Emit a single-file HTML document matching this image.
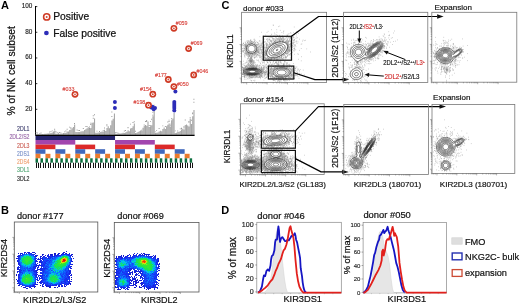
<!DOCTYPE html>
<html><head><meta charset="utf-8"><style>
html,body{margin:0;padding:0;background:#fff;}
body{width:520px;height:304px;overflow:hidden;}
svg{display:block;}
text{font-family:'Liberation Sans', Arial, sans-serif;}
</style></head><body>
<svg width="520" height="304" viewBox="0 0 520 304">
<rect width="520" height="304" fill="#fff"/>
<text x="1" y="9.2" font-size="11" fill="#000" text-anchor="start" font-weight="bold" >A</text>
<line x1="35.5" y1="6" x2="35.5" y2="135.5" stroke="#000" stroke-width="1" />
<line x1="35.5" y1="6.6" x2="37.3" y2="6.6" stroke="#000" stroke-width="0.8" />
<text x="32.3" y="7.9" font-size="6.4" fill="#222" text-anchor="end" font-weight="normal" stroke="#222" stroke-width="0.14" >100</text>
<line x1="35.5" y1="32.28" x2="37.3" y2="32.28" stroke="#000" stroke-width="0.8" />
<text x="32.3" y="33.58" font-size="6.4" fill="#222" text-anchor="end" font-weight="normal" stroke="#222" stroke-width="0.14" >80</text>
<line x1="35.5" y1="57.96" x2="37.3" y2="57.96" stroke="#000" stroke-width="0.8" />
<text x="32.3" y="59.26" font-size="6.4" fill="#222" text-anchor="end" font-weight="normal" stroke="#222" stroke-width="0.14" >60</text>
<line x1="35.5" y1="83.64" x2="37.3" y2="83.64" stroke="#000" stroke-width="0.8" />
<text x="32.3" y="84.94" font-size="6.4" fill="#222" text-anchor="end" font-weight="normal" stroke="#222" stroke-width="0.14" >40</text>
<line x1="35.5" y1="109.32" x2="37.3" y2="109.32" stroke="#000" stroke-width="0.8" />
<text x="32.3" y="110.62" font-size="6.4" fill="#222" text-anchor="end" font-weight="normal" stroke="#222" stroke-width="0.14" >20</text>
<text x="0" y="0" font-size="10.3" fill="#111" stroke="#111" stroke-width="0.23" text-anchor="middle" dominant-baseline="central" transform="translate(11.3,70.9) rotate(-90)">% of NK cell subset</text>
<path d="M35.58 134.3h1.08v0.6h-1.08zM36.82 134.3h1.08v0.6h-1.08zM38.07 134.28h1.08v0.62h-1.08zM39.31 134.27h1.08v0.63h-1.08zM40.55 134.23h1.08v0.67h-1.08zM41.79 134.09h1.08v0.81h-1.08zM43.04 134.15h1.08v0.75h-1.08zM44.28 133.82h1.08v1.08h-1.08zM45.52 133.63h1.08v1.27h-1.08zM46.77 133.6h1.08v1.3h-1.08zM48.01 133.51h1.08v1.39h-1.08zM49.25 133.31h1.08v1.59h-1.08zM50.5 133.09h1.08v1.81h-1.08zM51.74 132.51h1.08v2.39h-1.08zM52.98 131.53h1.08v3.38h-1.08zM54.22 130.4h1.08v4.5h-1.08zM55.47 133.7h1.08v1.2h-1.08zM56.71 133.7h1.08v1.2h-1.08zM57.95 133.66h1.08v1.24h-1.08zM59.2 133.63h1.08v1.27h-1.08zM60.44 133.51h1.08v1.39h-1.08zM61.68 133.48h1.08v1.42h-1.08zM62.93 132.93h1.08v1.97h-1.08zM64.17 133.07h1.08v1.83h-1.08zM65.41 132.68h1.08v2.22h-1.08zM66.65 131.41h1.08v3.49h-1.08zM67.9 131.41h1.08v3.49h-1.08zM69.14 129.93h1.08v4.97h-1.08zM70.38 129.62h1.08v5.28h-1.08zM71.63 128.28h1.08v6.62h-1.08zM72.87 127.03h1.08v7.88h-1.08zM74.11 124.4h1.08v10.5h-1.08zM75.36 132.1h1.08v2.8h-1.08zM76.6 132.09h1.08v2.81h-1.08zM77.84 132.01h1.08v2.89h-1.08zM79.08 131.93h1.08v2.97h-1.08zM80.33 131.57h1.08v3.33h-1.08zM81.57 131.32h1.08v3.58h-1.08zM82.81 131.37h1.08v3.53h-1.08zM84.06 130.1h1.08v4.8h-1.08zM85.3 129.17h1.08v5.73h-1.08zM86.54 128.31h1.08v6.59h-1.08zM87.78 128.26h1.08v6.64h-1.08zM89.03 128.93h1.08v5.97h-1.08zM90.27 127.97h1.08v6.93h-1.08zM91.51 122.8h1.08v12.1h-1.08zM92.76 122.53h1.08v12.38h-1.08zM94 118.4h1.08v16.5h-1.08zM95.24 132.7h1.08v2.2h-1.08zM96.49 132.68h1.08v2.22h-1.08zM97.73 132.61h1.08v2.29h-1.08zM98.97 132.41h1.08v2.49h-1.08zM100.21 132.01h1.08v2.89h-1.08zM101.46 131.39h1.08v3.51h-1.08zM102.7 131.65h1.08v3.25h-1.08zM103.94 129.73h1.08v5.17h-1.08zM105.19 130.98h1.08v3.92h-1.08zM106.43 127.88h1.08v7.02h-1.08zM107.67 126.24h1.08v8.66h-1.08zM108.92 128.28h1.08v6.62h-1.08zM110.16 125.34h1.08v9.56h-1.08zM111.4 120.53h1.08v14.37h-1.08zM112.64 118.78h1.08v16.12h-1.08zM113.89 113.4h1.08v21.5h-1.08zM115.13 133.7h1.08v1.2h-1.08zM116.37 133.69h1.08v1.21h-1.08zM117.62 133.66h1.08v1.24h-1.08zM118.86 133.6h1.08v1.3h-1.08zM120.1 133.39h1.08v1.51h-1.08zM121.34 133.32h1.08v1.58h-1.08zM122.59 132.79h1.08v2.11h-1.08zM123.83 133.07h1.08v1.83h-1.08zM125.07 132.38h1.08v2.52h-1.08zM126.32 131.76h1.08v3.14h-1.08zM127.56 130.22h1.08v4.68h-1.08zM128.8 131.17h1.08v3.73h-1.08zM130.05 128.61h1.08v6.29h-1.08zM131.29 127.98h1.08v6.92h-1.08zM132.53 126.28h1.08v8.62h-1.08zM133.77 123.4h1.08v11.5h-1.08zM135.02 132.9h1.08v2h-1.08zM136.26 132.7h1.08v2.2h-1.08zM137.5 132.11h1.08v2.79h-1.08zM138.75 131.34h1.08v3.56h-1.08zM139.99 130.57h1.08v4.33h-1.08zM141.23 131.04h1.08v3.86h-1.08zM142.48 127.87h1.08v7.03h-1.08zM143.72 126.91h1.08v7.99h-1.08zM144.96 125.1h1.08v9.8h-1.08zM146.2 125.65h1.08v9.25h-1.08zM147.45 121.49h1.08v13.41h-1.08zM148.69 126.91h1.08v7.99h-1.08zM149.93 126.17h1.08v8.73h-1.08zM151.18 125.36h1.08v9.54h-1.08zM152.42 116.15h1.08v18.75h-1.08zM153.66 109.9h1.08v25h-1.08zM154.91 132.9h1.08v2h-1.08zM156.15 132.67h1.08v2.23h-1.08zM157.39 132.43h1.08v2.47h-1.08zM158.63 131.5h1.08v3.4h-1.08zM159.88 130.78h1.08v4.12h-1.08zM161.12 131.25h1.08v3.65h-1.08zM162.36 128.93h1.08v5.97h-1.08zM163.61 127.41h1.08v7.49h-1.08zM164.85 129.11h1.08v5.79h-1.08zM166.09 126.33h1.08v8.57h-1.08zM167.33 124.71h1.08v10.19h-1.08zM168.58 123.58h1.08v11.32h-1.08zM169.82 126.49h1.08v8.41h-1.08zM171.06 120.23h1.08v14.67h-1.08zM172.31 118.4h1.08v16.5h-1.08zM173.55 112.9h1.08v22h-1.08zM174.79 133.1h1.08v1.8h-1.08zM176.04 132.77h1.08v2.13h-1.08zM177.28 132.1h1.08v2.8h-1.08zM178.52 131.81h1.08v3.09h-1.08zM179.76 131.1h1.08v3.8h-1.08zM181.01 130.12h1.08v4.78h-1.08zM182.25 128.76h1.08v6.14h-1.08zM183.49 129.52h1.08v5.38h-1.08zM184.74 124.91h1.08v9.99h-1.08zM185.98 124.62h1.08v10.28h-1.08zM187.22 125.47h1.08v9.43h-1.08zM188.47 126.39h1.08v8.51h-1.08zM189.71 118.54h1.08v16.36h-1.08zM190.95 124.01h1.08v10.89h-1.08zM192.19 116.15h1.08v18.75h-1.08zM193.44 109.9h1.08v25h-1.08z" fill="#a6a6a6"/>
<path d="M35.6 132.31h.9v.9h-.9zM36.84 132.56h.9v.9h-.9zM39.33 133.14h.9v.9h-.9zM40.57 132.49h.9v.9h-.9zM49.27 131.58h.9v.9h-.9zM50.52 130.97h.9v.9h-.9zM51.76 130.47h.9v.9h-.9zM54.24 128.75h.9v.9h-.9zM55.49 131.33h.9v.9h-.9zM56.73 132.24h.9v.9h-.9zM57.97 132.75h.9v.9h-.9zM59.22 132.11h.9v.9h-.9zM60.46 132.43h.9v.9h-.9zM64.19 131.47h.9v.9h-.9zM65.43 130.52h.9v.9h-.9zM66.67 128.83h.9v.9h-.9zM69.16 126.64h.9v.9h-.9zM70.4 127.13h.9v.9h-.9zM70.4 127.9h.9v.9h-.9zM74.13 122.98h.9v.9h-.9zM76.62 129.62h.9v.9h-.9zM77.86 130.22h.9v.9h-.9zM79.1 130.03h.9v.9h-.9zM82.83 127.98h.9v.9h-.9zM85.32 126.14h.9v.9h-.9zM86.56 126.06h.9v.9h-.9zM87.8 127.35h.9v.9h-.9zM89.05 126.57h.9v.9h-.9zM89.05 128h.9v.9h-.9zM90.29 122.65h.9v.9h-.9zM90.29 124.1h.9v.9h-.9zM92.78 117.86h.9v.9h-.9zM92.78 115.28h.9v.9h-.9zM94.02 114.35h.9v.9h-.9zM96.51 130.69h.9v.9h-.9zM98.99 131.06h.9v.9h-.9zM102.72 130.34h.9v.9h-.9zM103.96 127.61h.9v.9h-.9zM106.45 124.37h.9v.9h-.9zM106.45 125.47h.9v.9h-.9zM111.42 116h.9v.9h-.9zM111.42 111.51h.9v.9h-.9zM113.91 106.37h.9v.9h-.9zM115.15 132.3h.9v.9h-.9zM116.39 132.17h.9v.9h-.9zM117.64 132.77h.9v.9h-.9zM123.85 130.5h.9v.9h-.9zM125.09 130.09h.9v.9h-.9zM127.58 127.31h.9v.9h-.9zM127.58 127.08h.9v.9h-.9zM130.07 123.63h.9v.9h-.9zM132.55 122.01h.9v.9h-.9zM132.55 121.97h.9v.9h-.9zM133.79 121.32h.9v.9h-.9zM135.04 130.85h.9v.9h-.9zM141.25 129.73h.9v.9h-.9zM143.74 126h.9v.9h-.9zM143.74 124.5h.9v.9h-.9zM144.98 121.02h.9v.9h-.9zM146.22 120.12h.9v.9h-.9zM146.22 121.01h.9v.9h-.9zM148.71 125.11h.9v.9h-.9zM149.95 125.15h.9v.9h-.9zM149.95 120.91h.9v.9h-.9zM151.2 118.83h.9v.9h-.9zM152.44 114.81h.9v.9h-.9zM152.44 111.77h.9v.9h-.9zM153.68 104.74h.9v.9h-.9zM153.68 107.56h.9v.9h-.9zM154.92 131.38h.9v.9h-.9zM156.17 130.2h.9v.9h-.9zM158.65 128.11h.9v.9h-.9zM162.38 125.41h.9v.9h-.9zM164.87 126h.9v.9h-.9zM167.35 121.52h.9v.9h-.9zM168.6 121.04h.9v.9h-.9zM168.6 119.65h.9v.9h-.9zM169.84 125.15h.9v.9h-.9zM169.84 123.64h.9v.9h-.9zM171.08 118.28h.9v.9h-.9zM173.57 101.97h.9v.9h-.9zM174.81 130.4h.9v.9h-.9zM177.3 130.5h.9v.9h-.9zM179.78 128.38h.9v.9h-.9zM181.03 128.65h.9v.9h-.9zM181.03 127.76h.9v.9h-.9zM183.51 127.26h.9v.9h-.9zM183.51 125.95h.9v.9h-.9zM184.76 119.6h.9v.9h-.9zM188.49 121.08h.9v.9h-.9zM188.49 121.91h.9v.9h-.9zM189.73 117.13h.9v.9h-.9zM190.97 119.76h.9v.9h-.9zM192.21 113.33h.9v.9h-.9zM192.21 112.53h.9v.9h-.9zM193.46 101.76h.9v.9h-.9zM193.46 98.85h.9v.9h-.9z" fill="#909090"/>
<rect x="35.5" y="135.3" width="79.55" height="4.7" fill="#25256e" stroke="none" stroke-width="1" />
<rect x="35.5" y="140" width="39.77" height="4.6" fill="#a245ae" stroke="none" stroke-width="1" />
<rect x="115.05" y="140" width="39.77" height="4.6" fill="#a245ae" stroke="none" stroke-width="1" />
<rect x="35.5" y="144.6" width="19.89" height="4.6" fill="#dc2a2a" stroke="none" stroke-width="1" />
<rect x="75.28" y="144.6" width="19.89" height="4.6" fill="#dc2a2a" stroke="none" stroke-width="1" />
<rect x="115.05" y="144.6" width="19.89" height="4.6" fill="#dc2a2a" stroke="none" stroke-width="1" />
<rect x="154.82" y="144.6" width="19.89" height="4.6" fill="#dc2a2a" stroke="none" stroke-width="1" />
<rect x="35.5" y="149.2" width="9.94" height="4.6" fill="#4068bc" stroke="none" stroke-width="1" />
<rect x="55.39" y="149.2" width="9.94" height="4.6" fill="#4068bc" stroke="none" stroke-width="1" />
<rect x="75.28" y="149.2" width="9.94" height="4.6" fill="#4068bc" stroke="none" stroke-width="1" />
<rect x="95.16" y="149.2" width="9.94" height="4.6" fill="#4068bc" stroke="none" stroke-width="1" />
<rect x="115.05" y="149.2" width="9.94" height="4.6" fill="#4068bc" stroke="none" stroke-width="1" />
<rect x="134.94" y="149.2" width="9.94" height="4.6" fill="#4068bc" stroke="none" stroke-width="1" />
<rect x="154.82" y="149.2" width="9.94" height="4.6" fill="#4068bc" stroke="none" stroke-width="1" />
<rect x="174.71" y="149.2" width="9.94" height="4.6" fill="#4068bc" stroke="none" stroke-width="1" />
<rect x="35.5" y="153.8" width="4.97" height="4.5" fill="#ea7a2e" stroke="none" stroke-width="1" />
<rect x="45.44" y="153.8" width="4.97" height="4.5" fill="#ea7a2e" stroke="none" stroke-width="1" />
<rect x="55.39" y="153.8" width="4.97" height="4.5" fill="#ea7a2e" stroke="none" stroke-width="1" />
<rect x="65.33" y="153.8" width="4.97" height="4.5" fill="#ea7a2e" stroke="none" stroke-width="1" />
<rect x="75.28" y="153.8" width="4.97" height="4.5" fill="#ea7a2e" stroke="none" stroke-width="1" />
<rect x="85.22" y="153.8" width="4.97" height="4.5" fill="#ea7a2e" stroke="none" stroke-width="1" />
<rect x="95.16" y="153.8" width="4.97" height="4.5" fill="#ea7a2e" stroke="none" stroke-width="1" />
<rect x="105.11" y="153.8" width="4.97" height="4.5" fill="#ea7a2e" stroke="none" stroke-width="1" />
<rect x="115.05" y="153.8" width="4.97" height="4.5" fill="#ea7a2e" stroke="none" stroke-width="1" />
<rect x="124.99" y="153.8" width="4.97" height="4.5" fill="#ea7a2e" stroke="none" stroke-width="1" />
<rect x="134.94" y="153.8" width="4.97" height="4.5" fill="#ea7a2e" stroke="none" stroke-width="1" />
<rect x="144.88" y="153.8" width="4.97" height="4.5" fill="#ea7a2e" stroke="none" stroke-width="1" />
<rect x="154.82" y="153.8" width="4.97" height="4.5" fill="#ea7a2e" stroke="none" stroke-width="1" />
<rect x="164.77" y="153.8" width="4.97" height="4.5" fill="#ea7a2e" stroke="none" stroke-width="1" />
<rect x="174.71" y="153.8" width="4.97" height="4.5" fill="#ea7a2e" stroke="none" stroke-width="1" />
<rect x="184.66" y="153.8" width="4.97" height="4.5" fill="#ea7a2e" stroke="none" stroke-width="1" />
<rect x="35.5" y="158.3" width="2.49" height="4.4" fill="#0e7040" stroke="none" stroke-width="1" />
<rect x="40.47" y="158.3" width="2.49" height="4.4" fill="#0e7040" stroke="none" stroke-width="1" />
<rect x="45.44" y="158.3" width="2.49" height="4.4" fill="#0e7040" stroke="none" stroke-width="1" />
<rect x="50.42" y="158.3" width="2.49" height="4.4" fill="#0e7040" stroke="none" stroke-width="1" />
<rect x="55.39" y="158.3" width="2.49" height="4.4" fill="#0e7040" stroke="none" stroke-width="1" />
<rect x="60.36" y="158.3" width="2.49" height="4.4" fill="#0e7040" stroke="none" stroke-width="1" />
<rect x="65.33" y="158.3" width="2.49" height="4.4" fill="#0e7040" stroke="none" stroke-width="1" />
<rect x="70.3" y="158.3" width="2.49" height="4.4" fill="#0e7040" stroke="none" stroke-width="1" />
<rect x="75.28" y="158.3" width="2.49" height="4.4" fill="#0e7040" stroke="none" stroke-width="1" />
<rect x="80.25" y="158.3" width="2.49" height="4.4" fill="#0e7040" stroke="none" stroke-width="1" />
<rect x="85.22" y="158.3" width="2.49" height="4.4" fill="#0e7040" stroke="none" stroke-width="1" />
<rect x="90.19" y="158.3" width="2.49" height="4.4" fill="#0e7040" stroke="none" stroke-width="1" />
<rect x="95.16" y="158.3" width="2.49" height="4.4" fill="#0e7040" stroke="none" stroke-width="1" />
<rect x="100.13" y="158.3" width="2.49" height="4.4" fill="#0e7040" stroke="none" stroke-width="1" />
<rect x="105.11" y="158.3" width="2.49" height="4.4" fill="#0e7040" stroke="none" stroke-width="1" />
<rect x="110.08" y="158.3" width="2.49" height="4.4" fill="#0e7040" stroke="none" stroke-width="1" />
<rect x="115.05" y="158.3" width="2.49" height="4.4" fill="#0e7040" stroke="none" stroke-width="1" />
<rect x="120.02" y="158.3" width="2.49" height="4.4" fill="#0e7040" stroke="none" stroke-width="1" />
<rect x="124.99" y="158.3" width="2.49" height="4.4" fill="#0e7040" stroke="none" stroke-width="1" />
<rect x="129.97" y="158.3" width="2.49" height="4.4" fill="#0e7040" stroke="none" stroke-width="1" />
<rect x="134.94" y="158.3" width="2.49" height="4.4" fill="#0e7040" stroke="none" stroke-width="1" />
<rect x="139.91" y="158.3" width="2.49" height="4.4" fill="#0e7040" stroke="none" stroke-width="1" />
<rect x="144.88" y="158.3" width="2.49" height="4.4" fill="#0e7040" stroke="none" stroke-width="1" />
<rect x="149.85" y="158.3" width="2.49" height="4.4" fill="#0e7040" stroke="none" stroke-width="1" />
<rect x="154.82" y="158.3" width="2.49" height="4.4" fill="#0e7040" stroke="none" stroke-width="1" />
<rect x="159.8" y="158.3" width="2.49" height="4.4" fill="#0e7040" stroke="none" stroke-width="1" />
<rect x="164.77" y="158.3" width="2.49" height="4.4" fill="#0e7040" stroke="none" stroke-width="1" />
<rect x="169.74" y="158.3" width="2.49" height="4.4" fill="#0e7040" stroke="none" stroke-width="1" />
<rect x="174.71" y="158.3" width="2.49" height="4.4" fill="#0e7040" stroke="none" stroke-width="1" />
<rect x="179.68" y="158.3" width="2.49" height="4.4" fill="#0e7040" stroke="none" stroke-width="1" />
<rect x="184.66" y="158.3" width="2.49" height="4.4" fill="#0e7040" stroke="none" stroke-width="1" />
<rect x="189.63" y="158.3" width="2.49" height="4.4" fill="#0e7040" stroke="none" stroke-width="1" />
<rect x="36" y="162.7" width="1" height="5.3" fill="#111" stroke="none" stroke-width="1" />
<rect x="38" y="162.7" width="1" height="5.3" fill="#111" stroke="none" stroke-width="1" />
<rect x="40" y="162.7" width="1" height="5.3" fill="#111" stroke="none" stroke-width="1" />
<rect x="43" y="162.7" width="1" height="5.3" fill="#111" stroke="none" stroke-width="1" />
<rect x="45" y="162.7" width="1" height="5.3" fill="#111" stroke="none" stroke-width="1" />
<rect x="48" y="162.7" width="1" height="5.3" fill="#111" stroke="none" stroke-width="1" />
<rect x="50" y="162.7" width="1" height="5.3" fill="#111" stroke="none" stroke-width="1" />
<rect x="53" y="162.7" width="1" height="5.3" fill="#111" stroke="none" stroke-width="1" />
<rect x="55" y="162.7" width="1" height="5.3" fill="#111" stroke="none" stroke-width="1" />
<rect x="58" y="162.7" width="1" height="5.3" fill="#111" stroke="none" stroke-width="1" />
<rect x="60" y="162.7" width="1" height="5.3" fill="#111" stroke="none" stroke-width="1" />
<rect x="63" y="162.7" width="1" height="5.3" fill="#111" stroke="none" stroke-width="1" />
<rect x="65" y="162.7" width="1" height="5.3" fill="#111" stroke="none" stroke-width="1" />
<rect x="68" y="162.7" width="1" height="5.3" fill="#111" stroke="none" stroke-width="1" />
<rect x="70" y="162.7" width="1" height="5.3" fill="#111" stroke="none" stroke-width="1" />
<rect x="73" y="162.7" width="1" height="5.3" fill="#111" stroke="none" stroke-width="1" />
<rect x="75" y="162.7" width="1" height="5.3" fill="#111" stroke="none" stroke-width="1" />
<rect x="78" y="162.7" width="1" height="5.3" fill="#111" stroke="none" stroke-width="1" />
<rect x="80" y="162.7" width="1" height="5.3" fill="#111" stroke="none" stroke-width="1" />
<rect x="83" y="162.7" width="1" height="5.3" fill="#111" stroke="none" stroke-width="1" />
<rect x="85" y="162.7" width="1" height="5.3" fill="#111" stroke="none" stroke-width="1" />
<rect x="88" y="162.7" width="1" height="5.3" fill="#111" stroke="none" stroke-width="1" />
<rect x="90" y="162.7" width="1" height="5.3" fill="#111" stroke="none" stroke-width="1" />
<rect x="93" y="162.7" width="1" height="5.3" fill="#111" stroke="none" stroke-width="1" />
<rect x="95" y="162.7" width="1" height="5.3" fill="#111" stroke="none" stroke-width="1" />
<rect x="98" y="162.7" width="1" height="5.3" fill="#111" stroke="none" stroke-width="1" />
<rect x="100" y="162.7" width="1" height="5.3" fill="#111" stroke="none" stroke-width="1" />
<rect x="103" y="162.7" width="1" height="5.3" fill="#111" stroke="none" stroke-width="1" />
<rect x="105" y="162.7" width="1" height="5.3" fill="#111" stroke="none" stroke-width="1" />
<rect x="108" y="162.7" width="1" height="5.3" fill="#111" stroke="none" stroke-width="1" />
<rect x="110" y="162.7" width="1" height="5.3" fill="#111" stroke="none" stroke-width="1" />
<rect x="113" y="162.7" width="1" height="5.3" fill="#111" stroke="none" stroke-width="1" />
<rect x="115" y="162.7" width="1" height="5.3" fill="#111" stroke="none" stroke-width="1" />
<rect x="118" y="162.7" width="1" height="5.3" fill="#111" stroke="none" stroke-width="1" />
<rect x="120" y="162.7" width="1" height="5.3" fill="#111" stroke="none" stroke-width="1" />
<rect x="123" y="162.7" width="1" height="5.3" fill="#111" stroke="none" stroke-width="1" />
<rect x="125" y="162.7" width="1" height="5.3" fill="#111" stroke="none" stroke-width="1" />
<rect x="127" y="162.7" width="1" height="5.3" fill="#111" stroke="none" stroke-width="1" />
<rect x="130" y="162.7" width="1" height="5.3" fill="#111" stroke="none" stroke-width="1" />
<rect x="132" y="162.7" width="1" height="5.3" fill="#111" stroke="none" stroke-width="1" />
<rect x="135" y="162.7" width="1" height="5.3" fill="#111" stroke="none" stroke-width="1" />
<rect x="137" y="162.7" width="1" height="5.3" fill="#111" stroke="none" stroke-width="1" />
<rect x="140" y="162.7" width="1" height="5.3" fill="#111" stroke="none" stroke-width="1" />
<rect x="142" y="162.7" width="1" height="5.3" fill="#111" stroke="none" stroke-width="1" />
<rect x="145" y="162.7" width="1" height="5.3" fill="#111" stroke="none" stroke-width="1" />
<rect x="147" y="162.7" width="1" height="5.3" fill="#111" stroke="none" stroke-width="1" />
<rect x="150" y="162.7" width="1" height="5.3" fill="#111" stroke="none" stroke-width="1" />
<rect x="152" y="162.7" width="1" height="5.3" fill="#111" stroke="none" stroke-width="1" />
<rect x="155" y="162.7" width="1" height="5.3" fill="#111" stroke="none" stroke-width="1" />
<rect x="157" y="162.7" width="1" height="5.3" fill="#111" stroke="none" stroke-width="1" />
<rect x="160" y="162.7" width="1" height="5.3" fill="#111" stroke="none" stroke-width="1" />
<rect x="162" y="162.7" width="1" height="5.3" fill="#111" stroke="none" stroke-width="1" />
<rect x="165" y="162.7" width="1" height="5.3" fill="#111" stroke="none" stroke-width="1" />
<rect x="167" y="162.7" width="1" height="5.3" fill="#111" stroke="none" stroke-width="1" />
<rect x="170" y="162.7" width="1" height="5.3" fill="#111" stroke="none" stroke-width="1" />
<rect x="172" y="162.7" width="1" height="5.3" fill="#111" stroke="none" stroke-width="1" />
<rect x="175" y="162.7" width="1" height="5.3" fill="#111" stroke="none" stroke-width="1" />
<rect x="177" y="162.7" width="1" height="5.3" fill="#111" stroke="none" stroke-width="1" />
<rect x="180" y="162.7" width="1" height="5.3" fill="#111" stroke="none" stroke-width="1" />
<rect x="182" y="162.7" width="1" height="5.3" fill="#111" stroke="none" stroke-width="1" />
<rect x="185" y="162.7" width="1" height="5.3" fill="#111" stroke="none" stroke-width="1" />
<rect x="187" y="162.7" width="1" height="5.3" fill="#111" stroke="none" stroke-width="1" />
<rect x="190" y="162.7" width="1" height="5.3" fill="#111" stroke="none" stroke-width="1" />
<rect x="192" y="162.7" width="1" height="5.3" fill="#111" stroke="none" stroke-width="1" />
<line x1="35.5" y1="135.4" x2="194.6" y2="135.4" stroke="#000" stroke-width="1.3" />
<text x="29.5" y="131.15" font-size="6.3" fill="#404070" text-anchor="end" font-weight="normal" stroke="#404070" stroke-width="0.14" textLength="12.4" lengthAdjust="spacingAndGlyphs">2DL1</text>
<text x="29.5" y="139.35" font-size="6.3" fill="#9a6aaa" text-anchor="end" font-weight="normal" stroke="#9a6aaa" stroke-width="0.14" textLength="20.1" lengthAdjust="spacingAndGlyphs">2DL2/S2</text>
<text x="29.5" y="147.55" font-size="6.3" fill="#cc6258" text-anchor="end" font-weight="normal" stroke="#cc6258" stroke-width="0.14" textLength="12.4" lengthAdjust="spacingAndGlyphs">2DL3</text>
<text x="29.5" y="155.75" font-size="6.3" fill="#7890c8" text-anchor="end" font-weight="normal" stroke="#7890c8" stroke-width="0.14" textLength="12.4" lengthAdjust="spacingAndGlyphs">2DS1</text>
<text x="29.5" y="164.05" font-size="6.3" fill="#eea070" text-anchor="end" font-weight="normal" stroke="#eea070" stroke-width="0.14" textLength="12.4" lengthAdjust="spacingAndGlyphs">2DS4</text>
<text x="29.5" y="172.25" font-size="6.3" fill="#58aa7a" text-anchor="end" font-weight="normal" stroke="#58aa7a" stroke-width="0.14" textLength="12.4" lengthAdjust="spacingAndGlyphs">3DL1</text>
<text x="29.5" y="180.55" font-size="6.3" fill="#2a2a2a" text-anchor="end" font-weight="normal" stroke="#2a2a2a" stroke-width="0.14" textLength="12.4" lengthAdjust="spacingAndGlyphs">3DL2</text>
<circle cx="46.7" cy="16.9" r="3.9" fill="#cf3a24"/>
<circle cx="46.7" cy="16.9" r="2.34" fill="#fff"/>
<circle cx="46.7" cy="16.9" r="1.01" fill="#d64a36"/>
<text x="53.2" y="20.2" font-size="10.3" fill="#111" text-anchor="start" font-weight="normal" stroke="#111" stroke-width="0.23" >Positive</text>
<circle cx="46.4" cy="33.0" r="2.35" fill="#2d2db8"/>
<text x="53.2" y="36.6" font-size="10.3" fill="#111" text-anchor="start" font-weight="normal" stroke="#111" stroke-width="0.23" >False positive</text>
<circle cx="114.9" cy="101.9" r="2.0" fill="#2d2db8"/>
<circle cx="114.9" cy="108.1" r="2.0" fill="#2d2db8"/>
<circle cx="151.3" cy="107.6" r="2.0" fill="#2d2db8"/>
<circle cx="153.7" cy="109.2" r="2.0" fill="#2d2db8"/>
<circle cx="155" cy="108.0" r="2.0" fill="#2d2db8"/>
<circle cx="152.5" cy="106.8" r="2.0" fill="#2d2db8"/>
<circle cx="175.4" cy="91.4" r="2.0" fill="#2d2db8"/>
<circle cx="174.3" cy="102" r="2.0" fill="#2d2db8"/>
<circle cx="174.3" cy="104" r="2.0" fill="#2d2db8"/>
<circle cx="174.3" cy="106" r="2.0" fill="#2d2db8"/>
<circle cx="174.3" cy="108" r="2.0" fill="#2d2db8"/>
<circle cx="174.3" cy="110.6" r="2.0" fill="#2d2db8"/>
<circle cx="75" cy="94.3" r="3.4" fill="#cf3a24"/>
<circle cx="75" cy="94.3" r="1.7" fill="#fff"/>
<circle cx="75" cy="94.3" r="0.88" fill="#d64a36"/>
<text x="62.6" y="91.4" font-size="5.3" fill="#d8403a" text-anchor="start" font-weight="normal" stroke="#d8403a" stroke-width="0.12" >#033</text>
<circle cx="173.9" cy="28.3" r="3.4" fill="#cf3a24"/>
<circle cx="173.9" cy="28.3" r="1.7" fill="#fff"/>
<circle cx="173.9" cy="28.3" r="0.88" fill="#d64a36"/>
<text x="175.7" y="24.9" font-size="5.3" fill="#d8403a" text-anchor="start" font-weight="normal" stroke="#d8403a" stroke-width="0.12" >#059</text>
<circle cx="188.6" cy="48.6" r="3.4" fill="#cf3a24"/>
<circle cx="188.6" cy="48.6" r="1.7" fill="#fff"/>
<circle cx="188.6" cy="48.6" r="0.88" fill="#d64a36"/>
<text x="190.7" y="45.2" font-size="5.3" fill="#d8403a" text-anchor="start" font-weight="normal" stroke="#d8403a" stroke-width="0.12" >#069</text>
<circle cx="193.7" cy="74.9" r="3.4" fill="#cf3a24"/>
<circle cx="193.7" cy="74.9" r="1.7" fill="#fff"/>
<circle cx="193.7" cy="74.9" r="0.88" fill="#d64a36"/>
<text x="196.5" y="73.1" font-size="5.3" fill="#d8403a" text-anchor="start" font-weight="normal" stroke="#d8403a" stroke-width="0.12" >#046</text>
<circle cx="168.3" cy="79.5" r="3.4" fill="#cf3a24"/>
<circle cx="168.3" cy="79.5" r="1.7" fill="#fff"/>
<circle cx="168.3" cy="79.5" r="0.88" fill="#d64a36"/>
<text x="155" y="76.8" font-size="5.3" fill="#d8403a" text-anchor="start" font-weight="normal" stroke="#d8403a" stroke-width="0.12" >#177</text>
<circle cx="173.9" cy="86.6" r="3.4" fill="#cf3a24"/>
<circle cx="173.9" cy="86.6" r="1.7" fill="#fff"/>
<circle cx="173.9" cy="86.6" r="0.88" fill="#d64a36"/>
<text x="176.9" y="86" font-size="5.3" fill="#d8403a" text-anchor="start" font-weight="normal" stroke="#d8403a" stroke-width="0.12" >#050</text>
<circle cx="152.8" cy="94.2" r="3.4" fill="#cf3a24"/>
<circle cx="152.8" cy="94.2" r="1.7" fill="#fff"/>
<circle cx="152.8" cy="94.2" r="0.88" fill="#d64a36"/>
<text x="140" y="91.1" font-size="5.3" fill="#d8403a" text-anchor="start" font-weight="normal" stroke="#d8403a" stroke-width="0.12" >#154</text>
<circle cx="148.5" cy="105.2" r="3.4" fill="#cf3a24"/>
<circle cx="148.5" cy="105.2" r="1.7" fill="#fff"/>
<circle cx="148.5" cy="105.2" r="0.88" fill="#d64a36"/>
<text x="133.5" y="103.6" font-size="5.3" fill="#d8403a" text-anchor="start" font-weight="normal" stroke="#d8403a" stroke-width="0.12" >#198</text>
<text x="1" y="214.2" font-size="11" fill="#000" text-anchor="start" font-weight="bold" >B</text>
<rect x="14.3" y="222" width="83.5" height="70" fill="none" stroke="#555" stroke-width="0.8" />
<path d="M19.31 292v2M14.3 287.8h-2M25.34 292v1.1M14.3 282.74h-1.1M28.87 292v1.1M14.3 279.78h-1.1M31.38 292v1.1M14.3 277.69h-1.1M33.32 292v1.1M14.3 276.06h-1.1M34.9 292v1.1M14.3 274.73h-1.1M36.25 292v1.1M14.3 273.6h-1.1M37.41 292v1.1M14.3 272.63h-1.1M38.43 292v1.1M14.3 271.77h-1.1M39.35 292v2M14.3 271h-2M45.38 292v1.1M14.3 265.94h-1.1M48.91 292v1.1M14.3 262.98h-1.1M51.42 292v1.1M14.3 260.89h-1.1M53.36 292v1.1M14.3 259.26h-1.1M54.94 292v1.1M14.3 257.93h-1.1M56.29 292v1.1M14.3 256.8h-1.1M57.45 292v1.1M14.3 255.83h-1.1M58.47 292v1.1M14.3 254.97h-1.1M59.39 292v2M14.3 254.2h-2M65.42 292v1.1M14.3 249.14h-1.1M68.95 292v1.1M14.3 246.18h-1.1M71.46 292v1.1M14.3 244.09h-1.1M73.4 292v1.1M14.3 242.46h-1.1M74.98 292v1.1M14.3 241.13h-1.1M76.33 292v1.1M14.3 240h-1.1M77.49 292v1.1M14.3 239.03h-1.1M78.51 292v1.1M14.3 238.17h-1.1M79.43 292v2M14.3 237.4h-2M14.3 292v1.1M14.3 292h-1.1M15.97 292v1.1M14.3 290.6h-1.1M17.64 292v1.1M14.3 289.2h-1.1" stroke="#555" stroke-width="0.45" fill="none"/>
<path d="M66 251h1v1h-1zM64 252h1v1h-1zM55 253h1v1h-1z" fill="rgb(20, 24, 198)"/>
<path d="M24 252h1v1h-1zM58 253h1v1h-1zM40 276h1v1h-1z" fill="rgb(22, 32, 213)"/>
<path d="M25 252h1v1h-1zM71 255h1v1h-1zM48 256h1v1h-1zM40 282h1v1h-1zM36 284h1v1h-1zM70 284h1v1h-1zM19 285h1v1h-1zM43 286h1v1h-1zM65 286h1v1h-1zM30 287h1v1h-1z" fill="rgb(22, 32, 212)"/>
<path d="M27 252h1v1h-1zM52 258h1v1h-1zM71 259h1v1h-1zM45 263h1v1h-1zM19 265h1v1h-1zM70 267h1v1h-1zM43 268h1v1h-1zM65 280h1v1h-1zM18 281h1v1h-1zM29 286h1v1h-1z" fill="rgb(24, 46, 239)"/>
<path d="M28 252h1v1h-1zM45 255h1v1h-1zM37 263h1v1h-1zM37 282h1v1h-1zM49 286h1v1h-1zM23 287h1v1h-1z" fill="rgb(22, 33, 214)"/>
<path d="M29 252h1v1h-1zM54 254h1v1h-1zM17 256h1v1h-1zM36 275h1v1h-1zM49 287h1v1h-1z" fill="rgb(21, 27, 203)"/>
<path d="M32 252h1v1h-1zM71 268h1v1h-1zM16 274h1v1h-1z" fill="rgb(21, 27, 204)"/>
<path d="M33 252h1v1h-1zM51 254h1v1h-1z" fill="rgb(21, 27, 202)"/>
<path d="M34 252h1v1h-1z" fill="rgb(21, 26, 202)"/>
<path d="M63 252h1v1h-1zM40 261h1v1h-1zM38 266h1v1h-1zM71 277h1v1h-1zM17 283h1v1h-1zM48 286h1v1h-1z" fill="rgb(21, 28, 205)"/>
<path d="M18 253h1v1h-1zM59 253h1v1h-1zM24 287h1v1h-1zM34 287h1v1h-1z" fill="rgb(20, 25, 200)"/>
<path d="M20 253h1v1h-1zM48 254h1v1h-1zM55 254h1v1h-1zM38 265h1v1h-1zM34 286h1v1h-1z" fill="rgb(22, 35, 217)"/>
<path d="M21 253h1v1h-1zM36 256h1v1h-1z" fill="rgb(21, 28, 206)"/>
<path d="M22 253h1v1h-1zM29 253h1v1h-1zM30 253h1v1h-1zM31 253h1v1h-1zM47 256h1v1h-1zM20 266h1v1h-1zM69 267h1v1h-1zM68 268h1v1h-1zM20 270h1v1h-1zM35 270h1v1h-1zM42 274h1v1h-1zM67 276h1v1h-1zM64 279h1v1h-1zM42 280h1v1h-1zM43 280h1v1h-1zM47 284h1v1h-1zM31 286h1v1h-1z" fill="rgb(24, 49, 244)"/>
<path d="M24 253h1v1h-1zM29 254h1v1h-1zM20 255h1v1h-1zM58 256h1v1h-1zM69 256h1v1h-1zM44 263h1v1h-1zM45 279h1v1h-1zM22 284h1v1h-1z" fill="rgb(22, 62, 246)"/>
<path d="M26 253h1v1h-1zM36 255h1v1h-1zM48 257h1v1h-1zM71 264h1v1h-1zM17 267h1v1h-1zM19 270h1v1h-1zM17 272h1v1h-1zM42 275h1v1h-1zM71 275h1v1h-1zM18 277h1v1h-1zM37 277h1v1h-1zM58 286h1v1h-1z" fill="rgb(22, 36, 220)"/>
<path d="M28 253h1v1h-1zM44 264h1v1h-1zM35 267h1v1h-1zM37 267h1v1h-1zM20 269h1v1h-1zM43 272h1v1h-1zM35 274h1v1h-1zM69 274h1v1h-1zM69 276h1v1h-1zM42 278h1v1h-1zM36 279h1v1h-1zM70 281h1v1h-1zM43 283h1v1h-1zM67 284h1v1h-1z" fill="rgb(23, 43, 233)"/>
<path d="M35 253h1v1h-1zM72 254h1v1h-1zM16 275h1v1h-1zM71 279h1v1h-1zM54 287h1v1h-1z" fill="rgb(20, 20, 190)"/>
<path d="M54 253h1v1h-1z" fill="rgb(20, 20, 191)"/>
<path d="M62 253h1v1h-1zM39 259h1v1h-1zM40 259h1v1h-1zM35 261h1v1h-1zM36 261h1v1h-1zM36 265h1v1h-1zM39 269h1v1h-1zM18 271h1v1h-1zM36 272h1v1h-1zM18 274h1v1h-1zM64 284h1v1h-1zM50 285h1v1h-1zM31 288h1v1h-1z" fill="rgb(22, 37, 222)"/>
<path d="M63 253h1v1h-1zM19 255h1v1h-1zM19 256h1v1h-1zM54 256h1v1h-1zM17 258h1v1h-1zM17 261h1v1h-1zM39 261h1v1h-1zM42 282h1v1h-1zM61 282h1v1h-1zM65 282h1v1h-1zM47 286h1v1h-1z" fill="rgb(23, 39, 225)"/>
<path d="M65 253h1v1h-1zM40 269h1v1h-1zM41 273h1v1h-1zM42 273h1v1h-1zM18 276h1v1h-1zM18 280h1v1h-1zM17 281h1v1h-1z" fill="rgb(23, 42, 230)"/>
<path d="M66 253h1v1h-1zM40 256h1v1h-1zM72 256h1v1h-1zM70 271h1v1h-1zM57 287h1v1h-1z" fill="rgb(21, 31, 210)"/>
<path d="M69 253h1v1h-1zM37 255h1v1h-1zM72 264h1v1h-1zM25 287h1v1h-1z" fill="rgb(22, 34, 216)"/>
<path d="M20 254h1v1h-1zM52 255h1v1h-1zM57 255h1v1h-1zM37 259h1v1h-1zM21 270h1v1h-1zM37 278h1v1h-1zM39 278h1v1h-1zM67 279h1v1h-1zM41 281h1v1h-1zM60 284h1v1h-1zM45 285h1v1h-1zM49 285h1v1h-1zM55 285h1v1h-1zM58 285h1v1h-1z" fill="rgb(23, 40, 227)"/>
<path d="M22 254h1v1h-1zM56 256h1v1h-1zM18 260h1v1h-1zM45 262h1v1h-1zM43 264h1v1h-1zM43 265h1v1h-1zM70 266h1v1h-1zM19 267h1v1h-1zM31 270h1v1h-1zM46 275h1v1h-1zM69 279h1v1h-1zM68 282h1v1h-1zM55 284h1v1h-1zM26 286h1v1h-1z" fill="rgb(24, 46, 238)"/>
<path d="M23 254h1v1h-1zM70 261h1v1h-1zM33 263h1v1h-1zM26 267h1v1h-1zM23 268h1v1h-1zM30 269h1v1h-1zM33 272h1v1h-1zM50 283h1v1h-1zM58 283h1v1h-1z" fill="rgb(15, 94, 251)"/>
<path d="M24 254h1v1h-1zM49 262h1v1h-1zM30 267h1v1h-1zM34 273h1v1h-1zM34 275h1v1h-1zM65 277h1v1h-1zM62 281h1v1h-1zM45 283h1v1h-1z" fill="rgb(20, 70, 247)"/>
<path d="M25 254h1v1h-1zM33 259h1v1h-1zM67 266h1v1h-1zM51 268h1v1h-1zM23 272h1v1h-1z" fill="rgb(8, 128, 252)"/>
<path d="M26 254h1v1h-1zM20 264h1v1h-1zM21 267h1v1h-1zM66 270h1v1h-1zM63 271h1v1h-1zM48 273h1v1h-1zM60 273h1v1h-1zM45 276h1v1h-1zM27 285h1v1h-1z" fill="rgb(18, 80, 249)"/>
<path d="M27 254h1v1h-1zM53 257h1v1h-1zM32 258h1v1h-1zM22 274h1v1h-1z" fill="rgb(6, 151, 247)"/>
<path d="M28 254h1v1h-1zM34 281h1v1h-1zM48 281h1v1h-1zM50 282h1v1h-1zM30 283h1v1h-1z" fill="rgb(7, 142, 249)"/>
<path d="M30 254h1v1h-1zM46 259h1v1h-1zM42 263h1v1h-1zM67 268h1v1h-1zM27 269h1v1h-1zM47 274h1v1h-1zM64 278h1v1h-1zM45 281h1v1h-1zM57 283h1v1h-1zM31 285h1v1h-1z" fill="rgb(18, 78, 249)"/>
<path d="M31 254h1v1h-1zM33 255h1v1h-1zM45 261h1v1h-1zM34 264h1v1h-1zM64 275h1v1h-1zM43 279h1v1h-1z" fill="rgb(22, 61, 246)"/>
<path d="M32 254h1v1h-1zM57 254h1v1h-1zM19 271h1v1h-1zM69 280h1v1h-1zM52 285h1v1h-1z" fill="rgb(23, 41, 230)"/>
<path d="M33 254h1v1h-1zM63 254h1v1h-1zM18 255h1v1h-1zM48 255h1v1h-1zM59 255h1v1h-1zM60 255h1v1h-1zM51 256h1v1h-1zM46 261h1v1h-1zM44 262h1v1h-1zM41 263h1v1h-1zM43 263h1v1h-1zM42 277h1v1h-1zM68 278h1v1h-1zM69 278h1v1h-1zM19 283h1v1h-1z" fill="rgb(24, 47, 240)"/>
<path d="M34 254h1v1h-1zM38 258h1v1h-1zM36 264h1v1h-1zM33 267h1v1h-1zM44 268h1v1h-1zM36 273h1v1h-1zM41 278h1v1h-1zM66 278h1v1h-1zM37 279h1v1h-1zM41 280h1v1h-1zM35 282h1v1h-1zM68 283h1v1h-1zM20 284h1v1h-1zM59 284h1v1h-1zM66 285h1v1h-1z" fill="rgb(23, 42, 231)"/>
<path d="M42 254h1v1h-1zM36 270h1v1h-1zM42 286h1v1h-1z" fill="rgb(20, 24, 197)"/>
<path d="M43 254h1v1h-1zM73 258h1v1h-1zM27 288h1v1h-1z" fill="rgb(21, 30, 208)"/>
<path d="M50 254h1v1h-1zM41 262h1v1h-1zM37 265h1v1h-1zM17 271h1v1h-1zM36 271h1v1h-1zM16 279h1v1h-1zM32 286h1v1h-1z" fill="rgb(21, 29, 207)"/>
<path d="M52 254h1v1h-1zM56 255h1v1h-1zM38 275h1v1h-1zM22 285h1v1h-1z" fill="rgb(23, 40, 226)"/>
<path d="M58 254h1v1h-1zM42 255h1v1h-1zM42 257h1v1h-1zM36 258h1v1h-1zM40 260h1v1h-1zM35 263h1v1h-1zM40 265h1v1h-1zM34 266h1v1h-1zM67 281h1v1h-1zM53 285h1v1h-1zM21 286h1v1h-1zM33 286h1v1h-1z" fill="rgb(23, 41, 229)"/>
<path d="M61 254h1v1h-1zM18 256h1v1h-1zM71 260h1v1h-1zM36 266h1v1h-1zM40 268h1v1h-1zM38 280h1v1h-1zM64 285h1v1h-1zM62 286h1v1h-1zM26 288h1v1h-1z" fill="rgb(22, 33, 215)"/>
<path d="M62 254h1v1h-1zM70 255h1v1h-1zM42 262h1v1h-1zM42 268h1v1h-1zM19 269h1v1h-1zM44 269h1v1h-1zM68 269h1v1h-1zM19 274h1v1h-1zM36 274h1v1h-1zM66 274h1v1h-1zM67 274h1v1h-1zM18 278h1v1h-1zM19 280h1v1h-1zM45 284h1v1h-1zM56 284h1v1h-1zM65 284h1v1h-1zM29 287h1v1h-1z" fill="rgb(24, 44, 234)"/>
<path d="M64 254h1v1h-1zM69 255h1v1h-1zM48 260h1v1h-1zM35 262h1v1h-1zM35 264h1v1h-1zM20 265h1v1h-1zM62 276h1v1h-1zM18 279h1v1h-1zM65 279h1v1h-1zM64 280h1v1h-1zM65 281h1v1h-1zM24 285h1v1h-1z" fill="rgb(24, 49, 243)"/>
<path d="M65 254h1v1h-1zM19 260h1v1h-1zM51 264h1v1h-1zM20 267h1v1h-1zM22 272h1v1h-1zM20 273h1v1h-1zM63 274h1v1h-1zM44 279h1v1h-1z" fill="rgb(20, 69, 247)"/>
<path d="M66 254h1v1h-1zM51 270h1v1h-1zM45 272h1v1h-1zM67 272h1v1h-1zM63 273h1v1h-1zM19 276h1v1h-1zM19 278h1v1h-1zM19 279h1v1h-1zM46 282h1v1h-1z" fill="rgb(22, 63, 246)"/>
<path d="M67 254h1v1h-1zM49 258h1v1h-1zM47 260h1v1h-1zM45 267h1v1h-1zM33 270h1v1h-1zM19 275h1v1h-1zM65 278h1v1h-1zM42 279h1v1h-1zM63 283h1v1h-1zM67 283h1v1h-1zM33 284h1v1h-1zM62 285h1v1h-1zM30 286h1v1h-1z" fill="rgb(24, 48, 241)"/>
<path d="M68 254h1v1h-1zM21 255h1v1h-1zM69 265h1v1h-1zM42 270h1v1h-1zM68 273h1v1h-1zM44 275h1v1h-1zM67 275h1v1h-1zM68 276h1v1h-1zM66 280h1v1h-1zM62 283h1v1h-1zM68 284h1v1h-1zM34 285h1v1h-1z" fill="rgb(24, 45, 237)"/>
<path d="M69 254h1v1h-1zM68 255h1v1h-1zM35 258h1v1h-1zM50 258h1v1h-1zM18 264h1v1h-1zM41 264h1v1h-1zM43 266h1v1h-1zM34 267h1v1h-1zM45 268h1v1h-1zM41 269h1v1h-1zM43 270h1v1h-1zM66 272h1v1h-1zM19 277h1v1h-1zM41 277h1v1h-1zM18 282h1v1h-1zM27 286h1v1h-1zM28 286h1v1h-1z" fill="rgb(24, 45, 236)"/>
<path d="M71 254h1v1h-1zM47 255h1v1h-1zM42 258h1v1h-1zM48 258h1v1h-1zM71 258h1v1h-1zM17 260h1v1h-1zM36 260h1v1h-1zM18 262h1v1h-1zM39 265h1v1h-1zM41 265h1v1h-1zM18 268h1v1h-1zM37 268h1v1h-1zM34 271h1v1h-1zM39 277h1v1h-1zM37 280h1v1h-1z" fill="rgb(23, 38, 224)"/>
<path d="M22 255h1v1h-1zM48 264h1v1h-1zM69 264h1v1h-1zM26 268h1v1h-1zM32 268h1v1h-1zM23 271h1v1h-1zM47 272h1v1h-1zM29 273h1v1h-1zM43 278h1v1h-1z" fill="rgb(17, 84, 249)"/>
<path d="M23 255h1v1h-1zM20 256h1v1h-1zM53 258h1v1h-1zM48 263h1v1h-1zM49 263h1v1h-1zM34 265h1v1h-1zM48 265h1v1h-1zM44 267h1v1h-1zM21 269h1v1h-1zM22 269h1v1h-1zM48 270h1v1h-1zM63 276h1v1h-1z" fill="rgb(16, 89, 250)"/>
<path d="M24 255h1v1h-1zM25 273h1v1h-1zM26 274h1v1h-1z" fill="rgb(0, 199, 235)"/>
<path d="M25 255h1v1h-1zM57 259h1v1h-1zM24 265h1v1h-1z" fill="rgb(3, 204, 207)"/>
<path d="M26 255h1v1h-1zM69 261h1v1h-1zM62 268h1v1h-1z" fill="rgb(0, 196, 235)"/>
<path d="M27 255h1v1h-1zM55 282h1v1h-1z" fill="rgb(0, 192, 236)"/>
<path d="M28 255h1v1h-1zM21 279h1v1h-1z" fill="rgb(1, 201, 227)"/>
<path d="M29 255h1v1h-1zM49 264h1v1h-1zM22 265h1v1h-1zM59 272h1v1h-1zM46 280h1v1h-1z" fill="rgb(8, 129, 252)"/>
<path d="M30 255h1v1h-1zM51 258h1v1h-1zM67 269h1v1h-1zM55 271h1v1h-1zM48 275h1v1h-1z" fill="rgb(10, 115, 254)"/>
<path d="M31 255h1v1h-1zM44 260h1v1h-1zM19 261h1v1h-1zM50 262h1v1h-1zM33 265h1v1h-1zM66 269h1v1h-1zM35 280h1v1h-1z" fill="rgb(16, 90, 250)"/>
<path d="M32 255h1v1h-1zM56 257h1v1h-1zM25 267h1v1h-1zM31 271h1v1h-1zM32 275h1v1h-1z" fill="rgb(13, 105, 252)"/>
<path d="M35 255h1v1h-1zM69 282h1v1h-1zM50 286h1v1h-1z" fill="rgb(22, 34, 215)"/>
<path d="M50 255h1v1h-1zM51 255h1v1h-1zM35 256h1v1h-1zM17 268h1v1h-1zM41 268h1v1h-1zM69 271h1v1h-1zM70 272h1v1h-1zM69 273h1v1h-1zM40 278h1v1h-1zM42 285h1v1h-1zM47 285h1v1h-1zM56 285h1v1h-1z" fill="rgb(22, 35, 218)"/>
<path d="M54 255h1v1h-1zM44 256h1v1h-1zM38 276h1v1h-1zM46 285h1v1h-1z" fill="rgb(22, 37, 221)"/>
<path d="M55 255h1v1h-1zM46 257h1v1h-1zM18 261h1v1h-1zM19 263h1v1h-1zM70 275h1v1h-1z" fill="rgb(23, 41, 228)"/>
<path d="M58 255h1v1h-1zM18 266h1v1h-1zM41 267h1v1h-1zM21 272h1v1h-1zM35 273h1v1h-1zM41 275h1v1h-1zM42 281h1v1h-1zM47 282h1v1h-1zM66 284h1v1h-1z" fill="rgb(23, 57, 246)"/>
<path d="M61 255h1v1h-1zM34 259h1v1h-1zM48 262h1v1h-1zM45 266h1v1h-1zM31 268h1v1h-1zM67 273h1v1h-1zM66 281h1v1h-1zM45 282h1v1h-1zM62 282h1v1h-1z" fill="rgb(19, 73, 248)"/>
<path d="M62 255h1v1h-1zM66 255h1v1h-1zM47 262h1v1h-1z" fill="rgb(14, 97, 251)"/>
<path d="M63 255h1v1h-1zM48 259h1v1h-1zM46 274h1v1h-1zM33 275h1v1h-1zM21 282h1v1h-1zM30 284h1v1h-1z" fill="rgb(8, 135, 251)"/>
<path d="M64 255h1v1h-1zM31 257h1v1h-1zM52 266h1v1h-1zM64 267h1v1h-1z" fill="rgb(1, 184, 238)"/>
<path d="M65 255h1v1h-1zM23 263h1v1h-1z" fill="rgb(5, 206, 197)"/>
<path d="M67 255h1v1h-1zM53 259h1v1h-1zM50 261h1v1h-1zM20 263h1v1h-1zM66 266h1v1h-1zM32 272h1v1h-1zM48 272h1v1h-1zM61 274h1v1h-1zM63 282h1v1h-1zM20 283h1v1h-1z" fill="rgb(14, 98, 251)"/>
<path d="M21 256h1v1h-1zM51 269h1v1h-1zM32 276h1v1h-1zM52 282h1v1h-1z" fill="rgb(2, 179, 240)"/>
<path d="M22 256h1v1h-1zM34 261h1v1h-1zM69 263h1v1h-1zM49 267h1v1h-1zM50 271h1v1h-1zM21 275h1v1h-1zM61 278h1v1h-1zM58 282h1v1h-1zM56 283h1v1h-1z" fill="rgb(11, 113, 254)"/>
<path d="M23 256h1v1h-1zM25 257h1v1h-1zM32 261h1v1h-1zM55 277h1v1h-1z" fill="rgb(15, 219, 121)"/>
<path d="M24 256h1v1h-1z" fill="rgb(9, 211, 165)"/>
<path d="M25 256h1v1h-1zM54 268h1v1h-1z" fill="rgb(5, 206, 196)"/>
<path d="M26 256h1v1h-1zM67 257h1v1h-1zM61 266h1v1h-1z" fill="rgb(25, 226, 83)"/>
<path d="M27 256h1v1h-1zM29 261h1v1h-1zM60 266h1v1h-1z" fill="rgb(27, 226, 81)"/>
<path d="M28 256h1v1h-1zM29 263h1v1h-1zM54 265h1v1h-1zM55 266h1v1h-1zM27 275h1v1h-1zM50 277h1v1h-1zM55 280h1v1h-1z" fill="rgb(22, 225, 86)"/>
<path d="M29 256h1v1h-1z" fill="rgb(11, 214, 151)"/>
<path d="M30 256h1v1h-1zM32 260h1v1h-1zM31 262h1v1h-1zM56 275h1v1h-1zM29 276h1v1h-1zM23 281h1v1h-1z" fill="rgb(20, 225, 89)"/>
<path d="M31 256h1v1h-1zM49 268h1v1h-1z" fill="rgb(4, 167, 243)"/>
<path d="M32 256h1v1h-1zM58 280h1v1h-1z" fill="rgb(5, 155, 246)"/>
<path d="M33 256h1v1h-1zM48 269h1v1h-1zM32 273h1v1h-1z" fill="rgb(11, 110, 253)"/>
<path d="M34 256h1v1h-1zM44 265h1v1h-1zM43 271h1v1h-1zM35 283h1v1h-1zM50 284h1v1h-1z" fill="rgb(24, 47, 241)"/>
<path d="M41 256h1v1h-1zM38 259h1v1h-1zM35 266h1v1h-1zM39 275h1v1h-1zM68 277h1v1h-1zM17 280h1v1h-1zM18 283h1v1h-1zM35 284h1v1h-1zM61 285h1v1h-1zM55 287h1v1h-1z" fill="rgb(23, 38, 223)"/>
<path d="M43 256h1v1h-1zM38 269h1v1h-1zM37 272h1v1h-1zM35 286h1v1h-1z" fill="rgb(21, 30, 209)"/>
<path d="M49 256h1v1h-1zM50 256h1v1h-1zM19 264h1v1h-1zM68 266h1v1h-1zM68 270h1v1h-1zM20 272h1v1h-1z" fill="rgb(24, 44, 235)"/>
<path d="M52 256h1v1h-1zM37 270h1v1h-1zM33 285h1v1h-1zM61 286h1v1h-1z" fill="rgb(22, 36, 219)"/>
<path d="M53 256h1v1h-1zM46 268h1v1h-1zM35 275h1v1h-1zM36 276h1v1h-1zM42 276h1v1h-1zM63 281h1v1h-1zM64 281h1v1h-1zM68 281h1v1h-1zM44 283h1v1h-1zM51 283h1v1h-1zM43 284h1v1h-1zM32 285h1v1h-1z" fill="rgb(24, 47, 239)"/>
<path d="M55 256h1v1h-1zM57 256h1v1h-1zM55 257h1v1h-1zM45 259h1v1h-1zM47 261h1v1h-1zM46 265h1v1h-1zM27 268h1v1h-1zM24 270h1v1h-1zM46 272h1v1h-1zM43 277h1v1h-1zM34 283h1v1h-1z" fill="rgb(19, 76, 248)"/>
<path d="M59 256h1v1h-1zM48 266h1v1h-1zM24 267h1v1h-1zM47 267h1v1h-1zM28 269h1v1h-1zM57 284h1v1h-1z" fill="rgb(13, 103, 252)"/>
<path d="M60 256h1v1h-1zM45 265h1v1h-1zM65 268h1v1h-1zM31 269h1v1h-1zM63 272h1v1h-1zM64 272h1v1h-1zM47 275h1v1h-1zM20 281h1v1h-1z" fill="rgb(17, 85, 250)"/>
<path d="M61 256h1v1h-1zM55 260h1v1h-1zM53 261h1v1h-1z" fill="rgb(1, 189, 237)"/>
<path d="M62 256h1v1h-1zM61 268h1v1h-1zM30 277h1v1h-1zM32 277h1v1h-1z" fill="rgb(14, 217, 133)"/>
<path d="M63 256h1v1h-1zM57 268h1v1h-1z" fill="rgb(21, 225, 88)"/>
<path d="M64 256h1v1h-1zM30 261h1v1h-1zM63 264h1v1h-1z" fill="rgb(38, 229, 66)"/>
<path d="M65 256h1v1h-1zM29 257h1v1h-1zM65 264h1v1h-1zM53 275h1v1h-1zM25 279h1v1h-1z" fill="rgb(30, 227, 76)"/>
<path d="M66 256h1v1h-1zM58 266h1v1h-1zM29 275h1v1h-1z" fill="rgb(25, 226, 82)"/>
<path d="M67 256h1v1h-1zM26 273h1v1h-1z" fill="rgb(9, 211, 169)"/>
<path d="M68 256h1v1h-1zM66 265h1v1h-1z" fill="rgb(2, 203, 217)"/>
<path d="M70 256h1v1h-1zM18 257h1v1h-1zM20 271h1v1h-1z" fill="rgb(24, 45, 235)"/>
<path d="M19 257h1v1h-1zM70 257h1v1h-1zM42 264h1v1h-1zM47 266h1v1h-1zM35 268h1v1h-1zM65 273h1v1h-1zM61 281h1v1h-1zM61 284h1v1h-1zM54 285h1v1h-1z" fill="rgb(22, 60, 246)"/>
<path d="M20 257h1v1h-1zM49 266h1v1h-1zM33 282h1v1h-1zM31 284h1v1h-1z" fill="rgb(10, 117, 254)"/>
<path d="M21 257h1v1h-1zM55 273h1v1h-1zM26 284h1v1h-1z" fill="rgb(4, 162, 244)"/>
<path d="M22 257h1v1h-1zM68 262h1v1h-1zM60 269h1v1h-1zM31 275h1v1h-1zM33 278h1v1h-1zM31 282h1v1h-1z" fill="rgb(0, 193, 236)"/>
<path d="M23 257h1v1h-1zM51 276h1v1h-1z" fill="rgb(15, 219, 122)"/>
<path d="M24 257h1v1h-1zM31 258h1v1h-1zM60 258h1v1h-1zM29 262h1v1h-1zM64 264h1v1h-1zM56 279h1v1h-1zM51 280h1v1h-1zM52 280h1v1h-1zM22 281h1v1h-1zM30 281h1v1h-1z" fill="rgb(28, 227, 79)"/>
<path d="M26 257h1v1h-1z" fill="rgb(45, 231, 58)"/>
<path d="M27 257h1v1h-1zM59 266h1v1h-1z" fill="rgb(32, 228, 73)"/>
<path d="M28 257h1v1h-1zM30 260h1v1h-1zM30 262h1v1h-1zM54 278h1v1h-1zM30 279h1v1h-1z" fill="rgb(31, 227, 75)"/>
<path d="M30 257h1v1h-1z" fill="rgb(19, 223, 96)"/>
<path d="M32 257h1v1h-1zM33 258h1v1h-1zM21 281h1v1h-1z" fill="rgb(3, 175, 241)"/>
<path d="M33 257h1v1h-1zM63 268h1v1h-1zM28 273h1v1h-1z" fill="rgb(2, 180, 239)"/>
<path d="M34 257h1v1h-1zM50 259h1v1h-1zM62 273h1v1h-1zM48 274h1v1h-1zM60 279h1v1h-1zM47 281h1v1h-1z" fill="rgb(12, 110, 253)"/>
<path d="M35 257h1v1h-1zM43 261h1v1h-1zM45 269h1v1h-1zM47 269h1v1h-1zM44 272h1v1h-1zM68 272h1v1h-1zM62 274h1v1h-1zM46 276h1v1h-1zM61 276h1v1h-1z" fill="rgb(19, 75, 248)"/>
<path d="M40 257h1v1h-1zM50 287h1v1h-1z" fill="rgb(22, 33, 213)"/>
<path d="M43 257h1v1h-1zM33 269h1v1h-1zM23 270h1v1h-1zM34 274h1v1h-1zM30 285h1v1h-1z" fill="rgb(24, 50, 245)"/>
<path d="M44 257h1v1h-1zM60 274h1v1h-1zM42 284h1v1h-1z" fill="rgb(21, 65, 247)"/>
<path d="M45 257h1v1h-1zM42 269h1v1h-1zM39 279h1v1h-1zM66 279h1v1h-1zM66 283h1v1h-1z" fill="rgb(24, 46, 237)"/>
<path d="M49 257h1v1h-1zM52 257h1v1h-1zM54 257h1v1h-1zM19 259h1v1h-1zM19 262h1v1h-1zM65 274h1v1h-1zM68 275h1v1h-1zM66 282h1v1h-1zM49 283h1v1h-1z" fill="rgb(20, 72, 248)"/>
<path d="M50 257h1v1h-1zM18 258h1v1h-1zM43 260h1v1h-1zM42 265h1v1h-1zM38 267h1v1h-1zM70 268h1v1h-1zM70 270h1v1h-1zM40 281h1v1h-1zM69 281h1v1h-1zM59 285h1v1h-1z" fill="rgb(23, 39, 226)"/>
<path d="M51 257h1v1h-1zM47 258h1v1h-1zM41 261h1v1h-1zM42 261h1v1h-1zM33 268h1v1h-1zM34 268h1v1h-1zM29 270h1v1h-1zM60 283h1v1h-1zM61 283h1v1h-1z" fill="rgb(23, 55, 245)"/>
<path d="M57 257h1v1h-1zM51 263h1v1h-1zM63 270h1v1h-1z" fill="rgb(9, 126, 253)"/>
<path d="M58 257h1v1h-1zM56 271h1v1h-1zM56 272h1v1h-1zM59 279h1v1h-1z" fill="rgb(0, 194, 236)"/>
<path d="M59 257h1v1h-1zM22 264h1v1h-1zM24 274h1v1h-1zM31 283h1v1h-1z" fill="rgb(2, 203, 215)"/>
<path d="M60 257h1v1h-1zM51 271h1v1h-1z" fill="rgb(3, 204, 211)"/>
<path d="M61 257h1v1h-1zM54 267h1v1h-1z" fill="rgb(9, 212, 163)"/>
<path d="M62 257h1v1h-1zM25 259h1v1h-1zM61 264h1v1h-1zM24 279h1v1h-1z" fill="rgb(45, 231, 57)"/>
<path d="M63 257h1v1h-1zM61 263h1v1h-1zM63 263h1v1h-1z" fill="rgb(55, 233, 45)"/>
<path d="M64 257h1v1h-1z" fill="rgb(184, 239, 20)"/>
<path d="M65 257h1v1h-1zM26 261h1v1h-1zM58 263h1v1h-1zM27 278h1v1h-1zM26 280h1v1h-1zM27 280h1v1h-1z" fill="rgb(56, 234, 44)"/>
<path d="M66 257h1v1h-1zM25 260h1v1h-1zM28 280h1v1h-1z" fill="rgb(52, 233, 49)"/>
<path d="M68 257h1v1h-1zM53 267h1v1h-1zM58 270h1v1h-1zM52 274h1v1h-1z" fill="rgb(1, 188, 237)"/>
<path d="M69 257h1v1h-1zM54 260h1v1h-1zM28 267h1v1h-1zM57 274h1v1h-1zM21 276h1v1h-1zM47 278h1v1h-1zM49 281h1v1h-1z" fill="rgb(2, 178, 240)"/>
<path d="M16 258h1v1h-1z" fill="rgb(21, 28, 204)"/>
<path d="M19 258h1v1h-1zM44 271h1v1h-1zM61 275h1v1h-1zM66 275h1v1h-1zM64 277h1v1h-1z" fill="rgb(22, 59, 246)"/>
<path d="M20 258h1v1h-1zM46 258h1v1h-1zM54 261h1v1h-1zM44 273h1v1h-1zM60 281h1v1h-1z" fill="rgb(14, 100, 252)"/>
<path d="M21 258h1v1h-1zM24 277h1v1h-1z" fill="rgb(15, 219, 123)"/>
<path d="M22 258h1v1h-1z" fill="rgb(16, 220, 117)"/>
<path d="M23 258h1v1h-1zM24 261h1v1h-1zM24 263h1v1h-1zM28 276h1v1h-1zM53 276h1v1h-1zM27 277h1v1h-1zM54 279h1v1h-1z" fill="rgb(30, 227, 77)"/>
<path d="M24 258h1v1h-1zM28 259h1v1h-1zM67 260h1v1h-1zM60 264h1v1h-1z" fill="rgb(43, 230, 60)"/>
<path d="M25 258h1v1h-1zM26 259h1v1h-1zM60 265h1v1h-1zM24 278h1v1h-1z" fill="rgb(41, 230, 62)"/>
<path d="M26 258h1v1h-1zM29 259h1v1h-1zM29 279h1v1h-1zM27 281h1v1h-1z" fill="rgb(46, 231, 57)"/>
<path d="M27 258h1v1h-1zM23 280h1v1h-1z" fill="rgb(36, 229, 68)"/>
<path d="M28 258h1v1h-1zM66 262h1v1h-1zM59 264h1v1h-1zM26 277h1v1h-1zM29 278h1v1h-1z" fill="rgb(48, 232, 54)"/>
<path d="M29 258h1v1h-1zM57 263h1v1h-1z" fill="rgb(40, 230, 63)"/>
<path d="M30 258h1v1h-1zM27 263h1v1h-1zM55 265h1v1h-1zM29 277h1v1h-1zM31 278h1v1h-1zM52 278h1v1h-1zM28 282h1v1h-1zM25 283h1v1h-1z" fill="rgb(27, 226, 80)"/>
<path d="M34 258h1v1h-1zM35 265h1v1h-1zM45 273h1v1h-1zM25 286h1v1h-1z" fill="rgb(21, 66, 247)"/>
<path d="M40 258h1v1h-1zM42 259h1v1h-1zM37 274h1v1h-1zM71 281h1v1h-1zM37 284h1v1h-1z" fill="rgb(21, 31, 211)"/>
<path d="M41 258h1v1h-1zM18 267h1v1h-1z" fill="rgb(22, 36, 221)"/>
<path d="M43 258h1v1h-1zM51 261h1v1h-1zM69 266h1v1h-1zM32 267h1v1h-1zM46 269h1v1h-1zM50 273h1v1h-1zM64 273h1v1h-1zM60 278h1v1h-1zM44 281h1v1h-1zM19 282h1v1h-1zM49 284h1v1h-1z" fill="rgb(16, 88, 250)"/>
<path d="M44 258h1v1h-1zM45 258h1v1h-1zM50 260h1v1h-1zM49 261h1v1h-1zM29 268h1v1h-1zM44 270h1v1h-1zM22 273h1v1h-1zM64 282h1v1h-1zM65 283h1v1h-1zM52 284h1v1h-1z" fill="rgb(23, 56, 245)"/>
<path d="M54 258h1v1h-1zM20 268h1v1h-1zM45 270h1v1h-1zM43 274h1v1h-1zM62 275h1v1h-1zM65 275h1v1h-1zM47 276h1v1h-1zM59 282h1v1h-1zM58 284h1v1h-1z" fill="rgb(18, 82, 249)"/>
<path d="M55 258h1v1h-1zM51 259h1v1h-1zM47 263h1v1h-1zM24 271h1v1h-1zM30 271h1v1h-1zM48 271h1v1h-1zM61 280h1v1h-1z" fill="rgb(14, 99, 252)"/>
<path d="M56 258h1v1h-1zM53 268h1v1h-1zM26 271h1v1h-1zM52 283h1v1h-1z" fill="rgb(7, 136, 250)"/>
<path d="M57 258h1v1h-1z" fill="rgb(4, 165, 243)"/>
<path d="M58 258h1v1h-1zM58 278h1v1h-1zM59 280h1v1h-1z" fill="rgb(1, 187, 238)"/>
<path d="M59 258h1v1h-1zM69 259h1v1h-1z" fill="rgb(5, 207, 193)"/>
<path d="M61 258h1v1h-1zM64 263h1v1h-1zM25 278h1v1h-1z" fill="rgb(46, 231, 56)"/>
<path d="M62 258h1v1h-1z" fill="rgb(138, 238, 27)"/>
<path d="M63 258h1v1h-1z" fill="rgb(255, 191, 0)"/>
<path d="M64 258h1v1h-1z" fill="rgb(255, 142, 0)"/>
<path d="M65 258h1v1h-1z" fill="rgb(255, 175, 0)"/>
<path d="M66 258h1v1h-1z" fill="rgb(152, 238, 25)"/>
<path d="M67 258h1v1h-1zM59 263h1v1h-1z" fill="rgb(59, 234, 40)"/>
<path d="M68 258h1v1h-1zM57 269h1v1h-1zM52 275h1v1h-1z" fill="rgb(10, 213, 156)"/>
<path d="M69 258h1v1h-1zM21 262h1v1h-1zM32 263h1v1h-1zM52 270h1v1h-1zM60 271h1v1h-1zM62 280h1v1h-1zM48 282h1v1h-1z" fill="rgb(12, 108, 253)"/>
<path d="M70 258h1v1h-1zM51 260h1v1h-1zM34 262h1v1h-1zM21 268h1v1h-1zM53 271h1v1h-1zM20 274h1v1h-1zM34 282h1v1h-1z" fill="rgb(15, 93, 251)"/>
<path d="M18 259h1v1h-1zM35 260h1v1h-1zM35 272h1v1h-1zM64 283h1v1h-1z" fill="rgb(24, 51, 245)"/>
<path d="M20 259h1v1h-1zM31 264h1v1h-1zM31 265h1v1h-1zM49 269h1v1h-1zM64 269h1v1h-1zM32 271h1v1h-1zM64 271h1v1h-1zM57 272h1v1h-1zM60 275h1v1h-1zM61 277h1v1h-1z" fill="rgb(10, 116, 254)"/>
<path d="M21 259h1v1h-1z" fill="rgb(10, 213, 159)"/>
<path d="M22 259h1v1h-1zM57 266h1v1h-1zM51 279h1v1h-1z" fill="rgb(20, 225, 88)"/>
<path d="M23 259h1v1h-1zM59 259h1v1h-1zM25 263h1v1h-1z" fill="rgb(26, 226, 81)"/>
<path d="M24 259h1v1h-1zM24 260h1v1h-1zM23 261h1v1h-1zM24 262h1v1h-1zM62 265h1v1h-1zM26 276h1v1h-1zM27 282h1v1h-1z" fill="rgb(32, 228, 74)"/>
<path d="M27 259h1v1h-1zM27 262h1v1h-1z" fill="rgb(47, 231, 55)"/>
<path d="M30 259h1v1h-1zM29 260h1v1h-1zM59 260h1v1h-1zM58 262h1v1h-1zM26 263h1v1h-1zM58 265h1v1h-1zM28 277h1v1h-1zM23 279h1v1h-1zM25 281h1v1h-1z" fill="rgb(40, 230, 64)"/>
<path d="M31 259h1v1h-1zM53 281h1v1h-1z" fill="rgb(19, 224, 93)"/>
<path d="M32 259h1v1h-1z" fill="rgb(5, 207, 191)"/>
<path d="M35 259h1v1h-1zM44 261h1v1h-1zM70 264h1v1h-1zM32 269h1v1h-1zM69 270h1v1h-1zM19 272h1v1h-1zM34 272h1v1h-1zM68 274h1v1h-1zM35 278h1v1h-1zM47 283h1v1h-1z" fill="rgb(24, 52, 245)"/>
<path d="M43 259h1v1h-1zM66 271h1v1h-1zM41 272h1v1h-1z" fill="rgb(21, 68, 247)"/>
<path d="M44 259h1v1h-1zM43 262h1v1h-1zM67 270h1v1h-1zM47 273h1v1h-1zM22 283h1v1h-1zM26 285h1v1h-1z" fill="rgb(17, 83, 249)"/>
<path d="M47 259h1v1h-1zM66 267h1v1h-1zM22 268h1v1h-1zM49 270h1v1h-1zM42 271h1v1h-1zM46 271h1v1h-1zM61 273h1v1h-1zM45 280h1v1h-1z" fill="rgb(17, 86, 250)"/>
<path d="M49 259h1v1h-1zM62 277h1v1h-1zM67 278h1v1h-1z" fill="rgb(20, 73, 248)"/>
<path d="M52 259h1v1h-1zM22 271h1v1h-1zM24 272h1v1h-1zM31 272h1v1h-1zM20 277h1v1h-1zM23 284h1v1h-1z" fill="rgb(12, 106, 253)"/>
<path d="M54 259h1v1h-1zM55 259h1v1h-1zM29 269h1v1h-1zM59 271h1v1h-1zM20 276h1v1h-1zM34 278h1v1h-1z" fill="rgb(12, 109, 253)"/>
<path d="M56 259h1v1h-1z" fill="rgb(2, 202, 217)"/>
<path d="M58 259h1v1h-1zM54 262h1v1h-1zM55 262h1v1h-1z" fill="rgb(7, 209, 178)"/>
<path d="M60 259h1v1h-1z" fill="rgb(43, 230, 61)"/>
<path d="M61 259h1v1h-1zM61 261h1v1h-1z" fill="rgb(220, 221, 10)"/>
<path d="M62 259h1v1h-1z" fill="rgb(255, 162, 0)"/>
<path d="M63 259h1v1h-1zM64 260h1v1h-1z" fill="rgb(215, 20, 10)"/>
<path d="M64 259h1v1h-1z" fill="rgb(224, 38, 7)"/>
<path d="M65 259h1v1h-1z" fill="rgb(255, 129, 0)"/>
<path d="M66 259h1v1h-1z" fill="rgb(234, 212, 6)"/>
<path d="M67 259h1v1h-1zM28 260h1v1h-1zM59 261h1v1h-1zM28 278h1v1h-1z" fill="rgb(49, 232, 53)"/>
<path d="M68 259h1v1h-1zM31 260h1v1h-1zM57 261h1v1h-1zM57 262h1v1h-1zM27 264h1v1h-1zM61 267h1v1h-1zM29 274h1v1h-1zM55 276h1v1h-1zM54 277h1v1h-1zM22 278h1v1h-1zM55 281h1v1h-1z" fill="rgb(22, 225, 87)"/>
<path d="M70 259h1v1h-1zM20 262h1v1h-1zM52 262h1v1h-1zM53 272h1v1h-1zM21 273h1v1h-1zM58 281h1v1h-1z" fill="rgb(9, 125, 253)"/>
<path d="M20 260h1v1h-1zM56 260h1v1h-1zM54 271h1v1h-1z" fill="rgb(3, 204, 210)"/>
<path d="M21 260h1v1h-1zM52 263h1v1h-1zM61 270h1v1h-1zM49 282h1v1h-1zM57 282h1v1h-1zM54 283h1v1h-1z" fill="rgb(4, 160, 244)"/>
<path d="M22 260h1v1h-1zM57 267h1v1h-1z" fill="rgb(18, 222, 103)"/>
<path d="M23 260h1v1h-1z" fill="rgb(16, 221, 112)"/>
<path d="M26 260h1v1h-1zM27 260h1v1h-1zM28 279h1v1h-1z" fill="rgb(57, 234, 43)"/>
<path d="M33 260h1v1h-1z" fill="rgb(8, 210, 173)"/>
<path d="M34 260h1v1h-1zM47 270h1v1h-1zM32 274h1v1h-1zM58 275h1v1h-1z" fill="rgb(9, 123, 254)"/>
<path d="M41 260h1v1h-1zM37 261h1v1h-1zM71 261h1v1h-1zM40 262h1v1h-1zM41 266h1v1h-1zM40 270h1v1h-1zM35 271h1v1h-1zM69 272h1v1h-1zM35 276h1v1h-1zM40 283h1v1h-1z" fill="rgb(23, 43, 232)"/>
<path d="M45 260h1v1h-1zM46 263h1v1h-1zM46 266h1v1h-1zM54 284h1v1h-1z" fill="rgb(23, 58, 246)"/>
<path d="M46 260h1v1h-1zM70 262h1v1h-1zM39 264h1v1h-1zM47 264h1v1h-1zM28 270h1v1h-1zM66 273h1v1h-1z" fill="rgb(24, 53, 245)"/>
<path d="M49 260h1v1h-1zM48 261h1v1h-1zM50 268h1v1h-1zM30 270h1v1h-1zM44 276h1v1h-1z" fill="rgb(15, 96, 251)"/>
<path d="M52 260h1v1h-1zM24 266h1v1h-1zM50 272h1v1h-1z" fill="rgb(9, 120, 254)"/>
<path d="M53 260h1v1h-1zM28 265h1v1h-1z" fill="rgb(0, 197, 235)"/>
<path d="M57 260h1v1h-1zM22 261h1v1h-1zM56 261h1v1h-1zM23 262h1v1h-1zM63 265h1v1h-1zM25 276h1v1h-1zM52 276h1v1h-1zM23 277h1v1h-1zM51 278h1v1h-1zM52 281h1v1h-1z" fill="rgb(24, 226, 84)"/>
<path d="M58 260h1v1h-1zM58 264h1v1h-1zM26 275h1v1h-1zM25 277h1v1h-1zM55 278h1v1h-1zM55 279h1v1h-1z" fill="rgb(35, 228, 70)"/>
<path d="M60 260h1v1h-1z" fill="rgb(114, 237, 31)"/>
<path d="M61 260h1v1h-1z" fill="rgb(222, 219, 9)"/>
<path d="M62 260h1v1h-1z" fill="rgb(255, 156, 0)"/>
<path d="M63 260h1v1h-1z" fill="rgb(216, 23, 9)"/>
<path d="M65 260h1v1h-1z" fill="rgb(231, 52, 5)"/>
<path d="M66 260h1v1h-1z" fill="rgb(202, 232, 16)"/>
<path d="M68 260h1v1h-1zM53 265h1v1h-1zM52 267h1v1h-1zM33 280h1v1h-1z" fill="rgb(8, 211, 170)"/>
<path d="M69 260h1v1h-1zM33 261h1v1h-1zM62 271h1v1h-1zM60 276h1v1h-1z" fill="rgb(5, 158, 245)"/>
<path d="M70 260h1v1h-1zM44 266h1v1h-1zM27 267h1v1h-1zM68 267h1v1h-1zM33 273h1v1h-1zM33 274h1v1h-1zM35 281h1v1h-1zM48 284h1v1h-1z" fill="rgb(19, 74, 248)"/>
<path d="M20 261h1v1h-1zM23 273h1v1h-1zM24 273h1v1h-1z" fill="rgb(6, 145, 248)"/>
<path d="M21 261h1v1h-1zM51 267h1v1h-1zM53 273h1v1h-1zM59 273h1v1h-1z" fill="rgb(6, 208, 187)"/>
<path d="M25 261h1v1h-1zM56 278h1v1h-1z" fill="rgb(37, 229, 67)"/>
<path d="M27 261h1v1h-1zM26 279h1v1h-1z" fill="rgb(53, 233, 48)"/>
<path d="M28 261h1v1h-1zM28 281h1v1h-1zM26 282h1v1h-1z" fill="rgb(36, 229, 69)"/>
<path d="M31 261h1v1h-1zM56 265h1v1h-1zM61 265h1v1h-1zM56 266h1v1h-1zM52 279h1v1h-1z" fill="rgb(37, 229, 68)"/>
<path d="M52 261h1v1h-1zM51 272h1v1h-1zM54 274h1v1h-1z" fill="rgb(5, 159, 245)"/>
<path d="M55 261h1v1h-1zM56 276h1v1h-1z" fill="rgb(10, 212, 160)"/>
<path d="M58 261h1v1h-1zM56 264h1v1h-1zM24 276h1v1h-1zM23 278h1v1h-1z" fill="rgb(34, 228, 71)"/>
<path d="M60 261h1v1h-1z" fill="rgb(60, 235, 39)"/>
<path d="M62 261h1v1h-1z" fill="rgb(235, 61, 4)"/>
<path d="M63 261h1v1h-1z" fill="rgb(233, 57, 5)"/>
<path d="M64 261h1v1h-1z" fill="rgb(232, 55, 5)"/>
<path d="M65 261h1v1h-1z" fill="rgb(242, 207, 3)"/>
<path d="M66 261h1v1h-1z" fill="rgb(115, 237, 31)"/>
<path d="M67 261h1v1h-1zM25 262h1v1h-1zM53 277h1v1h-1zM30 278h1v1h-1z" fill="rgb(33, 228, 73)"/>
<path d="M68 261h1v1h-1zM23 276h1v1h-1z" fill="rgb(12, 215, 142)"/>
<path d="M72 261h1v1h-1z" fill="rgb(21, 29, 208)"/>
<path d="M22 262h1v1h-1z" fill="rgb(11, 214, 153)"/>
<path d="M26 262h1v1h-1z" fill="rgb(56, 234, 43)"/>
<path d="M28 262h1v1h-1zM57 265h1v1h-1zM54 280h1v1h-1zM25 282h1v1h-1z" fill="rgb(29, 227, 78)"/>
<path d="M32 262h1v1h-1zM24 264h1v1h-1zM58 277h1v1h-1z" fill="rgb(3, 204, 208)"/>
<path d="M33 262h1v1h-1zM52 269h1v1h-1zM49 276h1v1h-1z" fill="rgb(6, 148, 247)"/>
<path d="M39 262h1v1h-1z" fill="rgb(21, 29, 206)"/>
<path d="M46 262h1v1h-1z" fill="rgb(11, 115, 254)"/>
<path d="M51 262h1v1h-1zM23 269h1v1h-1zM49 272h1v1h-1z" fill="rgb(13, 102, 252)"/>
<path d="M53 262h1v1h-1zM21 263h1v1h-1zM32 265h1v1h-1zM29 266h1v1h-1zM49 271h1v1h-1zM34 276h1v1h-1zM25 284h1v1h-1z" fill="rgb(7, 141, 249)"/>
<path d="M56 262h1v1h-1zM60 268h1v1h-1z" fill="rgb(6, 208, 185)"/>
<path d="M59 262h1v1h-1zM29 280h1v1h-1z" fill="rgb(44, 231, 59)"/>
<path d="M60 262h1v1h-1zM25 280h1v1h-1z" fill="rgb(47, 231, 56)"/>
<path d="M61 262h1v1h-1z" fill="rgb(219, 221, 10)"/>
<path d="M62 262h1v1h-1z" fill="rgb(227, 216, 8)"/>
<path d="M63 262h1v1h-1z" fill="rgb(208, 228, 14)"/>
<path d="M64 262h1v1h-1z" fill="rgb(159, 238, 24)"/>
<path d="M65 262h1v1h-1z" fill="rgb(86, 236, 35)"/>
<path d="M67 262h1v1h-1zM66 263h1v1h-1z" fill="rgb(12, 215, 144)"/>
<path d="M69 262h1v1h-1zM66 268h1v1h-1zM19 273h1v1h-1zM63 278h1v1h-1zM48 283h1v1h-1zM21 284h1v1h-1zM53 284h1v1h-1z" fill="rgb(18, 81, 249)"/>
<path d="M18 263h1v1h-1zM18 269h1v1h-1zM40 275h1v1h-1z" fill="rgb(22, 35, 219)"/>
<path d="M22 263h1v1h-1zM66 264h1v1h-1zM24 283h1v1h-1z" fill="rgb(6, 208, 186)"/>
<path d="M28 263h1v1h-1z" fill="rgb(38, 229, 67)"/>
<path d="M30 263h1v1h-1zM54 270h1v1h-1z" fill="rgb(17, 221, 111)"/>
<path d="M31 263h1v1h-1z" fill="rgb(14, 218, 130)"/>
<path d="M34 263h1v1h-1zM58 272h1v1h-1zM57 275h1v1h-1z" fill="rgb(7, 140, 249)"/>
<path d="M50 263h1v1h-1zM50 264h1v1h-1zM23 267h1v1h-1zM29 271h1v1h-1zM45 278h1v1h-1z" fill="rgb(11, 114, 254)"/>
<path d="M53 263h1v1h-1zM28 266h1v1h-1z" fill="rgb(2, 177, 240)"/>
<path d="M54 263h1v1h-1zM63 267h1v1h-1zM55 269h1v1h-1zM25 272h1v1h-1z" fill="rgb(0, 195, 236)"/>
<path d="M55 263h1v1h-1zM59 268h1v1h-1z" fill="rgb(23, 225, 86)"/>
<path d="M56 263h1v1h-1zM58 267h1v1h-1z" fill="rgb(17, 222, 106)"/>
<path d="M60 263h1v1h-1z" fill="rgb(144, 238, 26)"/>
<path d="M62 263h1v1h-1z" fill="rgb(103, 236, 33)"/>
<path d="M65 263h1v1h-1zM31 277h1v1h-1zM51 277h1v1h-1zM53 279h1v1h-1zM24 282h1v1h-1zM29 282h1v1h-1z" fill="rgb(26, 226, 82)"/>
<path d="M67 263h1v1h-1zM33 281h1v1h-1zM51 281h1v1h-1z" fill="rgb(11, 214, 148)"/>
<path d="M68 263h1v1h-1zM52 265h1v1h-1zM55 270h1v1h-1z" fill="rgb(4, 166, 243)"/>
<path d="M70 263h1v1h-1zM43 267h1v1h-1zM48 267h1v1h-1zM34 270h1v1h-1zM44 277h1v1h-1zM62 279h1v1h-1zM67 280h1v1h-1zM19 281h1v1h-1z" fill="rgb(21, 64, 247)"/>
<path d="M21 264h1v1h-1zM51 266h1v1h-1z" fill="rgb(6, 144, 248)"/>
<path d="M23 264h1v1h-1zM58 274h1v1h-1zM27 284h1v1h-1z" fill="rgb(1, 186, 238)"/>
<path d="M25 264h1v1h-1z" fill="rgb(9, 212, 162)"/>
<path d="M26 264h1v1h-1zM24 281h1v1h-1z" fill="rgb(28, 227, 78)"/>
<path d="M28 264h1v1h-1z" fill="rgb(12, 216, 141)"/>
<path d="M29 264h1v1h-1z" fill="rgb(4, 205, 205)"/>
<path d="M30 264h1v1h-1zM50 276h1v1h-1zM48 280h1v1h-1z" fill="rgb(8, 210, 175)"/>
<path d="M32 264h1v1h-1zM60 270h1v1h-1zM55 272h1v1h-1zM56 282h1v1h-1z" fill="rgb(8, 132, 251)"/>
<path d="M33 264h1v1h-1zM22 266h1v1h-1zM21 271h1v1h-1zM65 272h1v1h-1zM35 277h1v1h-1zM63 277h1v1h-1zM62 278h1v1h-1z" fill="rgb(16, 91, 250)"/>
<path d="M45 264h1v1h-1zM31 266h1v1h-1zM67 267h1v1h-1zM28 268h1v1h-1zM25 270h1v1h-1zM64 270h1v1h-1zM28 271h1v1h-1zM64 276h1v1h-1zM20 278h1v1h-1zM46 279h1v1h-1zM63 280h1v1h-1z" fill="rgb(15, 95, 251)"/>
<path d="M46 264h1v1h-1zM56 274h1v1h-1z" fill="rgb(9, 122, 254)"/>
<path d="M52 264h1v1h-1zM22 275h1v1h-1zM21 280h1v1h-1zM57 280h1v1h-1z" fill="rgb(2, 203, 214)"/>
<path d="M53 264h1v1h-1zM58 271h1v1h-1z" fill="rgb(1, 201, 225)"/>
<path d="M54 264h1v1h-1z" fill="rgb(18, 223, 100)"/>
<path d="M55 264h1v1h-1z" fill="rgb(13, 216, 140)"/>
<path d="M57 264h1v1h-1zM30 280h1v1h-1z" fill="rgb(42, 230, 62)"/>
<path d="M62 264h1v1h-1z" fill="rgb(41, 230, 63)"/>
<path d="M67 264h1v1h-1zM51 284h1v1h-1z" fill="rgb(9, 127, 253)"/>
<path d="M68 264h1v1h-1zM26 269h1v1h-1zM49 274h1v1h-1zM60 277h1v1h-1zM47 280h1v1h-1z" fill="rgb(4, 164, 243)"/>
<path d="M21 265h1v1h-1zM44 274h1v1h-1zM46 277h1v1h-1z" fill="rgb(13, 101, 252)"/>
<path d="M23 265h1v1h-1zM49 265h1v1h-1zM54 273h1v1h-1zM34 279h1v1h-1z" fill="rgb(4, 161, 244)"/>
<path d="M25 265h1v1h-1zM27 266h1v1h-1zM63 269h1v1h-1zM20 279h1v1h-1z" fill="rgb(8, 131, 252)"/>
<path d="M26 265h1v1h-1z" fill="rgb(5, 207, 192)"/>
<path d="M27 265h1v1h-1zM32 280h1v1h-1zM23 283h1v1h-1z" fill="rgb(2, 183, 239)"/>
<path d="M29 265h1v1h-1zM65 266h1v1h-1zM56 269h1v1h-1z" fill="rgb(2, 203, 216)"/>
<path d="M30 265h1v1h-1zM58 273h1v1h-1z" fill="rgb(3, 172, 241)"/>
<path d="M47 265h1v1h-1zM31 267h1v1h-1zM25 268h1v1h-1zM50 269h1v1h-1zM25 271h1v1h-1zM61 272h1v1h-1zM45 274h1v1h-1zM45 277h1v1h-1zM59 278h1v1h-1zM28 285h1v1h-1z" fill="rgb(13, 104, 252)"/>
<path d="M50 265h1v1h-1zM61 271h1v1h-1zM52 272h1v1h-1zM20 280h1v1h-1zM34 280h1v1h-1zM32 282h1v1h-1zM21 283h1v1h-1zM32 283h1v1h-1z" fill="rgb(10, 118, 254)"/>
<path d="M51 265h1v1h-1zM59 281h1v1h-1z" fill="rgb(3, 170, 242)"/>
<path d="M59 265h1v1h-1z" fill="rgb(51, 232, 50)"/>
<path d="M64 265h1v1h-1zM65 265h1v1h-1zM52 277h1v1h-1zM22 279h1v1h-1zM22 280h1v1h-1z" fill="rgb(21, 225, 87)"/>
<path d="M67 265h1v1h-1zM26 270h1v1h-1zM60 272h1v1h-1zM21 277h1v1h-1zM33 277h1v1h-1z" fill="rgb(7, 138, 250)"/>
<path d="M68 265h1v1h-1zM32 284h1v1h-1z" fill="rgb(19, 77, 248)"/>
<path d="M21 266h1v1h-1z" fill="rgb(17, 87, 250)"/>
<path d="M23 266h1v1h-1zM24 284h1v1h-1z" fill="rgb(9, 124, 253)"/>
<path d="M25 266h1v1h-1zM48 277h1v1h-1z" fill="rgb(5, 156, 245)"/>
<path d="M26 266h1v1h-1z" fill="rgb(4, 205, 204)"/>
<path d="M30 266h1v1h-1zM50 270h1v1h-1zM27 272h1v1h-1zM48 276h1v1h-1z" fill="rgb(5, 157, 245)"/>
<path d="M32 266h1v1h-1zM24 269h1v1h-1zM49 273h1v1h-1zM57 273h1v1h-1z" fill="rgb(12, 107, 253)"/>
<path d="M33 266h1v1h-1z" fill="rgb(23, 54, 245)"/>
<path d="M42 266h1v1h-1zM30 268h1v1h-1zM47 268h1v1h-1zM25 269h1v1h-1zM43 273h1v1h-1zM44 278h1v1h-1zM44 280h1v1h-1zM20 282h1v1h-1zM59 283h1v1h-1zM23 285h1v1h-1zM29 285h1v1h-1z" fill="rgb(20, 71, 248)"/>
<path d="M50 266h1v1h-1zM22 270h1v1h-1zM56 273h1v1h-1zM20 275h1v1h-1zM47 279h1v1h-1zM46 281h1v1h-1z" fill="rgb(11, 112, 253)"/>
<path d="M53 266h1v1h-1zM27 271h1v1h-1zM59 275h1v1h-1zM59 277h1v1h-1z" fill="rgb(3, 168, 242)"/>
<path d="M54 266h1v1h-1zM26 283h1v1h-1z" fill="rgb(13, 217, 134)"/>
<path d="M62 266h1v1h-1zM60 267h1v1h-1zM28 275h1v1h-1zM54 276h1v1h-1zM50 278h1v1h-1z" fill="rgb(23, 225, 85)"/>
<path d="M63 266h1v1h-1zM57 271h1v1h-1zM28 283h1v1h-1z" fill="rgb(14, 217, 132)"/>
<path d="M64 266h1v1h-1zM54 275h1v1h-1zM27 283h1v1h-1z" fill="rgb(7, 209, 179)"/>
<path d="M71 266h1v1h-1z" fill="rgb(21, 30, 210)"/>
<path d="M22 267h1v1h-1zM65 271h1v1h-1zM46 273h1v1h-1zM34 277h1v1h-1zM43 281h1v1h-1z" fill="rgb(16, 87, 250)"/>
<path d="M29 267h1v1h-1zM48 268h1v1h-1zM29 284h1v1h-1z" fill="rgb(7, 137, 250)"/>
<path d="M46 267h1v1h-1zM21 274h1v1h-1zM43 276h1v1h-1zM66 276h1v1h-1zM46 278h1v1h-1zM61 279h1v1h-1zM68 279h1v1h-1zM67 282h1v1h-1zM25 285h1v1h-1z" fill="rgb(15, 92, 251)"/>
<path d="M50 267h1v1h-1zM30 273h1v1h-1z" fill="rgb(1, 185, 238)"/>
<path d="M55 267h1v1h-1zM57 276h1v1h-1zM49 279h1v1h-1z" fill="rgb(12, 215, 145)"/>
<path d="M56 267h1v1h-1z" fill="rgb(29, 227, 77)"/>
<path d="M59 267h1v1h-1zM51 275h1v1h-1zM30 282h1v1h-1z" fill="rgb(12, 215, 147)"/>
<path d="M62 267h1v1h-1zM23 282h1v1h-1z" fill="rgb(7, 209, 180)"/>
<path d="M65 267h1v1h-1zM49 275h1v1h-1z" fill="rgb(2, 202, 219)"/>
<path d="M24 268h1v1h-1zM65 269h1v1h-1zM32 270h1v1h-1z" fill="rgb(21, 67, 247)"/>
<path d="M52 268h1v1h-1zM62 270h1v1h-1zM47 277h1v1h-1z" fill="rgb(10, 119, 254)"/>
<path d="M55 268h1v1h-1z" fill="rgb(11, 213, 153)"/>
<path d="M56 268h1v1h-1z" fill="rgb(8, 210, 171)"/>
<path d="M58 268h1v1h-1zM29 283h1v1h-1z" fill="rgb(13, 216, 138)"/>
<path d="M64 268h1v1h-1zM54 269h1v1h-1zM52 271h1v1h-1zM45 275h1v1h-1z" fill="rgb(3, 171, 242)"/>
<path d="M17 269h1v1h-1zM70 283h1v1h-1z" fill="rgb(20, 23, 196)"/>
<path d="M34 269h1v1h-1zM36 277h1v1h-1zM67 277h1v1h-1zM44 282h1v1h-1zM41 283h1v1h-1zM46 284h1v1h-1zM51 285h1v1h-1z" fill="rgb(24, 48, 242)"/>
<path d="M37 269h1v1h-1zM41 270h1v1h-1zM40 272h1v1h-1zM70 273h1v1h-1zM69 277h1v1h-1zM19 284h1v1h-1z" fill="rgb(23, 40, 228)"/>
<path d="M43 269h1v1h-1zM67 271h1v1h-1zM40 273h1v1h-1zM43 282h1v1h-1z" fill="rgb(24, 54, 245)"/>
<path d="M53 269h1v1h-1z" fill="rgb(19, 224, 94)"/>
<path d="M58 269h1v1h-1z" fill="rgb(18, 222, 104)"/>
<path d="M59 269h1v1h-1z" fill="rgb(6, 208, 188)"/>
<path d="M61 269h1v1h-1z" fill="rgb(14, 217, 130)"/>
<path d="M62 269h1v1h-1zM48 279h1v1h-1zM53 283h1v1h-1z" fill="rgb(1, 202, 222)"/>
<path d="M27 270h1v1h-1zM46 270h1v1h-1zM64 274h1v1h-1zM33 276h1v1h-1zM33 283h1v1h-1z" fill="rgb(11, 111, 253)"/>
<path d="M53 270h1v1h-1zM59 276h1v1h-1zM53 282h1v1h-1z" fill="rgb(0, 200, 234)"/>
<path d="M56 270h1v1h-1z" fill="rgb(1, 201, 226)"/>
<path d="M57 270h1v1h-1zM59 274h1v1h-1z" fill="rgb(5, 154, 246)"/>
<path d="M59 270h1v1h-1zM26 272h1v1h-1z" fill="rgb(2, 176, 240)"/>
<path d="M65 270h1v1h-1zM43 275h1v1h-1zM46 283h1v1h-1z" fill="rgb(23, 59, 246)"/>
<path d="M33 271h1v1h-1zM65 276h1v1h-1z" fill="rgb(24, 48, 243)"/>
<path d="M45 271h1v1h-1zM47 271h1v1h-1zM35 279h1v1h-1zM63 279h1v1h-1z" fill="rgb(18, 79, 249)"/>
<path d="M68 271h1v1h-1zM42 272h1v1h-1z" fill="rgb(17, 82, 249)"/>
<path d="M28 272h1v1h-1zM30 272h1v1h-1z" fill="rgb(6, 150, 247)"/>
<path d="M29 272h1v1h-1z" fill="rgb(5, 153, 246)"/>
<path d="M54 272h1v1h-1z" fill="rgb(8, 134, 251)"/>
<path d="M62 272h1v1h-1zM63 275h1v1h-1z" fill="rgb(9, 121, 254)"/>
<path d="M27 273h1v1h-1z" fill="rgb(1, 190, 237)"/>
<path d="M31 273h1v1h-1zM51 273h1v1h-1zM28 284h1v1h-1z" fill="rgb(2, 181, 239)"/>
<path d="M52 273h1v1h-1zM51 282h1v1h-1z" fill="rgb(0, 201, 228)"/>
<path d="M23 274h1v1h-1z" fill="rgb(5, 206, 195)"/>
<path d="M25 274h1v1h-1z" fill="rgb(18, 223, 101)"/>
<path d="M27 274h1v1h-1zM23 275h1v1h-1zM31 276h1v1h-1zM58 279h1v1h-1z" fill="rgb(17, 222, 105)"/>
<path d="M28 274h1v1h-1z" fill="rgb(15, 218, 124)"/>
<path d="M30 274h1v1h-1z" fill="rgb(0, 200, 232)"/>
<path d="M31 274h1v1h-1z" fill="rgb(0, 200, 229)"/>
<path d="M50 274h1v1h-1zM49 278h1v1h-1z" fill="rgb(5, 206, 198)"/>
<path d="M51 274h1v1h-1z" fill="rgb(4, 206, 199)"/>
<path d="M53 274h1v1h-1z" fill="rgb(4, 205, 203)"/>
<path d="M55 274h1v1h-1z" fill="rgb(10, 212, 161)"/>
<path d="M71 274h1v1h-1z" fill="rgb(20, 24, 199)"/>
<path d="M18 275h1v1h-1zM48 285h1v1h-1zM64 286h1v1h-1z" fill="rgb(23, 39, 224)"/>
<path d="M24 275h1v1h-1z" fill="rgb(2, 202, 220)"/>
<path d="M25 275h1v1h-1z" fill="rgb(17, 221, 107)"/>
<path d="M30 275h1v1h-1z" fill="rgb(4, 205, 200)"/>
<path d="M50 275h1v1h-1z" fill="rgb(9, 212, 165)"/>
<path d="M55 275h1v1h-1z" fill="rgb(13, 216, 139)"/>
<path d="M22 276h1v1h-1z" fill="rgb(1, 202, 221)"/>
<path d="M27 276h1v1h-1zM29 281h1v1h-1z" fill="rgb(33, 228, 72)"/>
<path d="M30 276h1v1h-1z" fill="rgb(15, 219, 124)"/>
<path d="M41 276h1v1h-1zM41 282h1v1h-1zM34 284h1v1h-1z" fill="rgb(23, 42, 232)"/>
<path d="M58 276h1v1h-1z" fill="rgb(1, 201, 223)"/>
<path d="M22 277h1v1h-1zM56 280h1v1h-1z" fill="rgb(11, 214, 149)"/>
<path d="M49 277h1v1h-1z" fill="rgb(9, 212, 164)"/>
<path d="M56 277h1v1h-1z" fill="rgb(15, 219, 120)"/>
<path d="M57 277h1v1h-1z" fill="rgb(14, 218, 127)"/>
<path d="M66 277h1v1h-1z" fill="rgb(20, 68, 247)"/>
<path d="M21 278h1v1h-1z" fill="rgb(7, 139, 250)"/>
<path d="M26 278h1v1h-1z" fill="rgb(91, 236, 35)"/>
<path d="M32 278h1v1h-1z" fill="rgb(11, 214, 150)"/>
<path d="M48 278h1v1h-1z" fill="rgb(3, 169, 242)"/>
<path d="M53 278h1v1h-1z" fill="rgb(39, 229, 65)"/>
<path d="M57 278h1v1h-1z" fill="rgb(6, 207, 189)"/>
<path d="M27 279h1v1h-1z" fill="rgb(55, 233, 46)"/>
<path d="M31 279h1v1h-1zM31 281h1v1h-1z" fill="rgb(19, 224, 92)"/>
<path d="M32 279h1v1h-1z" fill="rgb(8, 210, 176)"/>
<path d="M33 279h1v1h-1z" fill="rgb(6, 149, 247)"/>
<path d="M50 279h1v1h-1z" fill="rgb(24, 226, 83)"/>
<path d="M57 279h1v1h-1z" fill="rgb(19, 224, 91)"/>
<path d="M24 280h1v1h-1z" fill="rgb(34, 228, 72)"/>
<path d="M31 280h1v1h-1z" fill="rgb(13, 217, 136)"/>
<path d="M49 280h1v1h-1z" fill="rgb(1, 191, 237)"/>
<path d="M50 280h1v1h-1zM32 281h1v1h-1z" fill="rgb(13, 217, 135)"/>
<path d="M53 280h1v1h-1z" fill="rgb(9, 211, 166)"/>
<path d="M60 280h1v1h-1z" fill="rgb(8, 133, 251)"/>
<path d="M26 281h1v1h-1z" fill="rgb(54, 233, 46)"/>
<path d="M50 281h1v1h-1z" fill="rgb(6, 207, 190)"/>
<path d="M54 281h1v1h-1z" fill="rgb(17, 221, 109)"/>
<path d="M56 281h1v1h-1z" fill="rgb(12, 216, 142)"/>
<path d="M57 281h1v1h-1z" fill="rgb(8, 210, 174)"/>
<path d="M22 282h1v1h-1z" fill="rgb(5, 152, 246)"/>
<path d="M39 282h1v1h-1z" fill="rgb(20, 21, 193)"/>
<path d="M54 282h1v1h-1z" fill="rgb(12, 215, 143)"/>
<path d="M60 282h1v1h-1z" fill="rgb(14, 96, 251)"/>
<path d="M55 283h1v1h-1z" fill="rgb(6, 147, 248)"/>
<path d="M69 283h1v1h-1zM59 286h1v1h-1z" fill="rgb(21, 26, 201)"/>
<path d="M18 285h1v1h-1z" fill="rgb(20, 23, 195)"/>
<path d="M40 285h1v1h-1zM46 286h1v1h-1z" fill="rgb(20, 22, 195)"/>
<text x="17" y="218.6" font-size="9.2" fill="#111" text-anchor="start" font-weight="normal" stroke="#111" stroke-width="0.2" >donor #177</text>
<text x="0" y="0" font-size="9.2" fill="#111" stroke="#111" stroke-width="0.2" text-anchor="middle" dominant-baseline="central" transform="translate(3.9,258.1) rotate(-90)">KIR2DS4</text>
<text x="23.1" y="302.7" font-size="9.1" fill="#111" text-anchor="start" font-weight="normal" stroke="#111" stroke-width="0.2" >KIR2DL2/L3/S2</text>
<rect x="114.3" y="222.4" width="84.7" height="69.6" fill="none" stroke="#555" stroke-width="0.8" />
<path d="M119.38 292v2M114.3 287.82h-2M125.5 292v1.1M114.3 282.8h-1.1M129.08 292v1.1M114.3 279.85h-1.1M131.62 292v1.1M114.3 277.77h-1.1M133.59 292v1.1M114.3 276.15h-1.1M135.2 292v1.1M114.3 274.83h-1.1M136.56 292v1.1M114.3 273.71h-1.1M137.74 292v1.1M114.3 272.74h-1.1M138.78 292v1.1M114.3 271.88h-1.1M139.71 292v2M114.3 271.12h-2M145.83 292v1.1M114.3 266.09h-1.1M149.41 292v1.1M114.3 263.15h-1.1M151.95 292v1.1M114.3 261.06h-1.1M153.92 292v1.1M114.3 259.44h-1.1M155.53 292v1.1M114.3 258.12h-1.1M156.89 292v1.1M114.3 257h-1.1M158.07 292v1.1M114.3 256.03h-1.1M159.11 292v1.1M114.3 255.18h-1.1M160.04 292v2M114.3 254.42h-2M166.16 292v1.1M114.3 249.39h-1.1M169.74 292v1.1M114.3 246.45h-1.1M172.28 292v1.1M114.3 244.36h-1.1M174.25 292v1.1M114.3 242.74h-1.1M175.86 292v1.1M114.3 241.42h-1.1M177.22 292v1.1M114.3 240.3h-1.1M178.4 292v1.1M114.3 239.33h-1.1M179.44 292v1.1M114.3 238.48h-1.1M180.37 292v2M114.3 237.71h-2M114.3 292v1.1M114.3 292h-1.1M115.99 292v1.1M114.3 290.61h-1.1M117.69 292v1.1M114.3 289.22h-1.1" stroke="#555" stroke-width="0.45" fill="none"/>
<path d="M134 253h1v1h-1zM118 257h1v1h-1zM115 269h1v1h-1zM137 274h1v1h-1zM136 281h1v1h-1zM153 285h1v1h-1z" fill="rgb(22, 33, 214)"/>
<path d="M137 253h1v1h-1zM145 254h1v1h-1zM130 274h1v1h-1zM157 284h1v1h-1zM149 288h1v1h-1zM125 289h1v1h-1z" fill="rgb(22, 32, 213)"/>
<path d="M141 253h1v1h-1zM134 279h1v1h-1zM135 282h1v1h-1zM131 283h1v1h-1z" fill="rgb(22, 34, 215)"/>
<path d="M143 253h1v1h-1zM118 289h1v1h-1zM148 289h1v1h-1z" fill="rgb(20, 20, 190)"/>
<path d="M144 253h1v1h-1zM116 257h1v1h-1zM115 264h1v1h-1zM132 272h1v1h-1zM115 278h1v1h-1z" fill="rgb(21, 29, 207)"/>
<path d="M129 254h1v1h-1zM155 256h1v1h-1zM138 273h1v1h-1zM141 285h1v1h-1z" fill="rgb(21, 28, 205)"/>
<path d="M133 254h1v1h-1z" fill="rgb(20, 22, 193)"/>
<path d="M136 254h1v1h-1zM149 256h1v1h-1zM127 257h1v1h-1zM151 257h1v1h-1zM140 270h1v1h-1zM126 276h1v1h-1zM149 284h1v1h-1zM150 285h1v1h-1zM154 285h1v1h-1zM118 287h1v1h-1z" fill="rgb(24, 46, 239)"/>
<path d="M139 254h1v1h-1zM141 255h1v1h-1zM125 256h1v1h-1zM152 256h1v1h-1zM115 260h1v1h-1zM130 269h1v1h-1zM116 270h1v1h-1zM142 273h1v1h-1zM156 273h1v1h-1zM128 276h1v1h-1zM141 276h1v1h-1zM141 277h1v1h-1zM133 282h1v1h-1zM157 282h1v1h-1zM149 287h1v1h-1z" fill="rgb(23, 39, 225)"/>
<path d="M140 254h1v1h-1zM150 256h1v1h-1zM129 272h1v1h-1zM139 275h1v1h-1zM142 282h1v1h-1z" fill="rgb(22, 34, 217)"/>
<path d="M142 254h1v1h-1zM121 255h1v1h-1zM128 255h1v1h-1zM119 256h1v1h-1zM159 268h1v1h-1zM136 271h1v1h-1zM136 275h1v1h-1zM132 279h1v1h-1zM134 281h1v1h-1zM158 283h1v1h-1zM134 284h1v1h-1zM155 287h1v1h-1zM154 289h1v1h-1z" fill="rgb(22, 33, 215)"/>
<path d="M144 254h1v1h-1zM158 267h1v1h-1zM141 273h1v1h-1zM128 274h1v1h-1zM132 274h1v1h-1zM141 275h1v1h-1zM158 276h1v1h-1zM140 277h1v1h-1zM134 278h1v1h-1zM115 281h1v1h-1zM142 284h1v1h-1zM143 285h1v1h-1zM144 287h1v1h-1zM118 288h1v1h-1zM148 288h1v1h-1z" fill="rgb(22, 35, 218)"/>
<path d="M146 254h1v1h-1z" fill="rgb(20, 22, 195)"/>
<path d="M147 254h1v1h-1zM132 277h1v1h-1z" fill="rgb(21, 28, 204)"/>
<path d="M148 254h1v1h-1zM121 256h1v1h-1zM132 273h1v1h-1zM136 277h1v1h-1zM133 281h1v1h-1zM140 283h1v1h-1zM115 286h1v1h-1zM115 287h1v1h-1z" fill="rgb(21, 31, 211)"/>
<path d="M149 254h1v1h-1zM118 256h1v1h-1zM117 258h1v1h-1zM135 279h1v1h-1z" fill="rgb(21, 31, 210)"/>
<path d="M123 255h1v1h-1zM158 260h1v1h-1zM140 276h1v1h-1z" fill="rgb(20, 24, 197)"/>
<path d="M127 255h1v1h-1zM135 278h1v1h-1zM141 282h1v1h-1zM141 284h1v1h-1zM150 288h1v1h-1z" fill="rgb(21, 27, 204)"/>
<path d="M130 255h1v1h-1z" fill="rgb(21, 30, 210)"/>
<path d="M133 255h1v1h-1zM151 256h1v1h-1zM130 277h1v1h-1z" fill="rgb(23, 40, 226)"/>
<path d="M134 255h1v1h-1zM146 255h1v1h-1zM116 256h1v1h-1zM130 257h1v1h-1zM131 269h1v1h-1zM156 284h1v1h-1zM116 287h1v1h-1z" fill="rgb(22, 36, 219)"/>
<path d="M135 255h1v1h-1zM142 255h1v1h-1zM124 257h1v1h-1zM129 257h1v1h-1zM118 258h1v1h-1zM129 258h1v1h-1zM117 266h1v1h-1zM117 269h1v1h-1zM134 269h1v1h-1zM118 271h1v1h-1zM128 271h1v1h-1zM157 271h1v1h-1zM115 277h1v1h-1zM143 278h1v1h-1zM156 279h1v1h-1zM154 281h1v1h-1zM129 283h1v1h-1zM148 283h1v1h-1zM148 286h1v1h-1zM120 287h1v1h-1zM121 287h1v1h-1z" fill="rgb(24, 45, 236)"/>
<path d="M136 255h1v1h-1zM136 256h1v1h-1zM119 257h1v1h-1zM119 273h1v1h-1zM138 275h1v1h-1zM129 281h1v1h-1zM117 284h1v1h-1zM121 288h1v1h-1z" fill="rgb(24, 44, 234)"/>
<path d="M138 255h1v1h-1zM140 256h1v1h-1zM134 257h1v1h-1zM117 259h1v1h-1zM127 259h1v1h-1zM125 271h1v1h-1zM154 274h1v1h-1zM126 275h1v1h-1zM153 282h1v1h-1zM154 282h1v1h-1zM156 283h1v1h-1zM154 286h1v1h-1z" fill="rgb(24, 49, 243)"/>
<path d="M139 255h1v1h-1zM154 259h1v1h-1zM157 260h1v1h-1zM133 269h1v1h-1zM134 270h1v1h-1zM130 272h1v1h-1zM126 273h1v1h-1zM142 275h1v1h-1zM150 275h1v1h-1zM129 276h1v1h-1zM142 279h1v1h-1zM129 280h1v1h-1zM124 287h1v1h-1z" fill="rgb(24, 46, 238)"/>
<path d="M140 255h1v1h-1zM122 257h1v1h-1zM153 257h1v1h-1zM118 273h1v1h-1zM129 273h1v1h-1z" fill="rgb(23, 42, 230)"/>
<path d="M143 255h1v1h-1zM157 263h1v1h-1zM130 279h1v1h-1zM143 283h1v1h-1zM146 286h1v1h-1z" fill="rgb(23, 40, 228)"/>
<path d="M144 255h1v1h-1zM159 264h1v1h-1zM158 265h1v1h-1zM135 272h1v1h-1zM115 280h1v1h-1zM135 284h1v1h-1zM133 285h1v1h-1zM135 287h1v1h-1zM119 289h1v1h-1z" fill="rgb(22, 34, 216)"/>
<path d="M148 255h1v1h-1zM116 267h1v1h-1zM129 271h1v1h-1zM132 278h1v1h-1zM146 287h1v1h-1zM154 287h1v1h-1z" fill="rgb(23, 39, 226)"/>
<path d="M153 255h1v1h-1zM128 257h1v1h-1zM135 270h1v1h-1zM134 271h1v1h-1zM140 271h1v1h-1zM134 272h1v1h-1zM139 272h1v1h-1zM129 274h1v1h-1zM116 279h1v1h-1zM130 282h1v1h-1zM115 283h1v1h-1zM144 288h1v1h-1zM128 289h1v1h-1z" fill="rgb(22, 36, 220)"/>
<path d="M155 255h1v1h-1zM121 257h1v1h-1zM137 271h1v1h-1zM115 275h1v1h-1zM134 276h1v1h-1zM133 278h1v1h-1zM137 280h1v1h-1zM141 280h1v1h-1zM135 283h1v1h-1zM136 283h1v1h-1zM141 283h1v1h-1zM127 289h1v1h-1z" fill="rgb(22, 32, 212)"/>
<path d="M120 256h1v1h-1zM158 258h1v1h-1zM130 273h1v1h-1zM133 279h1v1h-1zM140 287h1v1h-1z" fill="rgb(21, 30, 208)"/>
<path d="M123 256h1v1h-1zM120 257h1v1h-1zM131 268h1v1h-1zM157 268h1v1h-1zM116 271h1v1h-1zM142 277h1v1h-1zM129 278h1v1h-1zM154 284h1v1h-1zM144 286h1v1h-1z" fill="rgb(24, 44, 235)"/>
<path d="M126 256h1v1h-1zM132 256h1v1h-1zM122 258h1v1h-1zM129 269h1v1h-1zM116 278h1v1h-1zM154 278h1v1h-1zM137 279h1v1h-1z" fill="rgb(23, 40, 227)"/>
<path d="M127 256h1v1h-1zM130 256h1v1h-1zM130 266h1v1h-1zM157 267h1v1h-1zM120 270h1v1h-1zM119 272h1v1h-1zM123 272h1v1h-1zM155 273h1v1h-1zM153 276h1v1h-1zM155 277h1v1h-1zM145 279h1v1h-1zM146 280h1v1h-1zM153 280h1v1h-1z" fill="rgb(23, 56, 245)"/>
<path d="M133 256h1v1h-1zM121 259h1v1h-1zM120 267h1v1h-1zM135 268h1v1h-1zM126 272h1v1h-1zM155 274h1v1h-1zM128 275h1v1h-1zM123 276h1v1h-1zM124 276h1v1h-1zM119 277h1v1h-1zM120 278h1v1h-1zM151 280h1v1h-1zM155 281h1v1h-1zM144 283h1v1h-1z" fill="rgb(22, 61, 246)"/>
<path d="M134 256h1v1h-1zM147 256h1v1h-1zM120 258h1v1h-1zM157 264h1v1h-1zM152 273h1v1h-1zM129 277h1v1h-1zM127 286h1v1h-1zM150 286h1v1h-1zM129 287h1v1h-1z" fill="rgb(24, 45, 237)"/>
<path d="M135 256h1v1h-1zM153 259h1v1h-1zM117 260h1v1h-1zM156 270h1v1h-1zM121 271h1v1h-1zM121 273h1v1h-1zM148 274h1v1h-1zM147 275h1v1h-1zM146 276h1v1h-1zM120 286h1v1h-1zM145 286h1v1h-1z" fill="rgb(17, 84, 249)"/>
<path d="M137 256h1v1h-1zM146 256h1v1h-1zM125 273h1v1h-1zM145 285h1v1h-1z" fill="rgb(23, 55, 245)"/>
<path d="M138 256h1v1h-1zM116 263h1v1h-1zM137 269h1v1h-1zM154 276h1v1h-1zM148 278h1v1h-1zM143 280h1v1h-1zM128 286h1v1h-1z" fill="rgb(22, 62, 246)"/>
<path d="M139 256h1v1h-1zM125 284h1v1h-1z" fill="rgb(6, 150, 247)"/>
<path d="M141 256h1v1h-1zM140 257h1v1h-1zM124 266h1v1h-1zM133 266h1v1h-1z" fill="rgb(10, 117, 254)"/>
<path d="M142 256h1v1h-1zM137 257h1v1h-1zM123 258h1v1h-1z" fill="rgb(11, 112, 253)"/>
<path d="M143 256h1v1h-1zM126 267h1v1h-1zM123 270h1v1h-1zM145 284h1v1h-1z" fill="rgb(18, 82, 249)"/>
<path d="M144 256h1v1h-1zM133 258h1v1h-1zM119 259h1v1h-1zM155 267h1v1h-1zM156 268h1v1h-1zM153 277h1v1h-1zM153 281h1v1h-1zM145 282h1v1h-1z" fill="rgb(16, 91, 250)"/>
<path d="M145 256h1v1h-1zM151 273h1v1h-1zM120 279h1v1h-1z" fill="rgb(9, 127, 253)"/>
<path d="M148 256h1v1h-1zM116 260h1v1h-1zM137 268h1v1h-1zM126 269h1v1h-1zM124 272h1v1h-1zM124 273h1v1h-1zM117 280h1v1h-1zM150 282h1v1h-1zM152 282h1v1h-1zM152 283h1v1h-1zM147 286h1v1h-1z" fill="rgb(22, 60, 246)"/>
<path d="M154 256h1v1h-1zM140 280h1v1h-1zM133 284h1v1h-1z" fill="rgb(21, 29, 206)"/>
<path d="M125 257h1v1h-1zM158 268h1v1h-1zM140 272h1v1h-1zM116 277h1v1h-1zM131 285h1v1h-1zM135 285h1v1h-1zM153 286h1v1h-1zM126 288h1v1h-1z" fill="rgb(22, 37, 222)"/>
<path d="M126 257h1v1h-1zM155 258h1v1h-1zM129 268h1v1h-1zM132 268h1v1h-1zM129 270h1v1h-1zM117 271h1v1h-1zM132 271h1v1h-1zM116 274h1v1h-1zM154 288h1v1h-1z" fill="rgb(23, 43, 232)"/>
<path d="M131 257h1v1h-1zM128 260h1v1h-1zM134 268h1v1h-1zM122 269h1v1h-1zM128 273h1v1h-1zM127 275h1v1h-1zM154 275h1v1h-1zM153 278h1v1h-1zM118 286h1v1h-1z" fill="rgb(20, 72, 248)"/>
<path d="M132 257h1v1h-1zM148 257h1v1h-1zM150 257h1v1h-1zM129 267h1v1h-1zM124 268h1v1h-1zM119 270h1v1h-1zM120 271h1v1h-1zM122 271h1v1h-1zM155 272h1v1h-1zM144 274h1v1h-1zM144 275h1v1h-1zM155 275h1v1h-1zM119 276h1v1h-1zM127 276h1v1h-1zM154 277h1v1h-1zM116 282h1v1h-1zM155 282h1v1h-1zM154 283h1v1h-1zM152 285h1v1h-1zM121 286h1v1h-1z" fill="rgb(24, 49, 244)"/>
<path d="M133 257h1v1h-1zM121 269h1v1h-1zM128 269h1v1h-1zM121 270h1v1h-1zM117 272h1v1h-1zM118 272h1v1h-1zM127 273h1v1h-1zM117 274h1v1h-1zM125 274h1v1h-1zM117 275h1v1h-1zM155 276h1v1h-1zM155 278h1v1h-1zM143 281h1v1h-1zM146 285h1v1h-1z" fill="rgb(24, 48, 242)"/>
<path d="M135 257h1v1h-1zM130 261h1v1h-1zM148 277h1v1h-1zM156 278h1v1h-1zM118 279h1v1h-1zM147 283h1v1h-1z" fill="rgb(21, 66, 247)"/>
<path d="M136 257h1v1h-1zM154 266h1v1h-1zM128 267h1v1h-1z" fill="rgb(3, 173, 241)"/>
<path d="M138 257h1v1h-1z" fill="rgb(8, 134, 251)"/>
<path d="M139 257h1v1h-1zM154 264h1v1h-1z" fill="rgb(5, 154, 246)"/>
<path d="M141 257h1v1h-1z" fill="rgb(2, 203, 217)"/>
<path d="M142 257h1v1h-1zM118 263h1v1h-1zM127 270h1v1h-1zM127 272h1v1h-1zM120 274h1v1h-1zM146 274h1v1h-1zM127 277h1v1h-1z" fill="rgb(15, 93, 251)"/>
<path d="M143 257h1v1h-1z" fill="rgb(1, 201, 225)"/>
<path d="M144 257h1v1h-1zM130 267h1v1h-1zM119 278h1v1h-1zM119 281h1v1h-1zM125 285h1v1h-1z" fill="rgb(9, 124, 253)"/>
<path d="M145 257h1v1h-1z" fill="rgb(8, 135, 251)"/>
<path d="M146 257h1v1h-1zM147 282h1v1h-1z" fill="rgb(10, 119, 254)"/>
<path d="M147 257h1v1h-1zM148 275h1v1h-1z" fill="rgb(10, 115, 254)"/>
<path d="M149 257h1v1h-1zM130 259h1v1h-1zM117 265h1v1h-1zM118 283h1v1h-1z" fill="rgb(18, 78, 249)"/>
<path d="M154 257h1v1h-1zM124 258h1v1h-1zM155 259h1v1h-1zM157 262h1v1h-1zM128 270h1v1h-1zM126 271h1v1h-1zM127 271h1v1h-1zM126 274h1v1h-1zM130 283h1v1h-1zM152 286h1v1h-1z" fill="rgb(24, 47, 240)"/>
<path d="M155 257h1v1h-1zM136 270h1v1h-1zM153 287h1v1h-1z" fill="rgb(23, 41, 230)"/>
<path d="M115 258h1v1h-1zM130 268h1v1h-1zM138 270h1v1h-1zM139 271h1v1h-1zM134 277h1v1h-1zM156 281h1v1h-1zM156 282h1v1h-1zM155 286h1v1h-1zM128 287h1v1h-1z" fill="rgb(23, 38, 223)"/>
<path d="M116 258h1v1h-1zM158 264h1v1h-1zM159 266h1v1h-1zM141 271h1v1h-1zM156 277h1v1h-1zM142 283h1v1h-1zM129 284h1v1h-1zM149 286h1v1h-1zM147 287h1v1h-1zM147 288h1v1h-1z" fill="rgb(23, 41, 229)"/>
<path d="M119 258h1v1h-1zM143 271h1v1h-1zM156 271h1v1h-1zM128 281h1v1h-1zM144 282h1v1h-1z" fill="rgb(20, 68, 247)"/>
<path d="M121 258h1v1h-1zM158 259h1v1h-1zM156 276h1v1h-1zM144 285h1v1h-1zM127 287h1v1h-1zM127 288h1v1h-1z" fill="rgb(23, 42, 231)"/>
<path d="M125 258h1v1h-1zM143 274h1v1h-1zM127 278h1v1h-1zM149 281h1v1h-1zM155 284h1v1h-1z" fill="rgb(21, 64, 247)"/>
<path d="M126 258h1v1h-1zM153 258h1v1h-1zM116 265h1v1h-1zM122 272h1v1h-1zM117 277h1v1h-1zM117 279h1v1h-1z" fill="rgb(24, 46, 237)"/>
<path d="M127 258h1v1h-1zM154 258h1v1h-1zM127 260h1v1h-1zM117 264h1v1h-1zM146 284h1v1h-1zM147 284h1v1h-1z" fill="rgb(20, 69, 247)"/>
<path d="M128 258h1v1h-1zM152 259h1v1h-1zM124 269h1v1h-1z" fill="rgb(13, 101, 252)"/>
<path d="M130 258h1v1h-1zM125 268h1v1h-1zM146 275h1v1h-1zM152 276h1v1h-1zM145 277h1v1h-1zM116 283h1v1h-1z" fill="rgb(20, 71, 248)"/>
<path d="M131 258h1v1h-1zM129 264h1v1h-1zM154 273h1v1h-1zM122 274h1v1h-1zM143 276h1v1h-1zM129 279h1v1h-1zM117 282h1v1h-1zM149 282h1v1h-1z" fill="rgb(21, 65, 247)"/>
<path d="M132 258h1v1h-1zM142 274h1v1h-1zM144 279h1v1h-1z" fill="rgb(24, 50, 245)"/>
<path d="M134 258h1v1h-1z" fill="rgb(7, 138, 250)"/>
<path d="M135 258h1v1h-1z" fill="rgb(3, 204, 207)"/>
<path d="M136 258h1v1h-1z" fill="rgb(10, 213, 159)"/>
<path d="M137 258h1v1h-1z" fill="rgb(4, 206, 200)"/>
<path d="M138 258h1v1h-1zM123 260h1v1h-1z" fill="rgb(2, 179, 240)"/>
<path d="M139 258h1v1h-1zM137 259h1v1h-1zM136 260h1v1h-1zM135 264h1v1h-1zM123 280h1v1h-1z" fill="rgb(20, 225, 89)"/>
<path d="M140 258h1v1h-1zM153 270h1v1h-1z" fill="rgb(19, 223, 96)"/>
<path d="M141 258h1v1h-1zM148 260h1v1h-1z" fill="rgb(22, 225, 87)"/>
<path d="M142 258h1v1h-1zM148 270h1v1h-1z" fill="rgb(16, 220, 118)"/>
<path d="M143 258h1v1h-1zM151 269h1v1h-1z" fill="rgb(24, 226, 84)"/>
<path d="M144 258h1v1h-1zM138 260h1v1h-1zM149 263h1v1h-1zM146 266h1v1h-1z" fill="rgb(37, 229, 68)"/>
<path d="M145 258h1v1h-1zM145 268h1v1h-1zM149 270h1v1h-1z" fill="rgb(29, 227, 78)"/>
<path d="M146 258h1v1h-1z" fill="rgb(20, 225, 88)"/>
<path d="M147 258h1v1h-1z" fill="rgb(5, 206, 198)"/>
<path d="M148 258h1v1h-1zM117 263h1v1h-1zM138 267h1v1h-1zM143 270h1v1h-1zM121 278h1v1h-1zM117 281h1v1h-1zM122 283h1v1h-1z" fill="rgb(8, 133, 251)"/>
<path d="M149 258h1v1h-1zM131 262h1v1h-1zM154 262h1v1h-1zM142 268h1v1h-1z" fill="rgb(11, 114, 254)"/>
<path d="M150 258h1v1h-1zM129 260h1v1h-1zM152 260h1v1h-1zM131 266h1v1h-1zM128 279h1v1h-1z" fill="rgb(14, 99, 252)"/>
<path d="M151 258h1v1h-1zM140 269h1v1h-1zM141 269h1v1h-1zM153 272h1v1h-1zM122 273h1v1h-1z" fill="rgb(16, 89, 250)"/>
<path d="M152 258h1v1h-1zM125 270h1v1h-1zM123 274h1v1h-1zM147 285h1v1h-1z" fill="rgb(23, 57, 246)"/>
<path d="M157 258h1v1h-1zM156 262h1v1h-1zM158 270h1v1h-1zM131 281h1v1h-1zM138 281h1v1h-1zM130 285h1v1h-1zM155 285h1v1h-1zM123 287h1v1h-1z" fill="rgb(23, 41, 228)"/>
<path d="M116 259h1v1h-1zM116 264h1v1h-1zM141 270h1v1h-1zM142 278h1v1h-1zM148 285h1v1h-1zM142 286h1v1h-1zM122 287h1v1h-1zM123 288h1v1h-1zM124 288h1v1h-1z" fill="rgb(23, 43, 233)"/>
<path d="M118 259h1v1h-1zM132 263h1v1h-1zM121 268h1v1h-1zM119 271h1v1h-1zM125 272h1v1h-1zM148 281h1v1h-1zM117 283h1v1h-1z" fill="rgb(19, 75, 248)"/>
<path d="M120 259h1v1h-1zM119 269h1v1h-1zM144 278h1v1h-1zM147 278h1v1h-1zM152 278h1v1h-1zM127 280h1v1h-1z" fill="rgb(22, 63, 246)"/>
<path d="M122 259h1v1h-1zM130 265h1v1h-1zM135 266h1v1h-1zM127 267h1v1h-1zM150 277h1v1h-1zM152 279h1v1h-1zM118 280h1v1h-1zM145 280h1v1h-1z" fill="rgb(14, 98, 251)"/>
<path d="M123 259h1v1h-1z" fill="rgb(5, 155, 246)"/>
<path d="M124 259h1v1h-1zM129 259h1v1h-1zM134 266h1v1h-1zM125 275h1v1h-1zM145 278h1v1h-1zM151 281h1v1h-1zM126 285h1v1h-1zM123 286h1v1h-1zM124 286h1v1h-1z" fill="rgb(19, 77, 248)"/>
<path d="M125 259h1v1h-1zM128 259h1v1h-1zM119 260h1v1h-1zM156 263h1v1h-1zM127 269h1v1h-1zM120 275h1v1h-1zM151 278h1v1h-1zM148 282h1v1h-1zM151 283h1v1h-1z" fill="rgb(20, 70, 247)"/>
<path d="M126 259h1v1h-1zM155 266h1v1h-1z" fill="rgb(4, 162, 244)"/>
<path d="M131 259h1v1h-1zM117 261h1v1h-1zM152 275h1v1h-1zM153 275h1v1h-1zM128 284h1v1h-1zM126 286h1v1h-1z" fill="rgb(16, 90, 250)"/>
<path d="M132 259h1v1h-1zM126 264h1v1h-1z" fill="rgb(4, 165, 243)"/>
<path d="M133 259h1v1h-1zM128 261h1v1h-1zM152 261h1v1h-1zM126 265h1v1h-1zM122 268h1v1h-1zM149 273h1v1h-1zM124 284h1v1h-1z" fill="rgb(5, 158, 245)"/>
<path d="M134 259h1v1h-1zM150 272h1v1h-1z" fill="rgb(1, 189, 237)"/>
<path d="M135 259h1v1h-1z" fill="rgb(6, 149, 247)"/>
<path d="M136 259h1v1h-1zM152 266h1v1h-1z" fill="rgb(18, 223, 100)"/>
<path d="M138 259h1v1h-1z" fill="rgb(26, 226, 82)"/>
<path d="M139 259h1v1h-1zM146 267h1v1h-1z" fill="rgb(36, 229, 69)"/>
<path d="M140 259h1v1h-1zM138 262h1v1h-1z" fill="rgb(40, 230, 64)"/>
<path d="M141 259h1v1h-1zM145 259h1v1h-1zM149 266h1v1h-1z" fill="rgb(46, 231, 56)"/>
<path d="M142 259h1v1h-1z" fill="rgb(59, 234, 41)"/>
<path d="M143 259h1v1h-1z" fill="rgb(57, 234, 42)"/>
<path d="M144 259h1v1h-1z" fill="rgb(56, 234, 43)"/>
<path d="M146 259h1v1h-1zM139 260h1v1h-1zM143 265h1v1h-1zM145 267h1v1h-1z" fill="rgb(49, 232, 53)"/>
<path d="M147 259h1v1h-1zM123 282h1v1h-1z" fill="rgb(23, 225, 86)"/>
<path d="M148 259h1v1h-1zM121 264h1v1h-1z" fill="rgb(13, 217, 134)"/>
<path d="M149 259h1v1h-1zM124 263h1v1h-1zM120 265h1v1h-1zM151 270h1v1h-1z" fill="rgb(8, 210, 172)"/>
<path d="M150 259h1v1h-1z" fill="rgb(4, 205, 200)"/>
<path d="M151 259h1v1h-1zM128 262h1v1h-1zM130 262h1v1h-1zM129 263h1v1h-1zM146 272h1v1h-1zM124 275h1v1h-1zM152 281h1v1h-1zM153 283h1v1h-1zM123 285h1v1h-1z" fill="rgb(12, 106, 253)"/>
<path d="M156 259h1v1h-1zM154 270h1v1h-1zM155 280h1v1h-1z" fill="rgb(14, 97, 251)"/>
<path d="M157 259h1v1h-1zM143 286h1v1h-1z" fill="rgb(23, 39, 224)"/>
<path d="M118 260h1v1h-1zM155 262h1v1h-1zM121 275h1v1h-1zM151 277h1v1h-1zM146 279h1v1h-1zM151 282h1v1h-1zM151 284h1v1h-1zM117 285h1v1h-1z" fill="rgb(17, 85, 250)"/>
<path d="M120 260h1v1h-1zM132 262h1v1h-1zM123 279h1v1h-1zM119 280h1v1h-1zM121 285h1v1h-1z" fill="rgb(3, 175, 241)"/>
<path d="M121 260h1v1h-1zM122 260h1v1h-1zM144 270h1v1h-1z" fill="rgb(4, 163, 244)"/>
<path d="M124 260h1v1h-1zM153 261h1v1h-1zM117 262h1v1h-1zM118 264h1v1h-1zM149 277h1v1h-1zM149 278h1v1h-1zM126 280h1v1h-1z" fill="rgb(12, 110, 253)"/>
<path d="M125 260h1v1h-1zM120 277h1v1h-1zM152 277h1v1h-1z" fill="rgb(8, 128, 252)"/>
<path d="M126 260h1v1h-1zM127 261h1v1h-1zM124 270h1v1h-1zM154 271h1v1h-1zM126 278h1v1h-1z" fill="rgb(11, 113, 254)"/>
<path d="M130 260h1v1h-1zM129 265h1v1h-1zM133 267h1v1h-1zM133 268h1v1h-1zM142 271h1v1h-1zM118 276h1v1h-1zM126 277h1v1h-1zM144 280h1v1h-1zM116 281h1v1h-1z" fill="rgb(24, 52, 245)"/>
<path d="M131 260h1v1h-1z" fill="rgb(6, 147, 248)"/>
<path d="M132 260h1v1h-1zM120 266h1v1h-1zM139 267h1v1h-1z" fill="rgb(3, 172, 241)"/>
<path d="M133 260h1v1h-1zM121 284h1v1h-1z" fill="rgb(3, 168, 242)"/>
<path d="M134 260h1v1h-1zM133 262h1v1h-1zM122 266h1v1h-1z" fill="rgb(4, 205, 205)"/>
<path d="M135 260h1v1h-1z" fill="rgb(3, 171, 242)"/>
<path d="M137 260h1v1h-1zM139 265h1v1h-1zM140 265h1v1h-1zM151 267h1v1h-1z" fill="rgb(31, 227, 75)"/>
<path d="M140 260h1v1h-1zM147 260h1v1h-1zM139 261h1v1h-1zM139 262h1v1h-1z" fill="rgb(55, 233, 45)"/>
<path d="M141 260h1v1h-1z" fill="rgb(214, 225, 12)"/>
<path d="M142 260h1v1h-1z" fill="rgb(239, 209, 4)"/>
<path d="M143 260h1v1h-1z" fill="rgb(255, 114, 0)"/>
<path d="M144 260h1v1h-1z" fill="rgb(248, 86, 1)"/>
<path d="M145 260h1v1h-1z" fill="rgb(226, 217, 8)"/>
<path d="M146 260h1v1h-1z" fill="rgb(102, 236, 33)"/>
<path d="M149 260h1v1h-1z" fill="rgb(9, 211, 165)"/>
<path d="M150 260h1v1h-1z" fill="rgb(10, 212, 159)"/>
<path d="M151 260h1v1h-1zM128 263h1v1h-1zM128 264h1v1h-1zM145 271h1v1h-1zM144 273h1v1h-1z" fill="rgb(10, 118, 254)"/>
<path d="M153 260h1v1h-1zM156 266h1v1h-1zM123 277h1v1h-1z" fill="rgb(20, 73, 248)"/>
<path d="M154 260h1v1h-1zM157 269h1v1h-1zM124 274h1v1h-1zM118 277h1v1h-1zM146 281h1v1h-1z" fill="rgb(22, 59, 246)"/>
<path d="M155 260h1v1h-1zM118 262h1v1h-1zM133 265h1v1h-1zM147 274h1v1h-1z" fill="rgb(11, 111, 253)"/>
<path d="M156 260h1v1h-1zM156 264h1v1h-1zM128 266h1v1h-1zM128 268h1v1h-1zM129 282h1v1h-1zM117 286h1v1h-1zM151 287h1v1h-1z" fill="rgb(24, 53, 245)"/>
<path d="M115 261h1v1h-1z" fill="rgb(20, 23, 197)"/>
<path d="M116 261h1v1h-1zM157 261h1v1h-1zM116 269h1v1h-1zM138 271h1v1h-1zM116 272h1v1h-1zM135 274h1v1h-1zM140 278h1v1h-1zM158 280h1v1h-1zM115 282h1v1h-1z" fill="rgb(23, 38, 224)"/>
<path d="M118 261h1v1h-1zM134 262h1v1h-1zM122 277h1v1h-1z" fill="rgb(8, 131, 252)"/>
<path d="M119 261h1v1h-1zM156 265h1v1h-1zM129 266h1v1h-1zM118 269h1v1h-1zM156 269h1v1h-1zM117 270h1v1h-1zM145 274h1v1h-1zM128 277h1v1h-1zM155 279h1v1h-1zM148 284h1v1h-1zM150 284h1v1h-1zM152 284h1v1h-1z" fill="rgb(19, 74, 248)"/>
<path d="M120 261h1v1h-1zM134 267h1v1h-1zM127 279h1v1h-1zM152 280h1v1h-1z" fill="rgb(14, 100, 252)"/>
<path d="M121 261h1v1h-1z" fill="rgb(1, 202, 220)"/>
<path d="M122 261h1v1h-1zM146 271h1v1h-1z" fill="rgb(0, 200, 229)"/>
<path d="M123 261h1v1h-1zM125 262h1v1h-1z" fill="rgb(2, 202, 219)"/>
<path d="M124 261h1v1h-1z" fill="rgb(1, 202, 223)"/>
<path d="M125 261h1v1h-1zM125 278h1v1h-1zM128 283h1v1h-1zM124 285h1v1h-1z" fill="rgb(9, 120, 254)"/>
<path d="M126 261h1v1h-1zM154 268h1v1h-1zM124 278h1v1h-1zM119 284h1v1h-1z" fill="rgb(6, 145, 248)"/>
<path d="M129 261h1v1h-1zM131 263h1v1h-1zM131 264h1v1h-1zM126 266h1v1h-1zM120 269h1v1h-1zM148 276h1v1h-1z" fill="rgb(13, 102, 252)"/>
<path d="M131 261h1v1h-1zM123 266h1v1h-1z" fill="rgb(3, 174, 241)"/>
<path d="M132 261h1v1h-1zM154 265h1v1h-1z" fill="rgb(4, 205, 203)"/>
<path d="M133 261h1v1h-1z" fill="rgb(3, 204, 209)"/>
<path d="M134 261h1v1h-1z" fill="rgb(0, 199, 235)"/>
<path d="M135 261h1v1h-1z" fill="rgb(3, 204, 210)"/>
<path d="M136 261h1v1h-1zM151 264h1v1h-1zM141 266h1v1h-1zM144 268h1v1h-1zM151 268h1v1h-1zM150 269h1v1h-1zM122 282h1v1h-1z" fill="rgb(28, 227, 79)"/>
<path d="M137 261h1v1h-1z" fill="rgb(25, 226, 83)"/>
<path d="M138 261h1v1h-1zM139 264h1v1h-1z" fill="rgb(41, 230, 62)"/>
<path d="M140 261h1v1h-1z" fill="rgb(96, 236, 34)"/>
<path d="M141 261h1v1h-1z" fill="rgb(153, 238, 25)"/>
<path d="M142 261h1v1h-1z" fill="rgb(249, 89, 1)"/>
<path d="M143 261h1v1h-1z" fill="rgb(232, 54, 5)"/>
<path d="M144 261h1v1h-1z" fill="rgb(236, 63, 4)"/>
<path d="M145 261h1v1h-1z" fill="rgb(247, 85, 1)"/>
<path d="M146 261h1v1h-1z" fill="rgb(229, 215, 7)"/>
<path d="M147 261h1v1h-1z" fill="rgb(78, 235, 37)"/>
<path d="M148 261h1v1h-1zM141 265h1v1h-1zM144 265h1v1h-1z" fill="rgb(45, 231, 58)"/>
<path d="M149 261h1v1h-1z" fill="rgb(9, 212, 163)"/>
<path d="M150 261h1v1h-1z" fill="rgb(17, 221, 109)"/>
<path d="M151 261h1v1h-1zM151 263h1v1h-1z" fill="rgb(15, 219, 122)"/>
<path d="M154 261h1v1h-1zM149 275h1v1h-1zM151 275h1v1h-1zM125 277h1v1h-1z" fill="rgb(15, 96, 251)"/>
<path d="M155 261h1v1h-1zM138 269h1v1h-1zM118 284h1v1h-1z" fill="rgb(12, 107, 253)"/>
<path d="M156 261h1v1h-1zM127 268h1v1h-1zM156 275h1v1h-1z" fill="rgb(24, 48, 243)"/>
<path d="M158 261h1v1h-1zM159 263h1v1h-1zM157 288h1v1h-1zM146 289h1v1h-1z" fill="rgb(21, 26, 201)"/>
<path d="M116 262h1v1h-1zM120 272h1v1h-1zM156 274h1v1h-1z" fill="rgb(21, 68, 247)"/>
<path d="M119 262h1v1h-1z" fill="rgb(8, 210, 173)"/>
<path d="M120 262h1v1h-1zM134 265h1v1h-1zM155 265h1v1h-1z" fill="rgb(2, 176, 240)"/>
<path d="M121 262h1v1h-1z" fill="rgb(10, 213, 158)"/>
<path d="M122 262h1v1h-1zM153 268h1v1h-1z" fill="rgb(2, 177, 240)"/>
<path d="M123 262h1v1h-1zM126 262h1v1h-1zM147 271h1v1h-1zM122 279h1v1h-1z" fill="rgb(1, 188, 237)"/>
<path d="M124 262h1v1h-1z" fill="rgb(3, 203, 212)"/>
<path d="M127 262h1v1h-1zM117 267h1v1h-1zM142 270h1v1h-1zM147 277h1v1h-1z" fill="rgb(12, 108, 253)"/>
<path d="M129 262h1v1h-1z" fill="rgb(11, 110, 253)"/>
<path d="M135 262h1v1h-1z" fill="rgb(21, 225, 87)"/>
<path d="M136 262h1v1h-1zM123 264h1v1h-1zM123 265h1v1h-1zM122 281h1v1h-1z" fill="rgb(21, 225, 88)"/>
<path d="M137 262h1v1h-1zM152 264h1v1h-1z" fill="rgb(30, 227, 76)"/>
<path d="M140 262h1v1h-1z" fill="rgb(124, 237, 30)"/>
<path d="M141 262h1v1h-1z" fill="rgb(146, 238, 26)"/>
<path d="M142 262h1v1h-1z" fill="rgb(255, 128, 0)"/>
<path d="M143 262h1v1h-1z" fill="rgb(255, 135, 0)"/>
<path d="M144 262h1v1h-1z" fill="rgb(235, 61, 4)"/>
<path d="M145 262h1v1h-1z" fill="rgb(255, 148, 0)"/>
<path d="M146 262h1v1h-1z" fill="rgb(151, 238, 25)"/>
<path d="M147 262h1v1h-1z" fill="rgb(79, 235, 36)"/>
<path d="M148 262h1v1h-1zM149 264h1v1h-1zM144 266h1v1h-1zM148 268h1v1h-1z" fill="rgb(43, 230, 60)"/>
<path d="M149 262h1v1h-1zM146 268h1v1h-1z" fill="rgb(26, 226, 81)"/>
<path d="M150 262h1v1h-1zM150 265h1v1h-1zM148 269h1v1h-1z" fill="rgb(34, 228, 71)"/>
<path d="M151 262h1v1h-1z" fill="rgb(11, 213, 155)"/>
<path d="M152 262h1v1h-1zM123 263h1v1h-1zM125 263h1v1h-1zM125 279h1v1h-1z" fill="rgb(2, 182, 239)"/>
<path d="M153 262h1v1h-1z" fill="rgb(5, 206, 195)"/>
<path d="M119 263h1v1h-1zM120 264h1v1h-1z" fill="rgb(2, 203, 214)"/>
<path d="M120 263h1v1h-1z" fill="rgb(14, 218, 126)"/>
<path d="M121 263h1v1h-1z" fill="rgb(15, 218, 125)"/>
<path d="M122 263h1v1h-1zM124 264h1v1h-1z" fill="rgb(11, 214, 151)"/>
<path d="M126 263h1v1h-1zM148 273h1v1h-1zM147 279h1v1h-1z" fill="rgb(12, 109, 253)"/>
<path d="M127 263h1v1h-1zM119 283h1v1h-1z" fill="rgb(3, 169, 242)"/>
<path d="M130 263h1v1h-1zM135 265h1v1h-1zM153 269h1v1h-1z" fill="rgb(1, 185, 238)"/>
<path d="M133 263h1v1h-1zM155 263h1v1h-1zM123 268h1v1h-1zM143 275h1v1h-1z" fill="rgb(16, 87, 250)"/>
<path d="M134 263h1v1h-1zM126 282h1v1h-1z" fill="rgb(2, 203, 216)"/>
<path d="M135 263h1v1h-1z" fill="rgb(4, 205, 202)"/>
<path d="M136 263h1v1h-1zM142 267h1v1h-1z" fill="rgb(9, 211, 167)"/>
<path d="M137 263h1v1h-1zM148 271h1v1h-1z" fill="rgb(7, 209, 179)"/>
<path d="M138 263h1v1h-1zM151 266h1v1h-1zM143 267h1v1h-1zM146 269h1v1h-1zM147 269h1v1h-1z" fill="rgb(27, 226, 80)"/>
<path d="M139 263h1v1h-1zM147 268h1v1h-1z" fill="rgb(35, 228, 70)"/>
<path d="M140 263h1v1h-1zM148 263h1v1h-1z" fill="rgb(53, 233, 47)"/>
<path d="M141 263h1v1h-1z" fill="rgb(67, 235, 38)"/>
<path d="M142 263h1v1h-1z" fill="rgb(145, 238, 26)"/>
<path d="M143 263h1v1h-1z" fill="rgb(212, 226, 13)"/>
<path d="M144 263h1v1h-1z" fill="rgb(197, 235, 17)"/>
<path d="M145 263h1v1h-1z" fill="rgb(200, 233, 16)"/>
<path d="M146 263h1v1h-1zM147 265h1v1h-1z" fill="rgb(46, 231, 57)"/>
<path d="M147 263h1v1h-1zM140 264h1v1h-1zM149 268h1v1h-1z" fill="rgb(48, 232, 54)"/>
<path d="M150 263h1v1h-1z" fill="rgb(18, 223, 97)"/>
<path d="M152 263h1v1h-1zM119 282h1v1h-1z" fill="rgb(1, 201, 227)"/>
<path d="M153 263h1v1h-1zM126 279h1v1h-1z" fill="rgb(4, 164, 243)"/>
<path d="M154 263h1v1h-1zM149 272h1v1h-1zM124 280h1v1h-1z" fill="rgb(1, 190, 237)"/>
<path d="M119 264h1v1h-1zM119 267h1v1h-1zM125 283h1v1h-1z" fill="rgb(3, 170, 242)"/>
<path d="M122 264h1v1h-1z" fill="rgb(8, 211, 169)"/>
<path d="M125 264h1v1h-1z" fill="rgb(12, 215, 146)"/>
<path d="M127 264h1v1h-1zM154 269h1v1h-1zM121 283h1v1h-1z" fill="rgb(1, 187, 238)"/>
<path d="M130 264h1v1h-1zM131 265h1v1h-1zM136 266h1v1h-1zM147 276h1v1h-1zM128 282h1v1h-1zM149 283h1v1h-1z" fill="rgb(13, 103, 252)"/>
<path d="M132 264h1v1h-1zM123 269h1v1h-1zM154 272h1v1h-1zM121 274h1v1h-1zM151 274h1v1h-1zM152 274h1v1h-1zM153 279h1v1h-1zM151 285h1v1h-1z" fill="rgb(18, 79, 249)"/>
<path d="M133 264h1v1h-1zM125 266h1v1h-1zM155 269h1v1h-1zM144 272h1v1h-1zM121 277h1v1h-1zM119 286h1v1h-1z" fill="rgb(13, 104, 252)"/>
<path d="M134 264h1v1h-1zM122 276h1v1h-1z" fill="rgb(7, 140, 249)"/>
<path d="M136 264h1v1h-1z" fill="rgb(11, 214, 150)"/>
<path d="M137 264h1v1h-1zM150 268h1v1h-1z" fill="rgb(31, 227, 76)"/>
<path d="M138 264h1v1h-1zM142 266h1v1h-1z" fill="rgb(32, 228, 73)"/>
<path d="M141 264h1v1h-1zM145 266h1v1h-1z" fill="rgb(41, 230, 63)"/>
<path d="M142 264h1v1h-1z" fill="rgb(105, 236, 33)"/>
<path d="M143 264h1v1h-1zM148 266h1v1h-1z" fill="rgb(56, 234, 44)"/>
<path d="M144 264h1v1h-1z" fill="rgb(112, 237, 31)"/>
<path d="M145 264h1v1h-1z" fill="rgb(77, 235, 37)"/>
<path d="M146 264h1v1h-1z" fill="rgb(130, 237, 29)"/>
<path d="M147 264h1v1h-1z" fill="rgb(73, 235, 37)"/>
<path d="M148 264h1v1h-1z" fill="rgb(59, 234, 40)"/>
<path d="M150 264h1v1h-1z" fill="rgb(32, 228, 74)"/>
<path d="M153 264h1v1h-1z" fill="rgb(5, 207, 194)"/>
<path d="M155 264h1v1h-1zM135 267h1v1h-1zM146 277h1v1h-1zM127 281h1v1h-1zM144 281h1v1h-1zM146 283h1v1h-1z" fill="rgb(19, 76, 248)"/>
<path d="M118 265h1v1h-1zM125 286h1v1h-1z" fill="rgb(4, 167, 243)"/>
<path d="M119 265h1v1h-1z" fill="rgb(6, 207, 190)"/>
<path d="M121 265h1v1h-1zM122 265h1v1h-1z" fill="rgb(17, 221, 110)"/>
<path d="M124 265h1v1h-1z" fill="rgb(5, 157, 245)"/>
<path d="M125 265h1v1h-1z" fill="rgb(4, 160, 244)"/>
<path d="M127 265h1v1h-1zM149 274h1v1h-1z" fill="rgb(7, 137, 250)"/>
<path d="M128 265h1v1h-1zM155 270h1v1h-1z" fill="rgb(5, 153, 246)"/>
<path d="M132 265h1v1h-1zM132 266h1v1h-1zM123 271h1v1h-1zM128 280h1v1h-1zM122 286h1v1h-1z" fill="rgb(17, 86, 250)"/>
<path d="M136 265h1v1h-1zM140 268h1v1h-1zM147 272h1v1h-1z" fill="rgb(0, 197, 235)"/>
<path d="M137 265h1v1h-1z" fill="rgb(10, 213, 156)"/>
<path d="M138 265h1v1h-1z" fill="rgb(16, 221, 112)"/>
<path d="M142 265h1v1h-1z" fill="rgb(40, 230, 63)"/>
<path d="M145 265h1v1h-1zM147 266h1v1h-1z" fill="rgb(53, 233, 48)"/>
<path d="M146 265h1v1h-1z" fill="rgb(61, 235, 39)"/>
<path d="M148 265h1v1h-1z" fill="rgb(47, 231, 55)"/>
<path d="M149 265h1v1h-1zM143 266h1v1h-1z" fill="rgb(44, 231, 58)"/>
<path d="M151 265h1v1h-1zM144 267h1v1h-1z" fill="rgb(33, 228, 72)"/>
<path d="M152 265h1v1h-1z" fill="rgb(7, 208, 183)"/>
<path d="M153 265h1v1h-1z" fill="rgb(12, 216, 141)"/>
<path d="M118 266h1v1h-1zM150 273h1v1h-1zM149 276h1v1h-1zM149 279h1v1h-1z" fill="rgb(10, 116, 254)"/>
<path d="M119 266h1v1h-1zM155 268h1v1h-1zM126 281h1v1h-1z" fill="rgb(4, 161, 244)"/>
<path d="M121 266h1v1h-1z" fill="rgb(0, 195, 236)"/>
<path d="M127 266h1v1h-1zM131 267h1v1h-1zM136 267h1v1h-1zM124 271h1v1h-1zM146 282h1v1h-1zM150 283h1v1h-1z" fill="rgb(18, 81, 249)"/>
<path d="M137 266h1v1h-1z" fill="rgb(0, 200, 231)"/>
<path d="M138 266h1v1h-1z" fill="rgb(29, 227, 77)"/>
<path d="M139 266h1v1h-1z" fill="rgb(15, 219, 121)"/>
<path d="M140 266h1v1h-1z" fill="rgb(17, 222, 105)"/>
<path d="M150 266h1v1h-1z" fill="rgb(33, 228, 73)"/>
<path d="M153 266h1v1h-1z" fill="rgb(13, 216, 140)"/>
<path d="M158 266h1v1h-1zM140 273h1v1h-1zM136 274h1v1h-1zM141 274h1v1h-1zM158 274h1v1h-1zM136 285h1v1h-1z" fill="rgb(22, 35, 217)"/>
<path d="M115 267h1v1h-1zM158 273h1v1h-1zM135 280h1v1h-1zM137 282h1v1h-1zM139 287h1v1h-1z" fill="rgb(21, 30, 209)"/>
<path d="M118 267h1v1h-1zM155 271h1v1h-1zM145 273h1v1h-1z" fill="rgb(15, 92, 251)"/>
<path d="M121 267h1v1h-1zM141 268h1v1h-1zM143 269h1v1h-1zM149 271h1v1h-1z" fill="rgb(1, 191, 237)"/>
<path d="M122 267h1v1h-1zM126 283h1v1h-1zM122 285h1v1h-1z" fill="rgb(6, 148, 247)"/>
<path d="M123 267h1v1h-1zM136 268h1v1h-1z" fill="rgb(6, 151, 247)"/>
<path d="M124 267h1v1h-1zM127 283h1v1h-1z" fill="rgb(5, 156, 245)"/>
<path d="M125 267h1v1h-1zM127 274h1v1h-1zM150 287h1v1h-1z" fill="rgb(24, 51, 245)"/>
<path d="M132 267h1v1h-1zM139 269h1v1h-1zM143 273h1v1h-1zM153 273h1v1h-1zM128 278h1v1h-1zM150 278h1v1h-1zM151 279h1v1h-1z" fill="rgb(15, 94, 251)"/>
<path d="M137 267h1v1h-1z" fill="rgb(1, 184, 238)"/>
<path d="M140 267h1v1h-1z" fill="rgb(11, 214, 149)"/>
<path d="M141 267h1v1h-1z" fill="rgb(5, 207, 192)"/>
<path d="M147 267h1v1h-1zM148 267h1v1h-1z" fill="rgb(52, 233, 49)"/>
<path d="M149 267h1v1h-1z" fill="rgb(42, 230, 62)"/>
<path d="M150 267h1v1h-1z" fill="rgb(38, 229, 66)"/>
<path d="M152 267h1v1h-1z" fill="rgb(13, 216, 138)"/>
<path d="M153 267h1v1h-1z" fill="rgb(1, 186, 238)"/>
<path d="M154 267h1v1h-1z" fill="rgb(1, 201, 224)"/>
<path d="M156 267h1v1h-1zM142 272h1v1h-1zM147 280h1v1h-1zM143 282h1v1h-1zM118 285h1v1h-1z" fill="rgb(24, 54, 245)"/>
<path d="M117 268h1v1h-1zM118 268h1v1h-1zM144 277h1v1h-1zM146 278h1v1h-1zM129 285h1v1h-1z" fill="rgb(24, 47, 239)"/>
<path d="M119 268h1v1h-1zM144 276h1v1h-1zM149 280h1v1h-1zM145 281h1v1h-1z" fill="rgb(23, 58, 246)"/>
<path d="M120 268h1v1h-1zM118 274h1v1h-1zM122 275h1v1h-1z" fill="rgb(21, 67, 247)"/>
<path d="M126 268h1v1h-1zM118 281h1v1h-1zM147 281h1v1h-1zM118 282h1v1h-1z" fill="rgb(13, 105, 252)"/>
<path d="M138 268h1v1h-1zM153 271h1v1h-1z" fill="rgb(7, 142, 249)"/>
<path d="M139 268h1v1h-1zM120 276h1v1h-1z" fill="rgb(8, 130, 252)"/>
<path d="M143 268h1v1h-1z" fill="rgb(6, 208, 186)"/>
<path d="M152 268h1v1h-1z" fill="rgb(10, 212, 160)"/>
<path d="M125 269h1v1h-1zM145 275h1v1h-1z" fill="rgb(23, 59, 246)"/>
<path d="M142 269h1v1h-1z" fill="rgb(1, 202, 222)"/>
<path d="M144 269h1v1h-1z" fill="rgb(5, 207, 191)"/>
<path d="M145 269h1v1h-1z" fill="rgb(27, 226, 81)"/>
<path d="M149 269h1v1h-1z" fill="rgb(44, 231, 59)"/>
<path d="M152 269h1v1h-1zM121 280h1v1h-1z" fill="rgb(4, 205, 201)"/>
<path d="M118 270h1v1h-1zM117 278h1v1h-1zM116 284h1v1h-1zM151 286h1v1h-1z" fill="rgb(24, 47, 241)"/>
<path d="M122 270h1v1h-1zM147 273h1v1h-1zM125 276h1v1h-1zM148 279h1v1h-1z" fill="rgb(15, 95, 251)"/>
<path d="M126 270h1v1h-1zM120 273h1v1h-1zM121 276h1v1h-1zM151 276h1v1h-1z" fill="rgb(16, 88, 250)"/>
<path d="M130 270h1v1h-1zM131 276h1v1h-1zM135 281h1v1h-1z" fill="rgb(20, 24, 198)"/>
<path d="M145 270h1v1h-1z" fill="rgb(7, 209, 177)"/>
<path d="M146 270h1v1h-1z" fill="rgb(2, 180, 239)"/>
<path d="M147 270h1v1h-1z" fill="rgb(18, 222, 101)"/>
<path d="M150 270h1v1h-1z" fill="rgb(22, 225, 86)"/>
<path d="M152 270h1v1h-1zM152 272h1v1h-1z" fill="rgb(0, 198, 235)"/>
<path d="M159 270h1v1h-1zM138 282h1v1h-1z" fill="rgb(20, 20, 191)"/>
<path d="M135 271h1v1h-1zM133 283h1v1h-1z" fill="rgb(22, 33, 213)"/>
<path d="M144 271h1v1h-1zM121 272h1v1h-1z" fill="rgb(9, 125, 253)"/>
<path d="M150 271h1v1h-1z" fill="rgb(8, 129, 252)"/>
<path d="M151 271h1v1h-1z" fill="rgb(8, 132, 251)"/>
<path d="M152 271h1v1h-1zM151 272h1v1h-1zM120 285h1v1h-1z" fill="rgb(6, 146, 248)"/>
<path d="M115 272h1v1h-1zM132 280h1v1h-1z" fill="rgb(22, 35, 219)"/>
<path d="M131 272h1v1h-1zM136 280h1v1h-1zM139 280h1v1h-1zM132 285h1v1h-1z" fill="rgb(21, 26, 202)"/>
<path d="M143 272h1v1h-1z" fill="rgb(14, 96, 251)"/>
<path d="M145 272h1v1h-1zM119 274h1v1h-1zM150 279h1v1h-1z" fill="rgb(18, 80, 249)"/>
<path d="M148 272h1v1h-1z" fill="rgb(6, 207, 189)"/>
<path d="M156 272h1v1h-1z" fill="rgb(17, 82, 249)"/>
<path d="M116 273h1v1h-1zM116 275h1v1h-1zM157 275h1v1h-1zM130 280h1v1h-1zM117 287h1v1h-1zM125 287h1v1h-1z" fill="rgb(22, 37, 221)"/>
<path d="M117 273h1v1h-1zM157 274h1v1h-1zM118 275h1v1h-1zM145 276h1v1h-1zM116 280h1v1h-1zM145 283h1v1h-1z" fill="rgb(24, 48, 241)"/>
<path d="M123 273h1v1h-1zM154 279h1v1h-1zM149 285h1v1h-1z" fill="rgb(19, 73, 248)"/>
<path d="M136 273h1v1h-1zM136 282h1v1h-1zM115 284h1v1h-1zM136 286h1v1h-1zM152 287h1v1h-1z" fill="rgb(21, 28, 206)"/>
<path d="M146 273h1v1h-1z" fill="rgb(6, 144, 248)"/>
<path d="M150 274h1v1h-1zM118 278h1v1h-1z" fill="rgb(9, 123, 254)"/>
<path d="M153 274h1v1h-1zM144 284h1v1h-1zM127 285h1v1h-1z" fill="rgb(23, 54, 245)"/>
<path d="M119 275h1v1h-1zM119 285h1v1h-1zM128 285h1v1h-1z" fill="rgb(17, 83, 249)"/>
<path d="M123 275h1v1h-1zM124 279h1v1h-1z" fill="rgb(7, 136, 250)"/>
<path d="M135 275h1v1h-1zM158 285h1v1h-1zM141 287h1v1h-1z" fill="rgb(21, 27, 203)"/>
<path d="M115 276h1v1h-1z" fill="rgb(20, 25, 200)"/>
<path d="M150 276h1v1h-1zM119 279h1v1h-1zM148 280h1v1h-1z" fill="rgb(7, 139, 250)"/>
<path d="M124 277h1v1h-1zM122 278h1v1h-1zM150 280h1v1h-1z" fill="rgb(9, 122, 254)"/>
<path d="M123 278h1v1h-1z" fill="rgb(7, 143, 249)"/>
<path d="M121 279h1v1h-1z" fill="rgb(12, 215, 142)"/>
<path d="M157 279h1v1h-1zM153 284h1v1h-1zM148 287h1v1h-1z" fill="rgb(24, 45, 235)"/>
<path d="M120 280h1v1h-1zM122 280h1v1h-1z" fill="rgb(9, 212, 162)"/>
<path d="M125 280h1v1h-1z" fill="rgb(6, 207, 191)"/>
<path d="M131 280h1v1h-1zM134 287h1v1h-1zM156 287h1v1h-1z" fill="rgb(20, 22, 194)"/>
<path d="M154 280h1v1h-1z" fill="rgb(14, 101, 252)"/>
<path d="M159 280h1v1h-1z" fill="rgb(21, 29, 208)"/>
<path d="M120 281h1v1h-1z" fill="rgb(19, 224, 93)"/>
<path d="M121 281h1v1h-1z" fill="rgb(9, 211, 166)"/>
<path d="M123 281h1v1h-1z" fill="rgb(16, 220, 113)"/>
<path d="M124 281h1v1h-1z" fill="rgb(12, 216, 140)"/>
<path d="M125 281h1v1h-1z" fill="rgb(0, 200, 232)"/>
<path d="M150 281h1v1h-1zM127 284h1v1h-1z" fill="rgb(17, 87, 250)"/>
<path d="M120 282h1v1h-1z" fill="rgb(2, 202, 217)"/>
<path d="M121 282h1v1h-1z" fill="rgb(2, 203, 213)"/>
<path d="M124 282h1v1h-1z" fill="rgb(15, 219, 119)"/>
<path d="M125 282h1v1h-1z" fill="rgb(6, 208, 185)"/>
<path d="M127 282h1v1h-1z" fill="rgb(9, 121, 254)"/>
<path d="M120 283h1v1h-1z" fill="rgb(2, 203, 215)"/>
<path d="M123 283h1v1h-1z" fill="rgb(18, 222, 102)"/>
<path d="M124 283h1v1h-1z" fill="rgb(5, 207, 193)"/>
<path d="M120 284h1v1h-1z" fill="rgb(2, 178, 240)"/>
<path d="M122 284h1v1h-1z" fill="rgb(15, 218, 126)"/>
<path d="M123 284h1v1h-1z" fill="rgb(17, 222, 104)"/>
<path d="M126 284h1v1h-1z" fill="rgb(0, 192, 236)"/>
<path d="M139 286h1v1h-1zM157 287h1v1h-1zM117 289h1v1h-1z" fill="rgb(20, 23, 196)"/>
<path d="M120 289h1v1h-1z" fill="rgb(20, 24, 199)"/>
<text x="117.3" y="218.8" font-size="9.2" fill="#111" text-anchor="start" font-weight="normal" stroke="#111" stroke-width="0.2" >donor #069</text>
<text x="0" y="0" font-size="9.4" fill="#111" stroke="#111" stroke-width="0.21" text-anchor="middle" dominant-baseline="central" transform="translate(106.9,258.2) rotate(-90)">KIR2DS4</text>
<text x="141" y="302.7" font-size="9.0" fill="#111" text-anchor="start" font-weight="normal" stroke="#111" stroke-width="0.2" >KIR3DL2</text>
<text x="221.6" y="9.4" font-size="11" fill="#000" text-anchor="start" font-weight="bold" >C</text>
<rect x="241.6" y="12.3" width="85" height="70.1" fill="none" stroke="#777" stroke-width="0.8" />
<path d="M246.7 82.4v2M241.6 78.19h-2M252.84 82.4v1.1M241.6 73.13h-1.1M256.43 82.4v1.1M241.6 70.17h-1.1M258.98 82.4v1.1M241.6 68.06h-1.1M260.96 82.4v1.1M241.6 66.43h-1.1M262.57 82.4v1.1M241.6 65.1h-1.1M263.94 82.4v1.1M241.6 63.98h-1.1M265.12 82.4v1.1M241.6 63h-1.1M266.17 82.4v1.1M241.6 62.14h-1.1M267.1 82.4v2M241.6 61.37h-2M273.24 82.4v1.1M241.6 56.31h-1.1M276.83 82.4v1.1M241.6 53.34h-1.1M279.38 82.4v1.1M241.6 51.24h-1.1M281.36 82.4v1.1M241.6 49.61h-1.1M282.97 82.4v1.1M241.6 48.28h-1.1M284.34 82.4v1.1M241.6 47.15h-1.1M285.52 82.4v1.1M241.6 46.18h-1.1M286.57 82.4v1.1M241.6 45.32h-1.1M287.5 82.4v2M241.6 44.55h-2M293.64 82.4v1.1M241.6 39.48h-1.1M297.23 82.4v1.1M241.6 36.52h-1.1M299.78 82.4v1.1M241.6 34.42h-1.1M301.76 82.4v1.1M241.6 32.79h-1.1M303.37 82.4v1.1M241.6 31.45h-1.1M304.74 82.4v1.1M241.6 30.33h-1.1M305.92 82.4v1.1M241.6 29.35h-1.1M306.97 82.4v1.1M241.6 28.49h-1.1M307.9 82.4v2M241.6 27.72h-2M241.6 82.4v1.1M241.6 82.4h-1.1M243.3 82.4v1.1M241.6 81h-1.1M245 82.4v1.1M241.6 79.6h-1.1" stroke="#555" stroke-width="0.45" fill="none"/>
<path d="M257.5 54.6h.6M245.9 45.1h.6M255.1 53.4h.6M255.9 50.6h.6M261.2 45.5h.6M247.6 52.1h.6M248.4 44.4h.6M255.3 53.0h.6M248.5 44.1h.6M254.1 42.7h.6M260.7 47.6h.6M244.6 46.5h.6M246.7 54.0h.6M252.0 56.4h.6M254.6 45.2h.6M245.6 49.7h.6M256.5 51.4h.6M245.9 50.9h.6M247.4 42.0h.6M257.3 44.7h.6M256.8 49.7h.6M246.2 55.2h.6M257.4 44.8h.6M248.3 52.7h.6M255.1 54.1h.6M244.0 50.3h.6M257.0 50.5h.6M256.3 41.9h.6M248.7 54.4h.6M256.3 51.5h.6M258.5 49.6h.6M246.3 49.6h.6M250.6 41.2h.6M257.5 50.9h.6M256.3 45.0h.6M254.0 41.5h.6M255.8 51.4h.6M248.9 56.3h.6M252.5 54.3h.6M250.8 55.9h.6M259.4 45.7h.6M243.0 51.8h.6M251.1 43.2h.6M256.4 50.7h.6M251.5 58.7h.6M250.9 42.5h.6M246.1 41.1h.6M252.6 42.1h.6M254.2 52.3h.6M255.7 53.7h.6M252.5 43.4h.6M251.5 43.5h.6M247.1 53.1h.6M256.8 48.6h.6M251.5 56.8h.6M261.7 52.4h.6M247.0 44.2h.6M242.2 48.7h.6M245.5 44.2h.6M257.8 50.1h.6M245.7 46.8h.6M248.7 53.1h.6M248.2 52.3h.6M248.7 53.8h.6M260.9 43.2h.6M257.5 52.1h.6M257.8 47.2h.6M248.4 40.8h.6M254.0 41.7h.6M255.6 53.7h.6M257.4 50.4h.6M249.9 42.7h.6M251.6 43.4h.6M253.9 39.1h.6M254.9 52.5h.6M244.5 48.7h.6M245.6 44.6h.6M251.7 55.2h.6M244.1 56.7h.6M249.7 54.0h.6M245.4 51.7h.6M248.6 44.1h.6M250.7 57.2h.6M258.1 52.9h.6M246.1 47.1h.6M255.1 53.8h.6M252.5 43.3h.6M255.5 45.8h.6M249.5 53.4h.6M247.9 53.3h.6M256.0 44.3h.6M250.9 41.6h.6M252.7 42.2h.6M245.1 46.2h.6M244.9 46.5h.6M249.1 42.0h.6M246.1 48.7h.6M255.1 51.5h.6M244.0 55.4h.6M246.5 44.6h.6M242.8 52.3h.6M256.4 54.1h.6M246.2 51.3h.6M246.0 48.6h.6M245.2 48.2h.6M258.1 49.1h.6M244.1 50.3h.6M259.2 50.7h.6M245.5 51.5h.6M249.8 43.0h.6M250.0 53.3h.6M254.9 44.8h.6M244.7 51.1h.6M250.4 39.9h.6M257.8 51.9h.6M247.9 52.1h.6M256.4 50.9h.6M252.2 53.5h.6M250.8 42.9h.6M257.8 49.7h.6M242.2 51.1h.6M255.5 45.3h.6M244.6 52.6h.6M247.1 52.9h.6M244.2 45.4h.6M247.0 42.3h.6M257.4 45.3h.6M256.7 53.1h.6M258.9 41.2h.6M245.5 45.1h.6M246.9 52.6h.6M248.7 57.1h.6M248.2 53.9h.6M242.6 48.5h.6M257.1 47.5h.6M244.4 49.1h.6M261.1 44.9h.6M248.3 53.2h.6M246.6 45.8h.6M255.7 52.8h.6M244.6 53.5h.6M245.4 48.0h.6M258.1 44.7h.6M254.1 40.3h.6M245.4 47.8h.6M246.0 52.1h.6M253.3 42.5h.6M260.8 50.2h.6M249.9 42.8h.6M247.5 52.5h.6M254.0 52.8h.6M246.0 45.5h.6M257.1 42.6h.6M252.5 43.3h.6M261.5 50.2h.6M252.1 54.3h.6M258.1 55.1h.6M246.1 46.6h.6M246.3 53.6h.6M246.7 46.4h.6M245.6 53.1h.6M245.7 52.9h.6M264.1 45.4h.6M247.0 42.8h.6M252.4 53.5h.6M251.0 41.5h.6M253.6 44.0h.6M255.4 52.5h.6M253.3 54.3h.6M247.8 41.2h.6M246.0 48.2h.6M257.3 51.2h.6M264.0 52.3h.6M248.5 43.0h.6M248.9 55.7h.6M250.3 54.1h.6M251.3 53.8h.6M254.9 40.3h.6M260.4 47.2h.6M247.2 58.5h.6M249.4 52.9h.6M255.5 51.6h.6M260.6 50.0h.6M256.5 45.5h.6M250.4 54.4h.6M255.6 45.0h.6M246.0 53.2h.6M252.9 42.8h.6M255.6 57.0h.6M251.6 41.4h.6M256.5 44.9h.6M246.5 50.9h.6M256.5 44.6h.6M245.2 45.8h.6M243.8 54.5h.6M245.6 46.0h.6M249.6 43.1h.6M254.7 44.1h.6M247.0 52.6h.6M246.4 52.0h.6M256.7 51.9h.6M243.8 47.9h.6M255.3 45.0h.6M247.4 45.5h.6M256.6 55.5h.6M242.9 46.0h.6M253.3 53.1h.6M248.6 53.4h.6M247.0 45.6h.6M248.9 52.7h.6M247.4 52.2h.6M242.7 50.5h.6M250.9 53.4h.6M258.1 46.7h.6M257.6 42.3h.6M258.2 47.8h.6M256.4 46.8h.6M243.1 45.2h.6M249.9 42.1h.6M244.9 42.1h.6M258.9 49.6h.6M245.0 49.5h.6M250.5 56.0h.6M257.6 48.1h.6M257.4 47.3h.6M254.2 53.2h.6M244.7 55.6h.6M254.5 52.7h.6M260.9 44.7h.6M245.4 43.3h.6M250.9 42.1h.6M247.1 52.0h.6M257.0 52.3h.6M252.4 55.0h.6M248.0 54.4h.6M247.3 54.8h.6M254.0 44.1h.6M258.6 48.8h.6M254.7 45.0h.6M250.0 40.7h.6M252.4 54.2h.6M251.4 53.4h.6M248.7 43.7h.6M251.3 56.0h.6M257.0 50.2h.6M257.1 48.0h.6M246.3 46.1h.6M258.4 44.0h.6M258.3 47.8h.6M254.3 53.0h.6M244.5 44.5h.6M248.3 43.8h.6M246.6 43.6h.6M247.7 42.7h.6M243.1 48.1h.6M254.6 52.3h.6M246.5 50.4h.6M247.4 55.8h.6M249.4 42.1h.6M261.1 46.9h.6M256.7 52.3h.6M259.1 46.5h.6M247.7 56.8h.6M245.1 50.5h.6M243.0 50.1h.6M250.5 53.2h.6M249.3 55.5h.6M246.7 54.3h.6M254.4 53.2h.6M258.6 45.3h.6M254.9 43.5h.6M258.1 43.3h.6M254.6 55.2h.6M259.4 48.1h.6M251.3 43.5h.6M257.3 48.1h.6M256.7 55.0h.6M245.8 52.4h.6M244.4 48.6h.6M256.6 49.2h.6M243.1 43.5h.6M256.3 46.8h.6M250.3 40.4h.6M258.0 52.1h.6M251.7 41.3h.6M253.7 39.7h.6M260.0 49.0h.6M243.4 51.3h.6M250.6 55.8h.6M246.4 54.9h.6M254.5 53.9h.6M245.4 44.4h.6M256.7 53.0h.6M254.9 57.4h.6M256.4 56.4h.6M253.8 57.7h.6M245.1 49.3h.6M246.7 53.3h.6M255.6 51.3h.6M254.5 54.1h.6M257.2 42.9h.6M252.9 53.9h.6M260.2 52.3h.6M246.1 54.0h.6M255.7 51.0h.6M247.5 40.6h.6M245.3 48.0h.6M257.9 53.9h.6M242.8 45.2h.6M259.5 47.6h.6M246.5 46.0h.6M249.4 43.8h.6M243.3 43.2h.6M247.8 52.4h.6M259.8 49.0h.6M250.2 44.1h.6M249.6 54.4h.6M254.1 53.8h.6M254.5 43.9h.6M256.1 46.6h.6M249.7 44.2h.6M245.5 47.2h.6M244.8 57.0h.6M249.1 41.0h.6M249.5 56.3h.6M260.9 47.0h.6M259.4 40.7h.6M252.3 53.6h.6M248.4 41.4h.6M259.3 46.5h.6M250.3 42.0h.6M252.9 55.3h.6M247.6 54.7h.6M258.3 50.7h.6M247.0 44.4h.6M254.3 44.2h.6M254.6 44.3h.6M250.6 55.0h.6M244.6 53.3h.6M242.4 44.2h.6M245.3 53.0h.6M244.1 48.5h.6M259.5 44.1h.6M246.2 50.6h.6M255.6 46.1h.6M253.5 42.0h.6M246.3 50.5h.6M251.4 54.3h.6M245.3 53.9h.6M247.6 42.4h.6M257.1 49.6h.6M252.1 42.0h.6M244.6 47.2h.6M244.7 45.8h.6M260.6 43.1h.6M242.5 45.2h.6M246.5 46.1h.6M255.9 52.5h.6M255.0 54.9h.6M245.5 42.7h.6M244.3 44.6h.6M255.8 51.4h.6M256.4 51.2h.6M258.2 52.0h.6M255.4 51.5h.6M251.7 43.6h.6M250.7 40.1h.6M249.4 55.5h.6M257.3 51.4h.6M244.9 45.3h.6M257.8 50.8h.6M245.4 46.1h.6M256.3 50.1h.6M250.2 54.0h.6M245.7 47.4h.6M243.3 43.3h.6M252.0 54.7h.6M246.2 46.2h.6M246.5 44.2h.6M248.3 52.9h.6M257.9 52.1h.6M243.2 50.8h.6M245.3 46.1h.6M256.2 53.2h.6M258.7 51.4h.6M258.7 52.4h.6M242.4 51.3h.6M264.0 72.6h.6M254.6 80.2h.6M254.6 77.6h.6M242.9 76.3h.6M250.4 76.8h.6M251.6 77.6h.6M243.4 68.9h.6M244.3 79.1h.6M244.5 68.8h.6M242.1 76.5h.6M260.9 73.9h.6M243.2 70.2h.6M260.9 67.5h.6M243.9 74.8h.6M261.4 72.7h.6M242.3 74.1h.6M250.5 67.1h.6M261.8 71.9h.6M242.4 67.6h.6M247.9 75.8h.6M242.9 72.1h.6M258.9 68.5h.6M259.4 69.4h.6M245.6 66.3h.6M262.5 77.3h.6M248.0 74.8h.6M254.7 77.2h.6M262.1 71.5h.6M244.4 77.5h.6M261.8 70.8h.6M257.9 74.3h.6M252.0 77.3h.6M255.8 67.3h.6M252.6 67.6h.6M245.7 79.2h.6M247.1 75.2h.6M258.4 75.6h.6M262.9 72.3h.6M260.0 77.4h.6M262.5 76.0h.6M250.1 77.5h.6M255.2 68.2h.6M251.2 66.9h.6M260.4 78.7h.6M243.3 73.8h.6M270.3 74.9h.6M269.7 76.7h.6M250.5 66.3h.6M242.9 63.8h.6M243.5 74.5h.6M248.9 68.1h.6M256.0 67.6h.6M250.5 67.3h.6M260.5 70.4h.6M256.4 68.4h.6M258.7 77.6h.6M250.7 66.3h.6M250.9 76.4h.6M259.3 67.2h.6M253.8 75.2h.6M264.1 67.3h.6M248.2 68.2h.6M249.6 66.6h.6M253.2 67.3h.6M265.6 74.7h.6M247.5 75.0h.6M246.3 75.7h.6M253.8 65.3h.6M247.2 66.9h.6M257.8 68.4h.6M244.6 65.6h.6M252.0 66.1h.6M250.7 64.1h.6M258.8 74.2h.6M252.6 65.8h.6M261.3 68.9h.6M256.9 68.2h.6M262.6 73.2h.6M253.4 77.2h.6M263.0 71.3h.6M264.0 71.5h.6M247.6 67.2h.6M244.0 73.8h.6M244.7 73.9h.6M243.1 70.2h.6M262.3 70.6h.6M263.2 72.9h.6M250.8 75.9h.6M249.6 75.1h.6M255.2 77.6h.6M254.2 66.4h.6M249.9 80.1h.6M249.3 78.0h.6M250.8 77.3h.6M256.1 65.9h.6M259.0 68.2h.6M249.7 65.7h.6M254.3 67.0h.6M260.6 72.3h.6M245.9 69.0h.6M261.7 72.3h.6M262.1 73.1h.6M261.2 73.2h.6M260.8 70.1h.6M251.3 75.5h.6M263.1 71.6h.6M243.7 68.9h.6M243.8 68.8h.6M244.6 67.4h.6M254.0 75.6h.6M253.0 77.2h.6M250.0 75.8h.6M254.9 67.7h.6M259.4 67.6h.6M261.3 70.3h.6M253.0 67.7h.6M257.8 77.5h.6M251.8 75.5h.6M261.5 69.4h.6M263.8 71.0h.6M256.2 75.3h.6M249.4 75.7h.6M253.1 66.1h.6M260.8 75.9h.6M246.4 76.0h.6M253.8 65.7h.6M243.9 67.8h.6M261.9 67.9h.6M249.7 67.9h.6M263.0 68.7h.6M260.7 76.8h.6M244.8 74.6h.6M255.3 67.7h.6M247.4 67.8h.6M260.9 76.0h.6M245.6 68.2h.6M242.9 68.1h.6M268.2 71.4h.6M260.8 67.4h.6M251.1 66.3h.6M262.1 73.8h.6M261.7 69.6h.6M248.7 75.1h.6M245.2 68.6h.6M255.5 67.2h.6M251.5 67.5h.6M247.7 67.4h.6M242.9 68.1h.6M249.7 68.2h.6M261.1 71.8h.6M249.3 75.3h.6M252.5 75.5h.6M246.4 77.2h.6M260.0 68.7h.6M259.0 74.3h.6M264.6 75.4h.6M262.8 66.0h.6M247.7 79.0h.6M263.0 71.0h.6M268.5 74.3h.6M260.5 76.7h.6M251.7 67.3h.6M243.0 69.2h.6M252.8 67.4h.6M248.1 67.8h.6M260.3 65.9h.6M253.5 66.8h.6M246.5 75.0h.6M247.9 67.0h.6M262.1 71.5h.6M251.9 77.6h.6M252.2 67.4h.6M249.0 75.8h.6M263.6 69.0h.6M261.0 69.4h.6M251.3 67.5h.6M262.4 73.9h.6M252.5 77.0h.6M264.1 69.5h.6M242.6 64.7h.6M260.5 74.8h.6M249.1 75.0h.6M244.9 75.8h.6M266.3 68.9h.6M243.9 74.1h.6M251.7 76.2h.6M262.9 70.1h.6M261.6 76.6h.6M259.8 77.2h.6M242.9 72.0h.6M244.6 74.6h.6M247.0 66.9h.6M264.6 73.1h.6M260.5 73.2h.6M255.8 75.5h.6M259.4 74.8h.6M244.9 67.6h.6M259.4 74.6h.6M265.4 72.0h.6M245.0 69.0h.6M242.9 74.1h.6M244.2 76.2h.6M260.0 75.6h.6M253.3 68.0h.6M263.8 76.5h.6M254.9 75.3h.6M242.2 67.1h.6M270.3 72.9h.6M260.5 70.4h.6M258.6 66.9h.6M246.9 67.8h.6M250.2 65.8h.6M260.7 76.2h.6M242.2 73.1h.6M252.7 66.2h.6M261.5 71.3h.6M242.2 67.2h.6M258.9 74.0h.6M249.5 76.7h.6M253.6 76.6h.6M243.4 73.2h.6M260.4 69.2h.6M253.4 67.0h.6M250.8 66.5h.6M262.3 70.6h.6M260.0 69.2h.6M244.0 76.7h.6M256.4 66.7h.6M253.0 75.7h.6M265.2 74.3h.6M260.9 72.6h.6M262.6 77.5h.6M262.6 69.2h.6M260.4 68.1h.6M244.7 75.5h.6M266.2 71.5h.6M251.2 77.7h.6M255.0 75.7h.6M251.9 76.3h.6M259.7 74.3h.6M247.0 78.3h.6M242.2 69.9h.6M266.4 71.9h.6M251.7 77.6h.6M247.6 76.1h.6M244.2 68.8h.6M250.3 77.8h.6M261.9 73.0h.6M261.5 72.3h.6M259.1 76.5h.6M253.7 67.2h.6M248.8 67.0h.6M245.4 68.0h.6M254.0 76.0h.6M263.1 65.6h.6M258.8 76.9h.6M249.6 76.3h.6M267.2 68.1h.6M254.6 67.0h.6M264.2 75.9h.6M268.6 74.0h.6M244.7 68.9h.6M266.3 67.3h.6M268.5 64.2h.6M242.2 67.8h.6M258.4 67.9h.6M264.1 71.8h.6M244.6 67.0h.6M259.7 74.7h.6M243.0 68.1h.6M245.8 68.1h.6M251.0 67.6h.6M248.9 65.4h.6M263.9 68.4h.6M264.5 73.3h.6M244.4 74.6h.6M255.3 67.1h.6M255.7 76.5h.6M266.3 70.4h.6M264.7 74.8h.6M255.9 76.3h.6M255.0 67.9h.6M242.2 74.4h.6M257.2 64.8h.6M244.7 74.3h.6M261.4 66.6h.6M243.7 76.6h.6M255.0 67.3h.6M256.2 68.2h.6M249.1 67.5h.6M243.6 70.2h.6M243.0 67.8h.6M251.8 76.1h.6M244.9 67.2h.6M243.3 74.9h.6M264.7 68.6h.6M249.2 76.8h.6M259.5 73.9h.6M265.0 70.9h.6M242.9 69.8h.6M244.6 76.8h.6M257.1 75.5h.6M261.8 69.7h.6M243.0 72.7h.6M263.2 74.9h.6M245.3 66.5h.6M250.0 76.0h.6M261.3 75.9h.6M256.7 67.5h.6M261.5 69.2h.6M255.9 68.1h.6M268.9 72.4h.6M261.2 69.3h.6M243.5 73.9h.6M261.4 74.7h.6M246.5 68.8h.6M260.8 71.6h.6M256.4 68.0h.6M260.1 73.2h.6M261.5 73.6h.6M256.2 67.8h.6M242.5 74.1h.6M242.9 74.3h.6M255.0 67.4h.6M244.8 75.3h.6M248.9 67.4h.6M270.4 70.2h.6M243.9 76.6h.6M268.8 74.6h.6M248.0 77.8h.6M269.8 71.1h.6M257.4 77.3h.6M242.9 72.3h.6M261.1 69.3h.6M247.3 67.1h.6M259.3 77.3h.6M269.2 72.6h.6M260.3 73.7h.6M244.0 75.1h.6M265.5 70.4h.6M242.2 74.2h.6M249.5 68.0h.6M248.0 64.0h.6M259.5 77.2h.6M262.8 69.1h.6M256.2 66.2h.6M255.5 66.8h.6M242.9 70.1h.6M242.2 67.4h.6M262.2 73.2h.6M258.4 66.0h.6M247.1 75.7h.6M258.7 74.5h.6M251.3 77.3h.6M251.2 65.9h.6M267.1 74.2h.6M259.6 75.0h.6M248.6 64.6h.6M243.0 72.6h.6M261.1 71.9h.6M258.9 65.4h.6M255.1 67.9h.6M244.7 68.0h.6M249.9 65.3h.6M244.5 76.0h.6M255.0 65.0h.6M261.1 74.1h.6M261.4 72.0h.6M262.4 69.1h.6M252.2 67.6h.6M249.6 78.5h.6M259.0 69.2h.6M249.8 67.0h.6M256.5 65.8h.6M264.5 67.0h.6M269.3 73.3h.6M255.9 77.5h.6M256.3 67.6h.6M260.7 69.6h.6M248.5 63.9h.6M261.2 68.9h.6M248.9 76.2h.6M258.7 74.3h.6M259.6 69.6h.6M261.5 70.4h.6M265.9 72.1h.6M263.3 67.8h.6M257.8 68.5h.6M250.3 66.0h.6M249.0 75.5h.6M249.6 77.4h.6M242.2 68.9h.6M258.7 76.8h.6M247.7 65.0h.6M246.6 67.5h.6M257.2 66.0h.6M243.0 73.4h.6M256.5 76.4h.6M259.2 65.4h.6M243.3 73.2h.6M257.2 76.4h.6M261.0 67.2h.6M265.4 72.2h.6M268.0 77.5h.6M259.5 75.1h.6M247.3 75.3h.6M252.4 66.8h.6M256.9 75.3h.6M262.7 70.0h.6M249.3 75.9h.6M267.2 74.4h.6M256.8 66.9h.6M255.7 66.3h.6M252.4 68.0h.6M254.2 66.0h.6M256.6 74.8h.6M244.2 73.5h.6M246.2 62.3h.6M254.3 67.7h.6M243.3 70.2h.6M272.2 69.7h.6M242.3 69.8h.6M257.7 77.7h.6M254.4 75.6h.6M256.4 77.0h.6M258.8 66.3h.6M252.9 80.5h.6M260.9 72.7h.6M243.1 69.8h.6M261.8 68.9h.6M252.8 64.0h.6M251.7 78.0h.6M260.9 73.4h.6M245.8 65.8h.6M252.2 65.9h.6M249.5 75.8h.6M243.7 69.1h.6M243.0 69.3h.6M263.0 70.7h.6M255.5 76.5h.6M254.3 75.9h.6M243.1 69.9h.6M248.2 65.6h.6M243.6 68.1h.6M247.8 77.0h.6M242.3 74.4h.6M258.1 74.4h.6M262.9 72.2h.6M245.9 67.3h.6M253.1 67.2h.6M251.3 80.6h.6M244.4 69.4h.6M266.5 69.2h.6M269.7 70.2h.6M246.0 68.9h.6M267.3 75.7h.6M254.2 75.3h.6M266.7 72.0h.6M242.5 67.3h.6M243.8 74.5h.6M263.2 72.3h.6M253.4 65.3h.6M269.4 71.0h.6M252.0 64.6h.6M246.1 65.7h.6M261.2 75.0h.6M269.9 66.1h.6M258.8 75.5h.6M265.9 77.0h.6M245.6 74.7h.6M242.6 72.8h.6M244.6 65.4h.6M253.1 67.9h.6M250.0 65.8h.6M261.8 68.2h.6M251.0 66.1h.6M248.3 67.1h.6M261.7 70.8h.6M256.4 75.2h.6M249.3 76.0h.6M244.7 77.5h.6M260.7 74.6h.6M246.6 65.1h.6M254.5 81.0h.6M245.1 67.7h.6M253.6 66.2h.6M263.8 73.7h.6M254.2 68.1h.6M266.5 77.3h.6M253.0 64.8h.6M247.2 74.8h.6M264.9 72.5h.6M244.4 68.5h.6M263.6 72.9h.6M261.3 72.0h.6M253.9 66.3h.6M249.2 66.5h.6M250.9 75.5h.6M255.9 76.2h.6M247.4 75.4h.6M254.6 77.8h.6M264.0 72.2h.6M265.1 73.7h.6M251.7 64.4h.6M255.4 65.0h.6M255.6 75.1h.6M261.1 70.9h.6M246.4 66.3h.6M248.4 75.7h.6M245.6 75.5h.6M256.9 76.2h.6M261.3 68.3h.6M259.8 74.7h.6M246.0 74.6h.6M250.7 65.9h.6M261.0 71.4h.6M252.4 75.8h.6M261.6 75.9h.6M253.1 75.6h.6M246.6 75.2h.6M257.5 74.5h.6M242.9 70.9h.6M260.5 77.6h.6M245.9 66.6h.6M260.0 75.5h.6M251.3 80.9h.6M253.2 76.6h.6M259.7 76.0h.6M262.1 73.4h.6M260.4 69.6h.6M259.0 76.3h.6M261.2 76.0h.6M244.5 76.2h.6M247.9 68.4h.6M257.9 76.0h.6M253.6 65.0h.6M245.7 66.8h.6M257.4 65.9h.6M257.8 74.9h.6M260.7 64.8h.6M259.1 69.3h.6M262.4 71.2h.6M255.5 74.9h.6M247.9 75.8h.6M261.1 70.1h.6M261.0 67.7h.6M267.0 74.0h.6M275.4 42.1h.6M277.0 58.3h.6M262.2 59.5h.6M287.4 45.2h.6M265.8 51.1h.6M285.5 39.1h.6M287.0 43.2h.6M268.4 58.9h.6M288.7 33.7h.6M274.3 58.1h.6M288.3 44.9h.6M256.8 64.9h.6M267.4 49.3h.6M269.4 44.8h.6M276.9 57.4h.6M259.3 56.8h.6M290.3 43.3h.6M280.1 41.3h.6M264.8 67.5h.6M287.5 47.8h.6M265.5 53.5h.6M275.0 42.2h.6M261.9 54.8h.6M278.6 58.2h.6M260.2 63.1h.6M249.2 54.5h.6M262.2 62.7h.6M265.6 50.2h.6M270.5 40.3h.6M291.0 39.8h.6M288.9 41.4h.6M266.6 48.7h.6M293.8 40.3h.6M287.0 44.5h.6M265.2 57.4h.6M279.5 57.1h.6M287.4 38.9h.6M287.6 42.1h.6M288.6 47.9h.6M278.7 39.6h.6M289.5 37.4h.6M270.7 60.6h.6M260.7 57.2h.6M294.3 39.7h.6M275.0 41.6h.6M283.5 54.4h.6M290.1 47.3h.6M288.3 41.8h.6M284.9 42.0h.6M286.5 51.3h.6M282.0 36.6h.6M276.0 41.9h.6M287.8 48.1h.6M298.2 33.4h.6M275.7 43.0h.6M288.2 50.3h.6M265.6 58.4h.6M290.8 55.5h.6M281.7 56.7h.6M259.6 55.9h.6M272.8 43.8h.6M287.4 51.4h.6M253.8 67.8h.6M261.5 52.1h.6M265.6 55.1h.6M287.0 49.9h.6M272.8 43.9h.6M273.3 42.6h.6M282.9 40.2h.6M262.4 58.2h.6M285.6 57.3h.6M261.0 53.4h.6M284.9 57.5h.6M264.2 46.8h.6M290.6 50.3h.6M274.9 65.8h.6M281.8 55.2h.6M294.2 54.3h.6M271.7 44.2h.6M287.3 55.4h.6M287.2 41.8h.6M281.1 57.0h.6M269.1 42.2h.6M263.1 53.9h.6M291.3 39.5h.6M293.7 37.5h.6M287.0 51.6h.6M279.0 57.3h.6M272.6 38.3h.6M278.5 56.5h.6M259.8 53.4h.6M278.5 41.2h.6M282.6 59.0h.6M285.5 52.3h.6M264.0 47.8h.6M283.3 57.6h.6M294.5 48.2h.6M285.4 42.9h.6M265.2 50.9h.6M263.5 46.4h.6M282.8 38.0h.6M266.5 51.2h.6M259.5 54.8h.6M267.6 59.0h.6M283.4 39.0h.6M263.0 67.0h.6M277.4 35.7h.6M267.2 49.1h.6M280.8 38.6h.6M286.7 41.0h.6M285.0 52.7h.6M292.0 45.7h.6M282.6 54.1h.6M291.8 52.5h.6M288.1 46.4h.6M284.6 53.4h.6M289.9 46.1h.6M291.4 49.7h.6M271.5 58.6h.6M270.6 40.7h.6M279.4 40.5h.6M280.9 57.0h.6M279.8 41.2h.6M264.7 48.9h.6M268.0 45.2h.6M281.5 55.3h.6M281.5 38.7h.6M288.6 51.1h.6M265.2 54.7h.6M287.7 49.0h.6M271.9 57.8h.6M275.0 58.8h.6M269.4 43.1h.6M286.4 57.6h.6M290.7 47.0h.6M290.5 32.5h.6M266.3 50.9h.6M273.6 60.9h.6M278.0 38.8h.6M270.4 45.7h.6M270.4 60.6h.6M262.5 63.0h.6M289.7 46.5h.6M265.8 64.6h.6M287.1 45.1h.6M291.4 45.0h.6M289.9 44.2h.6M258.2 60.9h.6M288.7 47.3h.6M280.2 60.8h.6M270.3 43.7h.6M270.0 59.3h.6M292.8 44.4h.6M282.6 40.5h.6M290.8 45.3h.6M278.9 56.7h.6M294.1 42.4h.6M271.3 60.1h.6M275.4 58.2h.6M272.4 43.2h.6M289.4 50.5h.6M276.3 38.4h.6M270.9 65.6h.6M268.2 65.5h.6M279.5 56.4h.6M285.3 56.9h.6M276.5 57.5h.6M292.3 49.5h.6M277.3 57.5h.6M270.2 59.4h.6M288.0 45.8h.6M261.6 49.3h.6M288.8 54.7h.6M263.5 56.6h.6M262.7 52.8h.6M285.5 53.5h.6M265.7 55.4h.6M292.5 39.0h.6M266.5 45.6h.6M266.6 49.9h.6M267.7 56.7h.6M266.7 46.9h.6M268.3 58.2h.6M266.9 56.0h.6M285.5 51.3h.6M283.1 33.1h.6M276.9 42.5h.6M265.2 59.9h.6M280.4 41.0h.6M283.4 55.5h.6M282.9 41.9h.6M266.8 50.7h.6M266.2 58.0h.6M268.5 57.9h.6M262.2 56.1h.6M281.3 56.1h.6M265.5 50.3h.6M269.0 46.9h.6M281.3 58.1h.6M286.5 50.4h.6M273.6 58.7h.6M269.5 45.9h.6M288.4 45.5h.6M290.4 37.7h.6M286.8 42.3h.6M286.3 41.0h.6M275.8 42.7h.6M288.2 49.8h.6M264.8 50.2h.6M282.5 40.6h.6M289.7 50.6h.6M271.0 64.8h.6M290.1 43.8h.6M290.8 40.6h.6M286.2 42.6h.6M288.8 50.8h.6M261.6 53.5h.6M266.1 54.6h.6M281.5 39.4h.6M271.9 43.8h.6M283.6 42.3h.6M286.9 40.0h.6M269.5 57.9h.6M264.1 58.6h.6M287.6 52.5h.6M263.7 58.7h.6M266.7 51.4h.6M276.3 58.3h.6M276.3 37.9h.6M257.1 54.5h.6M260.4 47.1h.6M291.6 43.9h.6M273.8 58.0h.6M271.2 58.8h.6M300.8 44.3h.6M265.8 51.6h.6M291.5 56.0h.6M264.3 57.4h.6M297.1 32.5h.6M265.6 56.3h.6M271.2 58.1h.6M275.7 57.9h.6M267.3 62.6h.6M266.4 52.2h.6M270.7 59.2h.6M293.4 37.8h.6M270.4 45.7h.6M289.5 38.4h.6M255.8 67.9h.6M290.6 50.7h.6M288.0 42.1h.6M293.0 32.4h.6M264.9 57.7h.6M263.6 56.1h.6M289.3 49.5h.6M286.7 53.7h.6M261.9 52.4h.6M255.1 42.3h.6M290.5 43.6h.6M265.8 58.4h.6M288.2 52.5h.6M284.7 38.5h.6M286.5 49.9h.6M289.2 47.3h.6M282.2 42.0h.6M278.8 38.6h.6M284.9 59.7h.6M273.9 58.4h.6M263.8 54.8h.6M261.0 58.2h.6M277.2 38.7h.6M271.3 58.5h.6M265.0 47.9h.6M288.4 41.0h.6M282.2 35.9h.6M286.7 50.8h.6M292.0 47.6h.6M265.5 54.3h.6M286.6 51.0h.6M275.4 36.6h.6M261.8 54.7h.6M273.8 42.7h.6M263.2 51.8h.6M275.3 62.7h.6M277.5 60.0h.6M286.8 43.1h.6M265.7 47.7h.6M263.1 49.8h.6M288.8 41.4h.6M264.3 57.7h.6M290.3 37.8h.6M286.9 36.0h.6M288.4 46.4h.6M292.9 46.6h.6M280.7 55.3h.6M286.7 43.2h.6M289.7 49.0h.6M262.6 42.2h.6M266.8 58.2h.6M271.4 41.0h.6M294.4 48.3h.6M261.6 52.0h.6M277.5 41.6h.6M285.4 41.9h.6M291.4 42.4h.6M270.2 62.5h.6M265.2 58.7h.6M278.1 41.0h.6M275.2 62.6h.6M250.2 59.4h.6M262.7 54.3h.6M266.4 39.2h.6M259.4 53.3h.6M274.3 43.2h.6M280.3 58.5h.6M260.6 56.8h.6M269.7 64.3h.6M263.6 61.8h.6M286.6 43.1h.6M292.4 42.9h.6M257.0 60.4h.6M289.2 50.4h.6M255.7 45.5h.6M258.4 60.0h.6M279.6 41.3h.6M271.8 57.8h.6M264.3 57.9h.6M281.7 56.3h.6M274.8 43.0h.6M287.7 52.6h.6M276.2 60.2h.6M287.6 47.4h.6M264.1 57.3h.6M283.7 38.1h.6M294.1 39.3h.6M259.8 53.9h.6M291.5 47.2h.6M288.6 43.1h.6M274.3 41.8h.6M269.3 59.5h.6M294.6 50.2h.6M273.7 59.6h.6M266.2 54.3h.6M271.7 59.2h.6M279.7 39.1h.6M294.2 35.0h.6M257.7 55.3h.6M265.5 55.6h.6M288.9 49.5h.6M271.9 40.2h.6M287.2 56.3h.6M280.3 41.5h.6M267.6 48.2h.6M280.0 57.3h.6M290.2 53.7h.6M289.5 48.5h.6M266.7 46.9h.6M277.8 39.3h.6M289.9 44.8h.6M262.0 49.8h.6M269.1 60.3h.6M290.5 44.1h.6M263.7 48.7h.6M288.2 44.6h.6M275.6 58.6h.6M286.3 54.0h.6M279.6 36.6h.6M294.2 46.1h.6M263.0 57.6h.6M284.6 57.9h.6M265.7 53.2h.6M280.8 36.7h.6M274.4 41.7h.6M286.3 43.4h.6M271.2 58.5h.6M287.1 43.9h.6M290.5 47.1h.6M274.8 43.0h.6M266.5 61.7h.6M287.6 53.1h.6M263.5 50.4h.6M282.6 59.3h.6M267.9 47.7h.6M287.2 45.9h.6M291.0 39.8h.6M287.7 47.3h.6M279.0 60.6h.6M257.8 46.5h.6M263.1 59.9h.6M275.1 39.6h.6M287.9 47.2h.6M270.7 58.7h.6M263.2 67.2h.6M275.3 43.0h.6M275.0 43.2h.6M257.2 54.5h.6M279.4 39.0h.6M265.0 52.4h.6M286.9 35.9h.6M267.2 57.4h.6M272.8 39.9h.6M275.5 37.7h.6M264.7 52.1h.6M268.6 59.7h.6M289.8 49.6h.6M283.8 40.0h.6M290.1 53.5h.6M268.7 47.1h.6M289.2 46.9h.6M277.7 56.9h.6M261.7 56.6h.6M266.2 53.8h.6M266.6 58.7h.6M277.4 60.0h.6M281.1 41.6h.6M281.4 55.4h.6M277.8 61.1h.6M267.1 47.9h.6M266.7 48.7h.6M292.8 43.6h.6M286.6 35.2h.6M284.5 52.6h.6M295.6 41.8h.6M264.6 52.9h.6M265.7 47.6h.6M273.4 44.0h.6M279.0 56.9h.6M265.2 55.5h.6M289.0 39.9h.6M293.1 42.3h.6M286.8 49.6h.6M277.7 63.2h.6M281.5 57.1h.6M293.9 51.1h.6M276.6 39.6h.6M258.8 53.2h.6M288.1 50.3h.6M297.7 41.9h.6M269.3 44.8h.6M283.2 56.9h.6M279.6 35.3h.6M273.1 62.0h.6M280.9 57.7h.6M284.3 52.7h.6M267.9 58.4h.6M255.8 54.9h.6M275.2 40.8h.6M262.7 58.3h.6M277.3 41.7h.6M287.5 48.3h.6M271.1 58.2h.6M264.2 54.0h.6M290.0 45.7h.6M279.3 39.8h.6M290.1 41.9h.6M254.3 63.0h.6M264.9 58.8h.6M270.4 45.1h.6M272.9 57.7h.6M275.8 58.7h.6M262.9 57.9h.6M279.9 40.0h.6M263.1 47.8h.6M286.4 53.4h.6M291.0 48.4h.6M266.3 54.4h.6M271.0 59.0h.6M291.2 51.2h.6M265.5 66.6h.6M271.7 58.7h.6M288.4 37.3h.6M265.7 46.3h.6M276.3 42.3h.6M282.0 40.9h.6M278.5 39.5h.6M273.0 43.8h.6M290.3 45.8h.6M285.9 53.1h.6M258.8 62.0h.6M267.8 59.8h.6M295.5 49.7h.6M263.1 60.5h.6M272.5 63.9h.6M276.5 42.7h.6M267.1 61.8h.6M287.8 43.4h.6M288.6 49.1h.6M273.8 41.3h.6M265.2 53.7h.6M269.3 59.4h.6M279.3 40.7h.6M285.4 53.6h.6M263.0 59.6h.6M261.6 43.7h.6M285.9 40.5h.6M269.6 58.0h.6M286.6 52.4h.6M271.5 64.3h.6M285.6 53.7h.6M269.0 61.0h.6M264.2 42.1h.6M259.4 57.7h.6M290.6 41.1h.6M266.1 53.2h.6M287.2 53.3h.6M282.0 58.7h.6M296.7 43.5h.6M271.4 59.7h.6M273.0 40.6h.6M272.7 43.4h.6M272.0 38.8h.6M264.3 41.9h.6M280.8 40.3h.6M262.4 46.6h.6M273.9 58.8h.6M268.1 60.2h.6M284.3 54.4h.6M274.2 43.3h.6M268.5 46.2h.6M266.7 55.0h.6M266.9 58.3h.6M294.2 49.6h.6M283.1 41.0h.6M274.5 58.6h.6M267.8 56.4h.6M260.6 41.0h.6M275.8 36.0h.6M287.1 51.3h.6M264.0 54.7h.6M268.1 58.7h.6M281.1 58.2h.6M292.2 37.7h.6M271.4 45.2h.6M279.3 41.6h.6M266.5 55.4h.6M270.9 60.1h.6M287.5 43.8h.6M288.7 45.2h.6M290.1 44.5h.6M265.5 52.1h.6M296.3 31.6h.6M283.1 59.1h.6M285.2 52.7h.6M268.9 39.5h.6M272.6 43.6h.6M293.2 42.3h.6M266.0 51.3h.6M284.6 39.9h.6M290.3 38.8h.6M292.8 36.9h.6M288.5 51.4h.6M288.8 55.1h.6M287.2 48.3h.6M279.7 39.7h.6M272.2 58.2h.6M287.7 53.6h.6M291.1 47.8h.6M265.7 44.4h.6M263.4 50.5h.6M277.8 59.4h.6M287.4 47.9h.6M283.3 54.1h.6M270.5 41.0h.6M291.1 48.9h.6M264.0 63.1h.6M273.8 58.1h.6M279.2 58.5h.6M268.1 56.5h.6M282.9 38.0h.6M266.6 59.5h.6M297.3 37.7h.6M276.6 63.5h.6M286.6 41.5h.6M278.7 40.8h.6M267.4 57.2h.6M277.8 58.9h.6M258.6 55.9h.6M284.9 52.4h.6M263.4 48.4h.6M288.7 49.6h.6M269.6 46.5h.6M287.5 48.6h.6M282.0 41.0h.6M286.9 41.7h.6M271.5 41.3h.6M270.2 58.5h.6M281.9 37.2h.6M270.7 44.7h.6M260.8 49.6h.6M264.2 55.9h.6M270.0 45.4h.6M269.1 43.7h.6M274.1 58.8h.6M265.6 50.5h.6M277.7 41.9h.6M262.9 48.3h.6M291.3 40.7h.6M282.5 39.1h.6M264.8 53.3h.6M285.9 53.9h.6M265.2 49.9h.6M285.5 56.7h.6M267.6 49.2h.6M289.3 54.3h.6M265.3 53.0h.6M288.9 51.1h.6M266.9 60.7h.6M262.2 59.7h.6M288.1 41.9h.6M260.5 48.7h.6M266.3 44.9h.6M273.8 58.9h.6M270.0 58.8h.6M289.7 37.8h.6M275.3 61.7h.6M258.2 52.3h.6M260.7 56.3h.6M268.7 60.8h.6M292.2 39.1h.6M287.9 46.8h.6M278.6 57.7h.6M282.0 41.9h.6M266.7 46.4h.6M288.2 46.8h.6M263.1 48.8h.6M294.5 40.9h.6M273.7 39.1h.6M291.4 50.5h.6M306.5 48.9h.6M267.5 45.0h.6M280.1 37.9h.6M269.5 67.7h.6M265.8 55.2h.6M260.9 61.0h.6M285.2 41.3h.6M290.1 41.1h.6M281.9 54.7h.6M268.2 70.7h.6M285.2 52.7h.6M295.9 37.0h.6M299.3 50.4h.6M275.7 39.8h.6M286.2 41.3h.6M268.1 46.5h.6M290.0 51.0h.6M267.0 38.9h.6M268.3 58.9h.6M266.1 54.1h.6M263.5 62.6h.6M284.8 41.9h.6M286.1 51.1h.6M288.1 45.9h.6M276.4 40.2h.6M284.3 41.9h.6M301.2 56.7h.6M264.8 49.2h.6M291.8 42.9h.6M277.1 40.2h.6M290.1 37.6h.6M270.6 45.9h.6M283.9 42.4h.6M282.8 55.3h.6M269.2 43.3h.6M300.9 60.8h.6M278.8 67.2h.6M290.5 46.6h.6M279.8 37.7h.6M267.7 38.7h.6M279.9 30.4h.6M279.2 59.0h.6M287.1 50.6h.6M279.1 56.5h.6M287.7 34.2h.6M264.8 51.3h.6M284.6 55.8h.6M267.4 59.7h.6M260.8 51.1h.6M289.1 44.4h.6M272.5 44.2h.6M264.5 51.4h.6M284.3 54.4h.6M283.2 39.0h.6M287.3 44.7h.6M275.9 59.6h.6M264.0 47.4h.6M287.4 48.1h.6M273.9 42.0h.6M260.6 45.5h.6M290.6 41.7h.6M286.4 49.9h.6M279.8 62.1h.6M274.2 63.8h.6M263.7 57.2h.6M277.4 57.1h.6M263.4 42.3h.6M273.4 36.3h.6M291.4 41.2h.6M287.7 40.4h.6M292.3 36.5h.6M277.2 42.5h.6M279.7 60.9h.6M286.8 37.5h.6M265.8 53.0h.6M284.3 54.1h.6M266.3 47.6h.6M279.2 40.3h.6M289.1 39.7h.6M285.2 42.0h.6M270.7 45.1h.6M281.4 40.3h.6M283.4 57.9h.6M271.0 42.1h.6M262.0 65.4h.6M273.0 25.3h.6M285.2 57.7h.6M279.4 35.6h.6M279.9 57.3h.6M263.6 46.3h.6M266.1 48.1h.6M287.2 35.4h.6M266.8 51.0h.6M269.7 61.9h.6M286.9 48.5h.6M287.2 55.0h.6M281.1 55.7h.6M281.6 39.3h.6M260.4 57.7h.6M284.5 61.5h.6M278.4 37.4h.6M305.3 40.3h.6M266.2 43.2h.6M271.9 43.5h.6M266.4 64.3h.6M274.2 58.7h.6M298.0 59.3h.6M264.0 56.4h.6M268.7 40.7h.6M272.8 25.1h.6M259.6 36.7h.6M265.3 58.0h.6M291.5 59.5h.6M279.7 37.1h.6M287.4 40.3h.6M288.3 41.3h.6M259.3 53.0h.6M279.0 41.1h.6M267.8 58.8h.6M265.7 59.1h.6M293.8 45.7h.6M267.4 48.3h.6M270.8 44.9h.6M266.4 44.0h.6M266.7 32.4h.6M266.3 45.3h.6M281.1 39.4h.6M273.0 42.8h.6M278.0 58.8h.6M272.2 44.6h.6M265.6 52.1h.6M273.2 61.4h.6M269.1 39.8h.6M289.1 48.1h.6M261.9 47.4h.6M279.5 26.1h.6M281.9 58.4h.6M274.5 40.1h.6M302.4 41.1h.6M278.8 41.3h.6M265.2 41.7h.6M293.3 48.7h.6M298.1 54.3h.6M288.8 50.8h.6M277.3 38.8h.6M280.9 59.9h.6M269.2 58.1h.6M268.1 42.2h.6M282.5 37.1h.6M268.5 46.4h.6M276.4 59.8h.6M284.2 55.7h.6M278.1 61.8h.6M266.5 39.6h.6M297.5 53.9h.6M287.3 47.6h.6M292.4 45.8h.6M294.9 45.5h.6M277.5 36.0h.6M269.6 39.3h.6M264.4 39.1h.6M280.1 38.6h.6M286.7 39.8h.6M293.3 40.1h.6M259.9 45.7h.6M291.5 52.9h.6M290.3 48.9h.6M265.9 44.3h.6M264.2 44.8h.6M272.1 37.7h.6M276.2 41.9h.6M280.1 41.2h.6M282.3 41.5h.6M288.2 46.1h.6M281.7 36.8h.6M261.0 51.2h.6M260.7 59.4h.6M270.7 41.8h.6M271.8 41.9h.6M271.7 65.3h.6M263.3 47.8h.6M276.0 62.4h.6M288.1 44.1h.6M258.9 55.5h.6M277.3 41.3h.6M285.8 56.5h.6M263.6 54.8h.6M278.6 56.5h.6M291.5 40.1h.6M280.2 39.3h.6M278.1 41.4h.6M266.0 43.3h.6M273.3 43.8h.6M289.6 40.1h.6M255.4 42.6h.6M285.8 58.1h.6M270.0 35.9h.6M264.2 53.3h.6M274.1 33.0h.6M251.0 57.5h.6M262.0 54.1h.6M285.8 64.2h.6M263.2 55.7h.6M263.7 51.7h.6M268.8 44.6h.6M273.9 41.6h.6M263.9 65.1h.6M273.2 38.5h.6M279.6 57.1h.6M275.2 42.6h.6M271.4 43.0h.6M277.9 57.3h.6M267.2 62.7h.6M283.0 40.8h.6M280.1 59.4h.6M265.4 53.9h.6M273.1 39.7h.6M272.6 38.2h.6M274.2 38.9h.6M288.1 54.8h.6M262.4 61.0h.6M278.3 26.6h.6M264.7 50.7h.6M284.9 61.9h.6M287.5 53.5h.6M283.4 31.6h.6M281.6 39.3h.6M285.6 37.1h.6M270.1 69.1h.6M271.7 59.3h.6M272.2 43.6h.6M263.1 35.7h.6M271.9 43.4h.6M288.9 40.6h.6M277.1 58.3h.6M288.0 48.9h.6M300.9 48.5h.6M275.2 40.5h.6M264.2 47.8h.6M287.0 55.8h.6M286.0 37.9h.6M258.6 44.0h.6M267.4 43.3h.6M304.0 40.6h.6M273.0 57.8h.6M266.0 47.9h.6M267.7 62.6h.6M255.4 62.8h.6M267.0 56.7h.6M290.7 42.8h.6M271.4 45.1h.6M274.9 42.3h.6M267.8 39.6h.6M266.1 46.1h.6M270.2 41.1h.6M264.2 55.7h.6M296.5 40.9h.6M276.0 62.2h.6M293.2 40.7h.6M269.9 37.4h.6M282.2 38.4h.6M283.2 39.8h.6M270.8 40.9h.6M289.0 51.2h.6M278.4 62.0h.6M270.0 45.0h.6M276.9 59.3h.6M295.3 44.8h.6M277.4 63.4h.6M293.4 36.8h.6M262.4 43.3h.6M289.0 51.8h.6M283.3 41.1h.6M310.2 52.0h.6M268.6 59.9h.6M275.1 43.0h.6M266.4 47.3h.6M275.9 40.9h.6M267.0 40.4h.6M264.3 61.8h.6M287.8 43.0h.6M294.4 44.6h.6M266.4 47.6h.6M287.0 49.5h.6M301.6 43.9h.6M279.2 41.8h.6M281.6 32.5h.6M285.0 55.9h.6M281.3 58.0h.6M265.5 43.2h.6M289.8 54.7h.6M279.7 37.4h.6M269.3 58.5h.6M282.2 54.4h.6M261.9 55.8h.6M289.9 57.9h.6M274.2 42.0h.6M279.7 38.1h.6M277.9 38.5h.6M290.5 45.7h.6M288.6 51.7h.6M285.5 51.6h.6M288.5 48.0h.6M264.4 52.5h.6M259.9 49.8h.6M269.6 59.4h.6M293.1 50.7h.6M291.1 56.5h.6M258.8 51.6h.6M268.2 47.8h.6M292.9 43.7h.6M274.5 60.4h.6M281.5 38.4h.6M290.2 44.0h.6M265.0 65.2h.6M283.2 41.9h.6M271.0 59.7h.6M266.4 58.7h.6M268.6 47.9h.6M271.4 29.7h.6M257.8 52.3h.6M278.0 62.8h.6M273.7 42.4h.6M290.7 33.6h.6M287.9 45.0h.6M269.3 46.7h.6M302.8 40.0h.6M291.5 45.0h.6M276.5 34.6h.6M267.0 45.2h.6M277.8 64.7h.6M294.2 48.3h.6M267.1 41.5h.6M273.9 36.2h.6M271.2 37.5h.6M264.3 54.4h.6M260.4 44.9h.6M277.0 65.0h.6M272.9 64.1h.6M288.5 38.0h.6M293.9 27.0h.6M287.1 39.1h.6M267.9 36.9h.6M283.4 53.5h.6M285.6 52.3h.6M267.3 44.9h.6M263.7 49.6h.6M281.6 55.0h.6M289.8 54.1h.6M286.5 42.3h.6M271.5 34.2h.6M284.1 39.5h.6M261.8 75.7h.6M267.1 47.4h.6M275.6 38.2h.6M262.9 41.9h.6M295.6 46.7h.6M296.0 41.9h.6M281.4 56.7h.6M288.4 50.1h.6M254.1 57.5h.6M276.6 32.2h.6M269.2 46.6h.6M265.5 35.1h.6M291.0 49.4h.6M287.1 50.7h.6M276.2 62.0h.6M261.3 32.3h.6M267.2 60.1h.6M270.3 59.1h.6M281.8 39.8h.6M284.8 58.2h.6M266.4 49.4h.6M286.6 43.0h.6M291.9 46.0h.6M255.3 52.3h.6M276.6 62.0h.6M266.0 67.3h.6M265.1 51.8h.6M269.3 38.1h.6M272.6 62.2h.6M266.4 45.6h.6M291.6 52.1h.6M289.4 44.7h.6M271.0 34.9h.6M269.8 60.6h.6M276.3 57.4h.6M260.8 70.4h.6M274.8 40.8h.6M282.1 41.6h.6M262.9 42.5h.6M274.1 41.4h.6M288.6 64.9h.6M282.1 41.5h.6M277.1 59.9h.6M299.4 39.2h.6M287.4 49.3h.6M267.8 31.3h.6M279.7 60.7h.6M276.5 29.7h.6M265.9 53.6h.6M269.5 46.9h.6M286.7 44.0h.6M283.6 30.9h.6M260.2 63.4h.6M274.6 60.3h.6M276.0 59.0h.6M295.7 38.5h.6M286.3 57.0h.6M267.9 58.2h.6M282.9 37.5h.6M277.4 39.7h.6M283.1 54.4h.6M267.0 44.6h.6M270.2 44.1h.6M291.7 40.8h.6M260.3 55.2h.6M282.1 54.7h.6M279.8 41.5h.6M264.5 51.7h.6M283.3 54.8h.6M286.8 42.8h.6M279.7 41.5h.6M296.3 34.8h.6M274.7 34.2h.6M271.5 71.3h.6M293.7 69.9h.6M299.3 73.8h.6M274.0 69.5h.6M273.8 68.1h.6M280.7 77.1h.6M290.7 72.1h.6M290.3 73.6h.6M270.2 69.9h.6M271.3 78.0h.6M288.0 68.3h.6M274.1 67.9h.6M286.8 65.2h.6M292.6 76.7h.6M290.5 68.5h.6M267.8 75.4h.6M267.6 69.1h.6M267.8 68.8h.6M270.8 68.7h.6M281.2 63.7h.6M280.8 77.8h.6M266.6 72.1h.6M271.8 76.9h.6M263.6 80.1h.6M274.4 68.2h.6M283.9 67.5h.6M291.1 74.7h.6M269.4 75.7h.6M286.9 76.9h.6M273.5 67.9h.6M274.7 67.9h.6M282.5 77.8h.6M292.4 70.5h.6M283.1 79.4h.6M271.6 71.0h.6M289.8 73.2h.6M273.5 66.4h.6M284.2 81.0h.6M271.6 68.2h.6M291.5 76.0h.6M292.9 78.6h.6M291.8 79.0h.6M282.4 67.3h.6M288.4 69.5h.6M277.0 77.5h.6M272.0 76.1h.6M268.6 72.3h.6M273.0 79.7h.6M276.9 78.0h.6M270.9 72.4h.6M281.6 65.5h.6M269.0 64.7h.6M271.8 73.9h.6M266.4 77.6h.6M289.2 77.3h.6M284.2 63.0h.6M277.2 78.3h.6M273.1 77.1h.6M285.4 78.2h.6M274.1 77.5h.6M287.0 66.9h.6M277.1 68.0h.6M280.8 62.6h.6M285.4 67.8h.6M297.7 68.8h.6M289.7 70.3h.6M266.2 73.7h.6M289.2 75.9h.6M276.6 76.6h.6M272.1 75.8h.6M265.1 72.7h.6M282.8 65.1h.6M297.4 70.0h.6M273.2 70.2h.6M270.3 69.9h.6M272.0 71.8h.6M278.5 63.2h.6M278.0 77.5h.6M287.8 68.1h.6M267.4 66.5h.6M285.0 78.1h.6M277.2 80.7h.6M270.8 76.7h.6M273.7 77.3h.6M291.5 66.6h.6M280.2 77.7h.6M290.8 71.1h.6M270.3 68.2h.6M275.5 67.3h.6M291.9 68.0h.6M283.9 66.4h.6M276.4 78.5h.6M285.6 78.2h.6M271.9 64.9h.6M275.8 79.4h.6M281.4 66.9h.6M280.9 79.7h.6M266.6 75.0h.6M285.0 67.6h.6M290.7 69.3h.6M269.0 73.7h.6M269.4 72.1h.6M271.5 73.8h.6M289.0 66.2h.6M290.8 76.4h.6M287.4 80.2h.6M266.8 76.9h.6M271.1 75.0h.6M268.2 73.9h.6M270.0 72.3h.6M272.8 70.3h.6M288.0 67.7h.6M283.0 65.8h.6M278.8 67.1h.6M290.4 75.3h.6M275.9 76.3h.6M292.3 74.5h.6M291.5 75.4h.6M290.3 76.9h.6M291.8 75.2h.6M279.1 67.8h.6M293.6 74.7h.6M290.5 77.8h.6M273.9 77.5h.6M281.3 67.1h.6M276.7 67.4h.6M276.2 77.2h.6M271.4 74.4h.6M268.7 71.1h.6M277.4 68.0h.6M280.2 78.7h.6M291.2 70.0h.6M290.6 74.0h.6M294.4 78.4h.6M288.4 76.2h.6M274.2 67.7h.6M275.5 77.2h.6M289.4 74.4h.6M290.2 77.8h.6M284.8 79.6h.6M299.7 75.6h.6M292.1 77.8h.6M272.4 68.4h.6M297.6 74.0h.6M288.6 66.4h.6M266.3 68.0h.6M299.2 70.6h.6M285.6 81.1h.6M278.3 79.3h.6M282.4 66.0h.6M292.5 70.7h.6M295.7 74.6h.6M281.2 79.9h.6M271.5 76.5h.6M290.2 72.6h.6M288.6 78.0h.6M292.3 77.6h.6M271.9 69.4h.6M284.3 64.2h.6M264.7 74.7h.6M292.9 73.5h.6M270.2 68.7h.6M286.8 67.7h.6M282.5 65.4h.6M295.6 66.9h.6M269.5 73.5h.6M265.8 72.8h.6M287.5 78.3h.6M274.0 77.9h.6M273.7 69.5h.6M297.3 72.5h.6M281.7 65.4h.6M289.1 66.1h.6M274.0 68.1h.6M278.8 66.0h.6M272.0 79.8h.6M286.5 68.2h.6M289.4 80.5h.6M271.1 69.9h.6M270.7 73.0h.6M267.8 72.0h.6M270.5 71.9h.6M280.3 63.0h.6M288.2 79.3h.6M272.8 68.1h.6M273.0 74.5h.6M276.0 68.5h.6M286.0 64.1h.6M286.0 76.6h.6M288.9 69.4h.6M266.3 67.4h.6M276.2 78.4h.6M290.6 73.0h.6M290.1 75.5h.6M278.6 81.3h.6M274.8 69.2h.6M290.5 68.5h.6M288.7 68.7h.6M293.7 71.9h.6M275.3 67.4h.6M285.5 77.6h.6M285.3 78.3h.6M289.9 73.5h.6M271.5 69.8h.6M279.3 81.5h.6M278.3 78.8h.6M296.4 72.1h.6M291.0 66.9h.6M292.0 65.9h.6M290.8 66.2h.6M274.5 69.0h.6M275.8 67.2h.6M275.8 66.6h.6M278.7 78.9h.6M285.9 68.2h.6M277.2 81.3h.6M274.9 65.5h.6M277.1 66.2h.6M291.7 75.0h.6M296.2 75.3h.6M269.5 76.3h.6M268.3 73.1h.6M290.1 65.3h.6M298.9 71.8h.6M286.4 67.4h.6M286.1 78.9h.6M289.3 67.9h.6M284.6 66.8h.6M287.1 75.9h.6M274.5 65.7h.6M271.0 68.8h.6M270.2 69.6h.6M278.5 77.4h.6M272.4 71.6h.6M275.3 76.9h.6M268.7 70.5h.6M267.2 68.6h.6M290.8 71.8h.6M293.4 69.7h.6M273.6 68.5h.6M271.7 73.9h.6M282.8 63.5h.6M283.2 64.4h.6M298.8 74.1h.6M282.2 77.3h.6M272.2 74.4h.6M291.9 68.5h.6M274.5 67.7h.6M267.8 71.7h.6M292.7 67.2h.6M270.4 76.5h.6M283.7 63.1h.6M286.3 66.5h.6M282.5 77.6h.6M282.5 78.1h.6M288.8 78.2h.6M280.3 79.0h.6M286.9 68.9h.6M293.4 63.6h.6M279.9 79.6h.6M273.7 69.9h.6M271.7 68.6h.6M290.1 73.3h.6M280.3 67.5h.6M281.3 66.2h.6M285.2 67.9h.6M272.3 78.3h.6M292.5 74.3h.6M268.8 68.0h.6M269.9 71.6h.6M276.3 66.2h.6M275.5 78.4h.6M302.9 70.1h.6M289.6 74.6h.6M294.5 68.1h.6M293.7 72.6h.6M282.5 67.1h.6M268.7 73.1h.6M279.1 78.1h.6M267.4 73.4h.6M268.1 73.3h.6M270.0 71.8h.6M279.1 77.3h.6M290.9 71.6h.6M284.8 76.8h.6M274.5 68.1h.6M265.9 72.2h.6M291.1 75.2h.6M279.3 78.3h.6M278.7 66.2h.6M270.1 69.5h.6M283.9 67.5h.6M269.0 69.4h.6M290.9 70.8h.6M265.5 77.6h.6M281.5 77.6h.6M285.0 80.3h.6M279.9 80.2h.6M270.3 76.9h.6M271.0 75.7h.6M293.7 70.6h.6M278.5 65.2h.6M265.3 78.6h.6M283.2 79.9h.6M291.9 75.5h.6M294.9 68.5h.6M283.3 79.0h.6M280.5 66.9h.6M273.6 70.0h.6M269.4 67.9h.6M269.2 73.2h.6M270.2 75.0h.6M275.2 76.1h.6M281.2 78.1h.6M284.1 67.9h.6M280.4 67.6h.6M278.0 77.4h.6M278.0 77.1h.6M285.8 68.4h.6M297.2 75.7h.6M286.1 68.3h.6M288.6 76.6h.6M269.9 76.2h.6M283.5 80.5h.6M268.0 72.8h.6M269.6 72.0h.6M291.7 75.8h.6M271.2 69.0h.6M273.4 80.3h.6M298.3 69.8h.6M274.0 80.4h.6M287.4 67.7h.6M276.1 63.8h.6M287.3 63.8h.6M293.0 71.9h.6M283.3 79.1h.6M273.7 76.2h.6M294.3 71.0h.6M297.0 74.3h.6M270.3 73.5h.6M274.2 63.9h.6M286.2 67.5h.6M263.1 69.1h.6M293.2 74.1h.6M269.5 75.0h.6M273.5 78.0h.6M268.2 69.7h.6M276.1 77.4h.6M278.3 80.1h.6M291.0 70.3h.6M277.2 67.0h.6M285.1 78.6h.6M270.4 78.1h.6M282.6 78.2h.6M278.5 64.9h.6M274.6 77.0h.6M285.9 62.8h.6M276.8 77.5h.6M284.3 61.3h.6M272.5 76.3h.6M272.0 70.6h.6M273.5 80.2h.6M288.6 77.2h.6M282.6 78.5h.6M290.8 76.5h.6M291.4 66.5h.6M294.0 78.4h.6M299.9 69.5h.6M290.6 77.7h.6M273.3 68.9h.6M294.8 75.8h.6M272.3 77.2h.6M270.5 67.2h.6M270.1 78.5h.6M286.5 77.0h.6M282.8 67.5h.6M272.8 74.3h.6M293.4 75.4h.6M292.5 76.7h.6M272.2 75.9h.6M274.5 77.9h.6M286.9 62.6h.6M278.3 66.8h.6M275.9 77.5h.6M271.1 67.1h.6M271.1 68.8h.6M268.6 69.0h.6M296.6 67.0h.6M262.1 74.0h.6M297.7 76.6h.6M270.6 68.5h.6M279.6 67.6h.6M264.2 72.9h.6M288.4 77.0h.6M273.2 77.8h.6M291.9 69.0h.6M274.2 77.8h.6M279.5 79.4h.6M285.2 77.4h.6M289.5 77.9h.6M299.4 73.7h.6M277.4 67.2h.6M291.0 69.2h.6M291.3 73.9h.6M295.8 75.2h.6M288.3 75.7h.6M275.9 79.0h.6M264.5 74.6h.6M264.3 78.2h.6M279.7 67.9h.6M271.6 75.5h.6M283.6 65.1h.6M293.4 65.7h.6M290.8 67.2h.6M292.1 69.3h.6M278.4 64.4h.6M289.9 69.2h.6M271.3 67.7h.6M272.8 66.6h.6M281.0 79.5h.6M295.6 68.0h.6M276.0 76.3h.6M277.3 65.0h.6M282.1 67.6h.6M283.5 67.5h.6M283.3 66.5h.6M285.8 77.1h.6M271.9 73.6h.6M283.6 79.0h.6M272.3 76.9h.6M283.5 79.2h.6M283.5 80.2h.6M271.5 78.4h.6M278.5 77.5h.6M272.4 76.5h.6M267.8 72.1h.6M278.3 65.5h.6M276.0 76.3h.6M289.8 73.9h.6M267.3 70.9h.6M270.1 76.9h.6M278.8 64.2h.6M274.7 78.6h.6M268.3 71.3h.6M293.4 72.1h.6M280.9 67.3h.6M295.5 74.9h.6M274.2 75.3h.6M288.2 75.7h.6M277.0 66.9h.6M290.5 78.7h.6M275.4 66.9h.6M275.4 62.7h.6M291.6 70.6h.6M289.8 75.2h.6M286.9 66.2h.6M273.1 74.2h.6M276.3 65.0h.6M276.1 67.8h.6M290.6 73.3h.6M273.3 70.6h.6M274.6 68.5h.6M290.5 78.9h.6M291.7 70.7h.6M284.2 80.2h.6M271.4 68.0h.6M284.0 66.4h.6M275.4 81.0h.6M294.9 74.0h.6M271.1 72.6h.6M274.8 75.5h.6M273.2 66.0h.6M269.4 78.9h.6M286.7 63.8h.6M284.6 79.1h.6M270.8 74.7h.6M282.1 77.4h.6M278.0 64.9h.6M285.7 67.1h.6M267.3 74.8h.6M283.2 65.6h.6M283.4 77.5h.6M289.3 70.8h.6M271.3 70.4h.6M269.2 70.0h.6M278.5 77.1h.6M277.9 78.3h.6M268.7 73.4h.6M291.0 74.4h.6M279.5 65.3h.6M268.7 65.7h.6M268.4 73.7h.6M292.4 71.6h.6M296.8 71.1h.6M280.6 81.4h.6M279.8 62.0h.6M283.1 65.1h.6M271.9 71.8h.6M280.1 79.7h.6M284.1 65.0h.6M294.3 75.7h.6M272.8 76.9h.6M287.7 80.1h.6M292.7 79.6h.6M268.0 68.4h.6M273.7 80.1h.6M284.6 67.5h.6M282.5 67.3h.6M297.1 73.3h.6M275.3 67.5h.6M280.9 77.9h.6M288.0 75.4h.6M291.0 77.0h.6M285.4 77.7h.6M286.6 78.4h.6M271.7 78.5h.6M268.3 71.3h.6M270.6 72.0h.6M288.8 77.8h.6M298.7 78.4h.6M282.6 78.2h.6M286.8 76.8h.6M297.1 73.7h.6M288.9 68.6h.6M280.8 77.2h.6M279.0 67.0h.6M272.5 73.8h.6M286.7 68.9h.6M293.1 77.6h.6M284.6 66.2h.6M270.5 75.2h.6M279.0 77.1h.6M277.2 64.8h.6M273.4 69.9h.6M270.4 63.0h.6M279.6 79.5h.6M282.9 67.6h.6M265.3 72.4h.6M286.7 65.8h.6M303.9 74.7h.6M286.2 68.3h.6M272.2 69.1h.6M281.8 79.1h.6M291.3 72.6h.6M271.9 74.4h.6M287.7 76.5h.6M288.9 74.9h.6M289.4 76.5h.6M270.9 73.4h.6M275.4 68.4h.6M284.6 79.1h.6M280.3 65.8h.6M294.9 75.1h.6M291.9 73.8h.6M284.0 77.2h.6M286.7 76.4h.6M270.9 73.4h.6M269.8 73.8h.6M278.9 79.7h.6M286.8 76.2h.6M263.0 67.7h.6M273.8 70.1h.6M279.1 80.7h.6M280.7 77.2h.6M279.5 78.1h.6M292.4 72.2h.6M291.9 71.5h.6M286.6 67.2h.6M283.9 78.7h.6M290.9 74.6h.6M274.4 77.6h.6M271.2 67.4h.6M279.7 78.2h.6M283.3 77.2h.6M276.2 78.8h.6M279.7 67.2h.6M292.0 69.3h.6M290.9 67.7h.6M293.1 71.8h.6M268.5 68.2h.6M285.9 78.9h.6M289.0 65.6h.6M277.2 76.7h.6M280.6 61.9h.6M283.8 68.0h.6M273.6 69.2h.6M291.2 72.1h.6M272.7 78.1h.6M289.2 76.1h.6M272.9 66.3h.6M288.6 77.5h.6M278.2 67.1h.6M300.8 73.7h.6M277.8 78.4h.6M271.3 71.1h.6M289.8 71.3h.6M275.9 79.0h.6M275.7 77.1h.6M281.2 67.4h.6M273.8 78.3h.6M295.0 70.2h.6M289.5 68.3h.6M283.0 64.0h.6M272.6 77.1h.6M277.9 65.8h.6M283.6 65.2h.6M276.4 67.3h.6M291.1 79.2h.6M264.2 66.4h.6M295.3 68.6h.6M272.2 73.0h.6M292.9 72.8h.6M288.7 70.0h.6M290.7 69.9h.6M290.8 74.6h.6M278.2 77.7h.6M291.7 69.9h.6M288.3 77.1h.6M283.4 64.8h.6M287.5 67.9h.6M288.0 75.3h.6M280.5 65.2h.6M274.2 67.4h.6M283.6 66.3h.6M276.7 76.8h.6M286.3 80.3h.6M284.6 67.9h.6M292.4 75.8h.6M282.9 66.1h.6M289.6 79.4h.6M285.7 78.9h.6M277.9 77.8h.6M273.5 66.4h.6M262.8 69.5h.6M272.2 66.8h.6M290.7 73.0h.6M292.8 73.2h.6M288.6 64.8h.6M275.9 65.7h.6M287.1 67.9h.6M277.6 67.8h.6M266.7 65.7h.6M291.7 69.9h.6M283.6 78.8h.6M268.6 65.2h.6M276.7 68.6h.6M289.7 73.1h.6M289.1 64.3h.6M271.3 75.2h.6M275.0 76.8h.6M276.2 68.6h.6M289.2 67.4h.6M267.1 76.4h.6M278.4 80.4h.6M290.1 69.9h.6M270.9 71.1h.6M289.9 71.7h.6M252.2 59.8h.6M251.1 61.0h.6M250.4 61.8h.6M250.5 57.1h.6M251.9 61.3h.6M247.8 64.1h.6M248.2 55.5h.6M247.9 56.5h.6M252.9 62.4h.6M251.4 58.0h.6M252.4 65.6h.6M252.6 57.0h.6M250.4 61.1h.6M251.4 61.5h.6M251.9 62.2h.6M250.8 61.8h.6M251.6 63.8h.6M254.8 56.6h.6M249.7 59.8h.6M253.6 62.7h.6M249.7 64.4h.6M249.3 61.0h.6M248.6 58.9h.6M251.1 58.5h.6M250.8 61.1h.6M248.0 65.9h.6M251.4 64.8h.6M250.7 61.2h.6M249.7 58.6h.6M252.2 59.5h.6M252.6 61.1h.6M256.1 60.0h.6M250.2 62.0h.6M248.3 55.0h.6M250.5 58.0h.6M247.8 62.3h.6M250.1 60.3h.6M250.5 61.0h.6M253.2 66.8h.6M253.3 61.2h.6M252.4 62.9h.6M251.1 60.6h.6M250.4 63.0h.6M250.5 63.1h.6M251.8 60.3h.6M251.4 60.2h.6M250.8 60.8h.6M249.5 65.0h.6M251.1 66.5h.6M248.1 60.9h.6M249.5 56.6h.6M245.5 62.9h.6M248.3 54.3h.6M253.7 62.8h.6M247.7 54.7h.6M247.4 65.9h.6M250.5 58.5h.6M248.3 56.9h.6M252.1 66.8h.6M252.6 65.6h.6M250.5 60.3h.6M250.7 61.6h.6M253.7 62.3h.6M249.3 59.0h.6M253.1 63.7h.6M251.9 60.7h.6M249.2 61.3h.6M249.7 60.6h.6M252.6 62.1h.6M255.8 65.0h.6M250.2 61.7h.6M251.4 64.8h.6M253.5 56.1h.6M249.5 61.1h.6M247.0 59.2h.6M252.7 55.3h.6M252.3 61.2h.6M250.2 58.1h.6M250.7 61.1h.6M253.8 61.5h.6M246.5 61.0h.6M256.8 57.2h.6M253.9 67.6h.6M250.9 59.0h.6M243.7 65.2h.6M254.0 55.3h.6M250.3 60.2h.6M251.0 62.7h.6M250.6 57.7h.6M249.3 60.4h.6M254.4 54.9h.6M250.1 65.4h.6M248.3 63.5h.6M247.8 65.4h.6M250.7 61.0h.6M248.2 58.0h.6M250.6 58.6h.6M253.2 61.7h.6M250.5 57.9h.6M250.1 63.5h.6M248.8 65.1h.6M251.4 55.2h.6M251.5 60.9h.6M248.1 58.1h.6M252.0 65.7h.6M250.6 60.0h.6M249.3 61.9h.6M249.5 66.7h.6M251.0 59.7h.6M251.0 64.3h.6M251.9 63.8h.6M249.2 62.8h.6M247.8 60.6h.6M247.6 53.3h.6M254.3 58.4h.6M250.0 60.7h.6M246.6 62.6h.6M249.8 59.1h.6M252.2 66.5h.6M250.6 61.3h.6M253.4 53.9h.6M253.9 60.8h.6M254.4 57.2h.6M250.6 61.1h.6M244.7 63.3h.6M249.4 56.4h.6M251.3 64.5h.6M251.5 58.7h.6M249.5 60.3h.6M251.3 59.9h.6M250.5 62.8h.6M251.2 57.3h.6M245.4 54.2h.6M249.2 55.4h.6M249.6 59.6h.6M251.0 61.8h.6M252.0 63.3h.6M247.5 64.0h.6M251.5 61.0h.6M253.0 65.2h.6M250.1 61.1h.6M246.4 66.4h.6M243.1 61.2h.6M247.1 64.8h.6M247.6 61.8h.6M252.7 60.4h.6M251.8 56.7h.6M251.1 61.6h.6M253.6 63.3h.6M250.3 59.2h.6M251.0 56.2h.6M251.1 60.7h.6M251.8 59.4h.6M250.0 61.1h.6M248.7 60.3h.6M251.1 60.3h.6M250.9 62.2h.6M251.6 58.2h.6M249.9 63.1h.6M253.9 54.5h.6M251.3 62.5h.6M251.9 60.9h.6M251.6 65.9h.6M253.5 60.5h.6M249.8 65.4h.6M250.8 61.0h.6M250.7 61.0h.6M251.6 61.2h.6M256.5 55.8h.6M248.8 62.1h.6M250.8 62.0h.6" stroke="#8a8a8a" stroke-width=".6" fill="none"/>
<path d="M274.6 57.6l-.8 .1 -.7 0 -.7 0 -.8-.1 -.6 0 -.6-.2 -.6-.1 -.5-.3 -.5-.2 -.4-.3 -.6-.4 -.2-.3 -.3-.5 -.3-.5 -.2-.5 -.1-.7 0-.8 .1-.8 .1-.4 .2-.6 .3-.6 .2-.5 .2-.5 .3-.4 .3-.4 .4-.6 .3-.3 .4-.4 .3-.4 .4-.3 .4-.4 .5-.4 .3-.2 .4-.4 .6-.3 .4-.3 .4-.3 .5-.3 .5-.2 .5-.2 .5-.3 .6-.3 .6-.2 .4-.1 .6-.2 .7-.2 .5-.1 .8-.1 .4-.1 .8 0 .8-.1 .7 .1 .7 0 .6 .1 .6 .2 .6 .2 .5 .2 .5 .3 .4 .3 .4 .4 .3 .3 .3 .6 .3 .4 .1 .6 .1 .7 0 .7 -.1 .8 -.1 .5 -.2 .5 -.3 .6 -.2 .5 -.3 .4 -.3 .5 -.3 .5 -.3 .4 -.4 .3 -.4 .5 -.3 .3 -.5 .4 -.3 .4 -.4 .3 -.5 .3 -.4 .4 -.4 .2 -.4 .3 -.6 .3 -.4 .2 -.6 .3 -.4 .2 -.6 .3 -.4 .2 -.7 .2 -.6 .2 -.5 .2 -.6 .1 -.6 .1 -.7 .2 M252.8 53.1l-.7 .1 -.7 0 -.8 0 -.5-.2 -.7-.2 -.5-.2 -.4-.3 -.4-.3 -.4-.4 -.3-.4 -.3-.4 -.3-.5 -.2-.7 -.1-.6 0-.7 .1-.6 .2-.7 .2-.4 .4-.5 .2-.4 .5-.4 .3-.3 .4-.3 .6-.2 .5-.2 .7-.2 .7-.1 .4 0 .7 .1 .7 .2 .5 .2 .5 .2 .5 .3 .4 .3 .4 .4 .3 .3 .3 .6 .2 .4 .2 .6 .1 .7 0 .7 -.1 .8 -.2 .5 -.3 .5 -.3 .5 -.2 .3 -.6 .4 -.3 .3 -.4 .3 -.5 .2 -.7 .2 M283.1 77.1l-.7 0 -.8 0 -.8 0 -.7 0 -.5-.1 -.8-.1 -.4-.1 -.8-.2 -.5-.2 -.5-.2 -.5-.2 -.5-.2 -.5-.3 -.5-.4 -.3-.3 -.5-.5 -.2-.3 -.2-.6 -.2-.6 0-.8 .2-.5 .2-.5 .3-.4 .5-.5 .3-.3 .4-.3 .5-.3 .5-.2 .5-.2 .5-.2 .7-.3 .6-.1 .7-.1 .5-.1 .8-.1 .7 0 .7 0 .8 0 .8 .1 .6 0 .6 .2 .6 .1 .6 .2 .6 .2 .4 .2 .6 .2 .4 .3 .6 .3 .4 .3 .3 .4 .3 .4 .3 .5 .2 .5 .1 .8 -.1 .7 -.2 .5 -.3 .5 -.3 .3 -.5 .4 -.3 .3 -.5 .3 -.4 .3 -.6 .2 -.4 .2 -.7 .3 -.6 .1 -.5 .1 -.8 .2 -.6 0 M253.4 75.1l-.8 0 -.8 0 -.7 0 -.5-.1 -.8 0 -.7-.1 -.5-.1 -.8-.2 -.4-.1 -.8-.2 -.5-.2 -.5-.2 -.5-.2 -.5-.3 -.4-.4 -.4-.3 -.2-.4 -.2-.7 .2-.8 .2-.3 .5-.5 .3-.2 .5-.3 .5-.2 .6-.3 .6-.2 .6-.1 .4-.2 .8-.1 .5-.1 .7-.1 .8-.1 .8 0 .7 0 .7 0 .8 0 .8 .1 .7 .1 .5 .1 .8 .1 .4 .1 .7 .2 .6 .2 .5 .2 .5 .2 .5 .3 .5 .3 .3 .3 .4 .5 .2 .5 -.1 .7 -.2 .6 -.3 .3 -.5 .4 -.4 .3 -.4 .2 -.6 .2 -.7 .3 -.4 .1 -.6 .2 -.7 .1 -.5 .1 -.8 .1 -.7 .1 -.5 0 M275.4 55.8l-.8 .1 -.8 .1 -.7 0 -.7-.1 -.6-.1 -.6-.2 -.5-.3 -.4-.3 -.5-.3 -.3-.4 -.2-.5 -.2-.5 -.1-.7 .1-.8 .1-.5 .2-.5 .2-.6 .2-.5 .3-.4 .4-.5 .3-.4 .3-.4 .5-.4 .3-.3 .5-.4 .4-.3 .4-.3 .4-.3 .5-.3 .5-.3 .5-.2 .5-.3 .5-.2 .5-.2 .7-.2 .5-.1 .6-.2 .7-.1 .7-.1 .8 0 .8 .1 .7 .1 .5 .1 .5 .2 .5 .3 .5 .4 .3 .3 .4 .5 .2 .5 .1 .5 0 .8 0 .4 -.2 .8 -.2 .5 -.3 .5 -.3 .5 -.3 .4 -.2 .4 -.4 .5 -.4 .3 -.4 .4 -.3 .3 -.5 .4 -.4 .3 -.4 .3 -.4 .3 -.6 .3 -.4 .2 -.6 .3 -.4 .2 -.6 .2 -.4 .2 -.8 .2 -.5 .2 -.7 .1 M252.4 51.8l-.8 .1 -.8 0 -.4-.2 -.6-.2 -.4-.3 -.6-.4 -.2-.3 -.3-.5 -.2-.4 -.2-.8 .1-.8 .1-.4 .3-.6 .3-.4 .4-.4 .5-.4 .5-.2 .5-.2 .8-.1 .7 .1 .7 .2 .6 .2 .4 .2 .3 .3 .4 .5 .3 .5 .2 .5 .1 .5 0 .6 -.1 .7 -.3 .4 -.3 .6 -.3 .3 -.5 .4 -.5 .3 -.5 .1 M254.6 74.6l-.8 0 -.7 .1 -.7 0 -.8 0 -.8 0 -.7-.1 -.5-.1 -.8-.1 -.4-.1 -.8-.2 -.5-.1 -.5-.2 -.5-.3 -.5-.2 -.5-.4 -.3-.3 -.3-.6 -.1-.7 .2-.5 .5-.5 .3-.3 .4-.2 .6-.3 .5-.2 .7-.2 .5-.2 .7-.1 .6-.1 .7-.1 .5-.1 .8 0 .7 0 .7 0 .8 0 .5 .1 .7 .1 .8 .1 .5 .1 .6 .1 .7 .3 .4 .2 .6 .2 .4 .3 .5 .3 .3 .3 .3 .4 .1 .8 -.2 .5 -.4 .5 -.3 .3 -.5 .3 -.5 .2 -.5 .2 -.6 .2 -.6 .2 -.6 .1 -.7 .2 -.5 .1 M283.1 76.1l-.7 .1 -.8 0 -.8 0 -.7-.1 -.5-.1 -.8-.1 -.4-.2 -.6-.2 -.5-.2 -.5-.3 -.4-.2 -.6-.4 -.3-.4 -.3-.4 -.2-.6 -.1-.7 .2-.7 .3-.4 .3-.4 .4-.4 .5-.4 .4-.2 .6-.2 .5-.2 .5-.2 .6-.2 .6-.1 .8 0 .8-.1 .7 0 .7 .1 .8 .1 .5 .1 .7 .2 .6 .2 .4 .2 .6 .2 .4 .3 .5 .4 .3 .3 .3 .4 .3 .5 .1 .8 -.2 .7 -.2 .5 -.3 .3 -.4 .5 -.4 .2 -.4 .3 -.6 .2 -.5 .3 -.7 .2 -.5 .1 -.7 .1 M276.1 54.3l-.7 .1 -.8 .1 -.8 0 -.7-.2 -.5-.1 -.5-.3 -.5-.3 -.2-.4 -.3-.5 -.1-.7 0-.7 .1-.5 .3-.5 .2-.5 .4-.5 .4-.5 .2-.3 .5-.5 .3-.2 .4-.4 .6-.3 .4-.3 .5-.2 .5-.3 .5-.3 .5-.1 .6-.2 .5-.1 .7-.2 .8 0 .7 0 .7 .1 .6 .1 .4 .2 .6 .4 .3 .4 .3 .4 .1 .6 0 .7 -.1 .5 -.2 .5 -.2 .5 -.3 .5 -.3 .5 -.4 .4 -.3 .4 -.5 .3 -.4 .4 -.3 .3 -.5 .3 -.5 .3 -.5 .2 -.5 .3 -.5 .2 -.5 .1 -.7 .3 M253.6 74.3l-.8 .1 -.7 0 -.7-.1 -.7 0 -.6-.1 -.7-.1 -.6-.1 -.7-.2 -.5-.1 -.5-.2 -.5-.3 -.5-.3 -.4-.3 -.3-.5 -.2-.5 .2-.6 .3-.4 .4-.3 .5-.3 .5-.3 .5-.2 .7-.2 .5-.1 .6-.2 .7-.1 .7 0 .8-.1 .8 0 .7 0 .7 .1 .8 .1 .5 .1 .7 .1 .6 .2 .5 .2 .6 .2 .5 .2 .4 .3 .4 .5 .3 .4 .1 .6 -.3 .5 -.3 .4 -.5 .3 -.4 .3 -.6 .3 -.5 .1 -.5 .2 -.7 .1 -.6 .2 -.7 .1 -.5 0 M283.4 74.8l-.8 .2 -.8 0 -.7 0 -.7-.1 -.7-.1 -.6-.2 -.5-.2 -.5-.3 -.4-.3 -.3-.4 -.3-.4 -.1-.7 .2-.5 .4-.5 .2-.3 .6-.3 .4-.2 .6-.2 .7-.2 .5-.1 .8 0 .7 0 .6 0 .7 .2 .4 .1 .7 .3 .5 .2 .4 .3 .4 .5 .3 .4 .1 .6 -.1 .4 -.3 .6 -.4 .3 -.6 .4 -.4 .2 -.6 .2 -.4 .1 M275.4 53.1l-.6-.1 -.7-.1 -.5-.3 -.4-.3 -.2-.5 -.1-.8 .2-.7 .3-.5 .2-.3 .4-.5 .4-.3 .4-.4 .3-.3 .5-.2 .5-.3 .5-.2 .7-.3 .5-.1 .8-.1 .8 .1 .7 .1 .4 .3 .3 .3 .3 .4 .1 .8 -.1 .5 -.3 .5 -.2 .5 -.4 .5 -.4 .3 -.4 .4 -.4 .3 -.4 .2 -.5 .3 -.5 .3 -.7 .2 -.5 .1 -.8 .1 M252.4 74.1l-.6-.1 -.7 0 -.7-.1 -.8-.1 -.5-.1 -.7-.1 -.6-.3 -.4-.2 -.6-.3 -.3-.2 -.4-.6 -.1-.4 .2-.6 .4-.4 .3-.3 .5-.3 .6-.2 .6-.2 .5-.1 .7-.2 .6-.1 .7 0 .7-.1 .8 0 .8 .1 .7 .1 .5 0 .8 .2 .4 .1 .6 .2 .6 .2 .5 .3 .3 .3 .4 .4 .2 .6 -.1 .4 -.4 .6 -.3 .2 -.5 .3 -.5 .2 -.6 .3 -.6 .1 -.6 .1 -.7 .1 -.7 .1 -.8 0 M276.8 50.6l-.4-.1 0-.7 .3-.2 .7-.3 .5 .3 -.2 .4 -.3 .4 -.6 .2 M254.1 73.6l-.7 .1 -.8 0 -.8 0 -.7 0 -.7-.1 -.6-.1 -.7-.2 -.5-.1 -.5-.3 -.5-.2 -.4-.4 -.3-.5 .1-.8 .4-.3 .4-.3 .6-.3 .4-.1 .6-.2 .7-.1 .7-.1 .6-.1 .7 0 .7 0 .8 .1 .5 0 .7 .2 .6 .1 .4 .2 .6 .2 .4 .3 .6 .4 .1 .6 -.1 .5 -.4 .5 -.4 .2 -.5 .2 -.7 .3 -.6 .1 -.5 .2 M253.1 73.3l-.7 0 -.8 0 -.5 0 -.7-.1 -.6-.2 -.7-.2 -.5-.2 -.4-.3 -.4-.4 0-.6 .3-.3 .5-.4 .5-.2 .5-.2 .5-.2 .7-.1 .8 0 .8 0 .7 0 .7 .1 .6 .1 .7 .2 .5 .2 .5 .3 .3 .2 .2 .6 -.1 .4 -.4 .4 -.5 .3 -.5 .2 -.5 .2 -.8 .1 -.6 .1 M253.6 72.8l-.8 .1 -.7 0 -.7 0 -.6-.1 -.7-.2 -.5-.2 -.5-.3 -.3-.5 .1-.3 .5-.4 .4-.2 .6-.2 .7-.2 .5 0 .8 0 .6 0 .6 .1 .7 .2 .5 .2 .5 .2 .3 .6 -.2 .5 -.6 .3 -.4 .2 -.8 .2" fill="none" stroke="#1a1a1a" stroke-width="0.6"/>
<rect x="263.3" y="36.3" width="28.2" height="23.9" fill="none" stroke="#111" stroke-width="1.2" />
<rect x="268.4" y="66.1" width="25.4" height="12.9" fill="none" stroke="#111" stroke-width="1.2" />
<text x="243" y="10.8" font-size="8" fill="#111" text-anchor="start" font-weight="normal" stroke="#111" stroke-width="0.18" >donor #033</text>
<text x="0" y="0" font-size="8.25" fill="#111" stroke="#111" stroke-width="0.18" text-anchor="middle" dominant-baseline="central" transform="translate(230.7,51.1) rotate(-90)">KIR2DL1</text>
<polyline points="291.5,36.3 318.6,16.5 437,16.5" stroke="#000" stroke-width="1.2" fill="none" stroke-linejoin="round" />
<polygon points="443.6,16.5 437.1,14.3 437.1,18.7" fill="#111"/>
<polyline points="293.8,72.8 314.9,79.6 343,79.6" stroke="#000" stroke-width="1.2" fill="none" stroke-linejoin="round" />
<polygon points="349.2,79.6 342.7,77.4 342.7,81.8" fill="#111"/>
<rect x="343.6" y="12.3" width="84.2" height="70.1" fill="none" stroke="#777" stroke-width="0.8" />
<path d="M348.65 82.4v2M343.6 78.19h-2M354.74 82.4v1.1M343.6 73.13h-1.1M358.29 82.4v1.1M343.6 70.17h-1.1M360.82 82.4v1.1M343.6 68.06h-1.1M362.78 82.4v1.1M343.6 66.43h-1.1M364.38 82.4v1.1M343.6 65.1h-1.1M365.73 82.4v1.1M343.6 63.98h-1.1M366.9 82.4v1.1M343.6 63h-1.1M367.94 82.4v1.1M343.6 62.14h-1.1M368.86 82.4v2M343.6 61.37h-2M374.94 82.4v1.1M343.6 56.31h-1.1M378.5 82.4v1.1M343.6 53.34h-1.1M381.03 82.4v1.1M343.6 51.24h-1.1M382.98 82.4v1.1M343.6 49.61h-1.1M384.58 82.4v1.1M343.6 48.28h-1.1M385.94 82.4v1.1M343.6 47.15h-1.1M387.11 82.4v1.1M343.6 46.18h-1.1M388.14 82.4v1.1M343.6 45.32h-1.1M389.07 82.4v2M343.6 44.55h-2M395.15 82.4v1.1M343.6 39.48h-1.1M398.71 82.4v1.1M343.6 36.52h-1.1M401.23 82.4v1.1M343.6 34.42h-1.1M403.19 82.4v1.1M343.6 32.79h-1.1M404.79 82.4v1.1M343.6 31.45h-1.1M406.15 82.4v1.1M343.6 30.33h-1.1M407.32 82.4v1.1M343.6 29.35h-1.1M408.35 82.4v1.1M343.6 28.49h-1.1M409.28 82.4v2M343.6 27.72h-2M343.6 82.4v1.1M343.6 82.4h-1.1M345.28 82.4v1.1M343.6 81h-1.1M346.97 82.4v1.1M343.6 79.6h-1.1" stroke="#555" stroke-width="0.45" fill="none"/>
<path d="M358.1 64.3h.6M362.5 62.0h.6M350.0 62.5h.6M351.2 40.2h.6M368.5 44.7h.6M345.7 54.3h.6M357.6 62.3h.6M353.5 44.0h.6M365.9 48.2h.6M351.3 43.3h.6M344.9 60.0h.6M361.2 42.0h.6M360.8 38.6h.6M364.4 58.5h.6M369.4 63.8h.6M348.7 56.9h.6M362.4 59.1h.6M367.7 46.7h.6M347.7 49.7h.6M366.7 46.7h.6M360.1 61.8h.6M362.5 39.9h.6M364.7 47.5h.6M346.3 55.7h.6M349.0 44.3h.6M355.5 61.3h.6M365.4 37.4h.6M350.8 56.7h.6M366.4 44.7h.6M353.6 40.3h.6M360.5 60.3h.6M353.8 62.3h.6M372.7 59.6h.6M354.7 43.0h.6M346.1 43.1h.6M361.8 60.9h.6M364.0 58.9h.6M369.1 61.7h.6M355.4 44.6h.6M349.0 54.1h.6M365.3 43.9h.6M360.0 41.4h.6M363.4 58.6h.6M358.3 43.3h.6M375.2 58.0h.6M360.0 42.3h.6M353.2 39.3h.6M358.4 39.8h.6M371.0 59.6h.6M366.0 59.2h.6M354.6 42.7h.6M347.2 51.7h.6M359.8 60.6h.6M350.1 56.8h.6M356.3 62.5h.6M368.3 43.3h.6M359.8 39.8h.6M350.6 56.8h.6M354.3 60.6h.6M349.9 48.7h.6M369.3 59.4h.6M346.7 46.3h.6M349.8 56.4h.6M345.9 60.2h.6M354.1 42.1h.6M354.4 64.0h.6M347.2 47.5h.6M366.1 59.8h.6M358.8 67.1h.6M347.8 44.0h.6M347.3 52.7h.6M351.4 47.2h.6M365.1 41.4h.6M366.3 59.2h.6M353.2 44.6h.6M359.3 41.5h.6M361.0 59.9h.6M364.6 44.6h.6M367.9 45.7h.6M365.1 47.2h.6M353.2 45.9h.6M353.4 42.6h.6M351.9 60.1h.6M355.4 60.9h.6M365.8 45.5h.6M351.5 46.2h.6M366.9 60.2h.6M360.7 42.2h.6M348.6 52.3h.6M361.1 68.0h.6M357.4 40.6h.6M348.5 56.6h.6M363.9 61.7h.6M366.7 57.9h.6M365.3 59.7h.6M347.0 48.0h.6M358.1 43.6h.6M346.9 53.3h.6M362.6 44.0h.6M359.5 66.3h.6M346.0 53.1h.6M358.0 43.4h.6M363.3 43.9h.6M366.1 38.1h.6M359.3 40.4h.6M355.9 40.4h.6M347.7 52.1h.6M348.8 49.8h.6M346.5 60.6h.6M355.5 40.7h.6M365.4 46.4h.6M370.8 44.6h.6M350.2 47.9h.6M368.6 45.4h.6M345.9 57.2h.6M351.3 56.6h.6M348.1 53.8h.6M371.4 58.0h.6M380.4 41.2h.6M362.2 67.9h.6M364.6 65.2h.6M374.7 56.2h.6M372.2 57.5h.6M393.0 41.5h.6M376.5 39.6h.6M374.5 56.0h.6M384.3 46.7h.6M380.7 52.3h.6M378.8 36.9h.6M387.1 41.6h.6M368.2 46.1h.6M380.2 41.1h.6M368.6 46.7h.6M369.2 59.6h.6M384.2 45.7h.6M360.1 62.9h.6M370.3 43.7h.6M382.5 40.5h.6M387.0 44.3h.6M382.0 52.8h.6M378.6 56.7h.6M370.1 45.2h.6M397.1 39.9h.6M376.7 41.7h.6M395.4 41.2h.6M377.7 57.0h.6M380.8 50.6h.6M370.5 42.7h.6M362.2 59.4h.6M374.1 57.0h.6M371.5 60.1h.6M380.0 51.8h.6M365.1 60.3h.6M373.1 43.7h.6M379.3 53.9h.6M382.0 50.8h.6M362.8 58.7h.6M383.8 46.3h.6M382.6 41.6h.6M367.8 48.8h.6M369.6 45.4h.6M377.4 57.9h.6M368.1 60.9h.6M366.7 63.7h.6M380.1 55.0h.6M388.5 37.9h.6M378.6 58.6h.6M367.0 48.8h.6M383.2 47.1h.6M382.5 50.5h.6M385.3 40.9h.6M380.7 55.1h.6M365.8 61.3h.6M372.4 58.8h.6M388.0 41.9h.6M373.3 58.5h.6M380.9 52.7h.6M385.4 37.8h.6M364.5 58.6h.6M363.8 61.4h.6M387.0 52.6h.6M361.7 62.2h.6M382.0 51.9h.6M382.0 39.4h.6M386.3 48.5h.6M372.2 43.4h.6M375.8 42.7h.6M383.6 41.6h.6M373.0 41.5h.6M382.8 35.8h.6M371.7 43.9h.6M370.8 57.9h.6M362.8 58.7h.6M373.4 56.3h.6M375.8 40.9h.6M384.6 46.6h.6M370.6 59.7h.6M380.9 38.8h.6M377.3 41.3h.6M384.4 37.9h.6M377.3 54.0h.6M374.7 40.6h.6M370.5 41.2h.6M384.3 40.9h.6M383.9 48.2h.6M370.6 58.7h.6M382.7 48.7h.6M389.1 47.3h.6M377.6 54.8h.6M379.5 40.4h.6M364.1 64.3h.6M386.1 43.9h.6M379.9 51.5h.6M392.0 37.6h.6M388.5 31.7h.6M377.8 58.7h.6M367.5 47.2h.6M376.8 39.5h.6M373.5 60.9h.6M360.4 60.3h.6M387.6 43.1h.6M370.0 58.6h.6M378.5 55.3h.6M382.5 56.3h.6M372.7 41.9h.6M365.5 57.9h.6M390.0 42.2h.6M367.1 43.4h.6M376.0 54.9h.6M363.5 67.6h.6M378.6 39.9h.6M388.5 35.6h.6M386.0 39.9h.6M384.7 40.0h.6M368.7 61.5h.6M369.8 45.0h.6M368.7 46.8h.6M382.9 43.8h.6M384.1 34.7h.6M389.3 39.6h.6M383.0 47.3h.6M369.2 58.6h.6M367.8 58.1h.6M359.6 61.0h.6M383.3 45.5h.6M387.4 45.4h.6M381.9 48.6h.6M375.1 60.3h.6M383.8 48.0h.6M367.1 48.0h.6M373.4 39.9h.6M364.6 58.7h.6M371.8 43.2h.6M369.3 43.8h.6M381.6 40.2h.6M364.9 59.4h.6M366.3 44.6h.6M375.6 58.2h.6M369.7 59.0h.6M377.6 58.3h.6M366.8 58.2h.6M383.6 46.5h.6M383.9 33.9h.6M364.2 59.1h.6M383.9 45.5h.6M369.6 45.4h.6M384.5 43.6h.6M382.6 43.0h.6M361.7 60.7h.6M394.4 31.0h.6M357.0 62.7h.6M366.5 59.0h.6M373.3 39.9h.6M389.2 34.9h.6M381.6 49.4h.6M379.0 39.6h.6M385.4 42.1h.6M365.1 62.6h.6M383.5 41.1h.6M370.2 59.9h.6M381.3 51.4h.6M364.3 60.0h.6M368.5 60.9h.6M375.1 55.2h.6M379.7 39.0h.6M368.9 58.6h.6M374.4 56.9h.6M372.0 44.6h.6M370.6 63.5h.6M384.3 39.9h.6M371.3 40.6h.6M383.5 36.4h.6M358.3 66.8h.6M367.5 48.5h.6M368.0 59.3h.6M366.6 48.6h.6M370.5 46.3h.6M392.2 44.5h.6M377.7 41.0h.6M373.4 44.1h.6M367.5 60.9h.6M386.2 47.2h.6M363.5 69.5h.6M390.9 38.2h.6M378.6 53.7h.6M379.2 54.8h.6M379.8 51.7h.6M383.2 50.9h.6M369.1 45.4h.6M393.4 33.0h.6M378.1 54.8h.6M386.2 44.0h.6M368.2 63.6h.6M377.8 58.9h.6M376.9 54.4h.6M389.0 35.6h.6M361.1 70.6h.6M365.8 70.4h.6M345.9 79.6h.6M350.7 67.5h.6M345.3 75.8h.6M364.3 72.4h.6M349.3 68.8h.6M344.2 71.5h.6M361.3 70.3h.6M355.4 66.9h.6M356.6 79.6h.6M360.7 81.2h.6M351.7 67.0h.6M360.8 81.3h.6M351.7 67.1h.6M366.9 81.3h.6M362.4 69.9h.6M362.7 73.8h.6M354.4 80.2h.6M354.8 67.0h.6M360.0 67.9h.6M360.2 80.5h.6M361.6 79.3h.6M364.1 79.0h.6M347.5 79.3h.6M364.8 75.2h.6M346.3 74.1h.6M360.9 68.0h.6M368.0 69.0h.6M362.5 75.9h.6M362.4 71.0h.6M350.1 71.1h.6M363.9 76.4h.6M358.8 67.3h.6M352.9 79.4h.6M347.6 78.6h.6M362.9 77.3h.6M360.7 78.3h.6M350.9 70.7h.6M368.8 73.7h.6M348.7 67.0h.6M358.1 64.1h.6M360.0 67.3h.6M350.6 65.0h.6M357.1 81.1h.6M365.3 76.0h.6M347.4 78.8h.6M360.6 78.4h.6M352.1 80.2h.6M359.7 67.5h.6M358.5 68.4h.6M365.7 79.8h.6M362.2 76.4h.6M362.2 65.9h.6M356.9 65.9h.6M352.2 69.1h.6M364.7 74.9h.6M346.1 78.2h.6M355.8 66.9h.6M351.6 65.8h.6M362.3 77.3h.6M357.8 63.2h.6M352.2 65.8h.6M353.8 80.6h.6M366.9 77.7h.6M348.1 63.9h.6M345.2 73.4h.6M364.6 66.0h.6M365.7 80.7h.6M348.9 67.7h.6M363.5 69.2h.6M348.0 76.5h.6M362.1 76.1h.6M350.0 76.2h.6M355.9 63.8h.6M359.8 66.2h.6M358.0 64.3h.6M356.7 64.4h.6M359.5 64.3h.6M357.2 62.9h.6M354.5 66.9h.6M361.2 60.9h.6M362.1 70.2h.6M361.9 66.3h.6M356.0 65.4h.6M357.8 62.3h.6M355.9 60.9h.6M357.0 62.1h.6M355.1 61.2h.6M356.3 64.8h.6M358.0 62.0h.6M359.9 62.3h.6M361.5 63.4h.6M356.8 61.7h.6M357.2 63.0h.6M355.7 64.2h.6M357.3 63.0h.6M357.4 63.7h.6M357.2 62.8h.6M356.8 65.8h.6M357.3 62.1h.6M357.2 63.6h.6M352.3 64.8h.6M356.7 66.2h.6M358.8 66.2h.6M354.6 64.3h.6M356.2 62.5h.6M354.0 62.3h.6M354.1 64.2h.6M360.8 64.5h.6M356.0 62.7h.6" stroke="#8a8a8a" stroke-width=".6" fill="none"/>
<path d="M357.8 61.6l-.6 0 -.5-.3 -.3-.3 -.5-.4 -.3-.3 -.5-.5 -.3-.2 -.4-.5 -.4-.3 -.4-.4 -.3-.4 -.5-.4 -.2-.3 -.4-.5 -.4-.4 -.2-.4 -.3-.4 -.2-.6 -.3-.5 -.2-.7 -.1-.5 -.1-.7 0-.8 .1-.8 .1-.6 .2-.6 .1-.5 .3-.5 .2-.5 .4-.5 .3-.4 .3-.4 .4-.4 .4-.3 .4-.3 .5-.3 .5-.3 .5-.2 .5-.2 .5-.2 .7-.2 .6-.1 .7 0 .7 0 .8 0 .5 .1 .7 .2 .6 .2 .4 .1 .6 .3 .4 .2 .6 .4 .4 .3 .3 .3 .5 .4 .2 .3 .4 .5 .4 .5 .2 .5 .3 .4 .3 .4 .7 .1 .5-.2 .5-.4 .3-.3 .4-.4 .4-.4 .4-.4 .4-.3 .4-.4 .4-.3 .3-.4 .5-.4 .3-.2 .5-.4 .4-.4 .4-.2 .4-.3 .5-.3 .5-.3 .5-.3 .5-.3 .5-.2 .5-.3 .5-.2 .5-.1 .7-.3 .5-.1 .8-.1 .8 0 .7 .2 .5 .1 .5 .4 .3 .3 .3 .5 .2 .5 0 .8 0 .7 -.1 .5 -.2 .7 -.2 .5 -.2 .6 -.3 .4 -.3 .6 -.2 .4 -.3 .4 -.3 .4 -.3 .5 -.4 .5 -.3 .3 -.3 .5 -.4 .3 -.3 .4 -.4 .4 -.4 .3 -.4 .4 -.4 .4 -.4 .3 -.4 .4 -.5 .3 -.3 .2 -.5 .4 -.5 .3 -.5 .3 -.5 .3 -.5 .2 -.5 .3 -.5 .2 -.5 .2 -.5 .2 -.5 .2 -.8 .1 -.4 .1 -.8 .1 -.8 0 -.7 0 -.5-.1 -.8-.1 -.7-.1 -.7 .2 -.6 .2 -.4 .2 -.6 .3 -.4 .3 -.4 .2 -.4 .3 -.5 .3 -.5 .3 -.5 .4 -.4 .3 -.3 .2 -.6 .4 -.4 .2 -.6 .2 M357.1 79.6l-.7 0 -.8 0 -.5-.1 -.7-.2 -.6-.2 -.4-.2 -.6-.3 -.4-.3 -.3-.3 -.5-.4 -.3-.3 -.3-.5 -.3-.5 -.2-.5 -.2-.5 -.1-.7 0-.8 .1-.8 .2-.4 .2-.6 .3-.4 .3-.6 .3-.3 .4-.4 .4-.3 .4-.4 .5-.3 .5-.3 .4-.2 .4-.2 .5-.3 .6-.3 .6-.2 .5-.1 .8 0 .5 .2 .5 .3 .5 .3 .4 .3 .3 .3 .5 .5 .3 .3 .4 .4 .4 .4 .2 .4 .3 .5 .2 .4 .3 .6 .1 .7 .1 .6 0 .5 -.1 .6 -.1 .7 -.3 .6 -.3 .5 -.2 .3 -.3 .5 -.5 .4 -.4 .3 -.3 .3 -.5 .2 -.5 .3 -.6 .2 -.7 .2 -.5 .1 M359.4 58.3l-.8 .2 -.8 0 -.7-.1 -.5-.2 -.5-.2 -.5-.3 -.5-.4 -.4-.3 -.3-.3 -.4-.4 -.4-.4 -.2-.4 -.4-.5 -.2-.4 -.2-.6 -.2-.6 -.2-.6 0-.8 0-.7 .2-.7 .1-.6 .3-.4 .2-.6 .4-.4 .2-.3 .5-.5 .3-.2 .4-.4 .6-.3 .4-.2 .6-.2 .6-.2 .6-.1 .8-.1 .7 0 .7 .2 .6 .1 .5 .2 .5 .2 .5 .2 .5 .3 .4 .4 .4 .3 .4 .5 .2 .4 .3 .4 .3 .5 .2 .6 .2 .6 .1 .6 .1 .7 .1 .5 .2 .8 .3-.2 .3-.4 .4-.4 .3-.5 .3-.3 .3-.5 .4-.4 .3-.3 .4-.6 .3-.4 .3-.3 .4-.5 .3-.3 .4-.5 .4-.3 .4-.4 .3-.3 .5-.4 .3-.3 .5-.4 .4-.3 .4-.3 .4-.3 .5-.4 .5-.3 .5-.2 .5-.3 .5-.2 .5-.3 .5-.1 .5-.2 .8-.2 .4-.1 .8 0 .6 .1 .6 .2 .4 .3 .4 .4 .2 .5 .2 .6 0 .8 -.2 .6 -.1 .6 -.2 .5 -.2 .5 -.3 .5 -.2 .5 -.3 .5 -.4 .5 -.3 .4 -.2 .4 -.5 .4 -.3 .4 -.3 .4 -.4 .4 -.4 .4 -.3 .3 -.5 .4 -.3 .3 -.5 .4 -.5 .3 -.3 .3 -.5 .3 -.4 .3 -.6 .3 -.4 .2 -.6 .3 -.4 .2 -.6 .2 -.4 .2 -.8 .2 -.5 .1 -.7 .1 -.8-.1 -.8-.1 -.4-.2 -.6-.3 -.3-.3 -.4-.4 -.3-.5 -.2-.5 -.2-.6 -.3 .1 -.4 .5 -.3 .3 -.4 .4 -.4 .4 -.4 .3 -.4 .4 -.4 .4 -.5 .2 -.3 .3 -.5 .3 -.5 .2 -.5 .2 -.7 .3 M356.8 77.8l-.7 0 -.5 0 -.8-.2 -.4-.2 -.6-.3 -.3-.3 -.4-.4 -.3-.4 -.3-.4 -.1-.6 -.2-.7 .1-.7 .1-.6 .3-.4 .3-.6 .4-.4 .3-.3 .4-.3 .5-.3 .5-.2 .7-.2 .6-.1 .7 0 .5 .1 .6 .3 .4 .2 .5 .3 .4 .5 .3 .3 .3 .4 .3 .5 .2 .8 0 .4 0 .6 -.2 .7 -.2 .5 -.4 .5 -.2 .3 -.5 .4 -.5 .3 -.5 .2 -.5 .2 -.6 .1 M370.8 56.1l-.7 .1 -.7 0 -.6-.2 -.6-.2 -.4-.3 -.3-.5 -.2-.4 -.1-.8 .2-.7 .1-.5 .3-.6 .2-.4 .3-.6 .3-.4 .2-.3 .4-.5 .4-.5 .2-.3 .4-.4 .4-.4 .4-.4 .4-.4 .3-.4 .4-.3 .5-.4 .3-.3 .5-.3 .4-.3 .6-.3 .4-.3 .5-.2 .5-.3 .6-.2 .4-.2 .6-.2 .7-.1 .5-.1 .8 0 .4 .1 .6 .3 .4 .4 .2 .5 .1 .5 0 .7 0 .6 -.3 .7 -.2 .5 -.2 .5 -.3 .5 -.3 .5 -.2 .3 -.3 .4 -.4 .6 -.3 .3 -.3 .4 -.5 .5 -.2 .2 -.5 .5 -.3 .3 -.4 .4 -.5 .4 -.4 .2 -.4 .3 -.5 .3 -.5 .3 -.5 .3 -.5 .3 -.5 .2 -.5 .2 -.5 .2 -.7 .1 M359.4 56.6l-.8 .1 -.8 0 -.7-.1 -.5-.2 -.5-.3 -.4-.3 -.3-.3 -.5-.5 -.3-.3 -.2-.4 -.3-.5 -.2-.8 -.1-.4 -.1-.8 .1-.7 .2-.5 .2-.6 .3-.4 .3-.4 .4-.4 .4-.3 .5-.3 .5-.3 .5-.1 .7-.2 .8 0 .8 .1 .6 .1 .6 .2 .5 .3 .4 .3 .3 .3 .5 .4 .3 .5 .2 .4 .3 .6 .1 .5 .1 .7 -.1 .8 -.1 .5 -.3 .5 -.2 .5 -.4 .5 -.4 .4 -.3 .4 -.4 .2 -.5 .3 -.5 .3 -.5 .2 M357.1 75.6l-.7 .2 -.8-.2 -.5-.3 -.3-.3 -.2-.7 .1-.7 .4-.6 .3-.2 .5-.2 .7-.1 .5 .1 .5 .2 .4 .5 .2 .5 0 .8 -.3 .4 -.3 .4 -.5 .2 M371.4 55.3l-.8 .1 -.8 0 -.5-.1 -.5-.3 -.4-.4 -.2-.6 0-.7 .1-.7 .2-.6 .2-.4 .3-.6 .3-.4 .3-.5 .2-.4 .4-.4 .4-.5 .2-.3 .5-.5 .3-.2 .5-.5 .3-.3 .4-.3 .5-.4 .4-.3 .4-.2 .5-.3 .5-.3 .5-.3 .5-.2 .5-.2 .8-.2 .4-.1 .8 0 .5 .1 .6 .3 .4 .4 .2 .6 .1 .4 0 .7 -.2 .6 -.2 .5 -.2 .5 -.2 .5 -.3 .5 -.4 .5 -.3 .4 -.2 .4 -.5 .4 -.3 .4 -.4 .4 -.4 .4 -.4 .4 -.3 .2 -.5 .4 -.5 .4 -.3 .2 -.4 .3 -.6 .2 -.4 .3 -.6 .2 -.5 .2 -.7 .3 M359.1 55.1l-.7 .1 -.8-.2 -.5-.1 -.5-.3 -.3-.3 -.4-.5 -.3-.4 -.2-.6 -.1-.5 0-.7 .2-.6 .2-.4 .4-.5 .3-.3 .4-.3 .6-.2 .7-.2 .7 0 .8 .1 .5 .3 .5 .3 .3 .2 .3 .6 .3 .4 .1 .6 .1 .7 -.1 .5 -.2 .5 -.3 .5 -.5 .5 -.3 .3 -.5 .2 -.6 .2 M371.6 54.6l-.8 .1 -.7-.1 -.5-.3 -.2-.3 -.3-.6 0-.6 .1-.5 .2-.5 .2-.6 .2-.5 .3-.4 .4-.5 .3-.5 .3-.3 .4-.4 .3-.4 .5-.4 .3-.3 .5-.4 .4-.3 .3-.3 .6-.3 .4-.3 .6-.3 .4-.2 .6-.2 .7-.2 .5 0 .8 0 .4 .2 .4 .4 .3 .4 .1 .8 -.2 .8 -.1 .4 -.3 .6 -.2 .4 -.3 .6 -.4 .4 -.3 .4 -.3 .4 -.4 .4 -.3 .4 -.4 .4 -.4 .3 -.4 .3 -.5 .4 -.5 .3 -.4 .3 -.4 .2 -.5 .2 -.6 .3 -.6 .2 -.5 .1 M371.6 53.8l-.5 0 -.6-.2 -.4-.6 -.1-.4 .1-.7 .2-.6 .2-.5 .3-.5 .3-.4 .3-.4 .4-.5 .3-.3 .4-.4 .3-.4 .5-.3 .4-.3 .4-.3 .5-.3 .5-.3 .5-.2 .5-.2 .7-.2 .8 .1 .5 .1 .4 .6 .2 .4 -.1 .8 -.2 .5 -.2 .5 -.3 .5 -.3 .5 -.2 .4 -.4 .4 -.4 .4 -.3 .3 -.5 .4 -.3 .3 -.4 .3 -.5 .4 -.5 .3 -.5 .2 -.5 .3 -.5 .1 -.8 .2 M372.6 52.8l-.8 0 -.4-.2 -.3-.5 0-.5 .1-.6 .3-.4 .3-.6 .3-.4 .3-.3 .4-.5 .3-.3 .5-.4 .4-.3 .4-.3 .4-.2 .6-.3 .7-.2 .5 0 .5 .1 .5 .4 .1 .5 -.1 .5 -.2 .6 -.3 .5 -.3 .4 -.3 .5 -.4 .4 -.3 .3 -.4 .4 -.6 .4 -.3 .2 -.5 .3 -.5 .3 -.7 .2" fill="none" stroke="#1a1a1a" stroke-width="0.6"/>
<text x="0" y="0" font-size="8.3" fill="#111" stroke="#111" stroke-width="0.18" text-anchor="middle" dominant-baseline="central" transform="translate(335.1,47.9) rotate(-90)">2DL3/S2 (1F12)</text>
<text x="349.4" y="28.6" font-size="6.4" fill="#111" stroke="#111" stroke-width="0.14" textLength="33.6" lengthAdjust="spacingAndGlyphs">2DL2<tspan font-size="4" dy="-2">-</tspan><tspan dy="2" fill="#d02a2a" stroke="#d02a2a">/S2<tspan font-size="4" dy="-2">+</tspan></tspan><tspan dy="2">/L3</tspan><tspan font-size="4" dy="-2">-</tspan></text>
<text x="383.3" y="65" font-size="6.4" fill="#111" stroke="#111" stroke-width="0.14" textLength="41.6" lengthAdjust="spacingAndGlyphs">2DL2<tspan font-size="4" dy="-2">++</tspan><tspan dy="2">/S2</tspan><tspan font-size="4" dy="-2">++</tspan><tspan dy="2">/</tspan><tspan fill="#d02a2a" stroke="#d02a2a">L3<tspan font-size="4" dy="-2">+</tspan></tspan></text>
<text x="384.5" y="79.1" font-size="6.4" fill="#111" stroke="#111" stroke-width="0.14" textLength="35.0" lengthAdjust="spacingAndGlyphs"><tspan fill="#d02a2a" stroke="#d02a2a">2DL2<tspan font-size="4" dy="-2">+</tspan></tspan><tspan dy="2">/S2/L3</tspan></text>
<line x1="359.3" y1="30.5" x2="359.3" y2="39.5" stroke="#000" stroke-width="1.0" />
<polygon points="359.3,43 359.3,43 359.3,43" fill="#111"/>
<polygon points="359.3,43.2 357.3,38.6 361.3,38.6" fill="#111"/>
<line x1="405.4" y1="59.6" x2="386.5" y2="52.2" stroke="#000" stroke-width="1.0" />
<polygon points="383.2,50.8 388.5,50.9 386.9,54.6" fill="#111"/>
<line x1="383.8" y1="76.1" x2="368.5" y2="74.9" stroke="#000" stroke-width="1.0" />
<polygon points="364.8,74.6 369.2,72.7 368.9,76.9" fill="#111"/>
<rect x="431.8" y="12.3" width="85" height="69.9" fill="none" stroke="#777" stroke-width="0.8" />
<path d="M436.9 82.2v2M431.8 78.01h-2M443.04 82.2v1.1M431.8 72.96h-1.1M446.63 82.2v1.1M431.8 70h-1.1M449.18 82.2v1.1M431.8 67.91h-1.1M451.16 82.2v1.1M431.8 66.28h-1.1M452.77 82.2v1.1M431.8 64.95h-1.1M454.14 82.2v1.1M431.8 63.83h-1.1M455.32 82.2v1.1M431.8 62.86h-1.1M456.37 82.2v1.1M431.8 62h-1.1M457.3 82.2v2M431.8 61.23h-2M463.44 82.2v1.1M431.8 56.18h-1.1M467.03 82.2v1.1M431.8 53.23h-1.1M469.58 82.2v1.1M431.8 51.13h-1.1M471.56 82.2v1.1M431.8 49.5h-1.1M473.17 82.2v1.1M431.8 48.18h-1.1M474.54 82.2v1.1M431.8 47.05h-1.1M475.72 82.2v1.1M431.8 46.08h-1.1M476.77 82.2v1.1M431.8 45.22h-1.1M477.7 82.2v2M431.8 44.45h-2M483.84 82.2v1.1M431.8 39.4h-1.1M487.43 82.2v1.1M431.8 36.45h-1.1M489.98 82.2v1.1M431.8 34.35h-1.1M491.96 82.2v1.1M431.8 32.73h-1.1M493.57 82.2v1.1M431.8 31.4h-1.1M494.94 82.2v1.1M431.8 30.28h-1.1M496.12 82.2v1.1M431.8 29.3h-1.1M497.17 82.2v1.1M431.8 28.45h-1.1M498.1 82.2v2M431.8 27.68h-2M431.8 82.2v1.1M431.8 82.2h-1.1M433.5 82.2v1.1M431.8 80.8h-1.1M435.2 82.2v1.1M431.8 79.4h-1.1" stroke="#555" stroke-width="0.45" fill="none"/>
<path d="M462.4 38.9h.6M448.7 47.9h.6M455.1 59.8h.6M438.0 50.2h.6M455.6 49.8h.6M442.6 64.5h.6M456.6 60.9h.6M450.0 46.3h.6M445.2 64.2h.6M443.7 40.6h.6M462.2 58.1h.6M460.9 52.6h.6M447.0 64.6h.6M443.3 46.8h.6M444.2 44.7h.6M457.7 60.7h.6M436.4 44.0h.6M443.2 41.0h.6M455.3 63.9h.6M444.8 42.9h.6M432.5 51.9h.6M434.6 53.7h.6M451.6 64.0h.6M436.4 58.4h.6M436.5 59.5h.6M436.0 49.9h.6M448.3 45.3h.6M439.7 65.0h.6M433.3 60.4h.6M441.0 65.2h.6M435.8 64.7h.6M452.8 43.7h.6M434.4 62.0h.6M448.6 47.9h.6M436.9 62.3h.6M442.8 40.3h.6M452.8 44.8h.6M446.4 42.2h.6M438.5 61.0h.6M432.9 63.7h.6M447.7 46.2h.6M439.1 48.6h.6M441.3 70.0h.6M462.0 51.8h.6M446.9 43.6h.6M437.2 71.2h.6M434.7 56.6h.6M435.4 53.7h.6M434.9 45.6h.6M467.3 60.6h.6M443.8 67.0h.6M454.4 50.4h.6M440.5 73.0h.6M455.6 63.5h.6M444.6 64.1h.6M441.4 67.1h.6M433.5 53.5h.6M453.6 61.6h.6M454.2 60.3h.6M452.3 60.5h.6M437.1 47.5h.6M435.8 54.1h.6M440.9 46.2h.6M441.1 62.9h.6M453.2 48.3h.6M432.4 68.1h.6M451.6 48.3h.6M444.3 68.4h.6M452.8 65.9h.6M435.1 37.4h.6M450.6 45.3h.6M440.4 63.3h.6M443.5 37.3h.6M434.3 50.4h.6M442.6 71.7h.6M441.4 67.9h.6M438.3 68.4h.6M457.3 64.9h.6M444.3 63.8h.6M434.6 56.3h.6M434.3 55.4h.6M433.8 63.5h.6M435.6 51.7h.6M450.2 64.6h.6M443.7 67.7h.6M441.3 43.7h.6M433.9 54.2h.6M449.6 67.8h.6M446.4 73.5h.6M444.6 43.2h.6M439.8 62.7h.6M443.0 43.7h.6M452.6 47.8h.6M441.9 47.8h.6M435.2 54.6h.6M435.6 57.9h.6M454.7 60.6h.6M435.6 60.4h.6M453.6 49.8h.6M451.7 61.2h.6M437.6 73.1h.6M451.5 39.2h.6M450.1 63.1h.6M435.2 59.0h.6M453.4 44.3h.6M458.7 64.7h.6M435.4 53.9h.6M455.5 65.7h.6M454.9 46.2h.6M441.0 69.5h.6M451.9 50.1h.6M444.3 67.2h.6M435.3 52.6h.6M435.4 57.2h.6M438.8 49.4h.6M448.4 66.8h.6M458.8 57.4h.6M435.6 53.7h.6M432.6 61.2h.6M454.4 61.1h.6M434.9 60.0h.6M452.5 60.2h.6M442.0 47.9h.6M452.8 50.9h.6M434.1 57.6h.6M449.4 48.4h.6M459.4 62.1h.6M442.3 66.2h.6M453.2 47.7h.6M434.7 68.8h.6M448.1 43.8h.6M446.6 68.4h.6M445.1 65.1h.6M434.2 57.2h.6M467.4 53.6h.6M446.7 46.1h.6M454.4 63.1h.6M458.7 55.9h.6M437.1 47.8h.6M453.6 51.3h.6M459.8 57.4h.6M453.1 50.3h.6M453.7 62.1h.6M434.0 56.3h.6M445.7 67.3h.6M434.2 56.3h.6M454.8 59.8h.6M441.9 63.6h.6M456.2 59.4h.6M438.9 49.0h.6M447.1 42.4h.6M449.6 65.5h.6M448.1 70.0h.6M449.9 40.4h.6M450.5 64.5h.6M455.4 58.6h.6M459.7 47.0h.6M435.9 56.3h.6M436.8 44.6h.6M455.2 65.5h.6M443.6 45.8h.6M455.3 61.5h.6M433.3 56.6h.6M434.2 60.5h.6M452.1 46.5h.6M454.6 48.6h.6M436.8 51.5h.6M437.5 48.5h.6M451.9 48.9h.6M459.8 60.5h.6M437.0 62.8h.6M439.2 46.1h.6M458.2 57.6h.6M453.4 48.1h.6M435.0 56.3h.6M450.5 65.7h.6M447.8 47.6h.6M445.1 41.0h.6M445.5 67.2h.6M434.7 63.9h.6M447.1 45.3h.6M435.8 48.8h.6M435.1 43.9h.6M433.2 52.5h.6M436.4 51.5h.6M441.9 67.2h.6M435.6 67.6h.6M454.7 62.3h.6M440.5 63.8h.6M451.0 62.7h.6M433.5 53.4h.6M432.7 63.5h.6M445.6 43.1h.6M461.3 55.2h.6M453.1 43.6h.6M435.0 47.6h.6M443.2 63.3h.6M446.4 45.6h.6M462.5 58.0h.6M453.0 47.5h.6M434.8 51.8h.6M455.3 67.3h.6M464.1 57.2h.6M452.4 61.8h.6M435.0 70.1h.6M443.7 47.5h.6M459.1 47.8h.6M435.9 53.2h.6M454.7 47.4h.6M436.3 68.0h.6M443.5 63.6h.6M448.0 40.0h.6M435.0 41.7h.6M443.8 42.6h.6M440.7 46.1h.6M453.7 46.2h.6M450.6 48.3h.6M449.9 67.8h.6M455.0 60.6h.6M448.4 41.7h.6M453.8 64.2h.6M433.2 45.0h.6M441.2 66.7h.6M436.8 64.5h.6M434.7 50.8h.6M455.2 59.7h.6M457.8 49.3h.6M462.7 51.8h.6M457.0 47.6h.6M462.6 52.2h.6M460.9 54.1h.6M459.8 54.6h.6M454.8 59.2h.6M456.5 47.7h.6M463.0 49.6h.6M455.7 50.7h.6M462.9 51.8h.6M462.2 49.7h.6M455.8 47.7h.6M456.1 49.1h.6M467.1 45.5h.6M462.8 46.1h.6M460.8 52.6h.6M460.9 48.1h.6M458.7 48.5h.6M451.2 62.3h.6M456.7 57.9h.6M461.1 47.6h.6M458.7 55.1h.6M456.4 57.0h.6M461.7 50.9h.6M460.5 48.8h.6M454.0 51.3h.6M458.3 56.2h.6M441.2 72.2h.6M443.2 69.2h.6M446.6 68.0h.6M443.7 69.8h.6M446.6 69.8h.6M445.2 68.9h.6M442.9 66.1h.6M450.1 70.1h.6M441.9 66.6h.6M439.3 67.1h.6M441.3 71.3h.6M446.6 69.3h.6M445.6 72.5h.6M446.7 70.7h.6M449.4 69.8h.6M446.7 64.9h.6M446.6 74.3h.6M452.2 64.6h.6M445.7 69.1h.6M440.6 74.5h.6M446.4 80.3h.6M446.0 71.8h.6M449.9 70.6h.6M446.7 70.0h.6M453.2 70.2h.6M449.4 78.4h.6M452.6 70.3h.6M446.0 70.5h.6M445.1 77.3h.6M444.4 69.7h.6M447.6 70.8h.6M445.4 72.1h.6M449.2 68.3h.6M446.6 70.1h.6M446.2 71.1h.6M446.3 69.1h.6M447.2 69.1h.6M450.4 71.1h.6M446.8 69.6h.6M442.9 64.6h.6M452.3 63.9h.6M445.2 69.8h.6M444.5 65.9h.6M446.9 70.1h.6M444.0 67.3h.6M450.1 67.8h.6M452.0 68.6h.6M443.4 68.1h.6M446.7 70.1h.6M452.7 69.5h.6M444.0 68.3h.6M447.0 72.0h.6M445.4 75.9h.6M444.6 72.2h.6M447.4 67.4h.6M441.5 69.2h.6M446.4 81.3h.6M449.3 75.9h.6M444.8 68.7h.6M451.9 75.1h.6M446.3 69.3h.6M444.2 71.7h.6M450.4 64.1h.6M456.6 64.9h.6M448.2 68.9h.6M454.8 66.2h.6M450.9 61.8h.6M445.8 66.8h.6M446.8 69.7h.6M446.7 70.0h.6M446.3 67.2h.6M448.9 72.3h.6M444.8 72.2h.6M444.6 70.8h.6M446.7 69.6h.6M446.7 70.0h.6M441.2 64.1h.6M447.0 70.1h.6M446.3 72.9h.6M449.4 71.9h.6M450.2 64.2h.6M446.5 69.1h.6M441.2 67.0h.6M442.8 69.1h.6M445.7 73.0h.6M447.9 66.6h.6M454.3 73.2h.6M443.0 68.5h.6M449.2 71.1h.6M446.9 68.7h.6M444.3 70.7h.6M446.7 68.4h.6M445.6 72.1h.6M440.6 69.4h.6M447.6 66.9h.6M449.0 70.0h.6M441.3 68.5h.6M447.7 71.5h.6" stroke="#8a8a8a" stroke-width=".6" fill="none"/>
<path d="M447.3 63.6l-.7 .1 -.8 0 -.8 0 -.6-.1 -.6-.2 -.5-.1 -.7-.3 -.6-.2 -.4-.2 -.6-.2 -.4-.3 -.5-.3 -.4-.2 -.4-.4 -.5-.4 -.3-.2 -.5-.5 -.2-.3 -.4-.5 -.3-.5 -.2-.5 -.3-.5 -.1-.5 -.2-.7 -.1-.6 0-.7 0-.7 .1-.6 .2-.7 .2-.5 .3-.5 .2-.5 .4-.4 .2-.4 .4-.4 .4-.4 .4-.4 .4-.2 .4-.3 .5-.3 .5-.3 .5-.2 .5-.2 .7-.3 .5-.1 .7-.1 .6-.1 .7 0 .8 0 .8 0 .5 .1 .7 .1 .5 .2 .7 .2 .6 .2 .4 .2 .6 .3 .4 .3 .4 .3 .4 .2 .5 .5 .3 .3 .4 .4 .3 .4 .4 .4 .6 .1 .5-.2 .5-.3 .5-.3 .4-.3 .4-.3 .4-.3 .6-.3 .4-.3 .6-.2 .4-.2 .6-.2 .7-.1 .7 0 .6 .2 .3 .5 .1 .7 -.1 .7 -.2 .6 -.3 .4 -.3 .6 -.3 .4 -.3 .3 -.4 .5 -.3 .3 -.5 .5 -.3 .2 -.4 .4 -.5 .4 -.3 .2 -.5 .3 -.5 .4 -.5 .3 -.4 .2 -.4 .3 -.5 .3 -.4 .4 -.4 .3 -.4 .5 -.2 .3 -.4 .5 -.4 .4 -.2 .4 -.4 .4 -.4 .3 -.5 .4 -.3 .3 -.4 .3 -.6 .3 -.4 .3 -.6 .3 -.4 .2 -.6 .2 -.6 .2 M446.0 62.3l-.7 0 -.5 0 -.8-.1 -.5-.2 -.7-.1 -.5-.2 -.5-.2 -.5-.3 -.5-.3 -.5-.3 -.4-.3 -.3-.3 -.5-.4 -.3-.4 -.3-.4 -.3-.5 -.3-.5 -.2-.5 -.1-.7 -.1-.6 -.1-.7 .1-.7 .1-.6 .2-.6 .2-.6 .3-.5 .3-.3 .3-.4 .4-.5 .3-.3 .4-.4 .6-.3 .4-.3 .5-.2 .5-.3 .6-.2 .4-.1 .8-.2 .5 0 .7-.1 .8 0 .8 .1 .4 0 .8 .2 .5 .2 .5 .1 .5 .3 .5 .2 .5 .3 .5 .4 .4 .3 .4 .3 .3 .5 .4 .4 .3 .4 .2 .4 .5 .3 .5-.1 .5-.2 .5-.4 .5-.3 .3-.3 .4-.3 .6-.4 .4-.3 .5-.2 .4-.3 .5-.3 .6-.2 .6-.1 .7 0 .5 .2 .3 .4 0 .7 -.1 .6 -.3 .4 -.3 .6 -.3 .4 -.3 .4 -.4 .4 -.4 .4 -.4 .4 -.3 .2 -.5 .4 -.5 .3 -.4 .3 -.5 .2 -.4 .3 -.5 .3 -.5 .2 -.5 .2 -.5 .3 -.4 .3 -.5 .4 -.3 .3 -.4 .5 -.4 .4 -.3 .4 -.4 .4 -.3 .3 -.4 .3 -.6 .4 -.4 .3 -.6 .2 -.4 .3 -.6 .1 -.4 .2 -.8 .1 -.7 .1 M446.3 61.3l-.7 .1 -.8-.1 -.5 0 -.7-.2 -.6-.1 -.4-.2 -.6-.2 -.4-.3 -.6-.3 -.4-.4 -.4-.3 -.4-.4 -.3-.3 -.3-.6 -.3-.4 -.2-.6 -.1-.6 -.1-.6 0-.8 .1-.6 .1-.6 .2-.5 .3-.5 .3-.5 .3-.4 .4-.3 .4-.4 .4-.4 .5-.2 .5-.3 .6-.2 .4-.2 .6-.1 .7-.2 .7 0 .8 0 .8 0 .7 .2 .5 .1 .5 .2 .5 .2 .5 .3 .5 .3 .5 .4 .3 .3 .4 .4 .3 .3 .3 .5 .3 .5 .3 .5 .3 .5 .5 .2 .6-.2 .4-.4 .5-.3 .3-.4 .5-.4 .3-.2 .4-.4 .5-.4 .4-.2 .4-.3 .5-.3 .5-.2 .7-.2 .8 .1 .3 .3 -.1 .8 -.2 .5 -.2 .5 -.3 .3 -.4 .5 -.3 .3 -.5 .4 -.3 .3 -.5 .3 -.5 .3 -.5 .3 -.5 .2 -.5 .2 -.5 .2 -.8 .2 -.4 .1 -.6 .3 -.4 .3 -.3 .4 -.4 .4 -.3 .5 -.3 .3 -.4 .4 -.3 .4 -.5 .4 -.4 .2 -.4 .3 -.5 .3 -.5 .2 -.7 .2 -.6 .2 -.6 .1 M447.0 60.3l-.7 .2 -.7 0 -.8 0 -.8-.1 -.4-.1 -.7-.3 -.6-.2 -.4-.2 -.4-.3 -.5-.4 -.3-.3 -.4-.5 -.3-.4 -.2-.4 -.2-.7 -.2-.6 0-.7 .1-.7 .1-.6 .2-.5 .3-.5 .3-.4 .4-.5 .4-.3 .4-.3 .4-.3 .6-.3 .4-.2 .7-.1 .6-.2 .7-.1 .8 0 .8 .1 .5 .2 .7 .2 .5 .2 .5 .2 .5 .3 .3 .3 .4 .4 .4 .4 .3 .4 .3 .6 .2 .4 .2 .6 .1 .7 0 .7 -.2 .8 -.2 .5 -.3 .4 -.2 .4 -.4 .5 -.4 .3 -.5 .4 -.3 .3 -.5 .2 -.5 .2 -.7 .3 M446.6 59.6l-.8 .1 -.8 0 -.7-.1 -.5-.1 -.5-.2 -.5-.3 -.5-.2 -.5-.4 -.3-.4 -.5-.4 -.2-.5 -.2-.5 -.2-.6 0-.7 .1-.7 .1-.6 .3-.4 .3-.6 .4-.3 .4-.4 .3-.3 .5-.2 .5-.2 .7-.3 .6-.1 .7 0 .7 0 .6 .1 .7 .2 .5 .2 .5 .2 .5 .4 .3 .3 .5 .4 .2 .3 .3 .5 .2 .6 .1 .6 0 .8 -.1 .7 -.2 .5 -.3 .5 -.2 .3 -.5 .5 -.3 .3 -.5 .3 -.5 .3 -.5 .2 -.6 .2 M445.6 58.8l-.6 0 -.7-.1 -.5-.2 -.5-.2 -.5-.3 -.5-.4 -.3-.3 -.2-.5 -.3-.5 -.1-.7 .1-.8 .1-.5 .3-.5 .4-.5 .3-.3 .4-.3 .6-.3 .4-.2 .8-.1 .5-.1 .5 .1 .8 .1 .4 .1 .6 .3 .4 .3 .5 .4 .3 .3 .3 .4 .2 .6 .1 .7 -.1 .7 -.1 .6 -.3 .4 -.3 .5 -.4 .3 -.4 .3 -.5 .3 -.5 .2 -.8 .2 -.4 0 M446.0 57.8l-.7 .1 -.5-.1 -.8-.2 -.4-.3 -.3-.3 -.5-.4 -.2-.6 -.1-.4 .1-.6 .2-.7 .2-.3 .5-.4 .5-.3 .6-.2 .4-.1 .8 0 .5 .1 .5 .2 .5 .3 .5 .4 .2 .4 .3 .6 0 .8 -.3 .6 -.2 .4 -.5 .5 -.5 .3 -.5 .1" fill="none" stroke="#1a1a1a" stroke-width="0.6"/>
<text x="434.5" y="10.4" font-size="8" fill="#111" text-anchor="start" font-weight="normal" stroke="#111" stroke-width="0.18" >Expansion</text>
<rect x="240.4" y="103.8" width="83.8" height="70.6" fill="none" stroke="#777" stroke-width="0.8" />
<path d="M245.43 174.4v2M240.4 170.16h-2M251.48 174.4v1.1M240.4 165.06h-1.1M255.02 174.4v1.1M240.4 162.08h-1.1M257.54 174.4v1.1M240.4 159.96h-1.1M259.49 174.4v1.1M240.4 158.32h-1.1M261.08 174.4v1.1M240.4 156.98h-1.1M262.42 174.4v1.1M240.4 155.84h-1.1M263.59 174.4v1.1M240.4 154.86h-1.1M264.62 174.4v1.1M240.4 154h-1.1M265.54 174.4v2M240.4 153.22h-2M271.59 174.4v1.1M240.4 148.12h-1.1M275.14 174.4v1.1M240.4 145.14h-1.1M277.65 174.4v1.1M240.4 143.02h-1.1M279.6 174.4v1.1M240.4 141.38h-1.1M281.19 174.4v1.1M240.4 140.04h-1.1M282.54 174.4v1.1M240.4 138.9h-1.1M283.7 174.4v1.1M240.4 137.92h-1.1M284.73 174.4v1.1M240.4 137.05h-1.1M285.65 174.4v2M240.4 136.28h-2M291.71 174.4v1.1M240.4 131.18h-1.1M295.25 174.4v1.1M240.4 128.19h-1.1M297.76 174.4v1.1M240.4 126.07h-1.1M299.71 174.4v1.1M240.4 124.43h-1.1M301.3 174.4v1.1M240.4 123.09h-1.1M302.65 174.4v1.1M240.4 121.96h-1.1M303.81 174.4v1.1M240.4 120.97h-1.1M304.84 174.4v1.1M240.4 120.11h-1.1M305.76 174.4v2M240.4 119.33h-2M240.4 174.4v1.1M240.4 174.4h-1.1M242.08 174.4v1.1M240.4 172.99h-1.1M243.75 174.4v1.1M240.4 171.58h-1.1" stroke="#555" stroke-width="0.45" fill="none"/>
<path d="M251.3 133.3h.6M246.2 118.2h.6M246.5 132.5h.6M246.2 141.4h.6M249.4 133.2h.6M243.2 123.0h.6M249.1 140.5h.6M249.7 142.6h.6M251.9 139.1h.6M248.7 140.4h.6M253.1 150.7h.6M250.9 144.4h.6M252.9 136.3h.6M249.6 133.3h.6M252.3 128.7h.6M251.4 149.9h.6M251.6 147.5h.6M246.4 130.8h.6M248.0 132.3h.6M253.5 142.5h.6M251.4 142.0h.6M251.1 128.5h.6M244.9 142.0h.6M249.7 140.6h.6M250.1 144.0h.6M251.2 141.2h.6M246.5 137.4h.6M247.5 138.0h.6M253.8 143.8h.6M246.5 154.4h.6M245.3 146.7h.6M249.2 140.2h.6M256.5 142.1h.6M250.7 129.4h.6M249.0 144.0h.6M253.0 142.1h.6M250.6 141.2h.6M249.4 144.3h.6M251.2 143.1h.6M244.9 147.0h.6M246.1 144.2h.6M252.1 143.8h.6M245.7 140.2h.6M248.1 133.2h.6M253.0 140.7h.6M249.8 140.3h.6M248.7 142.7h.6M249.5 142.2h.6M250.0 141.7h.6M250.8 141.8h.6M249.1 140.7h.6M250.3 125.5h.6M250.6 140.7h.6M245.9 142.8h.6M247.6 152.3h.6M245.6 136.5h.6M244.0 130.9h.6M250.1 143.2h.6M249.7 141.5h.6M253.1 148.0h.6M251.1 139.9h.6M256.5 141.2h.6M252.1 127.4h.6M248.9 142.7h.6M251.9 144.3h.6M249.0 129.4h.6M251.2 121.4h.6M249.6 140.7h.6M247.0 135.0h.6M246.0 141.3h.6M255.8 135.4h.6M248.9 149.9h.6M248.8 142.5h.6M250.1 152.2h.6M250.0 141.8h.6M252.1 130.2h.6M245.1 145.2h.6M247.9 124.5h.6M250.7 140.2h.6M255.2 134.2h.6M247.6 142.4h.6M247.6 138.3h.6M250.9 141.8h.6M247.9 139.5h.6M248.3 140.5h.6M250.8 146.0h.6M252.3 131.9h.6M251.8 144.1h.6M249.5 131.5h.6M250.0 132.7h.6M246.7 145.7h.6M247.1 143.0h.6M246.4 137.5h.6M248.0 140.3h.6M247.4 139.6h.6M246.2 137.5h.6M245.1 143.0h.6M248.8 140.3h.6M248.4 131.7h.6M249.5 141.4h.6M249.2 142.6h.6M249.6 145.6h.6M256.0 138.1h.6M250.1 140.6h.6M256.7 132.9h.6M243.4 143.8h.6M248.6 127.7h.6M245.2 150.5h.6M245.2 128.7h.6M250.1 142.4h.6M244.4 124.5h.6M247.8 144.9h.6M250.3 141.4h.6M249.2 140.5h.6M247.8 133.3h.6M245.6 146.0h.6M245.0 130.7h.6M252.1 135.0h.6M250.6 141.4h.6M247.5 140.8h.6M249.5 141.6h.6M249.9 141.9h.6M250.8 140.8h.6M249.8 140.7h.6M245.2 135.3h.6M246.2 148.6h.6M249.2 147.5h.6M251.2 133.2h.6M244.6 135.3h.6M255.0 134.7h.6M249.2 142.3h.6M250.3 156.1h.6M248.2 142.8h.6M248.4 139.6h.6M253.8 132.1h.6M252.6 140.1h.6M246.5 141.6h.6M250.0 141.4h.6M248.9 140.1h.6M244.6 139.2h.6M245.9 146.6h.6M248.2 141.6h.6M246.7 140.3h.6M247.8 147.2h.6M248.2 143.5h.6M249.9 129.0h.6M249.6 140.6h.6M249.6 149.6h.6M250.2 140.3h.6M247.7 139.7h.6M253.0 136.7h.6M249.9 147.6h.6M247.3 138.3h.6M249.0 141.9h.6M247.1 148.6h.6M249.2 143.6h.6M247.3 143.5h.6M246.3 134.3h.6M249.9 130.0h.6M247.6 131.0h.6M248.9 142.8h.6M252.6 152.9h.6M246.9 142.7h.6M249.6 140.5h.6M247.9 142.9h.6M242.1 147.6h.6M254.5 150.8h.6M249.7 151.2h.6M249.7 143.1h.6M256.6 140.2h.6M251.5 130.9h.6M250.9 140.4h.6M250.2 144.3h.6M254.9 142.1h.6M247.8 142.7h.6M247.8 129.1h.6M247.1 137.3h.6M245.8 148.5h.6M249.5 141.5h.6M255.3 132.2h.6M249.4 140.6h.6M254.0 145.7h.6M249.7 131.4h.6M251.0 140.0h.6M249.1 144.3h.6M247.8 144.4h.6M248.6 147.4h.6M248.9 156.7h.6M246.8 142.5h.6M248.2 134.0h.6M249.4 134.4h.6M249.9 140.7h.6M256.2 136.6h.6M249.4 144.8h.6M248.0 141.6h.6M249.3 133.2h.6M247.6 143.4h.6M246.3 145.8h.6M245.9 137.3h.6M249.6 140.6h.6M248.8 141.0h.6M248.8 131.1h.6M255.0 144.3h.6M249.2 125.8h.6M248.9 125.1h.6M252.7 134.1h.6M248.9 144.8h.6M255.5 139.0h.6M250.0 140.3h.6M253.1 138.2h.6M244.2 141.2h.6M253.5 136.8h.6M249.2 140.2h.6M251.7 143.1h.6M253.6 146.8h.6M247.5 139.0h.6M253.5 136.1h.6M248.1 139.6h.6M244.7 135.0h.6M246.1 137.3h.6M253.4 136.8h.6M250.1 143.4h.6M249.8 140.4h.6M259.7 135.5h.6M249.1 146.3h.6M249.7 140.4h.6M252.5 138.4h.6M249.4 125.9h.6M247.7 148.8h.6M252.4 136.8h.6M254.5 150.0h.6M249.6 140.5h.6M249.6 140.5h.6M246.5 146.9h.6M246.6 148.8h.6M252.3 135.6h.6M254.3 132.2h.6M252.3 128.9h.6M242.7 136.7h.6M249.1 144.8h.6M246.4 131.4h.6M246.9 139.4h.6M247.0 139.9h.6M246.9 128.2h.6M247.2 133.3h.6M255.3 128.8h.6M251.3 134.6h.6M246.8 139.6h.6M252.3 153.1h.6M250.4 142.0h.6M251.7 144.0h.6M256.0 142.7h.6M249.0 141.5h.6M243.8 144.8h.6M253.1 137.7h.6M251.6 142.8h.6M246.9 134.6h.6M254.8 134.4h.6M246.9 140.3h.6M245.6 144.9h.6M249.4 129.9h.6M248.2 141.2h.6M249.0 141.7h.6M249.9 134.4h.6M255.0 143.3h.6M248.0 142.4h.6M253.4 143.0h.6M253.0 135.1h.6M249.1 141.5h.6M249.2 147.6h.6M247.1 141.3h.6M245.9 145.8h.6M251.8 144.1h.6M252.2 145.6h.6M250.1 130.8h.6M249.1 150.9h.6M245.8 156.6h.6M253.0 147.4h.6M248.6 145.0h.6M249.4 147.4h.6M251.2 147.8h.6M246.2 142.1h.6M252.1 146.1h.6M249.9 144.4h.6M247.8 143.1h.6M253.1 135.2h.6M249.3 146.2h.6M245.4 132.7h.6M248.9 147.4h.6M248.6 147.8h.6M250.3 149.4h.6M253.7 138.6h.6M244.4 135.5h.6M249.5 143.3h.6M249.9 149.3h.6M248.9 149.5h.6M250.0 140.9h.6M249.5 145.3h.6M246.9 157.4h.6M248.0 142.1h.6M249.9 144.1h.6M246.3 153.3h.6M246.8 154.2h.6M249.4 115.2h.6M249.0 144.4h.6M248.6 153.7h.6M247.7 145.2h.6M249.6 149.6h.6M254.5 155.7h.6M247.5 140.5h.6M253.2 145.8h.6M247.1 148.6h.6M241.4 150.9h.6M249.2 146.0h.6M248.9 145.3h.6M256.0 141.7h.6M248.9 151.6h.6M249.3 146.4h.6M247.9 147.0h.6M249.9 141.5h.6M246.2 155.5h.6M250.5 145.4h.6M251.8 149.3h.6M250.2 145.4h.6M251.8 155.5h.6M248.3 144.8h.6M242.6 145.3h.6M246.8 147.5h.6M248.7 157.6h.6M249.3 145.6h.6M255.7 147.0h.6M254.7 131.4h.6M249.5 146.2h.6M247.8 143.6h.6M251.9 150.5h.6M251.4 152.1h.6M249.9 148.3h.6M248.4 127.3h.6M249.2 143.4h.6M245.6 142.3h.6M252.6 148.7h.6M248.7 143.7h.6M251.3 154.0h.6M248.7 144.3h.6M255.2 137.3h.6M247.5 139.4h.6M246.0 144.0h.6M249.6 148.6h.6M250.3 151.3h.6M249.1 145.9h.6M252.3 147.4h.6M249.1 144.7h.6M249.6 146.6h.6M249.4 145.1h.6M247.9 140.7h.6M250.3 142.3h.6M250.4 146.8h.6M249.1 146.0h.6M250.2 148.0h.6M246.6 144.1h.6M247.7 147.1h.6M249.0 144.2h.6M249.9 144.8h.6M248.8 146.1h.6M247.9 146.8h.6M249.0 145.6h.6M252.2 158.6h.6M249.2 158.7h.6M249.2 146.0h.6M251.7 132.1h.6M249.2 145.8h.6M246.9 157.2h.6M250.8 126.7h.6M250.7 150.2h.6M249.6 152.0h.6M251.2 151.8h.6M243.8 142.4h.6M249.5 146.1h.6M250.8 153.0h.6M246.5 147.2h.6M250.4 148.1h.6M248.1 150.2h.6M247.0 145.3h.6M250.0 147.8h.6M248.1 152.8h.6M247.5 148.0h.6M246.6 148.0h.6M249.3 147.3h.6M248.7 144.9h.6M246.6 146.3h.6M247.5 137.7h.6M249.9 146.2h.6M245.6 146.0h.6M249.4 144.9h.6M249.7 147.1h.6M244.0 155.1h.6M251.2 147.3h.6M253.4 151.7h.6M246.8 142.1h.6M253.2 136.1h.6M249.0 147.5h.6M247.6 136.0h.6M245.1 146.4h.6M252.9 135.1h.6M251.2 143.7h.6M249.3 146.3h.6M248.5 141.4h.6M249.2 146.8h.6M248.5 140.8h.6M250.1 150.2h.6M253.5 135.7h.6M248.9 147.4h.6M247.3 145.4h.6M244.1 155.1h.6M249.9 142.9h.6M252.5 140.2h.6M249.8 144.8h.6M249.9 142.6h.6M250.5 149.9h.6M249.2 146.0h.6M248.2 143.1h.6M251.5 143.1h.6M251.9 150.4h.6M249.5 147.2h.6M250.1 153.9h.6M250.1 144.5h.6M245.4 136.8h.6M249.8 149.0h.6M252.5 141.0h.6M251.0 152.4h.6M248.5 144.1h.6M241.9 154.6h.6M249.8 150.9h.6M251.8 140.5h.6M249.7 145.0h.6M247.9 145.9h.6M254.3 139.3h.6M250.6 143.9h.6M249.8 147.1h.6M247.7 153.8h.6M249.5 147.5h.6M247.9 144.4h.6M251.0 152.1h.6M251.6 156.1h.6M250.4 143.3h.6M245.0 155.1h.6M254.0 147.7h.6M248.6 149.8h.6M246.2 146.9h.6M249.0 149.7h.6M247.0 149.9h.6M243.8 145.2h.6M246.2 141.0h.6M248.3 149.1h.6M249.6 157.4h.6M249.8 148.7h.6M250.8 146.0h.6M249.4 147.1h.6M247.1 156.7h.6M247.7 138.7h.6M251.9 147.8h.6M248.0 139.3h.6M246.3 145.3h.6M246.7 149.8h.6M251.9 140.0h.6M252.9 148.1h.6M255.7 151.9h.6M248.5 145.9h.6M255.2 146.8h.6M249.8 144.6h.6M248.8 147.8h.6M248.1 146.1h.6M250.1 143.9h.6M249.6 151.0h.6M246.2 147.4h.6M253.2 142.7h.6M251.6 130.5h.6M249.3 149.1h.6M249.1 148.5h.6M249.6 149.9h.6M249.3 146.3h.6M244.5 146.3h.6M248.4 159.1h.6M249.2 152.6h.6M252.4 150.8h.6M255.5 146.7h.6M251.8 140.9h.6M250.9 145.7h.6M249.3 145.3h.6M246.9 142.7h.6M248.6 143.3h.6M252.8 151.9h.6M249.7 148.5h.6M246.5 154.1h.6M251.9 159.4h.6M248.8 146.4h.6M249.2 146.6h.6M246.6 148.9h.6M249.5 146.7h.6M246.5 149.9h.6M252.6 141.6h.6M245.6 134.2h.6M251.9 144.0h.6M247.7 156.2h.6M253.8 143.2h.6M247.2 140.1h.6M248.5 144.8h.6M249.5 140.7h.6M249.2 145.4h.6M247.1 140.5h.6M246.1 142.0h.6M249.0 146.2h.6M250.6 149.9h.6M248.8 151.5h.6M247.6 140.6h.6M245.9 149.5h.6M251.6 151.0h.6M243.1 144.5h.6M249.3 146.3h.6M249.4 147.7h.6M253.2 147.8h.6M249.5 146.6h.6M251.3 149.1h.6M253.3 148.8h.6M249.0 145.9h.6M248.8 146.7h.6M247.9 151.2h.6M248.9 147.8h.6M252.9 147.6h.6M249.3 154.2h.6M249.6 145.6h.6M252.5 143.0h.6M244.4 158.0h.6M249.2 152.7h.6M247.5 148.1h.6M247.9 148.0h.6M250.1 144.3h.6M246.7 139.7h.6M245.6 145.1h.6M244.4 144.5h.6M250.8 159.0h.6M256.6 139.0h.6M248.5 141.7h.6M254.8 143.8h.6M251.1 148.6h.6M247.5 141.0h.6M251.7 157.0h.6M252.5 147.5h.6M252.0 148.2h.6M251.7 141.5h.6M247.6 136.3h.6M248.9 141.6h.6M250.6 147.5h.6M247.2 145.9h.6M248.9 149.9h.6M252.5 149.3h.6M249.1 143.6h.6M248.9 144.6h.6M250.9 149.0h.6M249.4 146.3h.6M244.3 152.8h.6M245.5 145.2h.6M249.2 146.3h.6M256.2 151.2h.6M247.3 148.0h.6M254.9 127.1h.6M251.2 147.6h.6M250.0 134.4h.6M246.1 141.7h.6M250.2 149.0h.6M250.2 158.2h.6M248.3 147.7h.6M244.7 144.1h.6M253.4 147.9h.6M251.9 143.0h.6M249.2 145.8h.6M247.4 146.7h.6M249.4 145.9h.6M244.9 144.0h.6M251.0 154.6h.6M241.9 137.8h.6M249.3 147.3h.6M251.0 141.1h.6M252.2 144.3h.6M251.4 151.1h.6M248.4 142.7h.6M247.3 148.7h.6M247.5 155.4h.6M260.4 137.3h.6M248.2 144.2h.6M247.6 145.5h.6M249.3 149.1h.6M249.3 146.9h.6M248.7 146.5h.6M252.1 155.3h.6M248.8 145.5h.6M249.4 150.4h.6M247.3 146.5h.6M247.4 145.8h.6M246.0 134.7h.6M248.7 146.6h.6M252.1 145.4h.6M252.2 156.8h.6M249.6 143.3h.6M248.8 143.0h.6M248.8 140.5h.6M249.7 149.9h.6M251.4 149.6h.6M248.8 149.6h.6M249.7 149.3h.6M249.1 145.1h.6M252.3 149.0h.6M245.3 154.2h.6M249.2 145.9h.6M251.5 147.4h.6M247.3 143.4h.6M247.2 145.0h.6M249.5 146.5h.6M245.1 142.5h.6M249.7 131.1h.6M251.5 152.4h.6M247.2 149.8h.6M248.9 147.1h.6M245.6 138.4h.6M252.5 157.5h.6M241.8 138.1h.6M252.6 149.0h.6M251.8 144.1h.6M248.0 141.1h.6M252.0 149.1h.6M249.6 149.6h.6M246.5 131.5h.6M248.3 153.5h.6M254.4 144.6h.6M245.6 155.9h.6M252.3 142.2h.6M248.2 143.3h.6M249.7 150.6h.6M249.2 145.7h.6M250.2 141.2h.6M248.0 149.1h.6M250.2 144.7h.6M249.9 153.2h.6M249.1 147.0h.6M249.2 144.7h.6M251.4 145.6h.6M246.1 134.5h.6M246.1 148.0h.6M251.3 146.9h.6M253.1 146.5h.6M246.3 155.5h.6M250.2 148.7h.6M248.3 144.5h.6M249.0 146.2h.6M249.2 144.5h.6M249.2 144.3h.6M250.1 150.4h.6M249.9 148.0h.6M246.4 131.6h.6M247.3 143.4h.6M248.1 148.9h.6M249.5 147.2h.6M247.9 135.6h.6M249.6 140.6h.6M249.1 142.7h.6M249.0 144.4h.6M245.5 138.9h.6M248.8 144.6h.6M250.3 145.8h.6M248.0 146.2h.6M244.1 141.1h.6M245.5 157.1h.6M251.7 153.1h.6M246.4 141.6h.6M247.8 141.3h.6M251.3 141.6h.6M249.3 142.9h.6M247.5 143.9h.6M250.1 141.9h.6M249.0 143.5h.6M255.9 151.8h.6M253.0 140.7h.6M248.7 155.6h.6M248.0 146.8h.6M244.2 143.0h.6M250.0 146.8h.6M255.6 143.3h.6M249.5 143.0h.6M246.8 155.2h.6M248.4 143.8h.6M248.5 147.3h.6M252.2 151.2h.6M251.2 158.0h.6M246.1 153.7h.6M250.2 143.6h.6M246.8 140.3h.6M250.1 146.9h.6M244.7 146.9h.6M247.5 139.8h.6M247.0 140.4h.6M248.0 146.0h.6M247.7 138.2h.6M249.2 134.6h.6M252.0 135.7h.6M246.9 138.9h.6M248.2 135.1h.6M252.2 135.0h.6M249.5 134.2h.6M249.9 134.1h.6M247.4 137.4h.6M249.6 140.6h.6M252.9 136.9h.6M253.6 137.2h.6M249.1 134.9h.6M251.9 139.0h.6M253.2 138.7h.6M252.6 136.5h.6M252.5 136.4h.6M247.0 136.9h.6M249.2 140.2h.6M249.7 134.1h.6M253.0 159.7h.6M243.1 160.1h.6M260.0 162.9h.6M246.9 172.1h.6M263.6 164.5h.6M242.0 160.8h.6M247.8 159.6h.6M254.3 160.0h.6M252.4 170.8h.6M264.3 167.1h.6M243.8 160.8h.6M252.1 172.1h.6M258.7 166.5h.6M241.1 165.7h.6M260.5 164.7h.6M256.7 168.4h.6M245.4 171.7h.6M259.6 170.1h.6M252.7 172.1h.6M243.5 170.1h.6M245.8 159.2h.6M242.3 167.0h.6M257.9 168.6h.6M260.6 163.3h.6M261.9 170.1h.6M246.4 173.1h.6M249.9 156.6h.6M245.7 170.7h.6M252.3 159.4h.6M258.5 156.8h.6M267.1 157.5h.6M249.2 171.9h.6M256.9 160.4h.6M243.7 170.7h.6M255.7 157.6h.6M252.7 169.5h.6M247.5 169.4h.6M257.5 172.3h.6M262.5 168.1h.6M263.9 162.9h.6M261.3 163.2h.6M249.5 169.3h.6M262.1 157.2h.6M241.0 160.1h.6M262.0 165.9h.6M241.2 160.9h.6M241.3 163.7h.6M244.4 169.1h.6M261.0 170.7h.6M250.0 170.2h.6M256.5 159.2h.6M245.1 168.6h.6M255.6 159.5h.6M242.9 172.3h.6M255.0 159.9h.6M261.1 165.2h.6M257.2 160.8h.6M250.3 171.3h.6M256.7 156.5h.6M241.7 163.2h.6M260.4 159.7h.6M259.0 166.9h.6M249.6 169.9h.6M255.0 158.6h.6M256.9 168.1h.6M255.3 160.1h.6M256.1 169.2h.6M256.8 170.0h.6M251.2 158.6h.6M259.4 167.1h.6M245.4 158.9h.6M254.2 155.9h.6M248.2 160.4h.6M248.5 159.7h.6M242.1 171.9h.6M260.6 159.7h.6M260.0 166.6h.6M244.1 160.0h.6M252.0 169.5h.6M242.7 168.5h.6M253.3 170.6h.6M257.1 160.3h.6M244.4 160.1h.6M252.4 169.5h.6M253.8 171.6h.6M241.2 162.2h.6M262.3 158.1h.6M250.9 171.8h.6M252.9 171.3h.6M258.9 168.8h.6M241.6 160.3h.6M257.5 168.2h.6M259.3 159.9h.6M250.7 157.3h.6M257.2 167.6h.6M244.9 159.9h.6M241.5 169.8h.6M257.0 172.2h.6M254.5 169.8h.6M262.1 164.4h.6M260.3 169.5h.6M244.1 160.2h.6M259.8 161.1h.6M259.5 162.3h.6M259.2 163.1h.6M254.6 168.6h.6M258.1 157.6h.6M259.7 165.0h.6M243.3 171.1h.6M262.0 167.7h.6M263.6 159.1h.6M242.7 168.7h.6M257.3 171.8h.6M260.3 166.3h.6M259.9 157.3h.6M254.3 159.9h.6M248.1 172.2h.6M245.3 160.3h.6M257.2 160.6h.6M247.9 159.3h.6M259.2 165.5h.6M254.9 170.9h.6M244.6 159.3h.6M241.4 161.9h.6M258.9 164.4h.6M258.9 161.3h.6M254.1 156.4h.6M241.1 161.1h.6M255.3 158.1h.6M245.1 169.7h.6M252.4 169.8h.6M246.2 172.1h.6M258.0 160.2h.6M243.2 168.7h.6M247.9 157.4h.6M248.9 171.4h.6M255.0 158.3h.6M247.6 158.9h.6M254.9 169.6h.6M252.5 173.3h.6M250.5 158.9h.6M247.4 170.0h.6M262.1 170.5h.6M257.1 168.8h.6M251.4 170.3h.6M241.0 165.9h.6M257.5 161.9h.6M254.5 168.9h.6M261.2 167.9h.6M256.3 169.9h.6M243.9 160.7h.6M259.1 168.6h.6M250.4 169.4h.6M255.1 169.2h.6M249.5 173.0h.6M242.4 162.8h.6M241.3 169.7h.6M242.6 167.5h.6M245.8 172.4h.6M252.0 160.1h.6M259.6 170.6h.6M262.7 164.3h.6M241.5 163.9h.6M244.6 170.5h.6M251.8 169.6h.6M246.3 169.2h.6M259.3 163.3h.6M248.0 159.8h.6M249.5 170.0h.6M264.9 168.0h.6M243.3 162.1h.6M251.0 158.2h.6M242.5 171.7h.6M245.1 160.5h.6M246.2 169.0h.6M258.1 161.8h.6M261.8 160.2h.6M250.2 170.3h.6M241.0 166.2h.6M256.8 171.9h.6M243.0 169.7h.6M250.3 153.8h.6M258.6 160.2h.6M255.7 156.6h.6M251.3 159.6h.6M254.7 157.0h.6M243.4 159.1h.6M260.2 163.0h.6M243.0 161.3h.6M243.4 171.8h.6M256.7 170.6h.6M259.9 165.0h.6M243.0 168.2h.6M245.0 157.4h.6M250.9 171.5h.6M255.6 169.2h.6M241.6 169.6h.6M255.7 170.9h.6M257.4 170.8h.6M257.9 168.6h.6M261.0 162.9h.6M241.0 161.8h.6M242.1 167.4h.6M261.0 167.5h.6M265.0 166.4h.6M241.6 166.8h.6M264.8 168.5h.6M247.8 159.2h.6M251.2 159.9h.6M256.4 158.8h.6M258.8 164.0h.6M246.3 160.0h.6M259.8 166.9h.6M254.6 159.8h.6M263.2 163.8h.6M261.9 160.5h.6M241.9 162.1h.6M260.0 165.2h.6M257.1 156.5h.6M258.4 168.9h.6M252.1 155.8h.6M260.0 165.1h.6M253.0 157.7h.6M257.0 159.6h.6M262.7 165.4h.6M258.0 171.0h.6M254.6 169.9h.6M248.4 170.7h.6M246.3 170.9h.6M257.8 170.7h.6M244.0 157.4h.6M244.6 154.7h.6M243.0 162.1h.6M263.7 167.7h.6M249.3 159.3h.6M241.7 165.5h.6M251.8 169.7h.6M241.4 170.8h.6M249.4 156.8h.6M244.1 169.4h.6M245.0 168.6h.6M261.6 168.7h.6M244.3 161.5h.6M258.1 162.0h.6M257.8 159.6h.6M264.7 167.0h.6M242.4 172.2h.6M250.1 156.6h.6M259.7 159.5h.6M261.2 166.3h.6M260.1 166.1h.6M242.5 172.2h.6M246.9 170.7h.6M249.1 171.8h.6M258.1 161.6h.6M249.1 160.1h.6M250.2 157.4h.6M258.1 162.9h.6M245.9 158.3h.6M246.7 159.0h.6M245.2 171.1h.6M242.8 168.1h.6M254.1 159.9h.6M252.4 159.2h.6M259.7 164.0h.6M245.9 158.9h.6M262.5 158.3h.6M260.8 157.3h.6M249.9 170.3h.6M263.0 165.5h.6M260.9 164.4h.6M247.9 169.6h.6M241.2 167.9h.6M248.6 154.1h.6M248.0 155.8h.6M241.9 169.2h.6M242.0 168.5h.6M257.6 169.2h.6M251.7 172.6h.6M262.4 164.3h.6M241.1 163.0h.6M258.6 163.0h.6M258.4 168.5h.6M263.9 167.3h.6M241.7 172.9h.6M249.2 158.4h.6M247.0 170.8h.6M242.5 167.4h.6M252.1 157.0h.6M266.0 168.7h.6M258.2 170.5h.6M254.0 169.7h.6M254.8 156.2h.6M253.5 159.7h.6M262.8 162.5h.6M253.7 171.0h.6M260.0 168.4h.6M262.5 162.2h.6M256.3 169.5h.6M243.6 168.6h.6M248.5 159.0h.6M256.1 171.2h.6M255.5 160.7h.6M260.8 161.8h.6M253.2 159.7h.6M262.1 161.0h.6M246.7 170.0h.6M255.6 171.8h.6M242.8 167.0h.6M245.1 168.6h.6M259.1 159.8h.6M243.8 159.0h.6M252.4 170.0h.6M252.9 156.1h.6M251.4 157.6h.6M242.0 162.5h.6M247.8 159.8h.6M267.3 169.4h.6M244.1 168.9h.6M246.1 171.5h.6M254.4 169.8h.6M252.8 157.1h.6M255.5 172.1h.6M253.9 169.5h.6M259.5 167.9h.6M254.7 172.6h.6M263.1 157.2h.6M260.5 167.9h.6M259.9 167.8h.6M251.4 172.2h.6M253.0 170.1h.6M261.4 167.0h.6M262.2 162.3h.6M257.0 159.0h.6M258.8 161.7h.6M253.1 158.6h.6M262.5 163.8h.6M258.7 160.0h.6M243.5 160.9h.6M244.9 169.3h.6M242.0 166.6h.6M249.6 158.6h.6M255.1 170.6h.6M260.3 160.5h.6M256.1 158.8h.6M245.6 160.2h.6M255.7 158.4h.6M259.9 164.9h.6M250.8 160.1h.6M245.0 168.6h.6M248.7 169.5h.6M265.3 170.3h.6M254.2 160.7h.6M254.4 160.8h.6M246.4 171.8h.6M250.7 171.5h.6M245.3 159.7h.6M241.8 167.4h.6M242.5 167.9h.6M259.3 169.9h.6M242.8 159.1h.6M249.6 169.7h.6M241.4 165.7h.6M244.0 170.5h.6M262.5 161.4h.6M256.2 160.5h.6M246.3 170.0h.6M266.2 171.0h.6M261.9 164.2h.6M251.2 156.9h.6M253.1 156.5h.6M259.6 159.8h.6M256.6 168.0h.6M258.6 158.5h.6M242.3 166.5h.6M247.4 172.6h.6M249.6 173.4h.6M257.1 168.9h.6M243.6 168.0h.6M247.4 160.3h.6M258.8 156.9h.6M249.0 157.4h.6M263.6 160.4h.6M241.6 160.8h.6M250.1 157.4h.6M250.5 159.3h.6M258.0 168.7h.6M241.9 170.3h.6M241.6 170.3h.6M258.8 166.9h.6M241.4 153.2h.6M245.7 157.6h.6M262.6 165.5h.6M254.7 160.9h.6M254.3 157.4h.6M247.6 159.9h.6M254.5 160.2h.6M247.4 170.0h.6M254.8 172.0h.6M257.3 168.7h.6M260.0 167.7h.6M246.9 158.8h.6M249.4 172.4h.6M244.1 168.0h.6M244.5 171.5h.6M249.9 160.2h.6M242.6 159.8h.6M248.0 157.6h.6M262.8 168.7h.6M247.0 158.3h.6M244.1 170.1h.6M264.4 170.1h.6M245.0 172.5h.6M257.0 159.4h.6M258.2 161.7h.6M256.0 160.3h.6M261.3 161.0h.6M246.5 169.1h.6M245.9 173.0h.6M242.1 169.9h.6M249.3 159.1h.6M260.8 166.7h.6M251.1 171.3h.6M258.8 166.6h.6M243.5 169.3h.6M261.2 169.9h.6M256.1 156.8h.6M262.8 162.3h.6M243.3 156.5h.6M246.9 169.1h.6M256.7 160.1h.6M246.2 171.5h.6M263.4 162.0h.6M259.6 158.9h.6M248.6 171.6h.6M247.2 157.3h.6M245.3 171.7h.6M258.2 166.6h.6M243.8 159.4h.6M257.8 168.0h.6M260.7 158.2h.6M262.7 159.7h.6M259.2 163.9h.6M241.0 172.6h.6M256.1 158.9h.6M247.7 159.1h.6M252.7 160.4h.6M241.5 172.8h.6M258.0 160.1h.6M249.5 169.5h.6M246.3 169.3h.6M262.6 167.8h.6M258.6 171.1h.6M258.1 159.6h.6M259.2 164.8h.6M256.2 169.5h.6M266.6 168.9h.6M249.8 170.9h.6M257.2 161.1h.6M250.9 159.5h.6M259.5 165.0h.6M264.6 166.9h.6M244.5 170.1h.6M255.9 171.0h.6M244.7 158.9h.6M263.5 164.2h.6M260.7 167.2h.6M265.4 161.7h.6M244.9 169.1h.6M254.6 154.7h.6M262.3 166.3h.6M266.1 157.8h.6M241.2 162.8h.6M259.1 164.2h.6M248.5 158.3h.6M261.2 160.5h.6M256.1 161.5h.6M245.1 160.6h.6M263.4 164.0h.6M251.3 171.6h.6M259.1 168.6h.6M241.6 169.3h.6M250.4 171.1h.6M241.6 166.1h.6M264.6 170.1h.6M241.1 161.2h.6M256.5 173.0h.6M241.4 164.6h.6M251.2 158.2h.6M261.3 166.6h.6M259.6 163.3h.6M241.3 163.4h.6M256.0 160.9h.6M263.4 169.1h.6M254.8 159.7h.6M253.7 157.6h.6M242.3 161.6h.6M245.4 155.1h.6M263.2 166.6h.6M255.7 159.0h.6M241.2 163.3h.6M258.8 167.0h.6M257.3 171.8h.6M255.3 158.9h.6M256.3 159.5h.6M264.3 167.3h.6M250.2 172.8h.6M257.9 160.8h.6M257.8 161.5h.6M261.6 162.5h.6M260.1 166.8h.6M260.2 159.1h.6M244.8 168.8h.6M254.4 156.4h.6M258.1 167.7h.6M250.2 171.9h.6M252.9 171.3h.6M258.4 167.0h.6M245.6 170.9h.6M245.6 171.4h.6M251.2 158.0h.6M260.1 163.6h.6M259.1 163.4h.6M259.3 166.7h.6M242.6 171.1h.6M255.2 155.1h.6M261.0 168.0h.6M244.3 168.3h.6M263.9 165.9h.6M264.5 166.5h.6M251.6 153.5h.6M257.9 162.7h.6M256.6 160.7h.6M249.1 170.3h.6M258.0 163.0h.6M256.7 171.6h.6M260.6 162.3h.6M250.9 170.5h.6M260.2 167.3h.6M258.4 167.6h.6M254.5 170.0h.6M251.0 158.1h.6M241.4 166.3h.6M254.7 158.9h.6M252.9 171.7h.6M262.0 169.2h.6M246.0 156.8h.6M244.4 160.4h.6M255.3 160.4h.6M256.9 158.5h.6M258.7 169.5h.6M246.6 158.1h.6M249.2 171.3h.6M252.2 158.2h.6M255.4 169.3h.6M259.0 164.2h.6M256.8 158.4h.6M248.0 160.3h.6M248.6 172.5h.6M252.5 169.3h.6M259.3 162.7h.6M241.3 160.4h.6M254.8 169.1h.6M247.8 171.4h.6M241.7 167.7h.6M257.0 169.5h.6M248.5 158.7h.6M253.0 172.7h.6M262.1 168.6h.6M243.4 161.7h.6M259.8 162.7h.6M258.7 169.8h.6M249.7 160.0h.6M259.8 168.4h.6M261.1 163.1h.6M254.8 158.2h.6M258.6 163.7h.6M243.9 168.1h.6M258.3 168.2h.6M241.4 160.6h.6M263.6 164.3h.6M241.5 159.3h.6M247.3 160.0h.6M258.9 172.8h.6M246.9 160.1h.6M252.5 169.7h.6M250.0 173.6h.6M259.9 159.3h.6M244.1 158.7h.6M246.6 172.6h.6M249.0 158.7h.6M249.4 159.1h.6M261.2 161.9h.6M257.7 168.3h.6M252.0 157.5h.6M242.5 169.2h.6M256.9 158.2h.6M245.6 170.2h.6M260.6 166.7h.6M260.7 163.8h.6M256.8 172.6h.6M260.8 166.5h.6M254.0 172.8h.6M258.3 160.1h.6M257.3 167.9h.6M262.5 166.9h.6M252.2 160.1h.6M253.7 170.5h.6M261.8 170.3h.6M264.0 163.1h.6M264.3 164.5h.6M247.9 158.7h.6M260.1 164.1h.6M258.2 162.2h.6M265.3 169.5h.6M246.0 159.6h.6M246.5 170.3h.6M255.3 160.8h.6M249.8 158.5h.6M254.9 169.3h.6M243.9 161.7h.6M257.1 168.4h.6M261.3 163.4h.6M258.1 169.0h.6M259.5 163.8h.6M241.7 170.5h.6M247.4 159.5h.6M255.0 160.9h.6M253.6 170.4h.6M241.5 166.1h.6M245.3 159.7h.6M260.7 159.5h.6M264.2 168.7h.6M253.3 159.6h.6M252.4 157.0h.6M249.7 170.3h.6M241.7 165.5h.6M259.3 162.9h.6M262.1 161.6h.6M257.1 171.3h.6M260.4 169.3h.6M259.5 170.3h.6M251.4 171.7h.6M258.7 159.0h.6M243.6 158.1h.6M250.8 159.1h.6M259.3 171.0h.6M255.4 160.4h.6M260.1 165.9h.6M286.4 133.5h.6M282.5 148.3h.6M281.3 135.8h.6M273.4 148.5h.6M271.5 146.5h.6M274.0 145.8h.6M269.3 135.7h.6M287.5 136.1h.6M275.1 133.7h.6M263.4 137.5h.6M265.0 137.4h.6M287.9 140.7h.6M257.0 144.9h.6M288.6 142.1h.6M263.4 138.4h.6M287.3 139.7h.6M257.5 142.3h.6M274.0 146.6h.6M266.3 138.3h.6M267.8 148.2h.6M256.4 141.8h.6M293.9 135.1h.6M285.1 132.0h.6M270.9 148.7h.6M275.0 148.0h.6M285.9 135.5h.6M277.8 145.1h.6M292.9 136.0h.6M258.6 144.2h.6M289.9 140.5h.6M262.5 140.4h.6M281.5 144.6h.6M287.5 136.9h.6M292.1 136.9h.6M265.3 137.3h.6M273.1 146.8h.6M262.9 141.3h.6M259.7 137.7h.6M271.4 132.5h.6M285.8 137.5h.6M297.5 141.3h.6M289.4 140.5h.6M285.6 142.7h.6M287.7 143.7h.6M262.8 142.9h.6M263.4 136.3h.6M265.3 144.5h.6M262.7 144.4h.6M263.3 146.9h.6M263.1 139.7h.6M288.8 142.0h.6M263.2 132.2h.6M267.2 137.0h.6M271.8 133.5h.6M267.3 136.0h.6M266.4 137.1h.6M292.0 136.3h.6M272.1 130.9h.6M266.8 148.4h.6M260.8 144.2h.6M287.1 147.8h.6M260.6 144.3h.6M259.8 144.5h.6M279.6 145.2h.6M277.6 147.1h.6M270.0 136.5h.6M262.5 138.8h.6M265.0 139.0h.6M293.2 129.7h.6M295.6 141.3h.6M279.8 134.2h.6M285.6 136.3h.6M268.1 146.1h.6M262.9 132.6h.6M262.2 139.5h.6M285.0 132.6h.6M291.4 136.1h.6M257.5 147.7h.6M281.8 133.2h.6M263.4 142.9h.6M269.3 136.0h.6M291.9 143.6h.6M289.3 140.2h.6M294.2 150.2h.6M263.4 145.7h.6M275.9 146.6h.6M284.7 135.1h.6M286.6 133.6h.6M263.7 139.8h.6M282.1 149.9h.6M279.2 135.4h.6M282.1 134.2h.6M287.3 139.2h.6M280.9 130.6h.6M272.2 146.7h.6M258.5 144.0h.6M267.7 135.2h.6M271.7 131.8h.6M259.4 143.4h.6M263.7 137.3h.6M274.0 134.6h.6M264.6 136.6h.6M270.9 146.6h.6M250.9 142.0h.6M279.7 148.1h.6M276.5 135.7h.6M259.9 147.6h.6M257.5 136.8h.6M260.6 143.0h.6M294.2 142.1h.6M261.5 142.6h.6M272.2 131.9h.6M249.4 143.5h.6M280.9 133.2h.6M294.2 139.0h.6M280.4 134.2h.6M288.7 138.9h.6M255.8 149.4h.6M282.7 145.3h.6M284.1 143.9h.6M272.2 147.4h.6M301.4 139.0h.6M262.5 140.7h.6M265.3 144.4h.6M260.4 139.8h.6M272.0 136.0h.6M273.5 147.2h.6M284.2 133.4h.6M262.8 141.4h.6M274.2 132.8h.6M258.5 142.8h.6M260.9 139.5h.6M255.2 141.4h.6M256.8 138.9h.6M284.1 135.9h.6M266.7 135.7h.6M272.3 134.5h.6M263.5 141.0h.6M294.7 132.4h.6M267.8 145.2h.6M300.6 135.9h.6M268.6 146.8h.6M260.5 144.5h.6M263.9 144.5h.6M283.2 132.0h.6M263.2 142.4h.6M263.5 142.7h.6M285.8 144.0h.6M304.5 133.0h.6M261.3 146.0h.6M274.2 135.0h.6M272.3 134.6h.6M289.0 146.8h.6M261.3 134.4h.6M280.8 145.7h.6M261.7 141.2h.6M266.0 146.6h.6M276.5 148.9h.6M274.2 132.4h.6M266.6 146.7h.6M254.4 142.9h.6M285.6 142.1h.6M261.4 144.4h.6M273.7 146.0h.6M287.8 139.8h.6M290.6 141.6h.6M255.7 145.2h.6M262.6 137.6h.6M287.4 136.5h.6M285.0 144.6h.6M263.5 144.8h.6M261.8 139.9h.6M253.5 142.5h.6M262.9 134.9h.6M266.0 145.5h.6M276.7 134.4h.6M293.2 142.5h.6M256.5 146.6h.6M276.0 135.4h.6M274.5 148.4h.6M280.2 134.1h.6M269.0 136.3h.6M279.4 135.4h.6M279.2 147.6h.6M262.6 137.9h.6M263.0 148.3h.6M291.9 137.5h.6M258.4 141.7h.6M289.0 138.1h.6M265.3 144.9h.6M260.8 149.6h.6M254.5 138.9h.6M263.6 138.2h.6M271.0 147.7h.6M288.0 141.4h.6M263.2 142.2h.6M295.7 143.1h.6M280.9 145.1h.6M257.4 141.4h.6M279.9 130.0h.6M282.0 136.2h.6M263.4 143.1h.6M269.5 136.5h.6M261.0 141.9h.6M271.6 146.6h.6M271.7 145.9h.6M294.8 139.2h.6M286.6 134.5h.6M263.7 140.4h.6M258.1 143.8h.6M268.4 145.7h.6M289.2 134.6h.6M266.3 146.7h.6M274.8 134.0h.6M263.5 132.5h.6M284.2 145.4h.6M265.4 133.4h.6M289.1 144.4h.6M293.4 147.3h.6M275.6 148.8h.6M288.0 141.8h.6M274.3 133.2h.6M253.8 144.8h.6M288.5 142.5h.6M286.8 142.3h.6M276.9 147.3h.6M274.6 148.8h.6M270.6 135.5h.6M274.9 134.5h.6M258.2 147.2h.6M255.6 139.9h.6M291.1 141.8h.6M265.1 144.4h.6M286.3 138.0h.6M290.6 139.5h.6M262.1 145.9h.6M277.0 135.4h.6M274.8 133.3h.6M284.9 136.1h.6M289.7 140.2h.6M284.3 145.0h.6M273.4 135.1h.6M253.2 144.3h.6M261.9 140.2h.6M286.2 142.9h.6M263.7 144.0h.6M284.5 142.8h.6M258.6 144.2h.6M272.4 147.8h.6M284.2 144.0h.6M297.3 143.0h.6M259.5 146.9h.6M287.9 133.4h.6M259.9 146.2h.6M290.0 130.7h.6M286.3 133.5h.6M265.4 145.3h.6M262.5 143.8h.6M269.8 145.8h.6M285.1 136.1h.6M289.1 139.3h.6M265.4 133.4h.6M263.4 144.7h.6M267.2 145.2h.6M290.4 140.2h.6M284.4 143.7h.6M286.9 138.9h.6M263.6 143.2h.6M271.1 145.8h.6M298.1 142.6h.6M260.9 140.4h.6M256.5 144.5h.6M265.7 138.6h.6M284.9 142.9h.6M264.3 143.4h.6M287.9 141.6h.6M261.0 139.0h.6M265.8 136.8h.6M298.9 132.7h.6M265.4 132.7h.6M264.0 148.2h.6M252.7 139.9h.6M266.6 137.1h.6M289.1 142.9h.6M260.5 135.5h.6M283.3 130.6h.6M253.4 139.6h.6M259.2 141.8h.6M276.2 132.1h.6M263.4 142.2h.6M289.6 137.4h.6M294.5 136.2h.6M285.0 144.0h.6M290.6 138.3h.6M257.5 146.5h.6M257.9 136.7h.6M263.9 146.5h.6M268.8 149.6h.6M268.1 135.9h.6M277.7 146.2h.6M269.6 146.4h.6M287.2 136.8h.6M282.7 135.3h.6M287.9 133.2h.6M280.7 134.7h.6M260.8 141.2h.6M294.6 143.5h.6M290.4 140.5h.6M293.7 137.1h.6M255.0 149.3h.6M268.8 149.4h.6M260.2 145.2h.6M268.0 147.5h.6M287.5 141.9h.6M285.4 136.0h.6M286.2 138.2h.6M257.9 143.3h.6M298.0 137.7h.6M252.2 146.7h.6M287.2 141.2h.6M287.6 141.5h.6M284.2 135.9h.6M263.0 145.7h.6M287.8 137.1h.6M297.0 139.7h.6M258.3 140.3h.6M261.0 145.3h.6M273.5 132.0h.6M260.2 148.2h.6M286.8 134.5h.6M281.3 145.8h.6M287.6 136.2h.6M269.7 135.1h.6M278.4 146.6h.6M291.0 137.7h.6M288.8 137.5h.6M262.5 138.9h.6M265.0 135.2h.6M270.5 145.8h.6M289.9 136.9h.6M285.7 136.4h.6M270.7 135.5h.6M266.7 146.5h.6M272.2 146.3h.6M287.4 138.4h.6M289.7 139.9h.6M281.1 134.6h.6M267.4 147.3h.6M249.7 143.2h.6M264.8 138.5h.6M260.0 141.2h.6M257.9 138.5h.6M277.5 135.8h.6M278.0 131.3h.6M272.7 133.4h.6M285.2 137.2h.6M286.6 137.8h.6M285.4 142.8h.6M280.4 133.5h.6M295.6 138.0h.6M263.9 137.7h.6M276.9 145.5h.6M288.6 141.8h.6M285.5 137.5h.6M293.5 141.2h.6M263.5 133.8h.6M257.5 142.9h.6M263.7 144.0h.6M273.3 135.6h.6M272.4 133.8h.6M262.4 140.4h.6M284.1 134.3h.6M280.0 145.5h.6M285.5 136.5h.6M262.3 139.1h.6M289.4 140.2h.6M288.2 134.9h.6M299.6 144.5h.6M264.6 149.2h.6M291.2 141.4h.6M262.5 134.2h.6M271.5 134.3h.6M282.2 149.4h.6M265.1 136.2h.6M263.2 142.2h.6M251.1 142.6h.6M255.0 145.6h.6M261.3 134.2h.6M286.6 143.2h.6M271.5 149.4h.6M279.7 145.1h.6M287.3 135.8h.6M281.9 129.5h.6M278.7 134.4h.6M282.7 133.3h.6M293.4 145.1h.6M287.0 140.1h.6M260.6 137.4h.6M263.4 137.0h.6M298.2 138.2h.6M271.4 133.4h.6M291.2 135.3h.6M286.8 141.7h.6M262.8 139.4h.6M253.1 142.4h.6M289.0 144.2h.6M285.4 135.7h.6M263.1 146.6h.6M280.7 135.1h.6M288.5 137.6h.6M275.8 147.8h.6M268.4 137.4h.6M264.2 139.4h.6M284.8 135.4h.6M260.5 141.2h.6M261.6 145.7h.6M257.7 137.0h.6M286.8 142.0h.6M259.2 141.6h.6M257.7 138.7h.6M258.4 142.5h.6M265.0 137.8h.6M261.9 140.7h.6M286.2 141.5h.6M261.5 147.0h.6M293.0 141.9h.6M285.1 147.0h.6M270.9 134.7h.6M268.8 145.4h.6M288.4 143.0h.6M279.7 134.9h.6M266.8 133.9h.6M285.4 142.6h.6M261.9 141.3h.6M280.4 147.1h.6M259.5 140.5h.6M272.9 133.7h.6M259.6 137.1h.6M274.8 134.0h.6M261.6 141.9h.6M280.8 136.0h.6M252.9 140.4h.6M281.4 148.2h.6M282.7 144.9h.6M265.2 148.5h.6M283.4 144.9h.6M260.0 135.2h.6M254.5 145.0h.6M275.5 149.7h.6M262.2 144.4h.6M287.8 136.2h.6M260.9 146.9h.6M289.4 140.4h.6M281.0 149.4h.6M258.0 142.6h.6M261.4 141.5h.6M287.8 134.6h.6M276.0 135.5h.6M282.9 145.9h.6M260.9 134.6h.6M289.7 136.5h.6M286.8 146.4h.6M250.5 141.7h.6M267.6 135.2h.6M261.8 144.3h.6M295.0 137.7h.6M293.2 136.5h.6M261.1 137.9h.6M256.2 146.8h.6M280.3 135.4h.6M293.6 139.6h.6M276.7 145.9h.6M260.8 140.0h.6M291.8 134.1h.6M260.9 132.5h.6M284.8 135.9h.6M282.0 145.2h.6M292.1 145.2h.6M296.6 135.6h.6M250.5 140.4h.6M283.6 146.2h.6M256.0 149.6h.6M281.0 132.8h.6M263.5 138.8h.6M266.3 146.5h.6M276.4 148.2h.6M295.8 131.2h.6M284.4 135.6h.6M280.2 147.4h.6M296.2 139.2h.6M282.7 133.4h.6M274.6 135.4h.6M270.6 150.1h.6M255.8 141.4h.6M275.8 134.7h.6M273.4 131.2h.6M289.6 133.2h.6M255.9 141.2h.6M264.1 137.0h.6M289.5 133.7h.6M282.5 132.3h.6M289.0 142.8h.6M262.6 140.5h.6M296.4 137.2h.6M286.5 145.5h.6M284.8 146.6h.6M285.5 143.4h.6M287.7 139.3h.6M283.8 147.2h.6M301.9 133.3h.6M286.7 141.3h.6M296.3 143.8h.6M284.4 145.5h.6M246.6 140.8h.6M278.8 145.4h.6M269.2 137.0h.6M270.7 147.1h.6M282.6 144.2h.6M286.7 141.3h.6M263.6 142.8h.6M278.8 135.1h.6M258.3 142.9h.6M295.3 142.2h.6M286.7 143.2h.6M292.1 143.2h.6M284.0 136.6h.6M279.7 135.0h.6M270.0 135.4h.6M253.4 148.9h.6M265.1 137.0h.6M271.9 135.1h.6M265.2 147.6h.6M288.1 143.2h.6M266.9 146.6h.6M255.5 144.4h.6M289.8 136.3h.6M274.8 148.0h.6M258.4 133.2h.6M299.1 139.8h.6M270.5 147.8h.6M256.7 142.8h.6M287.8 136.5h.6M288.0 144.5h.6M278.5 135.0h.6M273.5 147.5h.6M284.1 144.6h.6M259.5 146.0h.6M269.3 136.6h.6M280.6 148.8h.6M287.8 131.6h.6M294.9 138.6h.6M261.3 140.4h.6M290.0 138.6h.6M293.3 138.6h.6M272.0 134.7h.6M259.7 135.5h.6M293.4 142.8h.6M266.7 135.3h.6M270.8 146.9h.6M253.3 139.4h.6M263.0 144.2h.6M288.6 142.0h.6M267.6 137.2h.6M289.7 136.3h.6M269.7 151.2h.6M264.7 149.6h.6M288.7 138.1h.6M285.4 143.0h.6M263.6 144.5h.6M261.2 143.8h.6M271.5 148.9h.6M283.5 147.4h.6M270.0 150.4h.6M257.9 142.7h.6M295.1 137.4h.6M263.8 135.9h.6M284.7 134.6h.6M267.4 145.0h.6M268.7 136.5h.6M262.0 134.1h.6M269.7 146.2h.6M264.4 139.8h.6M286.7 143.3h.6M284.3 134.6h.6M295.7 140.1h.6M294.8 134.4h.6M286.1 148.8h.6M289.5 151.9h.6M264.0 144.5h.6M285.8 143.0h.6M273.6 133.7h.6M270.8 135.5h.6M258.6 141.7h.6M257.2 146.9h.6M286.3 145.3h.6M283.3 145.4h.6M269.2 146.4h.6M271.4 134.4h.6M263.3 141.3h.6M267.6 151.6h.6M291.2 141.5h.6M288.9 142.9h.6M283.9 132.9h.6M271.3 135.6h.6M260.2 141.4h.6M289.8 138.6h.6M267.1 145.5h.6M281.8 145.5h.6M294.7 137.0h.6M262.7 142.1h.6M261.0 139.8h.6M286.5 144.7h.6M287.7 134.5h.6M273.2 149.5h.6M294.3 140.3h.6M287.7 145.0h.6M288.7 138.1h.6M263.6 144.2h.6M270.1 130.6h.6M261.1 139.3h.6M259.3 140.5h.6M258.0 144.8h.6M258.7 145.3h.6M267.2 145.1h.6M265.6 135.6h.6M280.3 134.4h.6M261.3 144.6h.6M262.8 142.4h.6M280.1 145.9h.6M261.6 146.8h.6M282.8 146.9h.6M268.2 146.6h.6M285.9 131.5h.6M266.9 135.8h.6M272.9 134.3h.6M283.3 147.2h.6M262.5 143.5h.6M284.7 133.9h.6M262.2 138.8h.6M258.0 134.1h.6M279.2 130.8h.6M300.4 136.6h.6M296.4 136.4h.6M287.5 135.2h.6M273.8 134.3h.6M289.6 138.2h.6M265.3 146.4h.6M280.0 135.3h.6M266.2 147.2h.6M281.3 134.6h.6M276.5 148.3h.6M270.5 136.5h.6M251.3 143.8h.6M279.7 145.2h.6M279.0 145.1h.6M278.7 145.3h.6M284.6 135.2h.6M282.4 146.4h.6M292.1 136.8h.6M266.4 171.4h.6M266.0 158.7h.6M263.9 154.4h.6M268.5 158.5h.6M274.9 172.0h.6M286.4 162.9h.6M265.3 171.4h.6M289.8 164.6h.6M263.1 164.9h.6M258.6 159.7h.6M275.7 172.2h.6M301.2 162.8h.6M259.5 163.3h.6M260.6 163.4h.6M287.0 152.8h.6M256.9 155.4h.6M261.7 166.1h.6M260.6 164.4h.6M262.3 173.5h.6M258.5 157.5h.6M282.8 154.4h.6M286.7 163.7h.6M259.0 168.7h.6M289.5 166.3h.6M293.7 158.1h.6M281.6 158.6h.6M267.2 173.6h.6M287.0 156.3h.6M258.8 160.2h.6M278.9 158.1h.6M271.6 172.9h.6M264.2 173.5h.6M281.4 156.4h.6M265.8 169.4h.6M261.9 166.0h.6M279.6 170.2h.6M280.6 170.0h.6M263.9 167.2h.6M264.4 173.3h.6M282.6 159.1h.6M277.9 170.4h.6M295.2 160.3h.6M290.8 166.1h.6M264.5 158.7h.6M285.0 160.8h.6M284.9 169.1h.6M283.3 172.2h.6M269.2 169.6h.6M259.1 162.7h.6M287.5 167.3h.6M263.1 164.0h.6M261.6 158.1h.6M288.8 159.1h.6M267.6 169.8h.6M270.2 155.5h.6M286.7 159.5h.6M267.4 171.3h.6M296.2 157.1h.6M275.1 158.2h.6M261.8 166.8h.6M260.4 155.4h.6M277.8 158.5h.6M263.7 159.3h.6M284.6 168.0h.6M274.3 172.8h.6M264.8 167.9h.6M281.0 158.6h.6M286.5 165.8h.6M281.8 171.1h.6M258.4 162.2h.6M285.5 156.1h.6M286.2 156.0h.6M265.0 169.9h.6M291.2 164.7h.6M290.3 167.5h.6M290.4 166.5h.6M260.4 159.0h.6M278.8 170.4h.6M290.9 168.5h.6M269.0 170.8h.6M260.7 164.6h.6M283.7 169.8h.6M280.7 170.0h.6M268.6 169.6h.6M269.8 154.3h.6M268.3 159.2h.6M262.5 164.2h.6M264.3 166.5h.6M262.5 164.4h.6M284.7 159.7h.6M284.3 158.1h.6M284.5 156.2h.6M286.6 160.1h.6M260.4 155.6h.6M263.6 169.6h.6M287.4 165.5h.6M285.6 169.4h.6M294.3 165.6h.6M265.8 169.0h.6M264.1 170.4h.6M285.1 156.4h.6M290.3 167.4h.6M285.0 168.2h.6M286.3 169.6h.6M289.2 163.0h.6M279.1 156.9h.6M289.3 163.9h.6M262.0 164.8h.6M277.8 172.9h.6M287.3 164.2h.6M291.8 164.0h.6M267.5 171.2h.6M292.4 162.4h.6M289.1 162.9h.6M292.1 164.0h.6M265.9 158.7h.6M255.6 158.3h.6M281.5 170.8h.6M268.5 157.7h.6M292.9 157.7h.6M281.7 155.8h.6M280.4 158.0h.6M289.2 166.5h.6M281.9 171.1h.6M262.9 159.4h.6M266.5 157.7h.6M286.4 162.4h.6M292.2 170.1h.6M289.8 159.1h.6M293.7 163.8h.6M259.2 171.8h.6M273.0 158.2h.6M264.6 166.4h.6M295.2 157.6h.6M264.4 163.1h.6M279.3 158.3h.6M260.1 160.5h.6M288.3 167.9h.6M282.2 157.4h.6M286.0 160.1h.6M263.5 158.7h.6M268.4 157.3h.6M264.6 168.4h.6M273.1 158.5h.6M270.8 170.7h.6M295.2 161.9h.6M292.3 168.1h.6M269.9 171.7h.6M272.5 171.9h.6M268.6 159.3h.6M288.4 166.9h.6M270.4 157.2h.6M286.5 162.4h.6M272.5 171.7h.6M265.5 169.0h.6M257.0 169.2h.6M275.6 173.3h.6M291.5 163.5h.6M271.6 151.5h.6M287.5 167.2h.6M268.1 173.2h.6M270.6 158.9h.6M288.8 168.1h.6M269.0 156.0h.6M293.1 170.2h.6M279.5 170.8h.6M259.3 163.5h.6M287.4 173.3h.6M258.9 165.8h.6M267.1 156.7h.6M259.7 166.1h.6M294.0 167.9h.6M266.5 169.0h.6M291.8 168.9h.6M282.5 157.1h.6M263.3 160.6h.6M286.7 158.9h.6M271.1 173.5h.6M296.6 164.9h.6M289.3 170.7h.6M265.3 173.0h.6M274.3 171.5h.6M257.1 170.0h.6M269.0 156.9h.6M267.4 169.0h.6M288.5 154.3h.6M290.0 169.5h.6M285.6 155.6h.6M269.8 159.2h.6M290.2 163.3h.6M273.8 171.3h.6M272.4 170.5h.6M274.1 158.0h.6M253.1 160.1h.6M267.2 158.3h.6M266.5 159.2h.6M266.1 161.2h.6M295.1 160.0h.6M260.5 165.0h.6M285.4 157.9h.6M269.8 158.5h.6M285.0 156.6h.6M290.6 164.4h.6M259.6 162.6h.6M261.6 164.5h.6M262.5 159.5h.6M271.9 151.5h.6M264.1 168.5h.6M266.1 168.8h.6M263.8 156.1h.6M296.6 164.7h.6M279.4 158.3h.6M286.3 161.5h.6M286.6 165.3h.6M289.6 161.8h.6M265.2 169.3h.6M291.5 159.3h.6M263.3 168.0h.6M266.3 169.0h.6M269.3 157.0h.6M295.3 159.3h.6M263.2 157.7h.6M270.4 170.6h.6M287.9 168.2h.6M287.8 166.6h.6M265.8 160.2h.6M268.5 152.2h.6M265.4 168.8h.6M264.1 159.8h.6M261.6 165.4h.6M285.9 155.5h.6M267.0 170.4h.6M290.5 171.7h.6M281.8 156.4h.6M266.5 168.4h.6M260.3 171.6h.6M288.1 162.7h.6M261.8 166.6h.6M268.2 171.7h.6M272.1 171.8h.6M265.4 158.9h.6M297.4 160.6h.6M271.3 158.7h.6M269.7 170.6h.6M279.5 172.4h.6M278.8 172.8h.6M264.0 156.9h.6M264.2 151.7h.6M260.3 168.5h.6M296.5 166.2h.6M287.1 157.6h.6M264.3 156.4h.6M271.6 157.0h.6M284.3 158.3h.6M291.9 171.4h.6M295.3 168.3h.6M267.4 156.6h.6M288.0 171.5h.6M262.7 162.5h.6M287.3 161.3h.6M287.2 171.8h.6M284.4 160.8h.6M261.1 163.7h.6M294.4 164.0h.6M290.8 160.5h.6M287.4 157.4h.6M291.1 164.6h.6M281.3 152.8h.6M275.6 171.4h.6M280.2 171.1h.6M276.6 170.9h.6M268.4 172.2h.6M281.1 158.9h.6M284.5 159.7h.6M287.1 164.3h.6M260.8 161.2h.6M291.3 166.8h.6M288.5 161.5h.6M287.3 159.6h.6M288.2 169.2h.6M290.2 161.6h.6M294.8 163.7h.6M256.6 171.1h.6M277.0 171.7h.6M292.0 169.3h.6M265.9 167.9h.6M262.6 165.6h.6M288.2 169.6h.6M276.0 171.3h.6M265.8 168.8h.6M300.3 160.4h.6M258.2 158.2h.6M261.3 157.5h.6M282.4 170.8h.6M285.6 156.2h.6M264.0 161.5h.6M257.3 159.8h.6M270.0 157.6h.6M266.2 170.6h.6M285.4 160.5h.6M270.2 172.0h.6M265.6 160.0h.6M288.2 166.1h.6M277.3 172.4h.6M294.4 170.3h.6M257.8 167.5h.6M270.0 171.7h.6M261.2 158.2h.6M259.2 163.3h.6M292.6 159.0h.6M255.1 172.0h.6M284.4 159.7h.6M289.1 164.3h.6M290.2 170.4h.6M264.0 170.6h.6M290.6 168.9h.6M276.3 170.6h.6M285.2 170.4h.6M289.5 164.9h.6M291.6 159.8h.6M263.8 156.5h.6M287.7 158.6h.6M260.0 158.7h.6M269.0 172.6h.6M282.3 171.0h.6M258.4 167.1h.6M281.6 158.9h.6M263.2 166.4h.6M282.3 173.1h.6M268.4 171.7h.6M263.3 162.8h.6M263.0 160.4h.6M278.3 158.0h.6M288.8 168.6h.6M257.1 157.8h.6M288.0 161.5h.6M270.2 156.7h.6M263.2 168.2h.6M295.5 161.9h.6M284.5 160.7h.6M257.2 160.4h.6M287.0 167.4h.6M260.7 166.6h.6M294.0 162.6h.6M272.2 171.2h.6M284.3 157.2h.6M279.7 173.6h.6M290.2 156.1h.6M269.3 157.6h.6M288.0 160.1h.6M280.9 172.2h.6M259.9 166.5h.6M293.4 170.2h.6M295.0 164.3h.6M265.1 170.4h.6M288.8 166.8h.6M291.3 160.1h.6M284.0 168.5h.6M262.3 164.5h.6M267.2 171.3h.6M289.5 166.7h.6M264.2 161.0h.6M273.0 172.1h.6M261.7 169.7h.6M262.5 161.4h.6M256.0 170.1h.6M272.2 156.8h.6M264.2 154.8h.6M265.7 169.3h.6M292.5 165.8h.6M265.2 159.6h.6M288.4 168.1h.6M263.3 157.3h.6M296.2 165.1h.6M261.2 166.8h.6M267.7 170.7h.6M265.7 161.2h.6M261.3 159.6h.6M258.4 172.1h.6M288.4 164.1h.6M282.7 147.4h.6M269.6 158.3h.6M266.4 155.3h.6M262.1 162.7h.6M283.2 169.4h.6M261.4 156.9h.6M271.0 170.3h.6M258.9 168.5h.6M294.1 157.2h.6M290.6 169.1h.6M286.4 171.3h.6M288.6 157.1h.6M281.9 169.9h.6M258.4 168.3h.6M266.7 158.4h.6M287.8 159.4h.6M282.1 157.2h.6M265.1 167.8h.6M276.9 158.2h.6M259.2 160.3h.6M266.0 159.2h.6M263.5 171.8h.6M259.6 162.1h.6M270.5 158.5h.6M286.7 165.8h.6M266.0 160.7h.6M290.8 156.7h.6M289.0 165.1h.6M259.0 164.6h.6M262.2 163.9h.6M266.9 172.0h.6M282.2 154.3h.6M276.6 173.0h.6M260.8 167.3h.6M284.4 159.4h.6M292.1 155.8h.6M281.6 172.0h.6M271.9 158.4h.6M262.9 151.8h.6M279.8 171.6h.6M279.2 158.6h.6M262.5 157.9h.6M262.9 168.3h.6M269.4 159.3h.6M259.2 165.2h.6M284.1 159.2h.6M273.7 172.1h.6M263.6 166.8h.6M273.1 158.4h.6M273.2 170.6h.6M269.8 157.1h.6M260.8 169.5h.6M268.3 156.2h.6M274.3 170.9h.6M290.1 158.7h.6M286.6 167.5h.6M256.7 169.4h.6M255.5 160.0h.6M289.6 163.3h.6M285.4 172.3h.6M264.3 163.4h.6M280.4 156.4h.6M290.9 161.4h.6M289.5 170.0h.6M290.1 166.7h.6M264.6 169.3h.6M260.1 160.7h.6M288.8 162.6h.6M266.9 159.1h.6M276.4 172.1h.6M280.9 157.2h.6M290.4 158.5h.6M279.2 173.2h.6M286.4 161.9h.6M282.5 173.1h.6M266.4 156.0h.6M267.7 170.3h.6M292.5 165.0h.6M292.4 168.9h.6M260.8 164.8h.6M261.3 159.2h.6M272.6 158.5h.6M276.6 171.0h.6M283.5 157.2h.6M288.5 166.2h.6M285.2 167.6h.6M270.9 158.4h.6M271.0 170.2h.6M264.7 166.2h.6M290.0 168.1h.6M296.3 165.4h.6M251.3 159.5h.6M264.2 162.4h.6M293.8 168.4h.6M263.3 167.7h.6M284.5 168.1h.6M297.9 168.6h.6M270.3 156.7h.6M283.1 170.1h.6M284.2 168.6h.6M260.1 171.1h.6M257.8 167.2h.6M255.6 160.6h.6M264.1 161.8h.6M275.9 157.7h.6M260.9 160.2h.6M283.7 168.8h.6M283.5 173.1h.6M282.3 158.7h.6M283.4 156.7h.6M258.7 164.2h.6M268.5 169.5h.6M272.6 171.3h.6M290.5 159.7h.6M266.1 169.1h.6M260.4 163.0h.6M309.3 165.0h.6M299.2 161.4h.6M273.9 172.0h.6M296.7 166.5h.6M263.4 154.2h.6M265.9 169.5h.6M288.1 160.6h.6M288.6 166.5h.6M293.9 172.3h.6M262.0 169.0h.6M263.5 167.4h.6M283.6 154.7h.6M270.3 171.7h.6M279.4 158.0h.6M259.8 163.5h.6M286.5 169.4h.6M271.5 170.9h.6M261.7 170.2h.6M267.8 158.9h.6M261.4 159.7h.6M262.8 161.1h.6M271.4 158.4h.6M293.1 168.7h.6M287.7 160.5h.6M271.7 170.5h.6M268.6 157.8h.6M266.2 160.1h.6M287.8 169.9h.6M271.2 172.0h.6M271.4 157.9h.6M286.3 157.0h.6M282.4 159.5h.6M284.2 170.0h.6M262.8 168.6h.6M291.5 164.0h.6M264.1 163.5h.6M279.9 170.6h.6M270.8 155.4h.6M264.2 166.5h.6M284.4 159.3h.6M265.7 157.0h.6M267.6 158.4h.6M266.6 170.5h.6M260.7 172.3h.6M260.0 159.2h.6M273.1 157.7h.6M281.7 170.8h.6M271.1 156.8h.6M294.3 170.7h.6M265.0 167.7h.6M287.1 156.8h.6M264.0 167.6h.6M291.2 158.7h.6M265.8 160.3h.6M280.0 158.5h.6M260.5 161.8h.6M274.4 173.1h.6M283.1 169.3h.6M294.6 166.1h.6M257.1 160.1h.6M286.7 157.7h.6M263.9 153.7h.6M277.3 158.2h.6M269.3 154.7h.6M286.7 171.8h.6M262.2 165.4h.6M291.5 165.7h.6M264.1 161.0h.6M260.3 152.4h.6M265.8 168.5h.6M262.3 161.4h.6M270.5 154.9h.6M269.2 173.2h.6M260.5 166.0h.6M260.9 163.2h.6M293.0 164.2h.6M288.5 160.3h.6M265.5 160.8h.6M262.6 161.2h.6M304.0 155.2h.6M275.5 171.0h.6M291.6 169.3h.6M280.5 171.4h.6M288.0 173.0h.6M264.7 169.1h.6M262.7 162.9h.6M287.9 165.3h.6M284.7 161.0h.6M272.4 171.7h.6M263.9 165.0h.6M285.4 167.9h.6M265.5 170.7h.6M278.9 157.1h.6M263.6 165.5h.6M279.5 157.9h.6M288.8 162.9h.6M290.4 162.3h.6M294.9 173.0h.6M262.3 166.4h.6M270.4 172.6h.6M285.8 158.8h.6M262.9 161.0h.6M293.9 173.2h.6M271.6 171.6h.6M283.9 153.9h.6M291.4 171.2h.6M269.2 172.5h.6M277.2 173.3h.6M277.9 158.4h.6M258.1 170.7h.6M270.2 173.0h.6M266.8 168.3h.6M286.2 159.3h.6M268.9 171.3h.6M264.1 162.0h.6M259.3 168.6h.6M292.9 156.3h.6M264.7 170.5h.6M261.0 159.8h.6M278.6 172.3h.6M268.0 170.1h.6M284.5 157.7h.6M267.3 172.5h.6M259.1 165.7h.6M289.0 161.8h.6M267.6 170.1h.6M286.0 160.4h.6M280.4 170.7h.6M289.1 164.1h.6M292.9 170.7h.6M267.4 169.0h.6M287.4 164.8h.6M275.5 157.8h.6M269.7 171.6h.6M287.2 157.8h.6M264.9 156.8h.6M292.1 168.0h.6M270.5 171.0h.6M262.8 169.3h.6M284.5 157.3h.6M267.6 159.0h.6M266.2 156.0h.6M282.2 158.3h.6M292.4 157.7h.6M271.0 170.0h.6M296.3 168.1h.6M288.8 167.9h.6M270.4 156.8h.6M282.7 157.9h.6M287.9 153.4h.6M261.8 168.5h.6M264.9 166.9h.6M285.1 172.3h.6M279.7 172.2h.6M280.0 156.4h.6M255.8 168.2h.6M267.8 168.9h.6M262.5 163.8h.6M289.6 168.0h.6M300.4 159.3h.6M262.8 161.7h.6M266.5 169.9h.6M292.3 158.4h.6M269.1 157.1h.6M261.2 157.5h.6M285.8 159.5h.6M262.3 166.8h.6M262.8 161.5h.6M295.9 167.1h.6M295.3 162.0h.6M294.5 165.0h.6M255.7 155.3h.6M262.4 170.4h.6M272.5 173.4h.6M259.1 165.5h.6M270.1 171.4h.6M265.1 168.0h.6M285.0 171.9h.6M284.5 158.6h.6M272.4 172.5h.6M283.1 158.9h.6M286.4 168.4h.6M288.0 161.5h.6M289.4 163.0h.6M287.3 169.6h.6M280.0 170.6h.6M277.3 171.7h.6M263.1 157.4h.6M274.5 170.8h.6M292.5 164.4h.6M293.2 166.1h.6M291.7 162.0h.6M281.2 172.7h.6M286.9 163.8h.6M268.5 159.8h.6M281.6 171.3h.6M293.0 165.9h.6M283.1 172.0h.6M273.2 173.6h.6M258.7 162.9h.6M259.0 161.1h.6M292.1 170.1h.6M282.0 157.0h.6M277.3 171.0h.6M262.1 173.5h.6M270.6 172.5h.6M278.1 170.8h.6M272.6 171.3h.6M288.0 161.5h.6M283.9 155.7h.6M259.7 163.0h.6M277.7 158.1h.6M272.9 170.7h.6M261.3 158.3h.6M288.2 166.9h.6M280.4 158.7h.6M269.5 159.2h.6M288.4 166.5h.6M283.2 158.7h.6M281.1 155.4h.6M295.7 157.8h.6M288.1 163.6h.6M289.6 161.6h.6M264.6 171.6h.6M285.6 155.9h.6M288.7 149.7h.6M285.3 169.6h.6M250.9 172.9h.6M267.1 170.6h.6M273.6 172.5h.6M291.5 166.1h.6M296.1 161.1h.6M262.7 165.3h.6M288.3 169.9h.6M285.8 168.9h.6M262.7 172.7h.6M258.0 169.6h.6M286.2 162.0h.6M264.7 154.5h.6M263.6 169.6h.6M279.3 171.4h.6M281.1 172.1h.6M262.9 164.4h.6M294.5 162.7h.6M291.9 160.4h.6M265.1 168.4h.6M278.1 171.9h.6M279.4 158.0h.6M271.7 171.2h.6M288.6 160.2h.6M266.2 160.9h.6M259.9 163.4h.6M273.5 171.9h.6M268.1 159.4h.6M263.3 171.0h.6M260.9 156.8h.6M285.4 159.0h.6M259.5 164.3h.6M287.1 163.4h.6M285.9 162.0h.6M264.8 157.2h.6M291.0 161.3h.6M264.6 156.2h.6M291.8 166.2h.6M260.0 167.6h.6M285.1 170.3h.6M265.2 161.7h.6M288.2 164.1h.6M263.7 164.7h.6M289.3 167.0h.6M258.9 163.9h.6M259.0 163.4h.6M291.2 166.5h.6M262.4 161.5h.6M291.1 165.4h.6M293.0 165.9h.6M284.0 170.4h.6M275.1 157.5h.6M289.3 165.3h.6M284.4 156.5h.6M286.0 166.9h.6M290.7 162.2h.6M278.5 158.6h.6M287.6 163.3h.6M259.6 166.3h.6M271.2 157.3h.6M286.6 166.9h.6M287.4 166.5h.6M295.1 156.5h.6M260.4 167.8h.6M275.6 171.0h.6M302.5 168.0h.6M274.9 172.9h.6M285.6 172.2h.6M281.0 173.3h.6M287.9 154.0h.6M260.5 161.0h.6M261.2 164.6h.6M287.8 164.2h.6M290.7 163.1h.6M291.5 164.8h.6M290.9 161.3h.6M289.5 158.5h.6M281.4 157.9h.6M263.0 164.3h.6M254.6 169.9h.6M287.1 159.1h.6M278.0 157.9h.6M267.1 173.4h.6M292.8 161.5h.6M254.1 170.9h.6M261.4 157.2h.6M286.4 158.8h.6M289.3 162.3h.6M269.1 158.9h.6M278.5 157.7h.6M281.0 150.5h.6M257.7 157.9h.6M271.6 171.0h.6M286.8 167.3h.6M289.7 166.6h.6M260.3 161.2h.6M296.0 171.0h.6M268.6 169.9h.6M286.8 164.2h.6M304.6 169.4h.6M271.6 158.8h.6M289.0 170.2h.6M284.4 156.0h.6M264.6 157.7h.6M292.1 171.4h.6M267.5 159.4h.6M287.5 171.7h.6M263.2 154.7h.6M264.5 171.6h.6M268.5 152.1h.6M258.8 166.2h.6M293.7 166.5h.6M295.6 171.6h.6M284.7 169.5h.6M286.8 169.5h.6M290.5 161.8h.6M277.5 157.4h.6M265.9 172.9h.6M283.7 160.2h.6M288.1 166.5h.6M259.6 161.5h.6M284.0 158.0h.6M253.3 169.1h.6M267.6 159.4h.6M260.9 164.6h.6M286.5 165.9h.6M263.4 167.0h.6M260.0 171.3h.6M272.4 170.8h.6M279.0 156.3h.6M285.4 168.4h.6M266.2 159.6h.6M278.9 158.5h.6M267.9 155.2h.6M286.0 168.3h.6M274.5 157.8h.6M282.0 158.8h.6M260.7 163.0h.6M282.3 154.4h.6M271.6 171.6h.6M287.6 169.1h.6M291.9 169.8h.6M287.9 163.1h.6M270.1 170.4h.6M265.1 170.0h.6M276.7 157.6h.6M264.7 159.2h.6M289.7 162.8h.6M268.4 155.9h.6M287.9 168.7h.6M258.2 170.0h.6M277.2 158.0h.6M290.0 168.3h.6M282.9 158.9h.6M285.2 158.3h.6M266.3 156.2h.6M288.9 167.3h.6M296.9 172.1h.6M282.8 170.6h.6M280.8 172.4h.6M292.1 165.5h.6M270.9 171.8h.6M259.8 159.1h.6M269.0 159.0h.6M281.0 158.9h.6M288.3 165.2h.6M287.5 162.1h.6M281.2 158.6h.6M278.8 158.1h.6M290.5 157.3h.6M283.6 160.2h.6M282.4 159.3h.6M261.7 169.7h.6M288.8 165.8h.6M294.4 162.0h.6M264.6 166.8h.6M262.8 167.3h.6M286.4 172.3h.6M261.1 168.7h.6M267.6 169.6h.6M277.9 170.4h.6M273.9 172.9h.6M286.4 163.0h.6M264.8 158.4h.6M287.4 165.3h.6M278.4 157.1h.6M260.8 164.4h.6M269.0 153.0h.6M263.4 158.1h.6M290.0 158.5h.6M258.1 169.1h.6M267.5 169.6h.6M254.5 160.6h.6M283.5 153.4h.6M284.9 159.1h.6M286.3 162.1h.6M262.7 160.3h.6M282.8 157.6h.6M269.8 157.2h.6M288.9 163.3h.6M260.5 163.1h.6M286.8 160.6h.6M291.7 165.0h.6M291.6 163.4h.6M285.0 173.3h.6M285.2 171.1h.6M285.1 156.3h.6M289.0 164.3h.6M286.8 161.2h.6M270.7 152.9h.6M281.3 154.5h.6M275.5 149.2h.6M280.8 153.4h.6M268.3 156.3h.6M273.8 150.2h.6M269.9 157.8h.6M282.4 150.3h.6M267.8 151.8h.6M268.8 153.9h.6M278.4 157.2h.6M264.9 153.1h.6M280.0 150.1h.6M281.6 151.4h.6M274.1 148.5h.6M277.8 148.4h.6M269.6 149.3h.6M283.4 153.6h.6M267.4 157.5h.6M266.0 152.3h.6M281.7 155.6h.6M281.5 152.7h.6M268.1 153.2h.6M279.6 152.0h.6M282.8 155.4h.6M271.8 156.3h.6M270.9 158.2h.6M268.0 153.4h.6M267.7 153.3h.6M274.5 157.9h.6M265.8 156.1h.6M279.1 157.4h.6M283.4 154.8h.6M281.6 155.6h.6M271.3 149.1h.6M280.7 146.9h.6M284.3 157.4h.6M269.9 151.1h.6M276.0 149.5h.6M283.0 156.3h.6M271.4 148.8h.6M281.6 153.1h.6M284.2 153.2h.6M275.7 157.7h.6M280.3 152.6h.6M281.3 152.5h.6M268.6 150.8h.6M277.8 157.0h.6M281.6 153.2h.6M269.6 153.5h.6M281.6 154.8h.6M280.9 154.5h.6M282.1 155.8h.6M269.6 156.1h.6M280.9 151.3h.6M278.0 158.0h.6M277.6 157.7h.6M269.6 153.4h.6M267.6 156.2h.6M269.9 152.7h.6M270.7 150.7h.6M286.7 153.2h.6M280.0 156.9h.6M270.4 153.5h.6M277.4 157.1h.6M282.3 150.5h.6M276.7 147.5h.6M271.5 151.8h.6M280.0 156.1h.6M278.0 156.9h.6M270.3 154.2h.6M277.2 157.8h.6M266.2 156.8h.6M278.3 148.6h.6M270.5 152.9h.6M269.2 154.0h.6M280.6 153.6h.6M277.4 158.4h.6M266.1 153.6h.6M281.9 150.1h.6M282.5 155.5h.6M280.4 156.2h.6M270.6 152.2h.6M273.0 157.2h.6M271.7 157.7h.6M278.7 149.6h.6M276.1 157.5h.6M265.6 154.3h.6M279.7 150.7h.6M282.8 153.0h.6M283.3 154.3h.6M270.1 155.0h.6M279.3 157.1h.6M277.7 148.8h.6M273.2 150.7h.6M273.1 151.1h.6M273.0 158.5h.6M270.8 158.4h.6M271.2 151.1h.6M279.8 148.6h.6M281.8 156.7h.6M269.7 150.8h.6M269.2 157.2h.6M284.0 154.0h.6M274.7 148.2h.6M269.7 154.9h.6M268.9 155.4h.6M268.5 152.0h.6M282.9 157.1h.6M279.9 155.9h.6M265.2 153.5h.6M270.0 152.0h.6M281.9 153.3h.6M273.9 148.9h.6M271.2 156.3h.6M281.5 156.7h.6M274.4 150.5h.6M278.5 157.0h.6M269.6 153.6h.6M271.7 150.1h.6M283.0 152.2h.6M279.1 147.5h.6M273.1 148.8h.6M278.8 151.4h.6M273.1 149.4h.6M270.3 151.2h.6M271.0 152.5h.6M272.2 156.9h.6M270.6 151.7h.6M281.2 154.4h.6M277.5 151.1h.6M269.3 155.3h.6M277.4 149.6h.6M279.9 156.1h.6M279.8 158.4h.6M274.4 157.8h.6M280.6 150.2h.6M274.2 149.7h.6M281.1 150.7h.6M271.2 152.0h.6M284.8 156.3h.6M279.0 156.6h.6M268.4 147.7h.6M281.0 151.4h.6M280.4 156.0h.6M281.0 153.6h.6M267.0 154.4h.6M282.0 158.5h.6M276.0 157.5h.6M284.5 153.9h.6M271.6 150.1h.6M279.8 150.9h.6M271.4 156.9h.6M274.0 158.0h.6M271.1 151.5h.6M276.9 157.9h.6M279.1 151.5h.6M280.8 155.2h.6M276.3 148.1h.6M280.0 151.0h.6M274.0 149.9h.6M280.2 152.6h.6M282.7 157.3h.6M268.8 151.3h.6M280.8 157.1h.6M276.4 150.8h.6M270.5 155.6h.6M273.5 147.4h.6M284.0 151.1h.6M268.1 152.9h.6M271.3 157.6h.6M278.8 150.0h.6M267.8 153.5h.6M280.1 152.7h.6M267.1 151.4h.6M280.9 155.2h.6M273.1 157.1h.6M280.7 149.8h.6M269.2 155.1h.6M284.9 154.9h.6M273.6 146.1h.6M268.6 152.7h.6M280.9 151.2h.6M270.3 155.0h.6M270.1 157.7h.6M279.9 150.5h.6M273.9 151.0h.6M281.0 154.2h.6M283.5 156.7h.6M287.2 149.3h.6M276.1 149.2h.6M266.9 156.8h.6M277.9 151.3h.6M281.3 151.3h.6M280.7 156.2h.6M269.0 155.6h.6M266.8 153.6h.6M274.4 150.1h.6M274.2 157.8h.6M278.2 150.6h.6M268.2 154.8h.6M267.2 152.7h.6M279.4 156.5h.6M283.9 156.9h.6M282.0 157.0h.6M280.1 158.9h.6M276.6 149.2h.6M270.3 157.0h.6M268.0 157.7h.6M282.3 157.3h.6M266.2 153.9h.6M278.9 156.8h.6M279.0 150.4h.6M268.8 151.4h.6M275.0 149.6h.6M282.0 153.9h.6M283.5 153.6h.6M281.4 151.6h.6M268.8 153.8h.6M277.6 147.8h.6M273.0 150.9h.6M284.2 150.0h.6M271.6 149.8h.6M281.7 152.7h.6M275.9 149.1h.6M272.0 157.8h.6M272.3 150.7h.6M284.1 154.0h.6M275.5 148.5h.6M277.8 150.0h.6M282.9 153.9h.6M272.8 147.2h.6M270.5 152.2h.6M280.8 155.5h.6M270.5 152.7h.6M264.4 154.9h.6M269.1 151.9h.6M269.4 156.5h.6M280.8 157.3h.6M281.4 155.5h.6M276.2 149.5h.6M278.0 150.0h.6M268.8 154.2h.6M283.5 156.1h.6M265.2 156.1h.6M273.5 157.3h.6M275.9 150.8h.6M284.5 155.7h.6M267.3 155.1h.6M270.5 150.4h.6M280.7 149.5h.6M279.4 156.8h.6M261.5 153.6h.6M271.1 155.7h.6" stroke="#8a8a8a" stroke-width=".6" fill="none"/>
<path d="M250.4 140.3l-.7 0 -.5-.3 -.3-.2 -.4-.5 -.3-.5 -.2-.5 -.1-.7 0-.6 .1-.4 .2-.6 .3-.4 .4-.5 .5-.3 .5-.2 .7 0 .7 .2 .4 .2 .5 .4 .2 .4 .3 .5 .1 .7 -.1 .8 -.1 .5 -.3 .5 -.3 .5 -.4 .3 -.4 .4 -.6 .3 M273.6 145.6l-.7 0 -.6 0 -.7-.1 -.7 0 -.7-.1 -.7-.1 -.6-.1 -.7-.2 -.6-.1 -.4-.1 -.6-.2 -.6-.3 -.5-.3 -.4-.2 -.5-.4 -.3-.4 -.3-.4 -.2-.6 .1-.7 .1-.5 .3-.5 .3-.4 .4-.3 .4-.4 .5-.4 .5-.2 .4-.3 .5-.3 .5-.2 .6-.2 .5-.2 .5-.2 .5-.2 .7-.2 .6-.1 .5-.1 .7-.2 .5-.1 .7-.1 .8-.1 .5-.1 .7-.1 .8 0 .8-.1 .7 0 .7 0 .8 .1 .8 0 .7 .1 .5 .1 .8 .1 .4 .1 .8 .2 .5 .2 .5 .1 .5 .3 .5 .2 .5 .3 .5 .4 .2 .3 .4 .5 .2 .6 0 .6 -.2 .6 -.3 .4 -.3 .4 -.3 .4 -.5 .4 -.4 .3 -.5 .3 -.4 .2 -.5 .3 -.5 .3 -.6 .2 -.5 .2 -.6 .2 -.4 .2 -.7 .2 -.6 .1 -.5 .1 -.8 .2 -.4 .1 -.8 .1 -.5 .1 -.7 .1 -.8 .1 -.8 0 -.7 0 M277.2 157.3l-.8 .2 -.8 0 -.7-.1 -.5-.1 -.6-.3 -.6-.2 -.5-.2 -.4-.3 -.4-.3 -.5-.4 -.2-.4 -.3-.5 -.1-.7 .1-.6 .3-.5 .2-.4 .5-.4 .4-.3 .5-.2 .6-.3 .5-.1 .6-.2 .7 0 .7-.1 .7 .1 .6 .1 .7 .1 .5 .2 .5 .2 .5 .3 .5 .3 .3 .4 .4 .4 .2 .6 0 .7 -.2 .5 -.2 .5 -.5 .5 -.3 .2 -.4 .4 -.6 .3 -.4 .2 -.6 .2 -.4 .2 M278.6 170.3l-.7 .1 -.7 .1 -.8 0 -.8 0 -.7 0 -.7-.1 -.8 0 -.5-.1 -.7-.1 -.7-.2 -.6-.1 -.5-.1 -.6-.2 -.6-.3 -.6-.2 -.4-.2 -.6-.3 -.4-.3 -.4-.3 -.4-.3 -.5-.4 -.3-.3 -.3-.4 -.3-.6 -.2-.4 -.1-.8 0-.8 .2-.7 .2-.5 .3-.4 .2-.4 .5-.4 .3-.3 .5-.4 .5-.3 .4-.3 .5-.3 .6-.2 .5-.2 .5-.2 .5-.2 .7-.2 .5-.1 .6-.1 .7-.2 .5-.1 .8-.1 .5-.1 .7-.1 .8 0 .7 .1 .5 .1 .8 .1 .4 .1 .8 .2 .5 .1 .6 .1 .7 .2 .4 .2 .6 .2 .5 .2 .6 .2 .5 .3 .4 .3 .4 .3 .6 .3 .3 .4 .4 .4 .3 .3 .3 .5 .2 .5 .2 .7 0 .6 0 .4 -.2 .8 -.3 .5 -.2 .4 -.3 .3 -.5 .5 -.3 .3 -.5 .4 -.4 .3 -.6 .3 -.4 .2 -.6 .2 -.4 .2 -.6 .2 -.5 .2 -.7 .2 -.5 .1 -.7 .1 -.6 .1 M253.2 169.1l-.8 .1 -.8 .1 -.7 0 -.7 0 -.8 0 -.8-.1 -.7-.1 -.5-.1 -.8-.2 -.4-.1 -.6-.2 -.4-.2 -.6-.3 -.4-.2 -.6-.3 -.4-.5 -.3-.2 -.4-.5 -.3-.5 -.1-.5 -.1-.7 .2-.6 .2-.5 .3-.5 .4-.4 .3-.3 .5-.3 .5-.3 .5-.3 .5-.2 .5-.2 .6-.2 .7-.2 .4-.1 .8-.1 .8-.1 .4 0 .8 0 .8 0 .4 0 .8 .1 .8 .1 .4 .1 .8 .2 .5 .1 .5 .2 .5 .2 .5 .3 .5 .2 .5 .4 .5 .4 .3 .2 .3 .5 .3 .5 .2 .5 0 .7 -.1 .6 -.3 .5 -.3 .5 -.4 .4 -.3 .3 -.4 .3 -.6 .3 -.4 .3 -.6 .2 -.4 .2 -.8 .2 -.5 .1 -.7 .1 M250.4 138.1l-.5-.2 -.3-.3 0-.8 .3-.4 .5-.2 .5 .1 .4 .5 -.1 .8 -.3 .3 -.5 .2 M276.4 144.3l-.8 .1 -.7 .1 -.7 0 -.8 0 -.8 0 -.7-.1 -.7 0 -.6-.1 -.7-.2 -.5-.1 -.7-.2 -.5-.2 -.5-.3 -.4-.3 -.4-.3 -.3-.4 -.2-.5 0-.6 .2-.6 .3-.4 .4-.4 .3-.3 .6-.4 .4-.3 .6-.2 .4-.2 .6-.2 .4-.2 .6-.2 .7-.2 .5-.1 .8-.2 .4-.1 .8-.1 .5-.1 .7 0 .8-.1 .8 0 .7 0 .7 0 .8 .1 .5 .1 .7 .1 .6 .1 .7 .2 .5 .2 .5 .2 .5 .2 .5 .4 .3 .3 .3 .5 .1 .7 -.2 .8 -.2 .3 -.4 .5 -.4 .3 -.5 .3 -.5 .3 -.5 .3 -.5 .2 -.5 .2 -.5 .2 -.5 .2 -.7 .2 -.6 .1 -.6 .1 -.6 .2 -.8 .1 M276.9 155.8l-.7 .2 -.8 0 -.8-.2 -.4-.1 -.6-.3 -.4-.4 -.3-.3 -.2-.7 .2-.7 .3-.3 .4-.4 .6-.2 .4-.2 .8-.1 .8 0 .7 .1 .5 .2 .5 .2 .5 .4 .3 .3 .2 .5 0 .5 -.3 .5 -.4 .5 -.5 .3 -.5 .2 M277.2 169.6l-.8 0 -.8 0 -.7 0 -.5 0 -.8-.1 -.7-.1 -.5-.1 -.8-.2 -.4-.1 -.6-.2 -.6-.2 -.5-.3 -.5-.3 -.4-.2 -.4-.3 -.6-.4 -.3-.3 -.4-.5 -.3-.5 -.2-.5 -.1-.5 .1-.8 .1-.4 .2-.6 .3-.4 .4-.5 .4-.3 .4-.3 .4-.4 .6-.2 .4-.3 .6-.2 .4-.2 .6-.2 .7-.2 .5-.1 .8-.1 .4-.1 .8-.1 .8 0 .7 0 .7 0 .8 .1 .8 0 .4 .1 .8 .2 .5 .1 .6 .1 .7 .3 .4 .2 .6 .2 .4 .3 .6 .3 .3 .3 .4 .3 .4 .4 .3 .4 .3 .4 .3 .6 .1 .6 -.1 .7 -.1 .6 -.3 .4 -.3 .6 -.3 .3 -.5 .4 -.3 .3 -.5 .3 -.5 .3 -.5 .2 -.5 .2 -.5 .2 -.7 .2 -.6 .2 -.6 .1 -.6 .1 -.8 .1 -.4 .1 M252.9 168.6l-.7 .1 -.8 .1 -.8 0 -.7 0 -.7-.1 -.8-.1 -.5-.1 -.7-.1 -.6-.2 -.5-.2 -.6-.2 -.5-.2 -.4-.3 -.4-.4 -.5-.3 -.3-.5 -.2-.4 -.2-.7 0-.7 .2-.5 .3-.5 .4-.4 .4-.3 .3-.3 .6-.3 .4-.3 .6-.2 .6-.2 .6-.2 .5-.1 .7-.1 .8-.1 .5 0 .7 0 .6 0 .7 .1 .7 .1 .6 .1 .7 .1 .5 .2 .5 .2 .6 .2 .5 .2 .4 .3 .5 .4 .4 .3 .3 .5 .3 .5 .1 .6 0 .7 -.2 .5 -.3 .5 -.3 .4 -.5 .3 -.3 .3 -.5 .3 -.5 .2 -.5 .2 -.7 .3 -.6 .1 -.5 .2 M274.9 143.6l-.7 0 -.8 0 -.5-.1 -.7 0 -.8-.2 -.5-.1 -.5-.2 -.6-.2 -.4-.2 -.5-.5 -.3-.5 0-.6 .2-.4 .4-.4 .3-.4 .4-.3 .5-.2 .5-.3 .5-.2 .7-.2 .5-.2 .6-.1 .7-.2 .5-.1 .8-.1 .7 0 .7-.1 .8 0 .8 .1 .7 .1 .6 0 .7 .2 .4 .2 .6 .2 .4 .3 .5 .4 .3 .5 0 .4 -.2 .6 -.3 .4 -.4 .4 -.3 .2 -.6 .3 -.4 .3 -.6 .2 -.5 .2 -.7 .2 -.5 .1 -.7 .2 -.6 .1 -.7 .1 -.7 0 M276.6 168.8l-.7 0 -.7 0 -.6 0 -.7-.1 -.7-.1 -.6-.1 -.6-.2 -.6-.2 -.5-.2 -.5-.2 -.5-.3 -.5-.3 -.4-.3 -.4-.3 -.3-.5 -.3-.4 -.2-.6 0-.7 .1-.5 .3-.6 .2-.4 .5-.5 .3-.3 .4-.3 .6-.3 .4-.2 .6-.2 .4-.2 .8-.2 .5-.1 .7-.2 .6 0 .7-.1 .7 0 .8 0 .8 0 .5 .1 .7 .1 .7 .2 .5 .1 .6 .2 .4 .2 .6 .2 .5 .3 .5 .3 .4 .3 .4 .4 .4 .4 .2 .6 .2 .4 0 .8 -.2 .6 -.2 .5 -.3 .4 -.5 .5 -.3 .2 -.4 .3 -.5 .3 -.5 .2 -.5 .2 -.8 .3 -.4 .1 -.6 .2 -.7 .1 -.7 .1 -.6 0 M251.4 168.3l-.8 .1 -.7-.1 -.5 0 -.8-.1 -.7-.1 -.5-.1 -.5-.2 -.6-.2 -.6-.3 -.4-.3 -.4-.2 -.5-.5 -.2-.4 -.3-.5 -.1-.6 .1-.6 .3-.5 .2-.4 .5-.5 .4-.2 .4-.3 .5-.3 .7-.2 .5-.2 .5-.1 .7-.1 .6-.1 .7-.1 .7 0 .8 .1 .5 0 .7 .1 .6 .2 .7 .1 .5 .2 .5 .2 .5 .3 .5 .3 .4 .3 .3 .4 .3 .4 .3 .5 0 .7 -.1 .6 -.3 .4 -.4 .5 -.4 .3 -.4 .3 -.4 .3 -.6 .2 -.5 .2 -.7 .2 -.5 .1 -.7 .1 -.6 .1 M275.9 142.6l-.7 0 -.8 0 -.8 0 -.4-.1 -.8-.1 -.5-.2 -.5-.2 -.4-.4 -.2-.6 .2-.4 .4-.4 .5-.4 .5-.2 .5-.2 .5-.2 .5-.2 .7-.1 .8-.1 .5 0 .7 0 .8 0 .5 .1 .7 .1 .6 .2 .4 .3 .4 .3 .2 .5 -.2 .5 -.4 .4 -.4 .4 -.5 .2 -.5 .2 -.6 .2 -.4 .1 -.8 .2 -.5 .1 M276.6 168.1l-.7 0 -.7 0 -.6-.1 -.7-.1 -.7-.1 -.6-.1 -.4-.2 -.6-.2 -.5-.3 -.5-.2 -.4-.4 -.4-.4 -.4-.4 -.2-.6 -.1-.4 .1-.6 .2-.5 .3-.5 .5-.4 .3-.3 .4-.3 .5-.2 .6-.2 .6-.3 .6-.1 .7-.1 .5-.1 .8-.1 .7 0 .7 0 .8 .1 .5 .1 .7 .2 .6 .1 .4 .2 .6 .2 .5 .2 .5 .4 .4 .4 .3 .3 .3 .5 .2 .4 0 .8 -.1 .5 -.3 .5 -.4 .4 -.3 .4 -.4 .2 -.5 .3 -.5 .2 -.6 .3 -.7 .1 -.4 .2 -.8 .1 -.6 0 M252.2 167.8l-.8 .1 -.8 .1 -.7-.1 -.7 0 -.6-.1 -.7-.2 -.5-.1 -.5-.2 -.6-.3 -.4-.2 -.5-.4 -.4-.4 -.3-.4 -.1-.6 0-.7 .2-.5 .4-.4 .3-.4 .4-.2 .5-.3 .5-.2 .6-.3 .7-.1 .4-.1 .8-.1 .8-.1 .7 0 .7 .1 .8 .1 .5 .1 .5 .1 .7 .3 .5 .2 .5 .3 .4 .2 .4 .5 .3 .3 .2 .6 0 .6 -.1 .6 -.3 .4 -.4 .4 -.4 .4 -.5 .2 -.5 .3 -.6 .2 -.4 .1 -.8 .2 M277.4 167.1l-.8 .1 -.7 0 -.7 0 -.8-.1 -.5-.1 -.7-.2 -.6-.2 -.4-.2 -.5-.4 -.3-.2 -.4-.5 -.2-.5 0-.8 .3-.4 .3-.4 .5-.4 .4-.2 .5-.3 .6-.2 .5-.1 .7-.1 .6-.1 .7 0 .5 0 .8 .1 .7 .1 .5 .2 .5 .2 .5 .2 .5 .3 .4 .4 .3 .5 .2 .5 -.1 .7 -.3 .6 -.2 .3 -.6 .4 -.4 .2 -.6 .2 -.4 .2 -.7 .1 M252.4 167.3l-.8 .1 -.7 .1 -.7 0 -.8 0 -.8-.2 -.4-.1 -.6-.2 -.6-.2 -.4-.2 -.4-.4 -.5-.4 -.2-.5 -.1-.5 .1-.5 .2-.5 .5-.4 .4-.4 .4-.2 .6-.2 .6-.2 .4-.1 .8-.2 .8 0 .7 0 .7 0 .8 .2 .5 .1 .5 .2 .6 .2 .4 .2 .5 .4 .4 .4 .2 .5 .1 .7 -.2 .6 -.3 .4 -.5 .4 -.4 .3 -.6 .2 -.4 .2 -.7 .2 M252.4 166.8l-.8 .2 -.7 0 -.7 0 -.8 0 -.8-.2 -.4-.1 -.6-.2 -.4-.3 -.5-.4 -.3-.4 -.1-.6 .1-.6 .3-.4 .5-.4 .4-.3 .6-.2 .4-.1 .8-.2 .8 0 .4-.1 .6 .1 .7 .1 .5 .1 .8 .2 .4 .3 .4 .3 .4 .3 .2 .5 .1 .6 -.2 .6 -.3 .3 -.6 .4 -.4 .2 -.6 .2 M276.9 165.9l-.7 .1 -.8 0 -.8-.2 -.4-.1 -.6-.3 -.3-.4 -.2-.4 .1-.6 .4-.4 .6-.3 .4-.1 .7-.2 .6 0 .5 .1 .8 .1 .4 .2 .6 .3 .2 .3 .1 .8 -.3 .5 -.5 .3 -.5 .2 M251.9 166.3l-.7 .2 -.8 0 -.8-.1 -.7-.1 -.5-.2 -.5-.3 -.3-.2 -.3-.6 .1-.7 .2-.3 .6-.4 .4-.2 .6-.2 .7-.1 .7 0 .8 .1 .7 .1 .5 .2 .5 .3 .3 .2 .3 .6 -.1 .6 -.2 .4 -.5 .3 -.5 .3 -.5 .1" fill="none" stroke="#1a1a1a" stroke-width="0.6"/>
<rect x="261.4" y="130.8" width="34" height="17.4" fill="none" stroke="#111" stroke-width="1.2" />
<rect x="261.4" y="150.4" width="34" height="22.2" fill="none" stroke="#111" stroke-width="1.2" />
<text x="243.4" y="101.5" font-size="8" fill="#111" text-anchor="start" font-weight="normal" stroke="#111" stroke-width="0.18" >donor #154</text>
<text x="0" y="0" font-size="8.3" fill="#111" stroke="#111" stroke-width="0.18" text-anchor="middle" dominant-baseline="central" transform="translate(227.2,146.4) rotate(-90)">KIR3DL1</text>
<text x="239.4" y="187.4" font-size="7.95" fill="#111" text-anchor="start" font-weight="normal" stroke="#111" stroke-width="0.17" >KIR2DL2/L3/S2 (GL183)</text>
<polyline points="295.4,130.8 318.4,106.6 440,106.6" stroke="#000" stroke-width="1.2" fill="none" stroke-linejoin="round" />
<polygon points="446,106.6 439.5,104.4 439.5,108.8" fill="#111"/>
<polyline points="295.4,158.6 321.1,171.9 342.5,171.9" stroke="#000" stroke-width="1.2" fill="none" stroke-linejoin="round" />
<polygon points="348.6,171.9 342.1,169.7 342.1,174.1" fill="#111"/>
<rect x="343.8" y="104.5" width="84.6" height="69.9" fill="none" stroke="#777" stroke-width="0.8" />
<path d="M348.88 174.4v2M343.8 170.21h-2M354.99 174.4v1.1M343.8 165.16h-1.1M358.56 174.4v1.1M343.8 162.2h-1.1M361.1 174.4v1.1M343.8 160.11h-1.1M363.07 174.4v1.1M343.8 158.48h-1.1M364.68 174.4v1.1M343.8 157.15h-1.1M366.03 174.4v1.1M343.8 156.03h-1.1M367.21 174.4v1.1M343.8 155.06h-1.1M368.25 174.4v1.1M343.8 154.2h-1.1M369.18 174.4v2M343.8 153.43h-2M375.29 174.4v1.1M343.8 148.38h-1.1M378.87 174.4v1.1M343.8 145.43h-1.1M381.4 174.4v1.1M343.8 143.33h-1.1M383.37 174.4v1.1M343.8 141.7h-1.1M384.98 174.4v1.1M343.8 140.38h-1.1M386.34 174.4v1.1M343.8 139.25h-1.1M387.52 174.4v1.1M343.8 138.28h-1.1M388.55 174.4v1.1M343.8 137.42h-1.1M389.48 174.4v2M343.8 136.65h-2M395.6 174.4v1.1M343.8 131.6h-1.1M399.17 174.4v1.1M343.8 128.65h-1.1M401.71 174.4v1.1M343.8 126.55h-1.1M403.68 174.4v1.1M343.8 124.93h-1.1M405.28 174.4v1.1M343.8 123.6h-1.1M406.64 174.4v1.1M343.8 122.48h-1.1M407.82 174.4v1.1M343.8 121.5h-1.1M408.86 174.4v1.1M343.8 120.65h-1.1M409.79 174.4v2M343.8 119.88h-2M343.8 174.4v1.1M343.8 174.4h-1.1M345.49 174.4v1.1M343.8 173h-1.1M347.18 174.4v1.1M343.8 171.6h-1.1" stroke="#555" stroke-width="0.45" fill="none"/>
<path d="M362.1 150.4h.6M365.7 157.5h.6M363.3 148.2h.6M366.1 140.2h.6M375.3 137.1h.6M367.0 153.9h.6M365.9 144.3h.6M365.1 157.3h.6M371.5 149.5h.6M370.9 150.3h.6M383.4 129.2h.6M365.1 157.6h.6M370.4 150.0h.6M379.8 131.8h.6M373.3 135.7h.6M375.2 137.6h.6M366.3 143.0h.6M370.8 138.8h.6M372.0 136.7h.6M365.0 158.4h.6M368.9 138.3h.6M370.2 149.5h.6M377.6 136.1h.6M378.2 134.7h.6M375.4 136.3h.6M373.2 146.2h.6M371.6 151.6h.6M371.3 151.1h.6M377.0 134.9h.6M378.0 128.5h.6M369.7 139.1h.6M369.6 140.3h.6M373.7 131.0h.6M369.3 151.6h.6M360.1 152.8h.6M370.3 150.3h.6M360.2 157.0h.6M361.5 147.7h.6M378.4 132.7h.6M371.3 138.2h.6M366.8 138.4h.6M369.9 155.4h.6M359.4 156.0h.6M376.5 135.3h.6M371.6 138.4h.6M375.3 136.4h.6M366.9 142.9h.6M361.0 156.5h.6M368.2 139.9h.6M374.8 134.8h.6M373.5 135.4h.6M376.2 142.5h.6M364.5 157.6h.6M377.9 129.7h.6M363.6 149.0h.6M370.9 149.7h.6M362.4 158.9h.6M371.1 135.1h.6M364.0 147.3h.6M378.9 138.6h.6M366.3 156.9h.6M373.9 143.4h.6M370.9 138.6h.6M362.3 158.6h.6M374.5 144.5h.6M371.3 149.5h.6M361.3 158.9h.6M367.4 143.1h.6M373.7 132.8h.6M361.7 151.8h.6M371.6 147.0h.6M361.7 160.3h.6M373.0 137.0h.6M361.9 154.2h.6M368.3 140.5h.6M374.9 144.7h.6M365.7 155.8h.6M371.4 138.9h.6M378.0 129.5h.6M373.0 145.3h.6M374.7 131.3h.6M363.8 160.8h.6M367.8 141.3h.6M377.9 138.0h.6M378.6 137.9h.6M360.1 156.7h.6M371.0 138.7h.6M364.9 145.2h.6M367.0 155.7h.6M373.0 144.9h.6M376.1 132.6h.6M367.8 142.3h.6M368.2 154.1h.6M365.8 146.2h.6M366.0 157.2h.6M373.3 148.7h.6M361.0 154.3h.6M370.7 149.1h.6M375.5 141.9h.6M374.3 136.4h.6M360.8 154.6h.6M373.6 137.2h.6M368.6 151.5h.6M374.2 142.4h.6M363.5 148.3h.6M363.2 144.9h.6M374.6 140.8h.6M364.9 143.3h.6M375.7 142.7h.6M370.7 149.4h.6M359.8 157.0h.6M365.2 158.6h.6M367.5 142.3h.6M370.6 151.7h.6M360.8 157.2h.6M367.7 140.3h.6M375.4 137.0h.6M372.9 146.3h.6M375.9 132.8h.6M375.7 139.6h.6M377.5 138.5h.6M373.3 144.4h.6M363.1 159.6h.6M379.4 134.9h.6M376.7 134.3h.6M376.1 145.1h.6M374.3 136.9h.6M362.9 158.1h.6M374.3 142.5h.6M361.7 153.3h.6M373.8 134.5h.6M378.9 139.9h.6M360.8 156.8h.6M375.0 138.7h.6M362.2 161.9h.6M370.2 149.9h.6M379.5 134.5h.6M379.0 135.8h.6M381.0 134.7h.6M375.0 138.7h.6M375.6 136.3h.6M373.3 146.5h.6M361.0 156.5h.6M366.6 140.7h.6M364.2 144.4h.6M374.0 134.0h.6M362.5 160.3h.6M363.4 159.1h.6M375.0 140.3h.6M374.3 138.0h.6M366.9 155.3h.6M363.3 157.4h.6M360.1 156.6h.6M375.0 137.9h.6M361.6 157.8h.6M371.8 146.5h.6M365.9 156.3h.6M370.6 149.5h.6M375.1 139.7h.6M376.0 142.3h.6M375.4 139.6h.6M361.1 151.6h.6M371.3 139.4h.6M363.6 148.1h.6M376.1 143.2h.6M378.1 140.3h.6M374.3 134.2h.6M378.0 133.6h.6M374.1 143.5h.6M361.9 160.7h.6M377.6 139.8h.6M371.7 138.2h.6M374.2 141.8h.6M363.5 158.0h.6M372.6 137.9h.6M375.4 140.1h.6M368.4 152.0h.6M361.7 150.1h.6M375.6 138.5h.6M362.3 151.3h.6M367.4 143.5h.6M371.4 150.1h.6M369.2 141.8h.6M367.6 143.1h.6M359.0 132.6h.6M355.9 146.6h.6M360.5 136.2h.6M360.9 144.6h.6M355.8 143.1h.6M356.1 156.6h.6M354.6 141.6h.6M361.4 142.0h.6M353.9 144.0h.6M359.6 142.1h.6M360.8 147.1h.6M359.7 155.9h.6M356.3 155.4h.6M356.4 138.1h.6M361.0 147.8h.6M355.3 151.9h.6M360.3 144.3h.6M360.1 142.9h.6M361.0 155.6h.6M358.7 138.9h.6M355.3 146.7h.6M355.9 142.5h.6M355.3 151.2h.6M355.0 154.8h.6M354.7 153.5h.6M356.9 138.1h.6M357.9 137.4h.6M361.1 153.3h.6M361.9 149.2h.6M360.5 154.5h.6M355.8 153.4h.6M355.9 154.9h.6M361.1 148.7h.6M360.9 152.8h.6M360.1 145.0h.6M362.1 144.0h.6M354.8 143.8h.6M354.3 157.1h.6M355.2 152.4h.6M358.7 141.8h.6M361.0 142.5h.6M354.4 148.2h.6M355.7 153.8h.6M358.0 140.0h.6M356.5 143.1h.6M355.7 149.2h.6M360.5 148.7h.6M359.4 134.6h.6M360.4 154.9h.6M360.1 143.7h.6M355.8 149.0h.6M360.8 157.4h.6M360.2 154.8h.6M359.9 144.2h.6M355.3 144.7h.6M360.1 139.8h.6M355.7 139.3h.6M360.5 139.2h.6M356.8 137.0h.6M361.0 151.6h.6M355.8 142.6h.6M359.1 141.4h.6M356.7 138.0h.6M355.7 149.9h.6M354.4 156.6h.6M360.7 156.9h.6M356.0 156.8h.6M354.8 142.1h.6M356.3 142.7h.6M359.6 142.3h.6M356.2 136.3h.6M359.9 139.6h.6M360.7 150.2h.6M358.0 130.7h.6M355.9 150.6h.6M360.6 142.0h.6M356.6 141.0h.6M355.7 154.4h.6M361.2 151.4h.6M356.5 141.3h.6M357.7 140.5h.6M356.0 146.4h.6M361.2 147.5h.6M360.4 153.0h.6M361.0 142.9h.6M361.8 168.6h.6M355.4 172.0h.6M354.4 155.2h.6M365.1 165.9h.6M362.8 159.5h.6M360.0 167.5h.6M355.2 154.8h.6M353.8 168.7h.6M353.4 154.0h.6M359.3 168.8h.6M365.0 167.0h.6M362.8 160.7h.6M349.7 158.4h.6M367.3 163.8h.6M356.5 169.1h.6M348.4 160.4h.6M351.3 157.7h.6M360.7 168.1h.6M349.6 164.1h.6M346.6 165.5h.6M358.3 168.7h.6M349.4 160.7h.6M365.6 163.2h.6M352.2 158.5h.6M348.1 163.1h.6M345.7 155.6h.6M350.0 156.4h.6M355.6 154.0h.6M363.9 165.4h.6M367.1 163.0h.6M365.8 157.5h.6M363.9 162.6h.6M350.4 156.3h.6M348.5 165.2h.6M346.0 160.5h.6M344.8 157.3h.6M365.4 165.8h.6M349.8 169.6h.6M348.8 159.1h.6M364.5 158.1h.6M361.5 167.5h.6M354.5 157.4h.6M360.7 167.8h.6M362.7 161.1h.6M357.6 170.1h.6M356.4 170.3h.6M353.4 168.6h.6M352.2 167.5h.6M366.2 160.7h.6M347.9 166.9h.6M367.5 166.2h.6M362.4 164.7h.6M359.7 157.1h.6M364.4 159.8h.6M348.4 161.8h.6M349.3 164.4h.6M364.7 165.4h.6M344.6 164.8h.6M359.2 173.1h.6M350.2 160.9h.6M351.1 169.5h.6M360.0 171.8h.6M361.5 169.6h.6M354.9 156.3h.6M366.9 166.7h.6M350.9 155.9h.6M354.7 169.0h.6M355.6 171.3h.6M357.1 168.9h.6M364.8 167.4h.6M346.8 164.5h.6M352.1 157.6h.6M350.0 159.3h.6M354.0 171.7h.6M349.0 160.8h.6M364.2 170.6h.6M354.8 169.2h.6M363.0 166.8h.6M353.7 156.3h.6M349.0 165.2h.6M347.4 171.4h.6M352.8 173.3h.6M352.2 167.6h.6M348.7 161.4h.6M350.8 155.0h.6M358.0 169.5h.6M352.8 156.8h.6M350.2 160.8h.6M348.9 162.2h.6M357.8 172.2h.6M350.6 168.1h.6M362.9 161.0h.6M361.1 156.2h.6M368.8 164.7h.6M348.2 156.0h.6M365.0 159.4h.6M349.4 159.3h.6M347.6 172.3h.6M357.0 171.1h.6M349.7 166.2h.6M361.3 154.9h.6M349.2 164.2h.6M368.6 167.7h.6M361.6 166.8h.6M354.1 155.1h.6M361.4 157.6h.6M362.4 160.2h.6M351.4 170.7h.6M361.5 165.9h.6M356.4 154.1h.6M347.5 164.6h.6M353.7 169.6h.6M350.2 160.9h.6M353.0 167.9h.6M349.1 164.4h.6M353.5 155.5h.6M351.6 172.0h.6M349.8 157.6h.6M361.7 159.7h.6M353.2 157.7h.6M366.1 157.6h.6M363.3 158.3h.6M353.4 157.3h.6M362.6 159.8h.6M360.6 170.1h.6M363.4 162.9h.6M352.6 169.2h.6M359.5 169.3h.6M363.4 161.5h.6M350.2 164.9h.6M353.9 152.0h.6M351.0 167.5h.6M347.5 163.3h.6M349.4 155.7h.6M360.0 168.2h.6M351.9 152.4h.6M354.1 170.6h.6M356.1 172.4h.6M351.2 156.3h.6M352.8 158.1h.6M366.6 163.7h.6M349.8 165.8h.6M351.8 158.3h.6M352.4 156.7h.6M352.1 156.1h.6M365.0 155.5h.6M355.8 169.1h.6M363.9 161.7h.6M354.4 172.8h.6M367.2 164.6h.6M358.3 170.7h.6M353.3 156.6h.6M349.5 171.2h.6M360.5 168.8h.6M368.4 167.2h.6M345.5 168.7h.6M359.6 154.8h.6M365.0 166.0h.6M352.4 154.2h.6M354.5 157.3h.6M363.0 157.4h.6M355.5 157.0h.6M352.1 155.8h.6M350.3 158.7h.6M362.5 164.4h.6M349.0 165.9h.6M363.0 167.9h.6M346.5 162.4h.6M354.1 170.4h.6M350.3 169.0h.6M363.3 161.4h.6M347.5 157.6h.6M347.6 166.3h.6M351.1 152.8h.6M363.5 158.8h.6M364.2 167.6h.6M359.8 155.2h.6M361.8 167.1h.6M352.1 167.8h.6M346.2 159.9h.6M352.8 169.8h.6M352.5 155.2h.6M362.5 166.9h.6M363.6 169.2h.6" stroke="#8a8a8a" stroke-width=".6" fill="none"/>
<path d="M362.6 157.3l-.6-.1 -.2-.4 0-.8 .1-.5 .1-.7 .2-.6 .2-.4 .2-.6 .2-.5 .2-.6 .3-.6 .3-.5 .2-.5 .2-.5 .3-.5 .3-.4 .2-.5 .2-.4 .3-.4 .3-.6 .3-.4 .3-.6 .4-.4 .2-.4 .3-.4 .3-.5 .4-.5 .2-.4 .3-.4 .4-.4 .3-.5 .3-.3 .4-.5 .3-.4 .4-.3 .4-.5 .3-.3 .5-.4 .3-.4 .4-.3 .5-.3 .5-.3 .5-.3 .5 0 .5 .2 .2 .6 0 .7 -.2 .7 -.1 .6 -.1 .5 -.3 .7 -.2 .5 -.2 .5 -.2 .5 -.3 .5 -.2 .5 -.3 .5 -.2 .5 -.3 .5 -.3 .5 -.3 .5 -.2 .5 -.3 .4 -.3 .4 -.2 .5 -.4 .4 -.3 .6 -.3 .4 -.2 .3 -.4 .5 -.3 .5 -.3 .4 -.3 .3 -.4 .6 -.3 .4 -.3 .3 -.5 .5 -.2 .3 -.5 .5 -.3 .3 -.5 .4 -.3 .3 -.4 .4 -.5 .3 -.4 .3 -.4 .2 -.6 .2 M357.8 168.5l-.8 .1 -.7 .1 -.7-.1 -.7-.1 -.6-.2 -.5-.2 -.5-.2 -.5-.3 -.5-.4 -.3-.2 -.4-.5 -.3-.3 -.3-.4 -.3-.6 -.2-.4 -.2-.8 -.1-.5 0-.7 .1-.7 .1-.6 .2-.5 .3-.5 .3-.5 .3-.5 .3-.3 .5-.4 .3-.3 .4-.3 .6-.2 .4-.3 .7-.2 .6-.2 .5-.2 .5-.3 .4-.3 .3-.5 .1-.5 -.1-.5 -.1-.8 -.2-.4 -.1-.8 -.1-.5 -.1-.7 -.1-.8 0-.5 -.1-.7 0-.8 0-.8 .1-.7 0-.5 .1-.8 .1-.7 .1-.5 .2-.8 .1-.4 .2-.6 .3-.4 .4-.6 .2-.2 .8-.1 .4 .3 .4 .4 .2 .5 .2 .6 .2 .5 .1 .6 .2 .7 .1 .5 .1 .8 0 .7 .1 .7 0 .8 0 .8 -.1 .7 0 .7 -.1 .8 -.1 .5 -.1 .7 -.2 .6 -.2 .6 -.1 .6 -.2 .5 -.1 .7 .2 .7 .2 .4 .6 .4 .3 .3 .4 .5 .2 .5 .2 .5 .1 .5 .2 .6 .3 .6 .1 .6 .2 .6 0 .6 0 .6 -.2 .6 -.1 .6 -.3 .5 -.2 .5 -.3 .4 -.5 .5 -.2 .3 -.5 .4 -.5 .3 -.5 .3 -.5 .2 -.5 .2 -.5 .1 M363.6 155.8l-.6-.2 -.1-.6 0-.8 .1-.6 .2-.6 .2-.5 .2-.5 .2-.5 .2-.6 .3-.5 .3-.5 .2-.5 .2-.5 .3-.4 .3-.5 .3-.5 .3-.5 .3-.5 .3-.5 .2-.4 .3-.4 .4-.4 .3-.6 .3-.3 .3-.4 .4-.5 .3-.4 .3-.4 .4-.4 .3-.3 .5-.5 .2-.3 .6-.4 .3-.3 .4-.3 .5-.3 .7-.2 .3 .1 .3 .5 0 .7 -.1 .5 -.1 .8 -.2 .4 -.2 .6 -.2 .5 -.3 .6 -.2 .5 -.2 .5 -.3 .5 -.3 .5 -.2 .5 -.2 .4 -.3 .4 -.3 .6 -.3 .4 -.3 .6 -.4 .4 -.2 .4 -.3 .4 -.3 .5 -.4 .5 -.2 .3 -.4 .5 -.4 .4 -.2 .3 -.4 .5 -.4 .4 -.3 .4 -.5 .4 -.3 .3 -.4 .3 -.5 .4 -.5 .3 -.5 .2 M358.6 153.1l-.6-.3 -.2-.4 -.2-.6 -.2-.6 -.1-.7 -.1-.5 0-.8 0-.7 .1-.7 0-.6 .2-.7 .1-.5 .3-.5 .4-.5 .4 0 .3 .3 .3 .5 .2 .7 .1 .5 .1 .8 .1 .7 0 .7 0 .8 -.1 .8 -.1 .6 -.2 .6 -.2 .5 -.4 .5 M357.6 167.5l-.8 .1 -.8 0 -.7-.1 -.5-.1 -.5-.2 -.5-.2 -.5-.3 -.5-.4 -.3-.3 -.4-.5 -.3-.5 -.2-.5 -.2-.5 -.1-.8 .1-.7 .1-.7 .2-.6 .3-.4 .3-.5 .3-.3 .4-.5 .4-.3 .4-.2 .5-.2 .7-.3 .6-.2 .4-.1 .8-.1 .8 0 .7 .1 .5 .2 .5 .4 .3 .2 .4 .4 .3 .4 .4 .4 .2 .6 .3 .4 .1 .6 .2 .7 0 .7 -.1 .8 -.2 .5 -.2 .5 -.3 .5 -.4 .5 -.3 .2 -.4 .4 -.6 .4 -.4 .2 -.6 .2 -.4 .1 M364.8 154.5l-.8 .2 -.4-.5 0-.7 .2-.7 .1-.6 .2-.4 .2-.6 .3-.6 .2-.5 .2-.5 .3-.5 .3-.5 .2-.4 .3-.4 .3-.6 .3-.4 .3-.6 .3-.4 .3-.4 .3-.4 .3-.5 .4-.4 .2-.4 .4-.5 .4-.4 .3-.3 .4-.5 .3-.2 .4-.5 .4-.3 .4-.3 .5-.3 .7 0 .3 .4 .1 .7 -.1 .5 -.2 .8 -.2 .4 -.2 .6 -.2 .4 -.2 .6 -.3 .4 -.2 .6 -.3 .4 -.3 .6 -.3 .4 -.3 .6 -.3 .4 -.3 .5 -.2 .4 -.3 .4 -.3 .5 -.4 .5 -.2 .3 -.4 .4 -.4 .5 -.2 .3 -.5 .5 -.3 .4 -.4 .3 -.4 .4 -.4 .4 -.4 .2 -.4 .3 M357.0 166.8l-.7 0 -.6 0 -.7-.2 -.4-.2 -.6-.3 -.4-.3 -.3-.3 -.4-.5 -.3-.5 -.2-.5 -.1-.5 0-.7 0-.6 .3-.6 .2-.5 .3-.3 .4-.6 .3-.2 .5-.3 .5-.2 .7-.3 .5-.1 .8 0 .8 0 .4 .2 .6 .2 .4 .3 .5 .4 .3 .4 .2 .4 .3 .6 .2 .6 .1 .6 0 .5 -.2 .7 -.2 .5 -.3 .5 -.3 .5 -.3 .3 -.5 .3 -.5 .3 -.5 .2 -.7 .2 M365.3 153.6l-.7 .1 -.3-.5 0-.7 .1-.5 .2-.5 .2-.6 .2-.6 .3-.5 .2-.6 .3-.4 .2-.5 .3-.4 .3-.5 .2-.4 .3-.5 .4-.5 .3-.5 .2-.3 .4-.4 .4-.6 .2-.3 .4-.4 .4-.5 .3-.2 .5-.5 .3-.3 .4-.3 .5-.3 .8 0 .1 .6 -.1 .8 -.1 .4 -.2 .7 -.2 .6 -.3 .5 -.2 .5 -.3 .5 -.2 .5 -.3 .5 -.2 .4 -.3 .4 -.3 .4 -.3 .6 -.3 .4 -.4 .5 -.2 .3 -.4 .5 -.4 .5 -.2 .3 -.4 .5 -.4 .3 -.3 .4 -.4 .4 -.5 .3 -.4 .3 M356.8 166.0l-.8 0 -.4 0 -.6-.2 -.5-.3 -.5-.3 -.3-.4 -.3-.6 -.2-.4 -.1-.8 .1-.8 .2-.4 .3-.6 .3-.4 .5-.3 .4-.3 .7-.2 .4-.1 .8 0 .7 .1 .5 .2 .5 .3 .3 .3 .4 .4 .3 .6 .2 .4 .1 .8 -.2 .8 -.1 .4 -.4 .6 -.3 .3 -.5 .4 -.4 .3 -.6 .1 -.5 .1 M365.8 152.6l-.8 0 0-.6 0-.6 .2-.6 .2-.6 .2-.4 .3-.6 .2-.4 .3-.6 .3-.4 .3-.6 .3-.4 .3-.4 .2-.4 .4-.5 .3-.5 .3-.3 .4-.5 .4-.4 .2-.3 .5-.4 .4-.3 .3-.3 .8-.2 .2 .6 0 .3 -.2 .8 -.1 .5 -.2 .5 -.3 .5 -.2 .5 -.3 .5 -.2 .5 -.3 .5 -.3 .5 -.3 .5 -.3 .3 -.3 .4 -.4 .6 -.3 .4 -.3 .3 -.4 .5 -.3 .4 -.4 .4 -.3 .3 -.6 .3 M357.3 165.1l-.7 .1 -.8 0 -.5-.2 -.5-.3 -.4-.5 -.3-.4 -.1-.6 0-.7 .2-.5 .4-.4 .3-.4 .4-.2 .7-.2 .6-.1 .4 .1 .6 .2 .4 .3 .5 .5 .2 .4 .2 .6 -.1 .7 -.2 .5 -.3 .4 -.4 .4 -.4 .2 M366.3 151.6l-.5-.1 -.1-.7 .2-.6 .1-.5 .3-.6 .3-.5 .2-.4 .2-.5 .3-.5 .4-.4 .3-.6 .3-.4 .3-.3 .4-.5 .3-.4 .3-.4 .4-.3 .6-.4 .4-.1 .3 .4 0 .4 -.2 .8 -.2 .5 -.3 .5 -.2 .5 -.3 .5 -.3 .5 -.2 .4 -.3 .4 -.3 .5 -.4 .4 -.3 .5 -.3 .3 -.4 .5 -.3 .3 -.5 .4 -.4 .3 M356.6 164.3l-.6-.1 -.4-.2 -.5-.5 -.1-.5 .1-.5 .4-.5 .5-.2 .6-.1 .4 .1 .6 .4 .2 .5 0 .5 -.2 .5 -.3 .3 -.7 .2 M367.0 150.4l-.5-.2 .1-.6 .2-.6 .2-.5 .3-.5 .2-.5 .3-.4 .2-.4 .4-.5 .4-.4 .2-.4 .5-.4 .3-.3 .7 .1 -.1 .7 -.2 .5 -.2 .5 -.3 .5 -.3 .5 -.3 .5 -.3 .5 -.2 .3 -.4 .4 -.4 .5 -.3 .3 -.5 .4" fill="none" stroke="#1a1a1a" stroke-width="0.6"/>
<text x="0" y="0" font-size="8.3" fill="#111" stroke="#111" stroke-width="0.18" text-anchor="middle" dominant-baseline="central" transform="translate(335.1,138.3) rotate(-90)">2DL3/S2 (1F12)</text>
<text x="353.7" y="187.4" font-size="8.1" fill="#111" text-anchor="start" font-weight="normal" stroke="#111" stroke-width="0.18" >KIR2DL3 (180701)</text>
<rect x="432" y="104.5" width="82.8" height="68.9" fill="none" stroke="#777" stroke-width="0.8" />
<path d="M436.97 173.4v2M432 169.27h-2M442.95 173.4v1.1M432 164.29h-1.1M446.45 173.4v1.1M432 161.38h-1.1M448.93 173.4v1.1M432 159.31h-1.1M450.86 173.4v1.1M432 157.71h-1.1M452.43 173.4v1.1M432 156.4h-1.1M453.76 173.4v1.1M432 155.29h-1.1M454.91 173.4v1.1M432 154.33h-1.1M455.93 173.4v1.1M432 153.49h-1.1M456.84 173.4v2M432 152.73h-2M462.82 173.4v1.1M432 147.75h-1.1M466.32 173.4v1.1M432 144.84h-1.1M468.8 173.4v1.1M432 142.77h-1.1M470.73 173.4v1.1M432 141.17h-1.1M472.3 173.4v1.1M432 139.86h-1.1M473.63 173.4v1.1M432 138.76h-1.1M474.79 173.4v1.1M432 137.8h-1.1M475.8 173.4v1.1M432 136.95h-1.1M476.71 173.4v2M432 136.19h-2M482.69 173.4v1.1M432 131.22h-1.1M486.19 173.4v1.1M432 128.3h-1.1M488.68 173.4v1.1M432 126.24h-1.1M490.6 173.4v1.1M432 124.64h-1.1M492.18 173.4v1.1M432 123.33h-1.1M493.51 173.4v1.1M432 122.22h-1.1M494.66 173.4v1.1M432 121.26h-1.1M495.67 173.4v1.1M432 120.41h-1.1M496.58 173.4v2M432 119.66h-2M432 173.4v1.1M432 173.4h-1.1M433.66 173.4v1.1M432 172.02h-1.1M435.31 173.4v1.1M432 170.64h-1.1" stroke="#555" stroke-width="0.45" fill="none"/>
<path d="M433.8 141.6h.6M457.8 155.1h.6M437.2 139.0h.6M456.4 135.7h.6M456.2 149.9h.6M450.6 158.8h.6M453.4 158.6h.6M439.0 136.2h.6M437.4 153.0h.6M435.8 142.9h.6M451.8 154.4h.6M446.7 135.8h.6M438.4 132.1h.6M461.9 155.4h.6M439.9 136.1h.6M455.8 160.9h.6M452.8 138.7h.6M436.7 155.9h.6M442.3 137.5h.6M439.7 139.1h.6M461.8 154.6h.6M444.4 135.7h.6M446.6 133.6h.6M435.7 130.1h.6M440.3 157.9h.6M452.3 155.6h.6M450.3 161.0h.6M438.4 140.7h.6M448.0 126.5h.6M455.6 153.1h.6M446.0 132.3h.6M438.3 136.6h.6M451.4 154.1h.6M463.9 137.4h.6M457.2 153.4h.6M440.8 137.5h.6M461.4 146.0h.6M443.5 137.7h.6M450.8 132.7h.6M435.5 129.4h.6M439.9 161.8h.6M433.1 152.0h.6M440.4 156.6h.6M434.8 148.5h.6M436.8 138.6h.6M434.4 148.5h.6M436.7 137.9h.6M438.9 159.3h.6M450.3 136.3h.6M439.0 155.0h.6M436.0 136.5h.6M442.2 133.7h.6M461.2 149.3h.6M463.7 145.5h.6M443.8 135.9h.6M457.3 146.6h.6M435.0 160.8h.6M460.7 152.3h.6M435.7 150.9h.6M443.4 156.5h.6M463.4 136.2h.6M444.4 156.1h.6M441.1 137.3h.6M432.8 137.1h.6M433.4 145.8h.6M459.5 147.4h.6M450.9 127.5h.6M433.3 155.7h.6M451.3 155.4h.6M437.1 155.7h.6M450.2 156.9h.6M453.3 152.3h.6M437.8 154.3h.6M442.9 160.9h.6M434.6 150.5h.6M451.7 133.0h.6M434.9 146.7h.6M436.1 134.0h.6M452.3 139.9h.6M457.7 147.2h.6M456.8 161.1h.6M449.4 156.4h.6M434.7 163.6h.6M455.7 150.8h.6M453.2 156.3h.6M456.0 155.3h.6M454.4 152.7h.6M441.5 155.3h.6M448.1 161.6h.6M459.9 155.8h.6M453.2 152.5h.6M450.4 134.0h.6M458.0 153.1h.6M435.9 147.0h.6M445.9 156.0h.6M445.0 157.0h.6M455.1 148.8h.6M432.9 136.8h.6M444.8 157.3h.6M434.7 159.2h.6M458.4 138.6h.6M457.1 133.3h.6M435.3 151.6h.6M454.6 152.3h.6M441.1 158.6h.6M438.0 166.7h.6M461.8 143.5h.6M435.2 144.4h.6M435.3 144.8h.6M434.3 156.2h.6M434.5 165.1h.6M456.4 138.7h.6M435.2 142.0h.6M436.3 153.1h.6M436.6 161.1h.6M433.4 136.8h.6M436.0 136.0h.6M458.1 149.9h.6M461.5 130.9h.6M455.3 138.8h.6M446.3 136.3h.6M453.9 129.8h.6M448.3 157.3h.6M443.6 158.5h.6M434.5 146.5h.6M458.9 153.4h.6M450.1 168.2h.6M446.4 133.2h.6M443.8 131.2h.6M453.8 155.1h.6M437.9 128.9h.6M454.0 140.5h.6M452.3 159.7h.6M448.9 157.8h.6M447.3 137.4h.6M444.7 133.9h.6M434.7 143.4h.6M451.6 135.5h.6M435.7 143.1h.6M447.4 157.2h.6M436.2 151.2h.6M437.6 138.2h.6M443.4 137.7h.6M446.6 134.4h.6M435.5 158.8h.6M445.2 127.4h.6M446.2 157.7h.6M449.2 137.7h.6M449.2 157.7h.6M458.3 135.2h.6M440.3 130.6h.6M450.6 138.5h.6M456.0 139.6h.6M456.0 154.8h.6M435.9 140.2h.6M449.6 134.1h.6M440.6 161.0h.6M456.1 156.9h.6M455.3 158.0h.6M450.8 135.4h.6M452.7 156.1h.6M453.9 138.3h.6M450.3 155.5h.6M452.4 133.3h.6M436.1 148.1h.6M447.6 137.6h.6M450.3 155.6h.6M454.9 139.0h.6M457.6 136.9h.6M436.5 153.3h.6M450.9 155.6h.6M439.7 134.6h.6M459.9 146.2h.6M447.4 137.2h.6M439.3 135.8h.6M452.2 131.8h.6M442.7 131.4h.6M452.3 134.6h.6M458.6 156.3h.6M447.3 130.6h.6M441.4 134.0h.6M434.3 150.5h.6M437.4 157.9h.6M459.8 148.8h.6M452.4 155.5h.6M466.2 150.0h.6M454.9 156.7h.6M441.4 135.9h.6M457.0 147.2h.6M470.9 143.6h.6M442.0 136.7h.6M433.8 145.2h.6M445.8 128.3h.6M450.0 131.6h.6M444.1 119.8h.6M456.8 146.9h.6M434.4 131.0h.6M437.5 139.0h.6M460.2 146.4h.6M458.4 139.2h.6M464.9 139.9h.6M466.6 133.2h.6M458.3 137.6h.6M458.8 145.2h.6M468.4 137.2h.6M464.2 139.4h.6M460.6 138.2h.6M460.9 144.0h.6M464.7 140.1h.6M456.8 139.5h.6M457.5 147.5h.6M460.9 137.7h.6M465.8 138.9h.6M462.8 136.7h.6M460.8 137.2h.6M459.7 136.2h.6M462.1 144.5h.6M460.4 145.8h.6M454.6 141.4h.6M462.0 137.4h.6M468.1 139.4h.6M466.4 139.4h.6M457.4 138.5h.6M465.3 138.9h.6M455.1 139.8h.6M464.0 142.8h.6M463.7 139.3h.6M459.0 137.9h.6M457.3 147.2h.6M468.6 139.7h.6M464.5 143.6h.6M441.6 170.7h.6M446.5 171.3h.6M443.1 160.6h.6M436.4 169.9h.6M444.2 160.7h.6M437.5 163.2h.6M441.1 162.8h.6M440.3 168.4h.6M450.6 171.1h.6M450.4 167.3h.6M450.8 165.5h.6M440.5 163.1h.6M450.6 166.9h.6M438.6 170.5h.6M442.6 161.6h.6M442.1 170.5h.6M450.5 165.7h.6M450.0 163.1h.6M444.3 158.0h.6M456.0 166.9h.6M449.2 170.8h.6M448.9 169.4h.6M440.7 169.1h.6M447.6 160.6h.6M435.4 161.7h.6M441.2 158.6h.6M453.2 168.2h.6M449.0 161.3h.6M444.2 158.5h.6M450.8 162.6h.6M449.3 170.0h.6M443.8 160.3h.6M438.9 161.7h.6M439.7 163.8h.6M440.6 168.0h.6M449.5 169.5h.6M449.7 167.1h.6M449.7 163.2h.6M444.1 170.5h.6M446.3 159.4h.6M450.2 164.1h.6M440.9 161.8h.6M450.4 163.8h.6M453.6 164.6h.6M446.8 157.7h.6M450.7 163.1h.6M440.4 167.7h.6M436.5 162.6h.6M451.0 167.3h.6M448.0 159.4h.6M440.6 168.0h.6M450.8 157.0h.6M452.6 165.0h.6M443.8 160.2h.6M449.6 167.2h.6M447.7 158.6h.6M444.1 171.2h.6M453.6 169.2h.6M444.6 170.3h.6" stroke="#8a8a8a" stroke-width=".6" fill="none"/>
<path d="M446.0 156.0l-.7 0 -.5 0 -.8-.1 -.5-.2 -.7-.2 -.6-.2 -.4-.2 -.6-.2 -.4-.3 -.5-.4 -.3-.2 -.5-.4 -.4-.4 -.3-.4 -.3-.3 -.4-.5 -.3-.5 -.3-.5 -.2-.5 -.2-.5 -.2-.5 -.1-.5 -.2-.8 -.1-.7 0-.5 0-.6 0-.6 .2-.8 .1-.5 .2-.7 .2-.6 .2-.4 .3-.6 .3-.4 .2-.4 .3-.4 .5-.5 .2-.3 .6-.4 .3-.3 .4-.3 .5-.3 .5-.3 .5-.2 .5-.2 .5-.2 .8-.2 .4-.1 .8-.1 .8 0 .7 0 .7 .1 .6 .1 .6 .2 .6 .2 .5 .2 .5 .3 .5 .2 .5 .3 .3 .3 .5 .4 .4 .3 .3 .4 .4 .4 .3 .4 .5 .4 .5 0 .6-.2 .4-.3 .4-.3 .4-.2 .5-.4 .5-.3 .5-.3 .5-.3 .5-.2 .5-.2 .5-.2 .5-.2 .8-.1 .4-.1 .8-.1 .6 .1 .6 .2 .5 .3 .3 .4 .1 .6 -.1 .7 -.2 .5 -.3 .5 -.3 .4 -.3 .4 -.4 .4 -.3 .3 -.4 .4 -.6 .4 -.4 .2 -.4 .3 -.4 .3 -.5 .2 -.5 .2 -.6 .3 -.6 .2 -.6 .2 -.4 .2 -.6 .2 -.4 .2 -.6 .5 -.2 .5 -.1 .5 -.1 .5 -.2 .7 -.2 .6 -.2 .4 -.2 .6 -.2 .5 -.3 .5 -.4 .4 -.3 .5 -.3 .3 -.5 .5 -.3 .3 -.5 .4 -.4 .3 -.4 .3 -.5 .2 -.5 .2 -.6 .3 -.6 .2 -.4 .1 -.8 .1 -.8 .1 M447.0 169.8l-.8 .2 -.7 0 -.7-.1 -.6-.1 -.6-.3 -.4-.3 -.4-.3 -.5-.4 -.3-.4 -.2-.4 -.3-.5 -.3-.7 -.1-.5 0-.8 .1-.7 .1-.5 .2-.5 .3-.5 .3-.5 .4-.4 .4-.3 .4-.3 .5-.3 .6-.2 .6-.2 .8 0 .7 .1 .6 .1 .6 .2 .4 .3 .4 .3 .5 .4 .3 .3 .3 .5 .3 .5 .2 .5 .1 .8 .1 .4 0 .8 -.1 .5 -.2 .5 -.2 .6 -.3 .4 -.4 .5 -.3 .3 -.6 .4 -.4 .3 -.6 .2 M446.2 154.8l-.7 0 -.5 0 -.8-.1 -.6-.2 -.6-.2 -.5-.2 -.5-.2 -.5-.3 -.5-.3 -.3-.3 -.5-.4 -.3-.4 -.4-.4 -.3-.3 -.3-.5 -.3-.5 -.2-.5 -.2-.5 -.2-.6 -.2-.7 0-.7 -.1-.5 0-.8 .1-.4 .1-.8 .2-.5 .1-.6 .3-.5 .3-.5 .2-.4 .3-.5 .4-.5 .3-.3 .5-.4 .3-.3 .4-.3 .6-.3 .4-.3 .6-.2 .4-.2 .8-.2 .5-.1 .7-.1 .8 0 .8 .1 .6 .1 .6 .2 .5 .1 .5 .2 .5 .3 .5 .3 .5 .3 .4 .4 .3 .3 .5 .4 .3 .4 .3 .3 .4 .6 .3 .2 .8 .2 .4-.3 .6-.4 .3-.3 .4-.3 .4-.4 .4-.3 .5-.3 .4-.4 .5-.3 .5-.2 .5-.2 .5-.3 .6-.1 .5-.2 .7-.1 .8 0 .4 .2 .6 .2 .3 .5 0 .8 -.1 .4 -.3 .6 -.4 .4 -.3 .4 -.4 .4 -.4 .3 -.4 .4 -.5 .3 -.4 .2 -.5 .3 -.6 .3 -.6 .2 -.4 .1 -.6 .2 -.7 .2 -.5 .1 -.8 .1 -.4 .2 -.6 .3 -.2 .4 -.2 .6 -.1 .6 -.2 .7 -.1 .5 -.2 .5 -.2 .5 -.2 .5 -.3 .5 -.3 .5 -.4 .5 -.3 .3 -.5 .5 -.3 .2 -.5 .4 -.4 .3 -.6 .2 -.4 .3 -.6 .2 -.4 .1 -.8 .2 -.6 .1 M445.8 169.0l-.6 0 -.7-.2 -.5-.2 -.5-.3 -.3-.3 -.4-.5 -.3-.4 -.2-.6 -.2-.5 0-.8 .1-.7 .2-.5 .2-.5 .4-.5 .2-.3 .6-.3 .4-.3 .6-.2 .7-.1 .7 0 .7 .2 .6 .2 .3 .3 .4 .3 .4 .4 .3 .6 .2 .4 .1 .6 .1 .7 -.1 .5 -.2 .8 -.2 .4 -.3 .5 -.3 .3 -.4 .4 -.6 .3 -.4 .2 -.8 .1 M445.8 153.8l-.6-.1 -.7-.1 -.6-.1 -.7-.2 -.4-.2 -.6-.3 -.4-.3 -.4-.3 -.4-.3 -.4-.4 -.4-.4 -.2-.3 -.3-.6 -.3-.4 -.2-.6 -.2-.6 -.1-.6 -.1-.8 -.1-.4 .1-.6 .1-.7 .1-.5 .2-.8 .3-.4 .2-.6 .3-.4 .2-.3 .5-.5 .3-.3 .5-.4 .4-.3 .4-.2 .5-.3 .6-.3 .6-.1 .5-.1 .7-.1 .8 0 .8 0 .4 .1 .8 .2 .5 .2 .5 .3 .5 .3 .4 .2 .3 .3 .5 .5 .3 .3 .4 .5 .3 .4 .3 .5 .2 .4 .3 .5 .3 .6 0 .6 0 .7 -.1 .5 -.1 .8 -.1 .5 -.2 .7 -.2 .5 -.2 .5 -.3 .5 -.4 .5 -.2 .3 -.4 .5 -.4 .3 -.4 .3 -.5 .4 -.5 .2 -.5 .2 -.5 .2 -.6 .2 -.7 .1 -.7 .1 M457.8 144.5l-.8 .1 -.8 .1 -.7-.2 -.3-.3 0-.7 .3-.5 .3-.4 .3-.4 .4-.4 .4-.3 .3-.3 .6-.3 .4-.3 .6-.2 .4-.2 .6-.2 .7-.1 .7 0 .6 .2 .3 .4 0 .7 -.2 .6 -.4 .4 -.3 .3 -.4 .5 -.4 .2 -.4 .3 -.5 .3 -.5 .3 -.5 .2 -.7 .2 M445.8 167.8l-.6-.1 -.6-.2 -.4-.3 -.4-.4 -.3-.5 -.1-.5 0-.8 .1-.5 .3-.5 .4-.5 .5-.3 .5-.1 .8 0 .7 .1 .4 .3 .4 .4 .3 .3 .2 .7 .1 .6 -.1 .5 -.2 .6 -.4 .4 -.4 .4 -.5 .2 -.6 .2 M446.5 152.8l-.7 0 -.8 0 -.5-.1 -.7-.2 -.6-.2 -.4-.2 -.5-.3 -.4-.3 -.4-.4 -.4-.3 -.3-.6 -.3-.3 -.3-.5 -.2-.6 -.2-.6 -.1-.4 0-.8 0-.8 .1-.4 .1-.8 .2-.5 .3-.5 .3-.5 .3-.5 .2-.3 .5-.5 .4-.2 .4-.3 .5-.3 .5-.2 .6-.2 .7-.2 .7 0 .7 0 .8 .1 .5 .1 .6 .2 .5 .3 .4 .3 .5 .3 .4 .4 .3 .3 .4 .4 .3 .6 .3 .4 .2 .6 .2 .4 .1 .8 .1 .5 -.1 .5 0 .8 -.2 .6 -.2 .6 -.2 .5 -.3 .5 -.3 .4 -.3 .4 -.4 .4 -.3 .3 -.5 .3 -.5 .3 -.5 .3 -.5 .2 -.7 .1 M458.0 143.3l-.5-.1 -.1-.7 .4-.4 .4-.3 .5-.3 .5-.2 .6-.1 .4 .3 -.2 .7 -.3 .3 -.5 .3 -.4 .3 -.6 .1 M446.5 151.8l-.7 0 -.8 0 -.5-.1 -.6-.2 -.6-.3 -.4-.2 -.4-.3 -.5-.5 -.2-.3 -.4-.4 -.2-.5 -.2-.5 -.2-.7 -.1-.6 0-.7 .1-.7 .1-.6 .2-.4 .2-.6 .4-.4 .3-.4 .4-.4 .4-.3 .4-.3 .6-.3 .4-.1 .8-.2 .8 0 .7 0 .7 .2 .6 .2 .4 .2 .5 .4 .3 .2 .5 .5 .3 .3 .3 .4 .2 .6 .2 .4 .2 .8 0 .8 0 .7 -.2 .7 -.1 .6 -.3 .4 -.3 .6 -.3 .3 -.4 .4 -.3 .3 -.6 .4 -.4 .2 -.6 .2 -.5 .2 M446.2 150.8l-.7 0 -.5-.1 -.8-.2 -.4-.2 -.5-.3 -.3-.2 -.5-.6 -.3-.4 -.2-.5 -.2-.5 -.1-.6 0-.7 .1-.5 .2-.7 .2-.5 .3-.4 .3-.4 .4-.4 .6-.3 .4-.2 .6-.2 .7-.1 .7 0 .8 .2 .5 .2 .5 .3 .3 .3 .5 .4 .2 .3 .3 .5 .2 .5 .2 .7 0 .8 -.1 .8 -.2 .4 -.2 .6 -.3 .4 -.4 .5 -.4 .3 -.4 .2 -.5 .3 -.7 .2 M446.8 149.5l-.8 .2 -.8 0 -.5-.2 -.5-.3 -.4-.3 -.4-.4 -.3-.5 -.2-.5 -.1-.7 .1-.8 .2-.5 .3-.5 .4-.3 .4-.4 .6-.2 .4-.2 .8 0 .5 .1 .6 .2 .4 .3 .5 .5 .2 .4 .3 .6 .1 .5 0 .7 -.2 .6 -.2 .4 -.4 .6 -.3 .3 -.5 .3" fill="none" stroke="#1a1a1a" stroke-width="0.6"/>
<text x="433.1" y="100.3" font-size="8" fill="#111" text-anchor="start" font-weight="normal" stroke="#111" stroke-width="0.18" >Expansion</text>
<text x="439.8" y="187.4" font-size="8.1" fill="#111" text-anchor="start" font-weight="normal" stroke="#111" stroke-width="0.18" >KIR2DL3 (180701)</text>
<text x="221.3" y="214.3" font-size="11" fill="#000" text-anchor="start" font-weight="bold" >D</text>
<rect x="256.8" y="222.3" width="84.5" height="70.7" fill="none" stroke="#888" stroke-width="0.7" />
<line x1="255.3" y1="291.9" x2="256.8" y2="291.9" stroke="#666" stroke-width="0.6" />
<text x="253.6" y="294.46" font-size="7.1" fill="#222" text-anchor="end" font-weight="normal" stroke="#222" stroke-width="0.16" >0</text>
<line x1="255.3" y1="278.44" x2="256.8" y2="278.44" stroke="#666" stroke-width="0.6" />
<text x="253.6" y="281" font-size="7.1" fill="#222" text-anchor="end" font-weight="normal" stroke="#222" stroke-width="0.16" >20</text>
<line x1="255.3" y1="264.98" x2="256.8" y2="264.98" stroke="#666" stroke-width="0.6" />
<text x="253.6" y="267.54" font-size="7.1" fill="#222" text-anchor="end" font-weight="normal" stroke="#222" stroke-width="0.16" >40</text>
<line x1="255.3" y1="251.52" x2="256.8" y2="251.52" stroke="#666" stroke-width="0.6" />
<text x="253.6" y="254.08" font-size="7.1" fill="#222" text-anchor="end" font-weight="normal" stroke="#222" stroke-width="0.16" >60</text>
<line x1="255.3" y1="238.06" x2="256.8" y2="238.06" stroke="#666" stroke-width="0.6" />
<text x="253.6" y="240.62" font-size="7.1" fill="#222" text-anchor="end" font-weight="normal" stroke="#222" stroke-width="0.16" >80</text>
<line x1="255.3" y1="224.6" x2="256.8" y2="224.6" stroke="#666" stroke-width="0.6" />
<text x="253.6" y="227.16" font-size="7.1" fill="#222" text-anchor="end" font-weight="normal" stroke="#222" stroke-width="0.16" >100</text>
<line x1="265.25" y1="293" x2="265.25" y2="294.2" stroke="#999" stroke-width="0.5" />
<line x1="273.7" y1="293" x2="273.7" y2="294.2" stroke="#999" stroke-width="0.5" />
<line x1="282.15" y1="293" x2="282.15" y2="294.2" stroke="#999" stroke-width="0.5" />
<line x1="290.6" y1="293" x2="290.6" y2="294.2" stroke="#999" stroke-width="0.5" />
<line x1="299.05" y1="293" x2="299.05" y2="294.2" stroke="#999" stroke-width="0.5" />
<line x1="307.5" y1="293" x2="307.5" y2="294.2" stroke="#999" stroke-width="0.5" />
<line x1="315.95" y1="293" x2="315.95" y2="294.2" stroke="#999" stroke-width="0.5" />
<line x1="324.4" y1="293" x2="324.4" y2="294.2" stroke="#999" stroke-width="0.5" />
<line x1="332.85" y1="293" x2="332.85" y2="294.2" stroke="#999" stroke-width="0.5" />
<polygon points="264,292.6 267,290 269.5,285 271.5,275 273,262 274.5,247 276,235 277.3,228.5 278.6,230 280,238 281.5,252 283,266 284.5,279 286,288 287.5,292.6" fill="#e6e6e6" stroke="#d2d2d2" stroke-width="0.5"/>
<polyline points="258,292.6 260,291.2 261.9,286.6 263.2,278.7 263.9,275.4 265.2,276.1 266.5,270.8 267.8,269.5 269.2,270.8 270.5,265.5 271.1,259.5 271.8,256.2 273.1,254.9 274.4,250.3 275.1,242.4 275.7,239.7 277,239.7 277.7,231.8 278.4,226.3 279,230.5 279.4,237.1 280,242 281,238.4 282.3,237.1 283.6,239.1 284.9,241.1 286.3,241.1 287.6,239.7 288.9,240.4 290,238.4 290.9,237.1 291.5,235.8 292.8,235.8 294.2,234.5 294.8,233.2 295.5,235.8 296.1,239.7 297.1,242.4 298.1,247.6 299.4,254.2 300.1,258.2 300.7,268.2 302,276.1 302.7,282.6 303.6,287.9 304.7,291.2 306,292.6" stroke="#1616c4" stroke-width="1.8" fill="none" stroke-linejoin="round" />
<polyline points="258,292.6 260,291.8 262.6,289.9 265.2,287.9 267.8,285.3 270.5,281.3 272.4,279.3 274.4,274.7 275.7,270.8 277,268.2 278.4,264.2 279.7,261.6 281,258.9 282.3,254.2 283.6,250.3 284.9,248.9 286.3,245 287.6,239.7 288.2,235.8 288.9,231.8 289.6,227.9 290.5,226.3 291.3,229.9 292.2,233.2 293.5,238.4 294.4,246.3 295.5,260 296.8,273.4 298.1,281.3 299.4,286.6 301.4,290.5 303.4,292.6 341.3,292.6" stroke="#e2201c" stroke-width="1.8" fill="none" stroke-linejoin="round" />
<text x="257.3" y="219" font-size="9.4" fill="#111" text-anchor="start" font-weight="normal" stroke="#111" stroke-width="0.21" >donor #046</text>
<text x="0" y="0" font-size="10.15" fill="#111" stroke="#111" stroke-width="0.22" text-anchor="middle" dominant-baseline="central" transform="translate(232.55,258.2) rotate(-90)">% of max</text>
<text x="283.4" y="302.4" font-size="9.25" fill="#111" text-anchor="start" font-weight="normal" stroke="#111" stroke-width="0.2" >KIR3DS1</text>
<rect x="363.1" y="222.4" width="83.5" height="70.5" fill="none" stroke="#888" stroke-width="0.7" />
<line x1="361.6" y1="292.4" x2="363.1" y2="292.4" stroke="#666" stroke-width="0.6" />
<text x="360.4" y="294.56" font-size="6.0" fill="#222" text-anchor="end" font-weight="normal" stroke="#222" stroke-width="0.13" >0</text>
<line x1="361.6" y1="278.96" x2="363.1" y2="278.96" stroke="#666" stroke-width="0.6" />
<text x="360.4" y="281.12" font-size="6.0" fill="#222" text-anchor="end" font-weight="normal" stroke="#222" stroke-width="0.13" >20</text>
<line x1="361.6" y1="265.52" x2="363.1" y2="265.52" stroke="#666" stroke-width="0.6" />
<text x="360.4" y="267.68" font-size="6.0" fill="#222" text-anchor="end" font-weight="normal" stroke="#222" stroke-width="0.13" >40</text>
<line x1="361.6" y1="252.08" x2="363.1" y2="252.08" stroke="#666" stroke-width="0.6" />
<text x="360.4" y="254.24" font-size="6.0" fill="#222" text-anchor="end" font-weight="normal" stroke="#222" stroke-width="0.13" >60</text>
<line x1="361.6" y1="238.64" x2="363.1" y2="238.64" stroke="#666" stroke-width="0.6" />
<text x="360.4" y="240.8" font-size="6.0" fill="#222" text-anchor="end" font-weight="normal" stroke="#222" stroke-width="0.13" >80</text>
<line x1="361.6" y1="225.2" x2="363.1" y2="225.2" stroke="#666" stroke-width="0.6" />
<text x="360.4" y="227.36" font-size="6.0" fill="#222" text-anchor="end" font-weight="normal" stroke="#222" stroke-width="0.13" >100</text>
<line x1="371.45" y1="292.9" x2="371.45" y2="294.1" stroke="#999" stroke-width="0.5" />
<line x1="379.8" y1="292.9" x2="379.8" y2="294.1" stroke="#999" stroke-width="0.5" />
<line x1="388.15" y1="292.9" x2="388.15" y2="294.1" stroke="#999" stroke-width="0.5" />
<line x1="396.5" y1="292.9" x2="396.5" y2="294.1" stroke="#999" stroke-width="0.5" />
<line x1="404.85" y1="292.9" x2="404.85" y2="294.1" stroke="#999" stroke-width="0.5" />
<line x1="413.2" y1="292.9" x2="413.2" y2="294.1" stroke="#999" stroke-width="0.5" />
<line x1="421.55" y1="292.9" x2="421.55" y2="294.1" stroke="#999" stroke-width="0.5" />
<line x1="429.9" y1="292.9" x2="429.9" y2="294.1" stroke="#999" stroke-width="0.5" />
<line x1="438.25" y1="292.9" x2="438.25" y2="294.1" stroke="#999" stroke-width="0.5" />
<polygon points="366,293 369,290 371.5,283 373.5,270 375.5,255 377.5,240 379.5,232 381,231 382.5,236 384,244 386,251 388,256 389.5,264 391,278 392.5,289 394,293" fill="#e6e6e6" stroke="#d2d2d2" stroke-width="0.5"/>
<polyline points="363.3,292.6 364,292.3 365.9,290.5 367.9,286.6 369.2,281.3 370.5,276.1 371.8,269.5 373.2,261.6 374.2,255 375.1,252.9 376.4,247 377.8,242.4 379.1,239.7 379.7,235.8 381,234.5 382.4,231.8 383.4,229.9 384.3,233.2 385,231.8 386.3,230.5 387.6,226.8 388.3,229.9 388.9,231.8 390.3,235.8 391.6,241.1 392.9,246.3 393.6,248.9 394.2,251.6 394.9,255.5 396.2,262.9 397.5,266.8 398.8,272.1 400.1,278.7 401.4,285.3 402.8,289.9 404.7,292.6" stroke="#1616c4" stroke-width="1.8" fill="none" stroke-linejoin="round" />
<polyline points="363.4,292.6 364.6,292.5 367.9,289.9 370.5,285.3 373.2,280 375.8,274.7 378.4,270.1 380.4,265.5 381.7,260.3 382.1,251.6 383,249.6 383.7,255.5 385,250.3 385.7,245 386.3,241.1 387.6,239.1 388.9,239.7 389.6,237.1 390.5,234.5 391.6,230.5 392.6,226.8 393.6,231.8 394.2,235.8 394.9,233.2 395.5,234.5 396.8,237.1 398.2,246.3 399.5,262.9 400.8,272.1 402.1,280 403.4,286.6 404.7,290.5 406.7,292.6 446.6,292.6" stroke="#e2201c" stroke-width="1.8" fill="none" stroke-linejoin="round" />
<text x="363.4" y="218.4" font-size="9.4" fill="#111" text-anchor="start" font-weight="normal" stroke="#111" stroke-width="0.21" >donor #050</text>
<text x="0" y="0" font-size="9.25" fill="#111" stroke="#111" stroke-width="0.2" text-anchor="middle" dominant-baseline="central" transform="translate(346.7,255) rotate(-90)">% of max</text>
<text x="387.6" y="302.4" font-size="9.25" fill="#111" text-anchor="start" font-weight="normal" stroke="#111" stroke-width="0.2" >KIR3DS1</text>
<rect x="451.8" y="237.8" width="10.4" height="6.4" fill="#dedede" stroke="#d0d0d0" stroke-width="0.6" />
<text x="465" y="244.6" font-size="9.2" fill="#111" text-anchor="start" font-weight="normal" stroke="#111" stroke-width="0.2" >FMO</text>
<rect x="452.2" y="253" width="9.8" height="6.8" fill="none" stroke="#2430b0" stroke-width="1.4" />
<text x="465" y="260.2" font-size="9.2" fill="#111" text-anchor="start" font-weight="normal" stroke="#111" stroke-width="0.2" >NKG2C- bulk</text>
<rect x="452.2" y="269.6" width="9.8" height="6.8" fill="none" stroke="#cc4a34" stroke-width="1.3" />
<text x="465" y="276" font-size="9.2" fill="#111" text-anchor="start" font-weight="normal" stroke="#111" stroke-width="0.2" >expansion</text>
</svg></body></html>
